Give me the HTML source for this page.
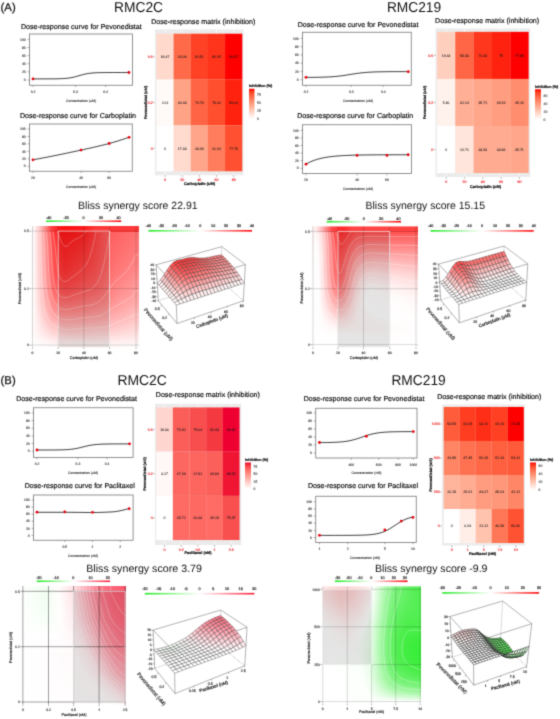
<!DOCTYPE html><html><head><meta charset="utf-8"><style>html,body{margin:0;padding:0;background:#fff;width:560px;height:719px;overflow:hidden}svg{display:block;font-family:"Liberation Sans",sans-serif;will-change:transform;text-rendering:geometricPrecision}</style></head><body><svg width="560" height="719" viewBox="0 0 560 719"><defs><linearGradient id="g0" x1="0" y1="0" x2="0" y2="1"><stop offset="0" stop-color="#ff0000"/><stop offset="0.1" stop-color="#ff3e22"/><stop offset="0.2" stop-color="#ff5b3a"/><stop offset="0.3" stop-color="#ff7352"/><stop offset="0.4" stop-color="#ff8969"/><stop offset="0.5" stop-color="#ff9e81"/><stop offset="0.6" stop-color="#ffb299"/><stop offset="0.7" stop-color="#ffc6b2"/><stop offset="0.8" stop-color="#ffd9cb"/><stop offset="0.9" stop-color="#ffece5"/><stop offset="1" stop-color="#ffffff"/></linearGradient><linearGradient id="g1" x1="0" y1="0" x2="0" y2="1"><stop offset="0" stop-color="#ff0000"/><stop offset="0.1" stop-color="#ff3e22"/><stop offset="0.2" stop-color="#ff5b3a"/><stop offset="0.3" stop-color="#ff7352"/><stop offset="0.4" stop-color="#ff8969"/><stop offset="0.5" stop-color="#ff9e81"/><stop offset="0.6" stop-color="#ffb299"/><stop offset="0.7" stop-color="#ffc6b2"/><stop offset="0.8" stop-color="#ffd9cb"/><stop offset="0.9" stop-color="#ffece5"/><stop offset="1" stop-color="#ffffff"/></linearGradient><linearGradient id="g2" x1="0" y1="0" x2="0" y2="1"><stop offset="0" stop-color="#ee0030"/><stop offset="0.1" stop-color="#f53b42"/><stop offset="0.2" stop-color="#fa5855"/><stop offset="0.3" stop-color="#ff7169"/><stop offset="0.4" stop-color="#ff877d"/><stop offset="0.5" stop-color="#ff9c91"/><stop offset="0.6" stop-color="#ffb0a7"/><stop offset="0.7" stop-color="#ffc4bc"/><stop offset="0.8" stop-color="#ffd8d2"/><stop offset="0.9" stop-color="#ffebe8"/><stop offset="1" stop-color="#ffffff"/></linearGradient><linearGradient id="g3" x1="0" y1="0" x2="0" y2="1"><stop offset="0" stop-color="#ff0000"/><stop offset="0.1" stop-color="#ff3e22"/><stop offset="0.2" stop-color="#ff5b3a"/><stop offset="0.3" stop-color="#ff7352"/><stop offset="0.4" stop-color="#ff8969"/><stop offset="0.5" stop-color="#ff9e81"/><stop offset="0.6" stop-color="#ffb299"/><stop offset="0.7" stop-color="#ffc6b2"/><stop offset="0.8" stop-color="#ffd9cb"/><stop offset="0.9" stop-color="#ffece5"/><stop offset="1" stop-color="#ffffff"/></linearGradient><linearGradient id="lb4" x1="0" x2="1" y1="0" y2="0"><stop offset="0%" stop-color="#1eea1e"/><stop offset="2.5%" stop-color="#29eb29"/><stop offset="5%" stop-color="#34ec34"/><stop offset="7.5%" stop-color="#40ed40"/><stop offset="10%" stop-color="#4bee4b"/><stop offset="12.5%" stop-color="#56ef56"/><stop offset="15%" stop-color="#62f062"/><stop offset="17.5%" stop-color="#6df16d"/><stop offset="20%" stop-color="#78f278"/><stop offset="22.5%" stop-color="#83f383"/><stop offset="25%" stop-color="#8ef48e"/><stop offset="27.5%" stop-color="#9af69a"/><stop offset="30%" stop-color="#a5f7a5"/><stop offset="32.5%" stop-color="#b0f8b0"/><stop offset="35%" stop-color="#bcf9bc"/><stop offset="37.5%" stop-color="#c7fac7"/><stop offset="40%" stop-color="#d2fbd2"/><stop offset="42.5%" stop-color="#ddfcdd"/><stop offset="45%" stop-color="#e8fde8"/><stop offset="47.5%" stop-color="#f4fef4"/><stop offset="50%" stop-color="#ffffff"/><stop offset="52.5%" stop-color="#fff2f2"/><stop offset="55%" stop-color="#ffe5e5"/><stop offset="57.5%" stop-color="#ffd9d9"/><stop offset="60%" stop-color="#ffcccc"/><stop offset="62.5%" stop-color="#ffbfbf"/><stop offset="65%" stop-color="#ffb2b2"/><stop offset="67.5%" stop-color="#ffa6a6"/><stop offset="70%" stop-color="#ff9999"/><stop offset="72.5%" stop-color="#ff8c8c"/><stop offset="75%" stop-color="#ff8080"/><stop offset="77.5%" stop-color="#ff7373"/><stop offset="80%" stop-color="#ff6666"/><stop offset="82.5%" stop-color="#ff5959"/><stop offset="85%" stop-color="#ff4c4c"/><stop offset="87.5%" stop-color="#ff4040"/><stop offset="90%" stop-color="#ff3333"/><stop offset="92.5%" stop-color="#ff2626"/><stop offset="95%" stop-color="#ff1a1a"/><stop offset="97.5%" stop-color="#ff0d0d"/><stop offset="100%" stop-color="#ff0000"/></linearGradient><clipPath id="c5"><rect x="31" y="226" width="108" height="121.5"/></clipPath><linearGradient id="r6" gradientUnits="userSpaceOnUse" x1="31" x2="139" y1="0" y2="0"><stop offset="0%" stop-color="#ffffff"/><stop offset="2.8%" stop-color="#fff7f7"/><stop offset="7.4%" stop-color="#ffcfcf"/><stop offset="14.8%" stop-color="#ff7878"/><stop offset="19.4%" stop-color="#ff3939"/><stop offset="21.3%" stop-color="#ff3737"/><stop offset="25.9%" stop-color="#ff1a1a"/><stop offset="31.5%" stop-color="#ff1212"/><stop offset="50%" stop-color="#ff1d1d"/><stop offset="59.3%" stop-color="#ff3939"/><stop offset="100%" stop-color="#ff3939"/></linearGradient><linearGradient id="r7" gradientUnits="userSpaceOnUse" x1="31" x2="139" y1="0" y2="0"><stop offset="0%" stop-color="#ffffff"/><stop offset="2.8%" stop-color="#fff7f7"/><stop offset="7.4%" stop-color="#ffcfcf"/><stop offset="14.8%" stop-color="#ff7878"/><stop offset="19.4%" stop-color="#ff3939"/><stop offset="21.3%" stop-color="#ff3737"/><stop offset="25.9%" stop-color="#ff1a1a"/><stop offset="31.5%" stop-color="#ff1212"/><stop offset="50%" stop-color="#ff1d1d"/><stop offset="59.3%" stop-color="#ff3939"/><stop offset="100%" stop-color="#ff3939"/></linearGradient><linearGradient id="r8" gradientUnits="userSpaceOnUse" x1="31" x2="139" y1="0" y2="0"><stop offset="0%" stop-color="#ffffff"/><stop offset="2.8%" stop-color="#fff7f7"/><stop offset="7.4%" stop-color="#ffcfcf"/><stop offset="14.8%" stop-color="#ff7878"/><stop offset="19.4%" stop-color="#ff3939"/><stop offset="21.3%" stop-color="#ff3737"/><stop offset="25.9%" stop-color="#ff1a1a"/><stop offset="31.5%" stop-color="#ff1212"/><stop offset="50%" stop-color="#ff1d1d"/><stop offset="59.3%" stop-color="#ff3939"/><stop offset="100%" stop-color="#ff3939"/></linearGradient><linearGradient id="r9" gradientUnits="userSpaceOnUse" x1="31" x2="139" y1="0" y2="0"><stop offset="0%" stop-color="#ffffff"/><stop offset="2.8%" stop-color="#fff7f7"/><stop offset="8.3%" stop-color="#ffc6c6"/><stop offset="20.4%" stop-color="#ff4242"/><stop offset="25%" stop-color="#ff2121"/><stop offset="29.6%" stop-color="#ff1414"/><stop offset="50%" stop-color="#ff2020"/><stop offset="68.5%" stop-color="#ff5858"/><stop offset="82.4%" stop-color="#ff6868"/><stop offset="100%" stop-color="#ff7474"/></linearGradient><linearGradient id="r10" gradientUnits="userSpaceOnUse" x1="31" x2="139" y1="0" y2="0"><stop offset="0%" stop-color="#ffffff"/><stop offset="2.8%" stop-color="#fff7f7"/><stop offset="8.3%" stop-color="#ffc7c7"/><stop offset="20.4%" stop-color="#ff4545"/><stop offset="25%" stop-color="#ff2323"/><stop offset="29.6%" stop-color="#ff1717"/><stop offset="50%" stop-color="#ff2323"/><stop offset="69.4%" stop-color="#ff5a5a"/><stop offset="85.2%" stop-color="#ff6b6b"/><stop offset="100%" stop-color="#ff7474"/></linearGradient><linearGradient id="r11" gradientUnits="userSpaceOnUse" x1="31" x2="139" y1="0" y2="0"><stop offset="0%" stop-color="#ffffff"/><stop offset="2.8%" stop-color="#fff7f7"/><stop offset="8.3%" stop-color="#ffc7c7"/><stop offset="20.4%" stop-color="#ff4747"/><stop offset="25%" stop-color="#ff2626"/><stop offset="29.6%" stop-color="#ff1919"/><stop offset="50%" stop-color="#ff2525"/><stop offset="69.4%" stop-color="#ff5b5b"/><stop offset="86.1%" stop-color="#ff6c6c"/><stop offset="100%" stop-color="#ff7575"/></linearGradient><linearGradient id="r12" gradientUnits="userSpaceOnUse" x1="31" x2="139" y1="0" y2="0"><stop offset="0%" stop-color="#ffffff"/><stop offset="2.8%" stop-color="#fff7f7"/><stop offset="8.3%" stop-color="#ffc8c8"/><stop offset="20.4%" stop-color="#ff4949"/><stop offset="25%" stop-color="#ff2828"/><stop offset="29.6%" stop-color="#ff1b1b"/><stop offset="49.1%" stop-color="#ff2626"/><stop offset="71.3%" stop-color="#ff5f5f"/><stop offset="98.1%" stop-color="#ff7676"/><stop offset="100%" stop-color="#ff7676"/></linearGradient><linearGradient id="r13" gradientUnits="userSpaceOnUse" x1="31" x2="139" y1="0" y2="0"><stop offset="0%" stop-color="#ffffff"/><stop offset="2.8%" stop-color="#fff7f7"/><stop offset="8.3%" stop-color="#ffc8c8"/><stop offset="20.4%" stop-color="#ff4b4b"/><stop offset="25%" stop-color="#ff2a2a"/><stop offset="29.6%" stop-color="#ff1d1d"/><stop offset="49.1%" stop-color="#ff2828"/><stop offset="71.3%" stop-color="#ff5f5f"/><stop offset="98.1%" stop-color="#ff7777"/><stop offset="100%" stop-color="#ff7777"/></linearGradient><linearGradient id="r14" gradientUnits="userSpaceOnUse" x1="31" x2="139" y1="0" y2="0"><stop offset="0%" stop-color="#ffffff"/><stop offset="2.8%" stop-color="#fff7f7"/><stop offset="8.3%" stop-color="#ffc8c8"/><stop offset="20.4%" stop-color="#ff4c4c"/><stop offset="25%" stop-color="#ff2c2c"/><stop offset="29.6%" stop-color="#ff1f1f"/><stop offset="47.2%" stop-color="#ff2828"/><stop offset="61.1%" stop-color="#ff4949"/><stop offset="75.9%" stop-color="#ff6666"/><stop offset="100%" stop-color="#ff7878"/></linearGradient><linearGradient id="r15" gradientUnits="userSpaceOnUse" x1="31" x2="139" y1="0" y2="0"><stop offset="0%" stop-color="#ffffff"/><stop offset="2.8%" stop-color="#fff7f7"/><stop offset="8.3%" stop-color="#ffc9c9"/><stop offset="20.4%" stop-color="#ff4e4e"/><stop offset="25%" stop-color="#ff2e2e"/><stop offset="30.6%" stop-color="#ff1f1f"/><stop offset="50%" stop-color="#ff2e2e"/><stop offset="73.1%" stop-color="#ff6363"/><stop offset="100%" stop-color="#ff7a7a"/></linearGradient><linearGradient id="r16" gradientUnits="userSpaceOnUse" x1="31" x2="139" y1="0" y2="0"><stop offset="0%" stop-color="#ffffff"/><stop offset="2.8%" stop-color="#fff7f7"/><stop offset="9.3%" stop-color="#ffc0c0"/><stop offset="20.4%" stop-color="#ff4f4f"/><stop offset="25%" stop-color="#ff3030"/><stop offset="30.6%" stop-color="#ff2121"/><stop offset="50%" stop-color="#ff3030"/><stop offset="74.1%" stop-color="#ff6565"/><stop offset="100%" stop-color="#ff7b7b"/></linearGradient><linearGradient id="r17" gradientUnits="userSpaceOnUse" x1="31" x2="139" y1="0" y2="0"><stop offset="0%" stop-color="#ffffff"/><stop offset="2.8%" stop-color="#fff7f7"/><stop offset="9.3%" stop-color="#ffc0c0"/><stop offset="20.4%" stop-color="#ff5151"/><stop offset="25%" stop-color="#ff3131"/><stop offset="30.6%" stop-color="#ff2222"/><stop offset="49.1%" stop-color="#ff3030"/><stop offset="75%" stop-color="#ff6767"/><stop offset="100%" stop-color="#ff7c7c"/></linearGradient><linearGradient id="r18" gradientUnits="userSpaceOnUse" x1="31" x2="139" y1="0" y2="0"><stop offset="0%" stop-color="#ffffff"/><stop offset="2.8%" stop-color="#fff7f7"/><stop offset="9.3%" stop-color="#ffc1c1"/><stop offset="20.4%" stop-color="#ff5252"/><stop offset="25%" stop-color="#ff3232"/><stop offset="30.6%" stop-color="#ff2424"/><stop offset="49.1%" stop-color="#ff3232"/><stop offset="75.9%" stop-color="#ff6969"/><stop offset="100%" stop-color="#ff7d7d"/></linearGradient><linearGradient id="r19" gradientUnits="userSpaceOnUse" x1="31" x2="139" y1="0" y2="0"><stop offset="0%" stop-color="#ffffff"/><stop offset="2.8%" stop-color="#fff7f7"/><stop offset="9.3%" stop-color="#ffc1c1"/><stop offset="20.4%" stop-color="#ff5353"/><stop offset="25.9%" stop-color="#ff3030"/><stop offset="31.5%" stop-color="#ff2525"/><stop offset="50.9%" stop-color="#ff3737"/><stop offset="75.9%" stop-color="#ff6a6a"/><stop offset="100%" stop-color="#ff7e7e"/></linearGradient><linearGradient id="r20" gradientUnits="userSpaceOnUse" x1="31" x2="139" y1="0" y2="0"><stop offset="0%" stop-color="#ffffff"/><stop offset="2.8%" stop-color="#fff7f7"/><stop offset="9.3%" stop-color="#ffc1c1"/><stop offset="20.4%" stop-color="#ff5454"/><stop offset="25.9%" stop-color="#ff3131"/><stop offset="31.5%" stop-color="#ff2626"/><stop offset="50.9%" stop-color="#ff3838"/><stop offset="76.9%" stop-color="#ff6c6c"/><stop offset="100%" stop-color="#ff8080"/></linearGradient><linearGradient id="r21" gradientUnits="userSpaceOnUse" x1="31" x2="139" y1="0" y2="0"><stop offset="0%" stop-color="#ffffff"/><stop offset="2.8%" stop-color="#fff7f7"/><stop offset="9.3%" stop-color="#ffc2c2"/><stop offset="20.4%" stop-color="#ff5555"/><stop offset="25.9%" stop-color="#ff3232"/><stop offset="31.5%" stop-color="#ff2727"/><stop offset="51.9%" stop-color="#ff3b3b"/><stop offset="76.9%" stop-color="#ff6d6d"/><stop offset="100%" stop-color="#ff8181"/></linearGradient><linearGradient id="r22" gradientUnits="userSpaceOnUse" x1="31" x2="139" y1="0" y2="0"><stop offset="0%" stop-color="#ffffff"/><stop offset="2.8%" stop-color="#fff7f7"/><stop offset="9.3%" stop-color="#ffc2c2"/><stop offset="20.4%" stop-color="#ff5656"/><stop offset="25.9%" stop-color="#ff3333"/><stop offset="31.5%" stop-color="#ff2929"/><stop offset="52.8%" stop-color="#ff3e3e"/><stop offset="76.9%" stop-color="#ff6e6e"/><stop offset="100%" stop-color="#ff8282"/></linearGradient><linearGradient id="r23" gradientUnits="userSpaceOnUse" x1="31" x2="139" y1="0" y2="0"><stop offset="0%" stop-color="#ffffff"/><stop offset="2.8%" stop-color="#fff7f7"/><stop offset="9.3%" stop-color="#ffc3c3"/><stop offset="20.4%" stop-color="#ff5757"/><stop offset="25.9%" stop-color="#ff3535"/><stop offset="31.5%" stop-color="#ff2a2a"/><stop offset="53.7%" stop-color="#ff4141"/><stop offset="77.8%" stop-color="#ff7070"/><stop offset="100%" stop-color="#ff8484"/></linearGradient><linearGradient id="r24" gradientUnits="userSpaceOnUse" x1="31" x2="139" y1="0" y2="0"><stop offset="0%" stop-color="#ffffff"/><stop offset="2.8%" stop-color="#fff7f7"/><stop offset="9.3%" stop-color="#ffc3c3"/><stop offset="20.4%" stop-color="#ff5858"/><stop offset="25.9%" stop-color="#ff3636"/><stop offset="31.5%" stop-color="#ff2c2c"/><stop offset="54.6%" stop-color="#ff4444"/><stop offset="77.8%" stop-color="#ff7171"/><stop offset="100%" stop-color="#ff8585"/></linearGradient><linearGradient id="r25" gradientUnits="userSpaceOnUse" x1="31" x2="139" y1="0" y2="0"><stop offset="0%" stop-color="#ffffff"/><stop offset="2.8%" stop-color="#fff7f7"/><stop offset="9.3%" stop-color="#ffc3c3"/><stop offset="20.4%" stop-color="#ff5959"/><stop offset="25.9%" stop-color="#ff3737"/><stop offset="31.5%" stop-color="#ff2d2d"/><stop offset="55.6%" stop-color="#ff4747"/><stop offset="77.8%" stop-color="#ff7272"/><stop offset="100%" stop-color="#ff8787"/></linearGradient><linearGradient id="r26" gradientUnits="userSpaceOnUse" x1="31" x2="139" y1="0" y2="0"><stop offset="0%" stop-color="#ffffff"/><stop offset="2.8%" stop-color="#fff7f7"/><stop offset="9.3%" stop-color="#ffc4c4"/><stop offset="20.4%" stop-color="#ff5a5a"/><stop offset="25.9%" stop-color="#ff3939"/><stop offset="31.5%" stop-color="#ff2f2f"/><stop offset="56.5%" stop-color="#ff4a4a"/><stop offset="77.8%" stop-color="#ff7474"/><stop offset="100%" stop-color="#ff8888"/></linearGradient><linearGradient id="r27" gradientUnits="userSpaceOnUse" x1="31" x2="139" y1="0" y2="0"><stop offset="0%" stop-color="#ffffff"/><stop offset="2.8%" stop-color="#fff8f8"/><stop offset="9.3%" stop-color="#ffc4c4"/><stop offset="20.4%" stop-color="#ff5b5b"/><stop offset="25.9%" stop-color="#ff3a3a"/><stop offset="31.5%" stop-color="#ff3131"/><stop offset="57.4%" stop-color="#ff4d4d"/><stop offset="77.8%" stop-color="#ff7575"/><stop offset="100%" stop-color="#ff8a8a"/></linearGradient><linearGradient id="r28" gradientUnits="userSpaceOnUse" x1="31" x2="139" y1="0" y2="0"><stop offset="0%" stop-color="#ffffff"/><stop offset="2.8%" stop-color="#fff8f8"/><stop offset="9.3%" stop-color="#ffc5c5"/><stop offset="20.4%" stop-color="#ff5d5d"/><stop offset="25.9%" stop-color="#ff3c3c"/><stop offset="31.5%" stop-color="#ff3333"/><stop offset="58.3%" stop-color="#ff5050"/><stop offset="77.8%" stop-color="#ff7676"/><stop offset="100%" stop-color="#ff8c8c"/></linearGradient><linearGradient id="r29" gradientUnits="userSpaceOnUse" x1="31" x2="139" y1="0" y2="0"><stop offset="0%" stop-color="#ffffff"/><stop offset="2.8%" stop-color="#fff8f8"/><stop offset="9.3%" stop-color="#ffc5c5"/><stop offset="20.4%" stop-color="#ff5e5e"/><stop offset="25.9%" stop-color="#ff3e3e"/><stop offset="31.5%" stop-color="#ff3535"/><stop offset="59.3%" stop-color="#ff5353"/><stop offset="77.8%" stop-color="#ff7878"/><stop offset="100%" stop-color="#ff8d8d"/></linearGradient><linearGradient id="r30" gradientUnits="userSpaceOnUse" x1="31" x2="139" y1="0" y2="0"><stop offset="0%" stop-color="#ffffff"/><stop offset="2.8%" stop-color="#fff8f8"/><stop offset="9.3%" stop-color="#ffc6c6"/><stop offset="20.4%" stop-color="#ff5f5f"/><stop offset="25.9%" stop-color="#ff3f3f"/><stop offset="31.5%" stop-color="#ff3737"/><stop offset="59.3%" stop-color="#ff5555"/><stop offset="77.8%" stop-color="#ff7979"/><stop offset="96.3%" stop-color="#ff8d8d"/><stop offset="100%" stop-color="#ff8f8f"/></linearGradient><linearGradient id="r31" gradientUnits="userSpaceOnUse" x1="31" x2="139" y1="0" y2="0"><stop offset="0%" stop-color="#ffffff"/><stop offset="2.8%" stop-color="#fff8f8"/><stop offset="9.3%" stop-color="#ffc6c6"/><stop offset="20.4%" stop-color="#ff6161"/><stop offset="25.9%" stop-color="#ff4141"/><stop offset="31.5%" stop-color="#ff3a3a"/><stop offset="60.2%" stop-color="#ff5858"/><stop offset="77.8%" stop-color="#ff7b7b"/><stop offset="96.3%" stop-color="#ff8f8f"/><stop offset="100%" stop-color="#ff9191"/></linearGradient><linearGradient id="r32" gradientUnits="userSpaceOnUse" x1="31" x2="139" y1="0" y2="0"><stop offset="0%" stop-color="#ffffff"/><stop offset="2.8%" stop-color="#fff8f8"/><stop offset="9.3%" stop-color="#ffc7c7"/><stop offset="20.4%" stop-color="#ff6363"/><stop offset="25.9%" stop-color="#ff4444"/><stop offset="31.5%" stop-color="#ff3c3c"/><stop offset="60.2%" stop-color="#ff5a5a"/><stop offset="77.8%" stop-color="#ff7d7d"/><stop offset="96.3%" stop-color="#ff9191"/><stop offset="100%" stop-color="#ff9393"/></linearGradient><linearGradient id="r33" gradientUnits="userSpaceOnUse" x1="31" x2="139" y1="0" y2="0"><stop offset="0%" stop-color="#ffffff"/><stop offset="2.8%" stop-color="#fff8f8"/><stop offset="9.3%" stop-color="#ffc7c7"/><stop offset="20.4%" stop-color="#ff6565"/><stop offset="25.9%" stop-color="#ff4646"/><stop offset="31.5%" stop-color="#ff3f3f"/><stop offset="61.1%" stop-color="#ff5d5d"/><stop offset="77.8%" stop-color="#ff7f7f"/><stop offset="96.3%" stop-color="#ff9393"/><stop offset="100%" stop-color="#ff9595"/></linearGradient><linearGradient id="r34" gradientUnits="userSpaceOnUse" x1="31" x2="139" y1="0" y2="0"><stop offset="0%" stop-color="#ffffff"/><stop offset="2.8%" stop-color="#fff8f8"/><stop offset="9.3%" stop-color="#ffc8c8"/><stop offset="20.4%" stop-color="#ff6767"/><stop offset="25.9%" stop-color="#ff4949"/><stop offset="31.5%" stop-color="#ff4242"/><stop offset="61.1%" stop-color="#ff6060"/><stop offset="77.8%" stop-color="#ff8080"/><stop offset="96.3%" stop-color="#ff9595"/><stop offset="100%" stop-color="#ff9797"/></linearGradient><linearGradient id="r35" gradientUnits="userSpaceOnUse" x1="31" x2="139" y1="0" y2="0"><stop offset="0%" stop-color="#ffffff"/><stop offset="2.8%" stop-color="#fff8f8"/><stop offset="9.3%" stop-color="#ffc8c8"/><stop offset="20.4%" stop-color="#ff6969"/><stop offset="25.9%" stop-color="#ff4c4c"/><stop offset="32.4%" stop-color="#ff4545"/><stop offset="61.1%" stop-color="#ff6262"/><stop offset="77.8%" stop-color="#ff8383"/><stop offset="96.3%" stop-color="#ff9797"/><stop offset="100%" stop-color="#ff9999"/></linearGradient><linearGradient id="r36" gradientUnits="userSpaceOnUse" x1="31" x2="139" y1="0" y2="0"><stop offset="0%" stop-color="#ffffff"/><stop offset="2.8%" stop-color="#fff8f8"/><stop offset="10.2%" stop-color="#ffc1c1"/><stop offset="20.4%" stop-color="#ff6c6c"/><stop offset="25.9%" stop-color="#ff4f4f"/><stop offset="32.4%" stop-color="#ff4949"/><stop offset="61.1%" stop-color="#ff6464"/><stop offset="77.8%" stop-color="#ff8585"/><stop offset="96.3%" stop-color="#ff9999"/><stop offset="100%" stop-color="#ff9b9b"/></linearGradient><linearGradient id="r37" gradientUnits="userSpaceOnUse" x1="31" x2="139" y1="0" y2="0"><stop offset="0%" stop-color="#ffffff"/><stop offset="2.8%" stop-color="#fff8f8"/><stop offset="10.2%" stop-color="#ffc2c2"/><stop offset="20.4%" stop-color="#ff6f6f"/><stop offset="25.9%" stop-color="#ff5353"/><stop offset="32.4%" stop-color="#ff4d4d"/><stop offset="62%" stop-color="#ff6969"/><stop offset="78.7%" stop-color="#ff8888"/><stop offset="96.3%" stop-color="#ff9b9b"/><stop offset="100%" stop-color="#ff9d9d"/></linearGradient><linearGradient id="r38" gradientUnits="userSpaceOnUse" x1="31" x2="139" y1="0" y2="0"><stop offset="0%" stop-color="#ffffff"/><stop offset="2.8%" stop-color="#fff8f8"/><stop offset="10.2%" stop-color="#ffc3c3"/><stop offset="20.4%" stop-color="#ff7272"/><stop offset="25.9%" stop-color="#ff5757"/><stop offset="32.4%" stop-color="#ff5151"/><stop offset="62%" stop-color="#ff6c6c"/><stop offset="78.7%" stop-color="#ff8a8a"/><stop offset="96.3%" stop-color="#ff9e9e"/><stop offset="100%" stop-color="#ffa0a0"/></linearGradient><linearGradient id="r39" gradientUnits="userSpaceOnUse" x1="31" x2="139" y1="0" y2="0"><stop offset="0%" stop-color="#ffffff"/><stop offset="2.8%" stop-color="#fff8f8"/><stop offset="11.1%" stop-color="#ffbcbc"/><stop offset="20.4%" stop-color="#ff7575"/><stop offset="25.9%" stop-color="#ff5b5b"/><stop offset="32.4%" stop-color="#ff5555"/><stop offset="62%" stop-color="#ff6f6f"/><stop offset="78.7%" stop-color="#ff8d8d"/><stop offset="100%" stop-color="#ffa2a2"/></linearGradient><linearGradient id="r40" gradientUnits="userSpaceOnUse" x1="31" x2="139" y1="0" y2="0"><stop offset="0%" stop-color="#ffffff"/><stop offset="2.8%" stop-color="#fff8f8"/><stop offset="11.1%" stop-color="#ffbebe"/><stop offset="21.3%" stop-color="#ff7373"/><stop offset="26.9%" stop-color="#ff5d5d"/><stop offset="34.3%" stop-color="#ff5b5b"/><stop offset="63%" stop-color="#ff7373"/><stop offset="79.6%" stop-color="#ff9090"/><stop offset="100%" stop-color="#ffa4a4"/></linearGradient><linearGradient id="r41" gradientUnits="userSpaceOnUse" x1="31" x2="139" y1="0" y2="0"><stop offset="0%" stop-color="#ffffff"/><stop offset="2.8%" stop-color="#fff8f8"/><stop offset="12%" stop-color="#ffb8b8"/><stop offset="21.3%" stop-color="#ff7777"/><stop offset="26.9%" stop-color="#ff6262"/><stop offset="34.3%" stop-color="#ff5f5f"/><stop offset="63%" stop-color="#ff7777"/><stop offset="79.6%" stop-color="#ff9393"/><stop offset="100%" stop-color="#ffa7a7"/></linearGradient><linearGradient id="r42" gradientUnits="userSpaceOnUse" x1="31" x2="139" y1="0" y2="0"><stop offset="0%" stop-color="#ffffff"/><stop offset="2.8%" stop-color="#fff8f8"/><stop offset="13.9%" stop-color="#ffacac"/><stop offset="22.2%" stop-color="#ff7676"/><stop offset="27.8%" stop-color="#ff6565"/><stop offset="37%" stop-color="#ff6666"/><stop offset="63%" stop-color="#ff7a7a"/><stop offset="80.6%" stop-color="#ff9797"/><stop offset="100%" stop-color="#ffa9a9"/></linearGradient><linearGradient id="r43" gradientUnits="userSpaceOnUse" x1="31" x2="139" y1="0" y2="0"><stop offset="0%" stop-color="#ffffff"/><stop offset="2.8%" stop-color="#fff8f8"/><stop offset="21.3%" stop-color="#ff7f7f"/><stop offset="27.8%" stop-color="#ff6a6a"/><stop offset="38%" stop-color="#ff6c6c"/><stop offset="63.9%" stop-color="#ff8080"/><stop offset="81.5%" stop-color="#ff9a9a"/><stop offset="100%" stop-color="#ffacac"/></linearGradient><linearGradient id="r44" gradientUnits="userSpaceOnUse" x1="31" x2="139" y1="0" y2="0"><stop offset="0%" stop-color="#ffffff"/><stop offset="2.8%" stop-color="#fff8f8"/><stop offset="21.3%" stop-color="#ff8484"/><stop offset="27.8%" stop-color="#ff7070"/><stop offset="38%" stop-color="#ff7171"/><stop offset="63.9%" stop-color="#ff8383"/><stop offset="83.3%" stop-color="#ff9f9f"/><stop offset="100%" stop-color="#ffaeae"/></linearGradient><linearGradient id="r45" gradientUnits="userSpaceOnUse" x1="31" x2="139" y1="0" y2="0"><stop offset="0%" stop-color="#ffffff"/><stop offset="2.8%" stop-color="#fff8f8"/><stop offset="20.4%" stop-color="#ff8d8d"/><stop offset="26.9%" stop-color="#ff7777"/><stop offset="36.1%" stop-color="#ff7575"/><stop offset="64.8%" stop-color="#ff8989"/><stop offset="85.2%" stop-color="#ffa4a4"/><stop offset="100%" stop-color="#ffb1b1"/></linearGradient><linearGradient id="r46" gradientUnits="userSpaceOnUse" x1="31" x2="139" y1="0" y2="0"><stop offset="0%" stop-color="#ffffff"/><stop offset="2.8%" stop-color="#fff8f8"/><stop offset="20.4%" stop-color="#ff9292"/><stop offset="26.9%" stop-color="#ff7c7c"/><stop offset="36.1%" stop-color="#ff7a7a"/><stop offset="64.8%" stop-color="#ff8d8d"/><stop offset="87%" stop-color="#ffa9a9"/><stop offset="100%" stop-color="#ffb4b4"/></linearGradient><linearGradient id="r47" gradientUnits="userSpaceOnUse" x1="31" x2="139" y1="0" y2="0"><stop offset="0%" stop-color="#ffffff"/><stop offset="2.8%" stop-color="#fff8f8"/><stop offset="20.4%" stop-color="#ff9797"/><stop offset="27.8%" stop-color="#ff8181"/><stop offset="38.9%" stop-color="#ff8181"/><stop offset="65.7%" stop-color="#ff9292"/><stop offset="90.7%" stop-color="#ffb0b0"/><stop offset="100%" stop-color="#ffb7b7"/></linearGradient><linearGradient id="r48" gradientUnits="userSpaceOnUse" x1="31" x2="139" y1="0" y2="0"><stop offset="0%" stop-color="#ffffff"/><stop offset="2.8%" stop-color="#fff8f8"/><stop offset="20.4%" stop-color="#ff9b9b"/><stop offset="27.8%" stop-color="#ff8787"/><stop offset="39.8%" stop-color="#ff8787"/><stop offset="65.7%" stop-color="#ff9797"/><stop offset="97.2%" stop-color="#ffbaba"/><stop offset="100%" stop-color="#ffbaba"/></linearGradient><linearGradient id="r49" gradientUnits="userSpaceOnUse" x1="31" x2="139" y1="0" y2="0"><stop offset="0%" stop-color="#ffffff"/><stop offset="2.8%" stop-color="#fff8f8"/><stop offset="20.4%" stop-color="#ffa0a0"/><stop offset="27.8%" stop-color="#ff8d8d"/><stop offset="39.8%" stop-color="#ff8d8d"/><stop offset="66.7%" stop-color="#ff9c9c"/><stop offset="97.2%" stop-color="#ffbdbd"/><stop offset="100%" stop-color="#ffbdbd"/></linearGradient><linearGradient id="r50" gradientUnits="userSpaceOnUse" x1="31" x2="139" y1="0" y2="0"><stop offset="0%" stop-color="#ffffff"/><stop offset="2.8%" stop-color="#fff8f8"/><stop offset="19.4%" stop-color="#ffa9a9"/><stop offset="27.8%" stop-color="#ff9393"/><stop offset="39.8%" stop-color="#ff9393"/><stop offset="67.6%" stop-color="#ffa2a2"/><stop offset="98.1%" stop-color="#ffc0c0"/><stop offset="100%" stop-color="#ffc0c0"/></linearGradient><linearGradient id="r51" gradientUnits="userSpaceOnUse" x1="31" x2="139" y1="0" y2="0"><stop offset="0%" stop-color="#ffffff"/><stop offset="2.8%" stop-color="#fff9f9"/><stop offset="19.4%" stop-color="#ffaeae"/><stop offset="28.7%" stop-color="#ff9999"/><stop offset="43.5%" stop-color="#ff9b9b"/><stop offset="67.6%" stop-color="#ffa6a6"/><stop offset="98.1%" stop-color="#ffc3c3"/><stop offset="100%" stop-color="#ffc3c3"/></linearGradient><linearGradient id="r52" gradientUnits="userSpaceOnUse" x1="31" x2="139" y1="0" y2="0"><stop offset="0%" stop-color="#ffffff"/><stop offset="2.8%" stop-color="#fff9f9"/><stop offset="18.5%" stop-color="#ffb6b6"/><stop offset="27.8%" stop-color="#ffa0a0"/><stop offset="40.7%" stop-color="#ff9f9f"/><stop offset="68.5%" stop-color="#ffacac"/><stop offset="98.1%" stop-color="#ffc6c6"/><stop offset="100%" stop-color="#ffc6c6"/></linearGradient><linearGradient id="r53" gradientUnits="userSpaceOnUse" x1="31" x2="139" y1="0" y2="0"><stop offset="0%" stop-color="#ffffff"/><stop offset="2.8%" stop-color="#fff9f9"/><stop offset="18.5%" stop-color="#ffbbbb"/><stop offset="28.7%" stop-color="#ffa6a6"/><stop offset="43.5%" stop-color="#ffa7a7"/><stop offset="69.4%" stop-color="#ffb2b2"/><stop offset="98.1%" stop-color="#ffcaca"/><stop offset="100%" stop-color="#ffcaca"/></linearGradient><linearGradient id="r54" gradientUnits="userSpaceOnUse" x1="31" x2="139" y1="0" y2="0"><stop offset="0%" stop-color="#ffffff"/><stop offset="3.7%" stop-color="#fff5f5"/><stop offset="18.5%" stop-color="#ffc0c0"/><stop offset="29.6%" stop-color="#ffacac"/><stop offset="46.3%" stop-color="#ffaeae"/><stop offset="70.4%" stop-color="#ffb7b7"/><stop offset="97.2%" stop-color="#ffcdcd"/><stop offset="100%" stop-color="#ffcdcd"/></linearGradient><linearGradient id="r55" gradientUnits="userSpaceOnUse" x1="31" x2="139" y1="0" y2="0"><stop offset="0%" stop-color="#ffffff"/><stop offset="3.7%" stop-color="#fff6f6"/><stop offset="18.5%" stop-color="#ffc5c5"/><stop offset="30.6%" stop-color="#ffb2b2"/><stop offset="67.6%" stop-color="#ffbaba"/><stop offset="97.2%" stop-color="#ffd1d1"/><stop offset="100%" stop-color="#ffd1d1"/></linearGradient><linearGradient id="r56" gradientUnits="userSpaceOnUse" x1="31" x2="139" y1="0" y2="0"><stop offset="0%" stop-color="#ffffff"/><stop offset="3.7%" stop-color="#fff6f6"/><stop offset="18.5%" stop-color="#ffcaca"/><stop offset="31.5%" stop-color="#ffb8b8"/><stop offset="71.3%" stop-color="#ffc2c2"/><stop offset="97.2%" stop-color="#ffd4d4"/><stop offset="100%" stop-color="#ffd4d4"/></linearGradient><linearGradient id="r57" gradientUnits="userSpaceOnUse" x1="31" x2="139" y1="0" y2="0"><stop offset="0%" stop-color="#ffffff"/><stop offset="4.6%" stop-color="#fff3f3"/><stop offset="19.4%" stop-color="#ffcdcd"/><stop offset="34.3%" stop-color="#ffbebe"/><stop offset="73.1%" stop-color="#ffc8c8"/><stop offset="97.2%" stop-color="#ffd8d8"/><stop offset="100%" stop-color="#ffd8d8"/></linearGradient><linearGradient id="r58" gradientUnits="userSpaceOnUse" x1="31" x2="139" y1="0" y2="0"><stop offset="0%" stop-color="#ffffff"/><stop offset="5.6%" stop-color="#fff2f2"/><stop offset="20.4%" stop-color="#ffd1d1"/><stop offset="36.1%" stop-color="#ffc4c4"/><stop offset="75%" stop-color="#ffcfcf"/><stop offset="97.2%" stop-color="#ffdcdc"/><stop offset="100%" stop-color="#ffdcdc"/></linearGradient><linearGradient id="r59" gradientUnits="userSpaceOnUse" x1="31" x2="139" y1="0" y2="0"><stop offset="0%" stop-color="#ffffff"/><stop offset="19.4%" stop-color="#ffd7d7"/><stop offset="37%" stop-color="#ffcbcb"/><stop offset="75.9%" stop-color="#ffd5d5"/><stop offset="97.2%" stop-color="#ffe0e0"/><stop offset="100%" stop-color="#ffe0e0"/></linearGradient><linearGradient id="r60" gradientUnits="userSpaceOnUse" x1="31" x2="139" y1="0" y2="0"><stop offset="0%" stop-color="#ffffff"/><stop offset="19.4%" stop-color="#ffdddd"/><stop offset="38.9%" stop-color="#ffd2d2"/><stop offset="76.9%" stop-color="#ffdada"/><stop offset="97.2%" stop-color="#ffe4e4"/><stop offset="100%" stop-color="#ffe4e4"/></linearGradient><linearGradient id="r61" gradientUnits="userSpaceOnUse" x1="31" x2="139" y1="0" y2="0"><stop offset="0%" stop-color="#ffffff"/><stop offset="20.4%" stop-color="#ffe1e1"/><stop offset="40.7%" stop-color="#ffd9d9"/><stop offset="78.7%" stop-color="#ffe1e1"/><stop offset="99.1%" stop-color="#ffe8e8"/><stop offset="100%" stop-color="#ffe8e8"/></linearGradient><linearGradient id="r62" gradientUnits="userSpaceOnUse" x1="31" x2="139" y1="0" y2="0"><stop offset="0%" stop-color="#ffffff"/><stop offset="21.3%" stop-color="#ffe6e6"/><stop offset="44.4%" stop-color="#ffe1e1"/><stop offset="79.6%" stop-color="#ffe7e7"/><stop offset="100%" stop-color="#ffecec"/></linearGradient><linearGradient id="r63" gradientUnits="userSpaceOnUse" x1="31" x2="139" y1="0" y2="0"><stop offset="0%" stop-color="#ffffff"/><stop offset="24.1%" stop-color="#ffeaea"/><stop offset="75%" stop-color="#ffeaea"/><stop offset="100%" stop-color="#fff0f0"/></linearGradient><linearGradient id="r64" gradientUnits="userSpaceOnUse" x1="31" x2="139" y1="0" y2="0"><stop offset="0%" stop-color="#ffffff"/><stop offset="27.8%" stop-color="#ffefef"/><stop offset="81.5%" stop-color="#fff2f2"/><stop offset="100%" stop-color="#fff4f4"/></linearGradient><linearGradient id="r65" gradientUnits="userSpaceOnUse" x1="31" x2="139" y1="0" y2="0"><stop offset="0%" stop-color="#ffffff"/><stop offset="34.3%" stop-color="#fff5f5"/><stop offset="100%" stop-color="#fff9f9"/></linearGradient><linearGradient id="r66" gradientUnits="userSpaceOnUse" x1="31" x2="139" y1="0" y2="0"><stop offset="0%" stop-color="#ffffff"/><stop offset="34.3%" stop-color="#fff5f5"/><stop offset="100%" stop-color="#fff9f9"/></linearGradient><clipPath id="c67"><rect x="31" y="231.1" width="108" height="116.4"/></clipPath><linearGradient id="lb68" x1="0" x2="1" y1="0" y2="0"><stop offset="0%" stop-color="#1eea1e"/><stop offset="2.5%" stop-color="#29eb29"/><stop offset="5%" stop-color="#34ec34"/><stop offset="7.5%" stop-color="#40ed40"/><stop offset="10%" stop-color="#4bee4b"/><stop offset="12.5%" stop-color="#56ef56"/><stop offset="15%" stop-color="#62f062"/><stop offset="17.5%" stop-color="#6df16d"/><stop offset="20%" stop-color="#78f278"/><stop offset="22.5%" stop-color="#83f383"/><stop offset="25%" stop-color="#8ef48e"/><stop offset="27.5%" stop-color="#9af69a"/><stop offset="30%" stop-color="#a5f7a5"/><stop offset="32.5%" stop-color="#b0f8b0"/><stop offset="35%" stop-color="#bcf9bc"/><stop offset="37.5%" stop-color="#c7fac7"/><stop offset="40%" stop-color="#d2fbd2"/><stop offset="42.5%" stop-color="#ddfcdd"/><stop offset="45%" stop-color="#e8fde8"/><stop offset="47.5%" stop-color="#f4fef4"/><stop offset="50%" stop-color="#ffffff"/><stop offset="52.5%" stop-color="#fff2f2"/><stop offset="55%" stop-color="#ffe5e5"/><stop offset="57.5%" stop-color="#ffd9d9"/><stop offset="60%" stop-color="#ffcccc"/><stop offset="62.5%" stop-color="#ffbfbf"/><stop offset="65%" stop-color="#ffb2b2"/><stop offset="67.5%" stop-color="#ffa6a6"/><stop offset="70%" stop-color="#ff9999"/><stop offset="72.5%" stop-color="#ff8c8c"/><stop offset="75%" stop-color="#ff8080"/><stop offset="77.5%" stop-color="#ff7373"/><stop offset="80%" stop-color="#ff6666"/><stop offset="82.5%" stop-color="#ff5959"/><stop offset="85%" stop-color="#ff4c4c"/><stop offset="87.5%" stop-color="#ff4040"/><stop offset="90%" stop-color="#ff3333"/><stop offset="92.5%" stop-color="#ff2626"/><stop offset="95%" stop-color="#ff1a1a"/><stop offset="97.5%" stop-color="#ff0d0d"/><stop offset="100%" stop-color="#ff0000"/></linearGradient><linearGradient id="lb69" x1="0" x2="1" y1="0" y2="0"><stop offset="0%" stop-color="#1eea1e"/><stop offset="2.5%" stop-color="#29eb29"/><stop offset="5%" stop-color="#34ec34"/><stop offset="7.5%" stop-color="#40ed40"/><stop offset="10%" stop-color="#4bee4b"/><stop offset="12.5%" stop-color="#56ef56"/><stop offset="15%" stop-color="#62f062"/><stop offset="17.5%" stop-color="#6df16d"/><stop offset="20%" stop-color="#78f278"/><stop offset="22.5%" stop-color="#83f383"/><stop offset="25%" stop-color="#8ef48e"/><stop offset="27.5%" stop-color="#9af69a"/><stop offset="30%" stop-color="#a5f7a5"/><stop offset="32.5%" stop-color="#b0f8b0"/><stop offset="35%" stop-color="#bcf9bc"/><stop offset="37.5%" stop-color="#c7fac7"/><stop offset="40%" stop-color="#d2fbd2"/><stop offset="42.5%" stop-color="#ddfcdd"/><stop offset="45%" stop-color="#e8fde8"/><stop offset="47.5%" stop-color="#f4fef4"/><stop offset="50%" stop-color="#ffffff"/><stop offset="52.5%" stop-color="#fff2f2"/><stop offset="55%" stop-color="#ffe5e5"/><stop offset="57.5%" stop-color="#ffd9d9"/><stop offset="60%" stop-color="#ffcccc"/><stop offset="62.5%" stop-color="#ffbfbf"/><stop offset="65%" stop-color="#ffb2b2"/><stop offset="67.5%" stop-color="#ffa6a6"/><stop offset="70%" stop-color="#ff9999"/><stop offset="72.5%" stop-color="#ff8c8c"/><stop offset="75%" stop-color="#ff8080"/><stop offset="77.5%" stop-color="#ff7373"/><stop offset="80%" stop-color="#ff6666"/><stop offset="82.5%" stop-color="#ff5959"/><stop offset="85%" stop-color="#ff4c4c"/><stop offset="87.5%" stop-color="#ff4040"/><stop offset="90%" stop-color="#ff3333"/><stop offset="92.5%" stop-color="#ff2626"/><stop offset="95%" stop-color="#ff1a1a"/><stop offset="97.5%" stop-color="#ff0d0d"/><stop offset="100%" stop-color="#ff0000"/></linearGradient><clipPath id="c70"><rect x="312" y="226.25" width="106" height="121.25"/></clipPath><linearGradient id="r71" gradientUnits="userSpaceOnUse" x1="312" x2="418" y1="0" y2="0"><stop offset="0%" stop-color="#fff2f2"/><stop offset="2.8%" stop-color="#fff5f5"/><stop offset="8.5%" stop-color="#ffc2c2"/><stop offset="17%" stop-color="#ff5d5d"/><stop offset="18.9%" stop-color="#ff4444"/><stop offset="22.6%" stop-color="#ff3d3d"/><stop offset="26.4%" stop-color="#ff2929"/><stop offset="31.1%" stop-color="#ff2a2a"/><stop offset="37.7%" stop-color="#ff4040"/><stop offset="100%" stop-color="#ff4040"/></linearGradient><linearGradient id="r72" gradientUnits="userSpaceOnUse" x1="312" x2="418" y1="0" y2="0"><stop offset="0%" stop-color="#fff2f2"/><stop offset="2.8%" stop-color="#fff5f5"/><stop offset="8.5%" stop-color="#ffc2c2"/><stop offset="17%" stop-color="#ff5d5d"/><stop offset="18.9%" stop-color="#ff4444"/><stop offset="22.6%" stop-color="#ff3d3d"/><stop offset="26.4%" stop-color="#ff2929"/><stop offset="31.1%" stop-color="#ff2a2a"/><stop offset="37.7%" stop-color="#ff4040"/><stop offset="100%" stop-color="#ff4040"/></linearGradient><linearGradient id="r73" gradientUnits="userSpaceOnUse" x1="312" x2="418" y1="0" y2="0"><stop offset="0%" stop-color="#fff2f2"/><stop offset="2.8%" stop-color="#fff5f5"/><stop offset="8.5%" stop-color="#ffc2c2"/><stop offset="17%" stop-color="#ff5d5d"/><stop offset="18.9%" stop-color="#ff4444"/><stop offset="22.6%" stop-color="#ff3d3d"/><stop offset="26.4%" stop-color="#ff2929"/><stop offset="31.1%" stop-color="#ff2a2a"/><stop offset="37.7%" stop-color="#ff4040"/><stop offset="100%" stop-color="#ff4040"/></linearGradient><linearGradient id="r74" gradientUnits="userSpaceOnUse" x1="312" x2="418" y1="0" y2="0"><stop offset="0%" stop-color="#fff3f3"/><stop offset="3.8%" stop-color="#fff8f8"/><stop offset="7.5%" stop-color="#ffe7e7"/><stop offset="12.3%" stop-color="#ffb8b8"/><stop offset="20.8%" stop-color="#ff5252"/><stop offset="24.5%" stop-color="#ff3434"/><stop offset="28.3%" stop-color="#ff2b2b"/><stop offset="34%" stop-color="#ff3838"/><stop offset="41.5%" stop-color="#ff4e4e"/><stop offset="60.4%" stop-color="#ff5454"/><stop offset="100%" stop-color="#ff5454"/></linearGradient><linearGradient id="r75" gradientUnits="userSpaceOnUse" x1="312" x2="418" y1="0" y2="0"><stop offset="0%" stop-color="#fff4f4"/><stop offset="3.8%" stop-color="#fff9f9"/><stop offset="7.5%" stop-color="#ffe9e9"/><stop offset="12.3%" stop-color="#ffbbbb"/><stop offset="20.8%" stop-color="#ff5656"/><stop offset="24.5%" stop-color="#ff3838"/><stop offset="28.3%" stop-color="#ff2f2f"/><stop offset="34%" stop-color="#ff3d3d"/><stop offset="41.5%" stop-color="#ff5454"/><stop offset="56.6%" stop-color="#ff5c5c"/><stop offset="100%" stop-color="#ff5b5b"/></linearGradient><linearGradient id="r76" gradientUnits="userSpaceOnUse" x1="312" x2="418" y1="0" y2="0"><stop offset="0%" stop-color="#fff5f5"/><stop offset="3.8%" stop-color="#fffafa"/><stop offset="7.5%" stop-color="#ffeaea"/><stop offset="12.3%" stop-color="#ffbdbd"/><stop offset="20.8%" stop-color="#ff5959"/><stop offset="24.5%" stop-color="#ff3c3c"/><stop offset="28.3%" stop-color="#ff3434"/><stop offset="34%" stop-color="#ff4242"/><stop offset="41.5%" stop-color="#ff5a5a"/><stop offset="54.7%" stop-color="#ff6363"/><stop offset="100%" stop-color="#ff6262"/></linearGradient><linearGradient id="r77" gradientUnits="userSpaceOnUse" x1="312" x2="418" y1="0" y2="0"><stop offset="0%" stop-color="#fff6f6"/><stop offset="3.8%" stop-color="#fffbfb"/><stop offset="7.5%" stop-color="#ffebeb"/><stop offset="12.3%" stop-color="#ffbebe"/><stop offset="20.8%" stop-color="#ff5c5c"/><stop offset="24.5%" stop-color="#ff3f3f"/><stop offset="28.3%" stop-color="#ff3737"/><stop offset="34%" stop-color="#ff4747"/><stop offset="42.5%" stop-color="#ff6262"/><stop offset="56.6%" stop-color="#ff6b6b"/><stop offset="100%" stop-color="#ff6a6a"/></linearGradient><linearGradient id="r78" gradientUnits="userSpaceOnUse" x1="312" x2="418" y1="0" y2="0"><stop offset="0%" stop-color="#fff7f7"/><stop offset="3.8%" stop-color="#fffcfc"/><stop offset="7.5%" stop-color="#ffeded"/><stop offset="12.3%" stop-color="#ffc0c0"/><stop offset="20.8%" stop-color="#ff5f5f"/><stop offset="24.5%" stop-color="#ff4242"/><stop offset="28.3%" stop-color="#ff3b3b"/><stop offset="34%" stop-color="#ff4b4b"/><stop offset="42.5%" stop-color="#ff6868"/><stop offset="54.7%" stop-color="#ff7373"/><stop offset="100%" stop-color="#ff7171"/></linearGradient><linearGradient id="r79" gradientUnits="userSpaceOnUse" x1="312" x2="418" y1="0" y2="0"><stop offset="0%" stop-color="#fff7f7"/><stop offset="3.8%" stop-color="#fffdfd"/><stop offset="7.5%" stop-color="#ffeeee"/><stop offset="12.3%" stop-color="#ffc1c1"/><stop offset="20.8%" stop-color="#ff6161"/><stop offset="24.5%" stop-color="#ff4545"/><stop offset="28.3%" stop-color="#ff3e3e"/><stop offset="34%" stop-color="#ff5050"/><stop offset="42.5%" stop-color="#ff6f6f"/><stop offset="53.8%" stop-color="#ff7b7b"/><stop offset="100%" stop-color="#ff7878"/></linearGradient><linearGradient id="r80" gradientUnits="userSpaceOnUse" x1="312" x2="418" y1="0" y2="0"><stop offset="0%" stop-color="#fff8f8"/><stop offset="3.8%" stop-color="#fffefe"/><stop offset="7.5%" stop-color="#ffefef"/><stop offset="12.3%" stop-color="#ffc3c3"/><stop offset="20.8%" stop-color="#ff6363"/><stop offset="24.5%" stop-color="#ff4848"/><stop offset="28.3%" stop-color="#ff4141"/><stop offset="34%" stop-color="#ff5454"/><stop offset="42.5%" stop-color="#ff7575"/><stop offset="52.8%" stop-color="#ff8282"/><stop offset="100%" stop-color="#ff7f7f"/></linearGradient><linearGradient id="r81" gradientUnits="userSpaceOnUse" x1="312" x2="418" y1="0" y2="0"><stop offset="0%" stop-color="#fff9f9"/><stop offset="3.8%" stop-color="#ffffff"/><stop offset="7.5%" stop-color="#fff0f0"/><stop offset="12.3%" stop-color="#ffc4c4"/><stop offset="20.8%" stop-color="#ff6565"/><stop offset="24.5%" stop-color="#ff4a4a"/><stop offset="28.3%" stop-color="#ff4444"/><stop offset="34%" stop-color="#ff5858"/><stop offset="42.5%" stop-color="#ff7b7b"/><stop offset="52.8%" stop-color="#ff8989"/><stop offset="100%" stop-color="#ff8686"/></linearGradient><linearGradient id="r82" gradientUnits="userSpaceOnUse" x1="312" x2="418" y1="0" y2="0"><stop offset="0%" stop-color="#fff9f9"/><stop offset="4.7%" stop-color="#fffefe"/><stop offset="8.5%" stop-color="#ffe9e9"/><stop offset="14.2%" stop-color="#ffafaf"/><stop offset="20.8%" stop-color="#ff6666"/><stop offset="24.5%" stop-color="#ff4c4c"/><stop offset="28.3%" stop-color="#ff4747"/><stop offset="34%" stop-color="#ff5c5c"/><stop offset="42.5%" stop-color="#ff8181"/><stop offset="51.9%" stop-color="#ff9090"/><stop offset="100%" stop-color="#ff8c8c"/></linearGradient><linearGradient id="r83" gradientUnits="userSpaceOnUse" x1="312" x2="418" y1="0" y2="0"><stop offset="0%" stop-color="#fffafa"/><stop offset="4.7%" stop-color="#ffffff"/><stop offset="8.5%" stop-color="#ffeaea"/><stop offset="14.2%" stop-color="#ffb0b0"/><stop offset="20.8%" stop-color="#ff6868"/><stop offset="24.5%" stop-color="#ff4e4e"/><stop offset="28.3%" stop-color="#ff4a4a"/><stop offset="34%" stop-color="#ff6060"/><stop offset="42.5%" stop-color="#ff8787"/><stop offset="51.9%" stop-color="#ff9898"/><stop offset="100%" stop-color="#ff9393"/></linearGradient><linearGradient id="r84" gradientUnits="userSpaceOnUse" x1="312" x2="418" y1="0" y2="0"><stop offset="0%" stop-color="#fffafa"/><stop offset="4.7%" stop-color="#ffffff"/><stop offset="8.5%" stop-color="#ffebeb"/><stop offset="14.2%" stop-color="#ffb1b1"/><stop offset="20.8%" stop-color="#ff6969"/><stop offset="24.5%" stop-color="#ff5050"/><stop offset="28.3%" stop-color="#ff4c4c"/><stop offset="34%" stop-color="#ff6464"/><stop offset="41.5%" stop-color="#ff8a8a"/><stop offset="50%" stop-color="#ff9d9d"/><stop offset="68.9%" stop-color="#ff9e9e"/><stop offset="100%" stop-color="#ff9999"/></linearGradient><linearGradient id="r85" gradientUnits="userSpaceOnUse" x1="312" x2="418" y1="0" y2="0"><stop offset="0%" stop-color="#fffbfb"/><stop offset="4.7%" stop-color="#ffffff"/><stop offset="7.5%" stop-color="#fff3f3"/><stop offset="12.3%" stop-color="#ffc7c7"/><stop offset="20.8%" stop-color="#ff6a6a"/><stop offset="24.5%" stop-color="#ff5151"/><stop offset="28.3%" stop-color="#ff4e4e"/><stop offset="34%" stop-color="#ff6868"/><stop offset="41.5%" stop-color="#ff8f8f"/><stop offset="50%" stop-color="#ffa4a4"/><stop offset="67%" stop-color="#ffa5a5"/><stop offset="100%" stop-color="#ff9f9f"/></linearGradient><linearGradient id="r86" gradientUnits="userSpaceOnUse" x1="312" x2="418" y1="0" y2="0"><stop offset="0%" stop-color="#fffbfb"/><stop offset="5.7%" stop-color="#fffdfd"/><stop offset="9.4%" stop-color="#ffe4e4"/><stop offset="20.8%" stop-color="#ff6b6b"/><stop offset="24.5%" stop-color="#ff5353"/><stop offset="28.3%" stop-color="#ff5151"/><stop offset="34%" stop-color="#ff6b6b"/><stop offset="41.5%" stop-color="#ff9595"/><stop offset="50%" stop-color="#ffabab"/><stop offset="65.1%" stop-color="#ffadad"/><stop offset="100%" stop-color="#ffa5a5"/></linearGradient><linearGradient id="r87" gradientUnits="userSpaceOnUse" x1="312" x2="418" y1="0" y2="0"><stop offset="0%" stop-color="#fffcfc"/><stop offset="5.7%" stop-color="#fffefe"/><stop offset="9.4%" stop-color="#ffe5e5"/><stop offset="20.8%" stop-color="#ff6c6c"/><stop offset="24.5%" stop-color="#ff5555"/><stop offset="28.3%" stop-color="#ff5353"/><stop offset="34%" stop-color="#ff6f6f"/><stop offset="41.5%" stop-color="#ff9a9a"/><stop offset="49.1%" stop-color="#ffb0b0"/><stop offset="60.4%" stop-color="#ffb5b5"/><stop offset="100%" stop-color="#ffabab"/></linearGradient><linearGradient id="r88" gradientUnits="userSpaceOnUse" x1="312" x2="418" y1="0" y2="0"><stop offset="0%" stop-color="#fffcfc"/><stop offset="5.7%" stop-color="#fffefe"/><stop offset="9.4%" stop-color="#ffe5e5"/><stop offset="20.8%" stop-color="#ff6d6d"/><stop offset="24.5%" stop-color="#ff5656"/><stop offset="28.3%" stop-color="#ff5555"/><stop offset="34%" stop-color="#ff7373"/><stop offset="41.5%" stop-color="#ffa0a0"/><stop offset="49.1%" stop-color="#ffb7b7"/><stop offset="60.4%" stop-color="#ffbbbb"/><stop offset="100%" stop-color="#ffb0b0"/></linearGradient><linearGradient id="r89" gradientUnits="userSpaceOnUse" x1="312" x2="418" y1="0" y2="0"><stop offset="0%" stop-color="#fffcfc"/><stop offset="5.7%" stop-color="#ffffff"/><stop offset="9.4%" stop-color="#ffe6e6"/><stop offset="20.8%" stop-color="#ff6e6e"/><stop offset="24.5%" stop-color="#ff5858"/><stop offset="28.3%" stop-color="#ff5858"/><stop offset="34%" stop-color="#ff7676"/><stop offset="41.5%" stop-color="#ffa5a5"/><stop offset="49.1%" stop-color="#ffbdbd"/><stop offset="59.4%" stop-color="#ffc2c2"/><stop offset="100%" stop-color="#ffb6b6"/></linearGradient><linearGradient id="r90" gradientUnits="userSpaceOnUse" x1="312" x2="418" y1="0" y2="0"><stop offset="0%" stop-color="#fffdfd"/><stop offset="5.7%" stop-color="#ffffff"/><stop offset="9.4%" stop-color="#ffe6e6"/><stop offset="20.8%" stop-color="#ff7070"/><stop offset="24.5%" stop-color="#ff5959"/><stop offset="28.3%" stop-color="#ff5a5a"/><stop offset="34%" stop-color="#ff7a7a"/><stop offset="41.5%" stop-color="#ffaaaa"/><stop offset="49.1%" stop-color="#ffc3c3"/><stop offset="59.4%" stop-color="#ffc8c8"/><stop offset="100%" stop-color="#ffbbbb"/></linearGradient><linearGradient id="r91" gradientUnits="userSpaceOnUse" x1="312" x2="418" y1="0" y2="0"><stop offset="0%" stop-color="#fffdfd"/><stop offset="5.7%" stop-color="#ffffff"/><stop offset="9.4%" stop-color="#ffe7e7"/><stop offset="20.8%" stop-color="#ff7171"/><stop offset="24.5%" stop-color="#ff5b5b"/><stop offset="28.3%" stop-color="#ff5c5c"/><stop offset="34%" stop-color="#ff7d7d"/><stop offset="41.5%" stop-color="#ffafaf"/><stop offset="49.1%" stop-color="#ffc9c9"/><stop offset="58.5%" stop-color="#ffcece"/><stop offset="100%" stop-color="#ffc0c0"/></linearGradient><linearGradient id="r92" gradientUnits="userSpaceOnUse" x1="312" x2="418" y1="0" y2="0"><stop offset="0%" stop-color="#fffdfd"/><stop offset="5.7%" stop-color="#ffffff"/><stop offset="9.4%" stop-color="#ffe7e7"/><stop offset="20.8%" stop-color="#ff7272"/><stop offset="24.5%" stop-color="#ff5d5d"/><stop offset="28.3%" stop-color="#ff5f5f"/><stop offset="34%" stop-color="#ff8181"/><stop offset="41.5%" stop-color="#ffb4b4"/><stop offset="48.1%" stop-color="#ffcccc"/><stop offset="56.6%" stop-color="#ffd4d4"/><stop offset="100%" stop-color="#ffc5c5"/></linearGradient><linearGradient id="r93" gradientUnits="userSpaceOnUse" x1="312" x2="418" y1="0" y2="0"><stop offset="0%" stop-color="#fffefe"/><stop offset="6.6%" stop-color="#fffcfc"/><stop offset="11.3%" stop-color="#ffd5d5"/><stop offset="19.8%" stop-color="#ff7b7b"/><stop offset="23.6%" stop-color="#ff6262"/><stop offset="26.4%" stop-color="#ff5d5d"/><stop offset="30.2%" stop-color="#ff6a6a"/><stop offset="41.5%" stop-color="#ffb8b8"/><stop offset="48.1%" stop-color="#ffd2d2"/><stop offset="56.6%" stop-color="#ffdada"/><stop offset="100%" stop-color="#ffcaca"/></linearGradient><linearGradient id="r94" gradientUnits="userSpaceOnUse" x1="312" x2="418" y1="0" y2="0"><stop offset="0%" stop-color="#fffefe"/><stop offset="6.6%" stop-color="#fffcfc"/><stop offset="11.3%" stop-color="#ffd6d6"/><stop offset="19.8%" stop-color="#ff7d7d"/><stop offset="23.6%" stop-color="#ff6464"/><stop offset="26.4%" stop-color="#ff6060"/><stop offset="30.2%" stop-color="#ff6d6d"/><stop offset="41.5%" stop-color="#ffbdbd"/><stop offset="48.1%" stop-color="#ffd7d7"/><stop offset="56.6%" stop-color="#ffdfdf"/><stop offset="100%" stop-color="#ffcece"/></linearGradient><linearGradient id="r95" gradientUnits="userSpaceOnUse" x1="312" x2="418" y1="0" y2="0"><stop offset="0%" stop-color="#fffefe"/><stop offset="6.6%" stop-color="#fffcfc"/><stop offset="11.3%" stop-color="#ffd7d7"/><stop offset="19.8%" stop-color="#ff7f7f"/><stop offset="23.6%" stop-color="#ff6666"/><stop offset="26.4%" stop-color="#ff6262"/><stop offset="30.2%" stop-color="#ff7171"/><stop offset="41.5%" stop-color="#ffc1c1"/><stop offset="48.1%" stop-color="#ffdbdb"/><stop offset="56.6%" stop-color="#ffe4e4"/><stop offset="100%" stop-color="#ffd3d3"/></linearGradient><linearGradient id="r96" gradientUnits="userSpaceOnUse" x1="312" x2="418" y1="0" y2="0"><stop offset="0%" stop-color="#fffefe"/><stop offset="6.6%" stop-color="#fffcfc"/><stop offset="11.3%" stop-color="#ffd7d7"/><stop offset="19.8%" stop-color="#ff8080"/><stop offset="23.6%" stop-color="#ff6969"/><stop offset="26.4%" stop-color="#ff6565"/><stop offset="30.2%" stop-color="#ff7474"/><stop offset="40.6%" stop-color="#ffc0c0"/><stop offset="47.2%" stop-color="#ffdddd"/><stop offset="54.7%" stop-color="#ffe8e8"/><stop offset="100%" stop-color="#ffd7d7"/></linearGradient><linearGradient id="r97" gradientUnits="userSpaceOnUse" x1="312" x2="418" y1="0" y2="0"><stop offset="0%" stop-color="#ffffff"/><stop offset="6.6%" stop-color="#fffdfd"/><stop offset="11.3%" stop-color="#ffd8d8"/><stop offset="19.8%" stop-color="#ff8383"/><stop offset="23.6%" stop-color="#ff6c6c"/><stop offset="26.4%" stop-color="#ff6868"/><stop offset="30.2%" stop-color="#ff7777"/><stop offset="40.6%" stop-color="#ffc4c4"/><stop offset="47.2%" stop-color="#ffe2e2"/><stop offset="54.7%" stop-color="#ffecec"/><stop offset="100%" stop-color="#ffdbdb"/></linearGradient><linearGradient id="r98" gradientUnits="userSpaceOnUse" x1="312" x2="418" y1="0" y2="0"><stop offset="0%" stop-color="#ffffff"/><stop offset="6.6%" stop-color="#fffdfd"/><stop offset="11.3%" stop-color="#ffd9d9"/><stop offset="19.8%" stop-color="#ff8585"/><stop offset="23.6%" stop-color="#ff6f6f"/><stop offset="26.4%" stop-color="#ff6c6c"/><stop offset="30.2%" stop-color="#ff7b7b"/><stop offset="40.6%" stop-color="#ffc8c8"/><stop offset="47.2%" stop-color="#ffe5e5"/><stop offset="54.7%" stop-color="#fff0f0"/><stop offset="100%" stop-color="#ffdede"/></linearGradient><linearGradient id="r99" gradientUnits="userSpaceOnUse" x1="312" x2="418" y1="0" y2="0"><stop offset="0%" stop-color="#ffffff"/><stop offset="6.6%" stop-color="#fffdfd"/><stop offset="11.3%" stop-color="#ffdada"/><stop offset="19.8%" stop-color="#ff8888"/><stop offset="23.6%" stop-color="#ff7272"/><stop offset="26.4%" stop-color="#ff7070"/><stop offset="30.2%" stop-color="#ff7f7f"/><stop offset="40.6%" stop-color="#ffcccc"/><stop offset="47.2%" stop-color="#ffe9e9"/><stop offset="54.7%" stop-color="#fff4f4"/><stop offset="100%" stop-color="#ffe2e2"/></linearGradient><linearGradient id="r100" gradientUnits="userSpaceOnUse" x1="312" x2="418" y1="0" y2="0"><stop offset="0%" stop-color="#ffffff"/><stop offset="6.6%" stop-color="#fffdfd"/><stop offset="11.3%" stop-color="#ffdbdb"/><stop offset="19.8%" stop-color="#ff8b8b"/><stop offset="23.6%" stop-color="#ff7676"/><stop offset="27.4%" stop-color="#ff7676"/><stop offset="32.1%" stop-color="#ff9090"/><stop offset="40.6%" stop-color="#ffcfcf"/><stop offset="47.2%" stop-color="#ffecec"/><stop offset="54.7%" stop-color="#fff7f7"/><stop offset="100%" stop-color="#ffe5e5"/></linearGradient><linearGradient id="r101" gradientUnits="userSpaceOnUse" x1="312" x2="418" y1="0" y2="0"><stop offset="0%" stop-color="#ffffff"/><stop offset="6.6%" stop-color="#fffdfd"/><stop offset="11.3%" stop-color="#ffdcdc"/><stop offset="19.8%" stop-color="#ff8e8e"/><stop offset="23.6%" stop-color="#ff7a7a"/><stop offset="27.4%" stop-color="#ff7a7a"/><stop offset="32.1%" stop-color="#ff9595"/><stop offset="40.6%" stop-color="#ffd3d3"/><stop offset="47.2%" stop-color="#ffefef"/><stop offset="54.7%" stop-color="#fff9f9"/><stop offset="100%" stop-color="#ffe8e8"/></linearGradient><linearGradient id="r102" gradientUnits="userSpaceOnUse" x1="312" x2="418" y1="0" y2="0"><stop offset="0%" stop-color="#ffffff"/><stop offset="6.6%" stop-color="#fffefe"/><stop offset="11.3%" stop-color="#ffdddd"/><stop offset="19.8%" stop-color="#ff9292"/><stop offset="23.6%" stop-color="#ff7f7f"/><stop offset="27.4%" stop-color="#ff7f7f"/><stop offset="32.1%" stop-color="#ff9999"/><stop offset="40.6%" stop-color="#ffd6d6"/><stop offset="47.2%" stop-color="#fff2f2"/><stop offset="55.7%" stop-color="#fffcfc"/><stop offset="100%" stop-color="#ffeaea"/></linearGradient><linearGradient id="r103" gradientUnits="userSpaceOnUse" x1="312" x2="418" y1="0" y2="0"><stop offset="0%" stop-color="#ffffff"/><stop offset="6.6%" stop-color="#fffefe"/><stop offset="11.3%" stop-color="#ffdede"/><stop offset="19.8%" stop-color="#ff9696"/><stop offset="23.6%" stop-color="#ff8484"/><stop offset="27.4%" stop-color="#ff8585"/><stop offset="32.1%" stop-color="#ff9e9e"/><stop offset="40.6%" stop-color="#ffd9d9"/><stop offset="47.2%" stop-color="#fff4f4"/><stop offset="55.7%" stop-color="#fffefe"/><stop offset="100%" stop-color="#ffeded"/></linearGradient><linearGradient id="r104" gradientUnits="userSpaceOnUse" x1="312" x2="418" y1="0" y2="0"><stop offset="0%" stop-color="#ffffff"/><stop offset="6.6%" stop-color="#fffefe"/><stop offset="12.3%" stop-color="#ffd8d8"/><stop offset="19.8%" stop-color="#ff9b9b"/><stop offset="23.6%" stop-color="#ff8989"/><stop offset="27.4%" stop-color="#ff8a8a"/><stop offset="32.1%" stop-color="#ffa3a3"/><stop offset="40.6%" stop-color="#ffdcdc"/><stop offset="48.1%" stop-color="#fff8f8"/><stop offset="57.5%" stop-color="#ffffff"/><stop offset="100%" stop-color="#ffefef"/></linearGradient><linearGradient id="r105" gradientUnits="userSpaceOnUse" x1="312" x2="418" y1="0" y2="0"><stop offset="0%" stop-color="#ffffff"/><stop offset="6.6%" stop-color="#fffefe"/><stop offset="12.3%" stop-color="#ffdada"/><stop offset="20.8%" stop-color="#ff9a9a"/><stop offset="24.5%" stop-color="#ff8d8d"/><stop offset="28.3%" stop-color="#ff9393"/><stop offset="34.9%" stop-color="#ffbbbb"/><stop offset="42.5%" stop-color="#ffe7e7"/><stop offset="50%" stop-color="#fffcfc"/><stop offset="76.4%" stop-color="#fffcfc"/><stop offset="100%" stop-color="#fff1f1"/></linearGradient><linearGradient id="r106" gradientUnits="userSpaceOnUse" x1="312" x2="418" y1="0" y2="0"><stop offset="0%" stop-color="#ffffff"/><stop offset="6.6%" stop-color="#fffefe"/><stop offset="12.3%" stop-color="#ffdcdc"/><stop offset="20.8%" stop-color="#ffa0a0"/><stop offset="24.5%" stop-color="#ff9393"/><stop offset="28.3%" stop-color="#ff9999"/><stop offset="35.8%" stop-color="#ffc6c6"/><stop offset="43.4%" stop-color="#ffeded"/><stop offset="50.9%" stop-color="#fffefe"/><stop offset="84.9%" stop-color="#fff9f9"/><stop offset="100%" stop-color="#fff3f3"/></linearGradient><linearGradient id="r107" gradientUnits="userSpaceOnUse" x1="312" x2="418" y1="0" y2="0"><stop offset="0%" stop-color="#ffffff"/><stop offset="6.6%" stop-color="#ffffff"/><stop offset="12.3%" stop-color="#ffdede"/><stop offset="20.8%" stop-color="#ffa5a5"/><stop offset="25.5%" stop-color="#ff9a9a"/><stop offset="30.2%" stop-color="#ffa8a8"/><stop offset="41.5%" stop-color="#ffe7e7"/><stop offset="49.1%" stop-color="#fffdfd"/><stop offset="82.1%" stop-color="#fffcfc"/><stop offset="100%" stop-color="#fff4f4"/></linearGradient><linearGradient id="r108" gradientUnits="userSpaceOnUse" x1="312" x2="418" y1="0" y2="0"><stop offset="0%" stop-color="#ffffff"/><stop offset="6.6%" stop-color="#ffffff"/><stop offset="13.2%" stop-color="#ffdada"/><stop offset="20.8%" stop-color="#ffabab"/><stop offset="25.5%" stop-color="#ffa0a0"/><stop offset="30.2%" stop-color="#ffadad"/><stop offset="41.5%" stop-color="#ffe9e9"/><stop offset="50%" stop-color="#fffefe"/><stop offset="86.8%" stop-color="#fffbfb"/><stop offset="100%" stop-color="#fff6f6"/></linearGradient><linearGradient id="r109" gradientUnits="userSpaceOnUse" x1="312" x2="418" y1="0" y2="0"><stop offset="0%" stop-color="#ffffff"/><stop offset="7.5%" stop-color="#fffcfc"/><stop offset="21.7%" stop-color="#ffadad"/><stop offset="26.4%" stop-color="#ffa8a8"/><stop offset="32.1%" stop-color="#ffbcbc"/><stop offset="41.5%" stop-color="#ffebeb"/><stop offset="50%" stop-color="#ffffff"/><stop offset="88.7%" stop-color="#fffbfb"/><stop offset="100%" stop-color="#fff7f7"/></linearGradient><linearGradient id="r110" gradientUnits="userSpaceOnUse" x1="312" x2="418" y1="0" y2="0"><stop offset="0%" stop-color="#ffffff"/><stop offset="7.5%" stop-color="#fffcfc"/><stop offset="21.7%" stop-color="#ffb4b4"/><stop offset="26.4%" stop-color="#ffaeae"/><stop offset="32.1%" stop-color="#ffc2c2"/><stop offset="41.5%" stop-color="#ffeded"/><stop offset="50%" stop-color="#ffffff"/><stop offset="91.5%" stop-color="#fffbfb"/><stop offset="100%" stop-color="#fff8f8"/></linearGradient><linearGradient id="r111" gradientUnits="userSpaceOnUse" x1="312" x2="418" y1="0" y2="0"><stop offset="0%" stop-color="#ffffff"/><stop offset="7.5%" stop-color="#fffdfd"/><stop offset="21.7%" stop-color="#ffbaba"/><stop offset="26.4%" stop-color="#ffb5b5"/><stop offset="33%" stop-color="#ffcbcb"/><stop offset="42.5%" stop-color="#fff1f1"/><stop offset="51.9%" stop-color="#ffffff"/><stop offset="94.3%" stop-color="#fffbfb"/><stop offset="100%" stop-color="#fff9f9"/></linearGradient><linearGradient id="r112" gradientUnits="userSpaceOnUse" x1="312" x2="418" y1="0" y2="0"><stop offset="0%" stop-color="#ffffff"/><stop offset="7.5%" stop-color="#fffdfd"/><stop offset="21.7%" stop-color="#ffc0c0"/><stop offset="26.4%" stop-color="#ffbcbc"/><stop offset="33%" stop-color="#ffd0d0"/><stop offset="42.5%" stop-color="#fff2f2"/><stop offset="52.8%" stop-color="#ffffff"/><stop offset="96.2%" stop-color="#fffbfb"/><stop offset="100%" stop-color="#fffafa"/></linearGradient><linearGradient id="r113" gradientUnits="userSpaceOnUse" x1="312" x2="418" y1="0" y2="0"><stop offset="0%" stop-color="#ffffff"/><stop offset="7.5%" stop-color="#fffdfd"/><stop offset="21.7%" stop-color="#ffc6c6"/><stop offset="26.4%" stop-color="#ffc3c3"/><stop offset="34%" stop-color="#ffd8d8"/><stop offset="43.4%" stop-color="#fff5f5"/><stop offset="54.7%" stop-color="#ffffff"/><stop offset="100%" stop-color="#fffbfb"/></linearGradient><linearGradient id="r114" gradientUnits="userSpaceOnUse" x1="312" x2="418" y1="0" y2="0"><stop offset="0%" stop-color="#ffffff"/><stop offset="8.5%" stop-color="#fffbfb"/><stop offset="21.7%" stop-color="#ffcdcd"/><stop offset="27.4%" stop-color="#ffcaca"/><stop offset="43.4%" stop-color="#fff6f6"/><stop offset="57.5%" stop-color="#ffffff"/><stop offset="100%" stop-color="#fffbfb"/></linearGradient><linearGradient id="r115" gradientUnits="userSpaceOnUse" x1="312" x2="418" y1="0" y2="0"><stop offset="0%" stop-color="#ffffff"/><stop offset="8.5%" stop-color="#fffcfc"/><stop offset="22.6%" stop-color="#ffd1d1"/><stop offset="28.3%" stop-color="#ffd2d2"/><stop offset="43.4%" stop-color="#fff6f6"/><stop offset="61.3%" stop-color="#ffffff"/><stop offset="100%" stop-color="#fffcfc"/></linearGradient><linearGradient id="r116" gradientUnits="userSpaceOnUse" x1="312" x2="418" y1="0" y2="0"><stop offset="0%" stop-color="#ffffff"/><stop offset="8.5%" stop-color="#fffdfd"/><stop offset="22.6%" stop-color="#ffd7d7"/><stop offset="29.2%" stop-color="#ffd9d9"/><stop offset="43.4%" stop-color="#fff7f7"/><stop offset="67%" stop-color="#ffffff"/><stop offset="100%" stop-color="#fffcfc"/></linearGradient><linearGradient id="r117" gradientUnits="userSpaceOnUse" x1="312" x2="418" y1="0" y2="0"><stop offset="0%" stop-color="#ffffff"/><stop offset="9.4%" stop-color="#fffbfb"/><stop offset="23.6%" stop-color="#ffdcdc"/><stop offset="31.1%" stop-color="#ffe2e2"/><stop offset="44.3%" stop-color="#fff8f8"/><stop offset="81.1%" stop-color="#ffffff"/><stop offset="100%" stop-color="#fffcfc"/></linearGradient><linearGradient id="r118" gradientUnits="userSpaceOnUse" x1="312" x2="418" y1="0" y2="0"><stop offset="0%" stop-color="#ffffff"/><stop offset="9.4%" stop-color="#fffcfc"/><stop offset="23.6%" stop-color="#ffe2e2"/><stop offset="32.1%" stop-color="#ffe8e8"/><stop offset="45.3%" stop-color="#fff9f9"/><stop offset="94.3%" stop-color="#fffefe"/><stop offset="100%" stop-color="#fffdfd"/></linearGradient><linearGradient id="r119" gradientUnits="userSpaceOnUse" x1="312" x2="418" y1="0" y2="0"><stop offset="0%" stop-color="#ffffff"/><stop offset="10.4%" stop-color="#fffcfc"/><stop offset="24.5%" stop-color="#ffe7e7"/><stop offset="48.1%" stop-color="#fffafa"/><stop offset="100%" stop-color="#fffdfd"/></linearGradient><linearGradient id="r120" gradientUnits="userSpaceOnUse" x1="312" x2="418" y1="0" y2="0"><stop offset="0%" stop-color="#ffffff"/><stop offset="11.3%" stop-color="#fffbfb"/><stop offset="25.5%" stop-color="#ffecec"/><stop offset="48.1%" stop-color="#fff9f9"/><stop offset="100%" stop-color="#fffdfd"/></linearGradient><linearGradient id="r121" gradientUnits="userSpaceOnUse" x1="312" x2="418" y1="0" y2="0"><stop offset="0%" stop-color="#ffffff"/><stop offset="13.2%" stop-color="#fffbfb"/><stop offset="27.4%" stop-color="#fff0f0"/><stop offset="50%" stop-color="#fff9f9"/><stop offset="100%" stop-color="#fffdfd"/></linearGradient><linearGradient id="r122" gradientUnits="userSpaceOnUse" x1="312" x2="418" y1="0" y2="0"><stop offset="0%" stop-color="#ffffff"/><stop offset="15.1%" stop-color="#fffbfb"/><stop offset="29.2%" stop-color="#fff5f5"/><stop offset="100%" stop-color="#fffdfd"/></linearGradient><linearGradient id="r123" gradientUnits="userSpaceOnUse" x1="312" x2="418" y1="0" y2="0"><stop offset="0%" stop-color="#ffffff"/><stop offset="20.8%" stop-color="#fff9f9"/><stop offset="100%" stop-color="#fffdfd"/></linearGradient><linearGradient id="r124" gradientUnits="userSpaceOnUse" x1="312" x2="418" y1="0" y2="0"><stop offset="0%" stop-color="#ffffff"/><stop offset="63.2%" stop-color="#fffbfb"/><stop offset="100%" stop-color="#fffdfd"/></linearGradient><linearGradient id="r125" gradientUnits="userSpaceOnUse" x1="312" x2="418" y1="0" y2="0"><stop offset="0%" stop-color="#ffffff"/><stop offset="67%" stop-color="#fffcfc"/><stop offset="100%" stop-color="#fffefe"/></linearGradient><linearGradient id="r126" gradientUnits="userSpaceOnUse" x1="312" x2="418" y1="0" y2="0"><stop offset="0%" stop-color="#ffffff"/><stop offset="73.6%" stop-color="#fffcfc"/><stop offset="100%" stop-color="#fffefe"/></linearGradient><linearGradient id="r127" gradientUnits="userSpaceOnUse" x1="312" x2="418" y1="0" y2="0"><stop offset="0%" stop-color="#ffffff"/><stop offset="80.2%" stop-color="#fffdfd"/><stop offset="100%" stop-color="#fffefe"/></linearGradient><linearGradient id="r128" gradientUnits="userSpaceOnUse" x1="312" x2="418" y1="0" y2="0"><stop offset="0%" stop-color="#ffffff"/><stop offset="100%" stop-color="#fffefe"/></linearGradient><linearGradient id="r129" gradientUnits="userSpaceOnUse" x1="312" x2="418" y1="0" y2="0"><stop offset="0%" stop-color="#ffffff"/><stop offset="100%" stop-color="#ffffff"/></linearGradient><linearGradient id="r130" gradientUnits="userSpaceOnUse" x1="312" x2="418" y1="0" y2="0"><stop offset="0%" stop-color="#ffffff"/><stop offset="100%" stop-color="#ffffff"/></linearGradient><linearGradient id="r131" gradientUnits="userSpaceOnUse" x1="312" x2="418" y1="0" y2="0"><stop offset="0%" stop-color="#ffffff"/><stop offset="100%" stop-color="#ffffff"/></linearGradient><clipPath id="c132"><rect x="312" y="231.4" width="106" height="116.1"/></clipPath><linearGradient id="lb133" x1="0" x2="1" y1="0" y2="0"><stop offset="0%" stop-color="#1eea1e"/><stop offset="2.5%" stop-color="#29eb29"/><stop offset="5%" stop-color="#34ec34"/><stop offset="7.5%" stop-color="#40ed40"/><stop offset="10%" stop-color="#4bee4b"/><stop offset="12.5%" stop-color="#56ef56"/><stop offset="15%" stop-color="#62f062"/><stop offset="17.5%" stop-color="#6df16d"/><stop offset="20%" stop-color="#78f278"/><stop offset="22.5%" stop-color="#83f383"/><stop offset="25%" stop-color="#8ef48e"/><stop offset="27.5%" stop-color="#9af69a"/><stop offset="30%" stop-color="#a5f7a5"/><stop offset="32.5%" stop-color="#b0f8b0"/><stop offset="35%" stop-color="#bcf9bc"/><stop offset="37.5%" stop-color="#c7fac7"/><stop offset="40%" stop-color="#d2fbd2"/><stop offset="42.5%" stop-color="#ddfcdd"/><stop offset="45%" stop-color="#e8fde8"/><stop offset="47.5%" stop-color="#f4fef4"/><stop offset="50%" stop-color="#ffffff"/><stop offset="52.5%" stop-color="#fff2f2"/><stop offset="55%" stop-color="#ffe5e5"/><stop offset="57.5%" stop-color="#ffd9d9"/><stop offset="60%" stop-color="#ffcccc"/><stop offset="62.5%" stop-color="#ffbfbf"/><stop offset="65%" stop-color="#ffb2b2"/><stop offset="67.5%" stop-color="#ffa6a6"/><stop offset="70%" stop-color="#ff9999"/><stop offset="72.5%" stop-color="#ff8c8c"/><stop offset="75%" stop-color="#ff8080"/><stop offset="77.5%" stop-color="#ff7373"/><stop offset="80%" stop-color="#ff6666"/><stop offset="82.5%" stop-color="#ff5959"/><stop offset="85%" stop-color="#ff4c4c"/><stop offset="87.5%" stop-color="#ff4040"/><stop offset="90%" stop-color="#ff3333"/><stop offset="92.5%" stop-color="#ff2626"/><stop offset="95%" stop-color="#ff1a1a"/><stop offset="97.5%" stop-color="#ff0d0d"/><stop offset="100%" stop-color="#ff0000"/></linearGradient><linearGradient id="lb134" x1="0" x2="1" y1="0" y2="0"><stop offset="0%" stop-color="#1eea1e"/><stop offset="2.5%" stop-color="#29eb29"/><stop offset="5%" stop-color="#34ec34"/><stop offset="7.5%" stop-color="#40ed40"/><stop offset="10%" stop-color="#4bee4b"/><stop offset="12.5%" stop-color="#56ef56"/><stop offset="15%" stop-color="#62f062"/><stop offset="17.5%" stop-color="#6df16d"/><stop offset="20%" stop-color="#78f278"/><stop offset="22.5%" stop-color="#83f383"/><stop offset="25%" stop-color="#8ef48e"/><stop offset="27.5%" stop-color="#9af69a"/><stop offset="30%" stop-color="#a5f7a5"/><stop offset="32.5%" stop-color="#b0f8b0"/><stop offset="35%" stop-color="#bcf9bc"/><stop offset="37.5%" stop-color="#c7fac7"/><stop offset="40%" stop-color="#d2fbd2"/><stop offset="42.5%" stop-color="#ddfcdd"/><stop offset="45%" stop-color="#e8fde8"/><stop offset="47.5%" stop-color="#f4fef4"/><stop offset="50%" stop-color="#ffffff"/><stop offset="52.5%" stop-color="#fff3f5"/><stop offset="55%" stop-color="#ffe8eb"/><stop offset="57.5%" stop-color="#ffdce1"/><stop offset="60%" stop-color="#fed0d6"/><stop offset="62.5%" stop-color="#fec5cc"/><stop offset="65%" stop-color="#feb9c2"/><stop offset="67.5%" stop-color="#feadb8"/><stop offset="70%" stop-color="#fea2ae"/><stop offset="72.5%" stop-color="#fe96a4"/><stop offset="75%" stop-color="#fe8a9a"/><stop offset="77.5%" stop-color="#fd7f8f"/><stop offset="80%" stop-color="#fd7385"/><stop offset="82.5%" stop-color="#fd687b"/><stop offset="85%" stop-color="#fd5c71"/><stop offset="87.5%" stop-color="#fd5067"/><stop offset="90%" stop-color="#fd455d"/><stop offset="92.5%" stop-color="#fc3952"/><stop offset="95%" stop-color="#fc2d48"/><stop offset="97.5%" stop-color="#fc223e"/><stop offset="100%" stop-color="#fc1634"/></linearGradient><clipPath id="c135"><rect x="22" y="586" width="104" height="118.5"/></clipPath><linearGradient id="r136" gradientUnits="userSpaceOnUse" x1="22" x2="126" y1="0" y2="0"><stop offset="0%" stop-color="#fefffe"/><stop offset="22.1%" stop-color="#f2fef2"/><stop offset="35.6%" stop-color="#fffdfd"/><stop offset="49%" stop-color="#ffe0e4"/><stop offset="72.1%" stop-color="#fd8192"/><stop offset="84.6%" stop-color="#fd667a"/><stop offset="100%" stop-color="#fd5a6f"/></linearGradient><linearGradient id="r137" gradientUnits="userSpaceOnUse" x1="22" x2="126" y1="0" y2="0"><stop offset="0%" stop-color="#fefffe"/><stop offset="22.1%" stop-color="#f2fef2"/><stop offset="35.6%" stop-color="#fffdfd"/><stop offset="49%" stop-color="#ffe0e4"/><stop offset="72.1%" stop-color="#fd8192"/><stop offset="84.6%" stop-color="#fd667a"/><stop offset="100%" stop-color="#fd5a6f"/></linearGradient><linearGradient id="r138" gradientUnits="userSpaceOnUse" x1="22" x2="126" y1="0" y2="0"><stop offset="0%" stop-color="#fefffe"/><stop offset="22.1%" stop-color="#f2fef2"/><stop offset="35.6%" stop-color="#fffdfd"/><stop offset="49%" stop-color="#ffe0e4"/><stop offset="72.1%" stop-color="#fd8192"/><stop offset="84.6%" stop-color="#fd667a"/><stop offset="100%" stop-color="#fd5a6f"/></linearGradient><linearGradient id="r139" gradientUnits="userSpaceOnUse" x1="22" x2="126" y1="0" y2="0"><stop offset="0%" stop-color="#fefffe"/><stop offset="22.1%" stop-color="#f2fef2"/><stop offset="35.6%" stop-color="#fffdfd"/><stop offset="49%" stop-color="#ffe1e5"/><stop offset="63.5%" stop-color="#fea5b0"/><stop offset="75%" stop-color="#fd7a8b"/><stop offset="88.5%" stop-color="#fd6277"/><stop offset="100%" stop-color="#fd5b70"/></linearGradient><linearGradient id="r140" gradientUnits="userSpaceOnUse" x1="22" x2="126" y1="0" y2="0"><stop offset="0%" stop-color="#fefffe"/><stop offset="22.1%" stop-color="#f2fef2"/><stop offset="35.6%" stop-color="#fffefe"/><stop offset="49%" stop-color="#ffe2e6"/><stop offset="62.5%" stop-color="#feabb6"/><stop offset="74%" stop-color="#fd7e8f"/><stop offset="86.5%" stop-color="#fd6579"/><stop offset="100%" stop-color="#fd5c71"/></linearGradient><linearGradient id="r141" gradientUnits="userSpaceOnUse" x1="22" x2="126" y1="0" y2="0"><stop offset="0%" stop-color="#fefffe"/><stop offset="22.1%" stop-color="#f1fef1"/><stop offset="35.6%" stop-color="#fffefe"/><stop offset="49%" stop-color="#ffe4e7"/><stop offset="61.5%" stop-color="#feb1bb"/><stop offset="74%" stop-color="#fd7f90"/><stop offset="86.5%" stop-color="#fd667a"/><stop offset="100%" stop-color="#fd5d72"/></linearGradient><linearGradient id="r142" gradientUnits="userSpaceOnUse" x1="22" x2="126" y1="0" y2="0"><stop offset="0%" stop-color="#fefffe"/><stop offset="22.1%" stop-color="#f1fef1"/><stop offset="35.6%" stop-color="#fffefe"/><stop offset="49%" stop-color="#ffe5e8"/><stop offset="61.5%" stop-color="#feb3bd"/><stop offset="74%" stop-color="#fd8191"/><stop offset="86.5%" stop-color="#fd677b"/><stop offset="100%" stop-color="#fd5e72"/></linearGradient><linearGradient id="r143" gradientUnits="userSpaceOnUse" x1="22" x2="126" y1="0" y2="0"><stop offset="0%" stop-color="#fefffe"/><stop offset="22.1%" stop-color="#f2fef2"/><stop offset="36.5%" stop-color="#fffdfd"/><stop offset="50%" stop-color="#ffe3e6"/><stop offset="63.5%" stop-color="#feacb6"/><stop offset="75%" stop-color="#fd7f90"/><stop offset="87.5%" stop-color="#fd677b"/><stop offset="100%" stop-color="#fd5e73"/></linearGradient><linearGradient id="r144" gradientUnits="userSpaceOnUse" x1="22" x2="126" y1="0" y2="0"><stop offset="0%" stop-color="#fefffe"/><stop offset="22.1%" stop-color="#f2fef2"/><stop offset="36.5%" stop-color="#fffdfd"/><stop offset="50%" stop-color="#ffe4e7"/><stop offset="62.5%" stop-color="#feb2bc"/><stop offset="75%" stop-color="#fd8191"/><stop offset="87.5%" stop-color="#fd687c"/><stop offset="100%" stop-color="#fd5f74"/></linearGradient><linearGradient id="r145" gradientUnits="userSpaceOnUse" x1="22" x2="126" y1="0" y2="0"><stop offset="0%" stop-color="#fefffe"/><stop offset="23.1%" stop-color="#f3fef3"/><stop offset="36.5%" stop-color="#fffdfd"/><stop offset="50%" stop-color="#ffe5e8"/><stop offset="62.5%" stop-color="#feb3bd"/><stop offset="75%" stop-color="#fd8292"/><stop offset="87.5%" stop-color="#fd697c"/><stop offset="100%" stop-color="#fd6075"/></linearGradient><linearGradient id="r146" gradientUnits="userSpaceOnUse" x1="22" x2="126" y1="0" y2="0"><stop offset="0%" stop-color="#fefffe"/><stop offset="23.1%" stop-color="#f3fef3"/><stop offset="36.5%" stop-color="#fffdfe"/><stop offset="50%" stop-color="#ffe6e9"/><stop offset="61.5%" stop-color="#febac2"/><stop offset="75%" stop-color="#fd8393"/><stop offset="87.5%" stop-color="#fd6a7d"/><stop offset="100%" stop-color="#fd6175"/></linearGradient><linearGradient id="r147" gradientUnits="userSpaceOnUse" x1="22" x2="126" y1="0" y2="0"><stop offset="0%" stop-color="#fefffe"/><stop offset="23.1%" stop-color="#f3fef3"/><stop offset="36.5%" stop-color="#fffdfe"/><stop offset="50%" stop-color="#ffe7ea"/><stop offset="61.5%" stop-color="#febbc4"/><stop offset="75%" stop-color="#fd8594"/><stop offset="87.5%" stop-color="#fd6b7e"/><stop offset="100%" stop-color="#fd6276"/></linearGradient><linearGradient id="r148" gradientUnits="userSpaceOnUse" x1="22" x2="126" y1="0" y2="0"><stop offset="0%" stop-color="#fefffe"/><stop offset="23.1%" stop-color="#f4fef4"/><stop offset="36.5%" stop-color="#fffefe"/><stop offset="50%" stop-color="#ffe8eb"/><stop offset="61.5%" stop-color="#febdc5"/><stop offset="75%" stop-color="#fd8696"/><stop offset="87.5%" stop-color="#fd6c7f"/><stop offset="100%" stop-color="#fd6377"/></linearGradient><linearGradient id="r149" gradientUnits="userSpaceOnUse" x1="22" x2="126" y1="0" y2="0"><stop offset="0%" stop-color="#fefffe"/><stop offset="23.1%" stop-color="#f5fef5"/><stop offset="36.5%" stop-color="#fffefe"/><stop offset="50%" stop-color="#ffe9eb"/><stop offset="60.6%" stop-color="#fec3ca"/><stop offset="75%" stop-color="#fd8797"/><stop offset="87.5%" stop-color="#fd6d80"/><stop offset="100%" stop-color="#fd6478"/></linearGradient><linearGradient id="r150" gradientUnits="userSpaceOnUse" x1="22" x2="126" y1="0" y2="0"><stop offset="0%" stop-color="#fefffe"/><stop offset="24%" stop-color="#f6fef6"/><stop offset="36.5%" stop-color="#fffefe"/><stop offset="51%" stop-color="#ffe7ea"/><stop offset="62.5%" stop-color="#febcc4"/><stop offset="76%" stop-color="#fd8695"/><stop offset="88.5%" stop-color="#fd6d80"/><stop offset="100%" stop-color="#fd6478"/></linearGradient><linearGradient id="r151" gradientUnits="userSpaceOnUse" x1="22" x2="126" y1="0" y2="0"><stop offset="0%" stop-color="#fefffe"/><stop offset="24%" stop-color="#f6fef6"/><stop offset="36.5%" stop-color="#fffefe"/><stop offset="51%" stop-color="#ffe8eb"/><stop offset="62.5%" stop-color="#febdc6"/><stop offset="76%" stop-color="#fd8797"/><stop offset="88.5%" stop-color="#fd6e81"/><stop offset="100%" stop-color="#fd6579"/></linearGradient><linearGradient id="r152" gradientUnits="userSpaceOnUse" x1="22" x2="126" y1="0" y2="0"><stop offset="0%" stop-color="#fefffe"/><stop offset="24%" stop-color="#f7fef7"/><stop offset="37.5%" stop-color="#fffdfd"/><stop offset="51%" stop-color="#ffe9ec"/><stop offset="61.5%" stop-color="#fec3cb"/><stop offset="76%" stop-color="#fd8998"/><stop offset="88.5%" stop-color="#fd6f82"/><stop offset="100%" stop-color="#fd667a"/></linearGradient><linearGradient id="r153" gradientUnits="userSpaceOnUse" x1="22" x2="126" y1="0" y2="0"><stop offset="0%" stop-color="#fefffe"/><stop offset="25%" stop-color="#f8fef8"/><stop offset="37.5%" stop-color="#fffdfd"/><stop offset="51%" stop-color="#ffeaed"/><stop offset="61.5%" stop-color="#fec6ce"/><stop offset="76%" stop-color="#fe8b9a"/><stop offset="87.5%" stop-color="#fd7284"/><stop offset="100%" stop-color="#fd687b"/></linearGradient><linearGradient id="r154" gradientUnits="userSpaceOnUse" x1="22" x2="126" y1="0" y2="0"><stop offset="0%" stop-color="#fefffe"/><stop offset="26%" stop-color="#f9fef9"/><stop offset="37.5%" stop-color="#fffdfd"/><stop offset="51.9%" stop-color="#ffeaed"/><stop offset="62.5%" stop-color="#fec5cd"/><stop offset="76.9%" stop-color="#fe8b9a"/><stop offset="89.4%" stop-color="#fd7284"/><stop offset="100%" stop-color="#fd6a7d"/></linearGradient><linearGradient id="r155" gradientUnits="userSpaceOnUse" x1="22" x2="126" y1="0" y2="0"><stop offset="0%" stop-color="#fefffe"/><stop offset="26%" stop-color="#fafefa"/><stop offset="38.5%" stop-color="#fffdfd"/><stop offset="51.9%" stop-color="#ffebee"/><stop offset="62.5%" stop-color="#fec9d0"/><stop offset="77.9%" stop-color="#fe8b9a"/><stop offset="90.4%" stop-color="#fd7385"/><stop offset="100%" stop-color="#fd6b7e"/></linearGradient><linearGradient id="r156" gradientUnits="userSpaceOnUse" x1="22" x2="126" y1="0" y2="0"><stop offset="0%" stop-color="#fefffe"/><stop offset="26.9%" stop-color="#fbfffb"/><stop offset="38.5%" stop-color="#fffdfd"/><stop offset="52.9%" stop-color="#ffebed"/><stop offset="63.5%" stop-color="#fec7cf"/><stop offset="77.9%" stop-color="#fe8e9c"/><stop offset="89.4%" stop-color="#fd7687"/><stop offset="100%" stop-color="#fd6d80"/></linearGradient><linearGradient id="r157" gradientUnits="userSpaceOnUse" x1="22" x2="126" y1="0" y2="0"><stop offset="0%" stop-color="#fefffe"/><stop offset="27.9%" stop-color="#fbfffb"/><stop offset="40.4%" stop-color="#fffcfc"/><stop offset="53.8%" stop-color="#ffeaed"/><stop offset="64.4%" stop-color="#fec6ce"/><stop offset="78.8%" stop-color="#fe8d9c"/><stop offset="91.3%" stop-color="#fd7587"/><stop offset="100%" stop-color="#fd6f82"/></linearGradient><linearGradient id="r158" gradientUnits="userSpaceOnUse" x1="22" x2="126" y1="0" y2="0"><stop offset="0%" stop-color="#ffffff"/><stop offset="28.8%" stop-color="#fcfffc"/><stop offset="41.3%" stop-color="#fffbfc"/><stop offset="54.8%" stop-color="#ffeaec"/><stop offset="66.3%" stop-color="#fec1c9"/><stop offset="79.8%" stop-color="#fe8d9c"/><stop offset="92.3%" stop-color="#fd7688"/><stop offset="100%" stop-color="#fd7183"/></linearGradient><linearGradient id="r159" gradientUnits="userSpaceOnUse" x1="22" x2="126" y1="0" y2="0"><stop offset="0%" stop-color="#ffffff"/><stop offset="29.8%" stop-color="#fdfffd"/><stop offset="45.2%" stop-color="#fff9fa"/><stop offset="56.7%" stop-color="#ffe7ea"/><stop offset="69.2%" stop-color="#feb8c1"/><stop offset="81.7%" stop-color="#fe8b9a"/><stop offset="95.2%" stop-color="#fd7687"/><stop offset="100%" stop-color="#fd7285"/></linearGradient><linearGradient id="r160" gradientUnits="userSpaceOnUse" x1="22" x2="126" y1="0" y2="0"><stop offset="0%" stop-color="#ffffff"/><stop offset="31.7%" stop-color="#fefffe"/><stop offset="51%" stop-color="#fff4f5"/><stop offset="61.5%" stop-color="#ffdadf"/><stop offset="80.8%" stop-color="#fe909e"/><stop offset="93.3%" stop-color="#fd798a"/><stop offset="100%" stop-color="#fd7486"/></linearGradient><linearGradient id="r161" gradientUnits="userSpaceOnUse" x1="22" x2="126" y1="0" y2="0"><stop offset="0%" stop-color="#ffffff"/><stop offset="33.7%" stop-color="#ffffff"/><stop offset="51.9%" stop-color="#fff3f5"/><stop offset="62.5%" stop-color="#ffd9de"/><stop offset="80.8%" stop-color="#fe92a0"/><stop offset="93.3%" stop-color="#fd7b8c"/><stop offset="100%" stop-color="#fd7688"/></linearGradient><linearGradient id="r162" gradientUnits="userSpaceOnUse" x1="22" x2="126" y1="0" y2="0"><stop offset="0%" stop-color="#ffffff"/><stop offset="44.2%" stop-color="#fffbfc"/><stop offset="56.7%" stop-color="#ffecee"/><stop offset="67.3%" stop-color="#fecad0"/><stop offset="81.7%" stop-color="#fe92a0"/><stop offset="94.2%" stop-color="#fd7c8d"/><stop offset="100%" stop-color="#fd7889"/></linearGradient><linearGradient id="r163" gradientUnits="userSpaceOnUse" x1="22" x2="126" y1="0" y2="0"><stop offset="0%" stop-color="#ffffff"/><stop offset="44.2%" stop-color="#fffbfc"/><stop offset="57.7%" stop-color="#ffebee"/><stop offset="68.3%" stop-color="#fec9d0"/><stop offset="82.7%" stop-color="#fe92a0"/><stop offset="95.2%" stop-color="#fd7d8e"/><stop offset="100%" stop-color="#fd7a8b"/></linearGradient><linearGradient id="r164" gradientUnits="userSpaceOnUse" x1="22" x2="126" y1="0" y2="0"><stop offset="0%" stop-color="#ffffff"/><stop offset="45.2%" stop-color="#fffbfc"/><stop offset="58.7%" stop-color="#ffebed"/><stop offset="70.2%" stop-color="#fec4cb"/><stop offset="83.7%" stop-color="#fe92a0"/><stop offset="96.2%" stop-color="#fd7e8f"/><stop offset="100%" stop-color="#fd7b8c"/></linearGradient><linearGradient id="r165" gradientUnits="userSpaceOnUse" x1="22" x2="126" y1="0" y2="0"><stop offset="0%" stop-color="#ffffff"/><stop offset="46.2%" stop-color="#fffbfc"/><stop offset="58.7%" stop-color="#ffecef"/><stop offset="69.2%" stop-color="#fecbd1"/><stop offset="83.7%" stop-color="#fe95a2"/><stop offset="96.2%" stop-color="#fd8090"/><stop offset="100%" stop-color="#fd7d8e"/></linearGradient><linearGradient id="r166" gradientUnits="userSpaceOnUse" x1="22" x2="126" y1="0" y2="0"><stop offset="0%" stop-color="#ffffff"/><stop offset="47.1%" stop-color="#fffbfb"/><stop offset="59.6%" stop-color="#ffecee"/><stop offset="71.2%" stop-color="#fec6cd"/><stop offset="84.6%" stop-color="#fe95a3"/><stop offset="97.1%" stop-color="#fd8191"/><stop offset="100%" stop-color="#fd7f90"/></linearGradient><linearGradient id="r167" gradientUnits="userSpaceOnUse" x1="22" x2="126" y1="0" y2="0"><stop offset="0%" stop-color="#ffffff"/><stop offset="48.1%" stop-color="#fffbfb"/><stop offset="60.6%" stop-color="#ffecee"/><stop offset="72.1%" stop-color="#fec6cd"/><stop offset="84.6%" stop-color="#fe99a6"/><stop offset="97.1%" stop-color="#fd8494"/><stop offset="100%" stop-color="#fd8292"/></linearGradient><linearGradient id="r168" gradientUnits="userSpaceOnUse" x1="22" x2="126" y1="0" y2="0"><stop offset="0%" stop-color="#ffffff"/><stop offset="49%" stop-color="#fffbfb"/><stop offset="61.5%" stop-color="#ffecee"/><stop offset="73.1%" stop-color="#fec6ce"/><stop offset="85.6%" stop-color="#fe9aa7"/><stop offset="98.1%" stop-color="#fd8696"/><stop offset="100%" stop-color="#fd8595"/></linearGradient><linearGradient id="r169" gradientUnits="userSpaceOnUse" x1="22" x2="126" y1="0" y2="0"><stop offset="0%" stop-color="#ffffff"/><stop offset="51%" stop-color="#fffafb"/><stop offset="63.5%" stop-color="#ffeaed"/><stop offset="76%" stop-color="#febfc7"/><stop offset="87.5%" stop-color="#fe99a6"/><stop offset="100%" stop-color="#fd8897"/></linearGradient><linearGradient id="r170" gradientUnits="userSpaceOnUse" x1="22" x2="126" y1="0" y2="0"><stop offset="0%" stop-color="#ffffff"/><stop offset="51.9%" stop-color="#fffafb"/><stop offset="64.4%" stop-color="#ffeaed"/><stop offset="76.9%" stop-color="#febfc7"/><stop offset="88.5%" stop-color="#fe9aa7"/><stop offset="100%" stop-color="#fe8b9a"/></linearGradient><linearGradient id="r171" gradientUnits="userSpaceOnUse" x1="22" x2="126" y1="0" y2="0"><stop offset="0%" stop-color="#ffffff"/><stop offset="52.9%" stop-color="#fffafb"/><stop offset="65.4%" stop-color="#ffeaed"/><stop offset="78.8%" stop-color="#febcc5"/><stop offset="90.4%" stop-color="#fe9aa7"/><stop offset="100%" stop-color="#fe8e9c"/></linearGradient><linearGradient id="r172" gradientUnits="userSpaceOnUse" x1="22" x2="126" y1="0" y2="0"><stop offset="0%" stop-color="#ffffff"/><stop offset="53.8%" stop-color="#fffafb"/><stop offset="66.3%" stop-color="#ffeaed"/><stop offset="80.8%" stop-color="#feb9c2"/><stop offset="91.3%" stop-color="#fe9ba8"/><stop offset="100%" stop-color="#fe919f"/></linearGradient><linearGradient id="r173" gradientUnits="userSpaceOnUse" x1="22" x2="126" y1="0" y2="0"><stop offset="0%" stop-color="#ffffff"/><stop offset="54.8%" stop-color="#fffafb"/><stop offset="67.3%" stop-color="#ffeaed"/><stop offset="89.4%" stop-color="#fea2ae"/><stop offset="100%" stop-color="#fe94a2"/></linearGradient><linearGradient id="r174" gradientUnits="userSpaceOnUse" x1="22" x2="126" y1="0" y2="0"><stop offset="0%" stop-color="#ffffff"/><stop offset="55.8%" stop-color="#fffafb"/><stop offset="68.3%" stop-color="#ffeaed"/><stop offset="90.4%" stop-color="#fea4b0"/><stop offset="100%" stop-color="#fe97a4"/></linearGradient><linearGradient id="r175" gradientUnits="userSpaceOnUse" x1="22" x2="126" y1="0" y2="0"><stop offset="0%" stop-color="#ffffff"/><stop offset="56.7%" stop-color="#fffafb"/><stop offset="69.2%" stop-color="#ffeaed"/><stop offset="90.4%" stop-color="#fea7b3"/><stop offset="100%" stop-color="#fe9aa7"/></linearGradient><linearGradient id="r176" gradientUnits="userSpaceOnUse" x1="22" x2="126" y1="0" y2="0"><stop offset="0%" stop-color="#ffffff"/><stop offset="57.7%" stop-color="#fffafb"/><stop offset="70.2%" stop-color="#ffeaed"/><stop offset="91.3%" stop-color="#fea9b4"/><stop offset="100%" stop-color="#fe9da9"/></linearGradient><linearGradient id="r177" gradientUnits="userSpaceOnUse" x1="22" x2="126" y1="0" y2="0"><stop offset="0%" stop-color="#ffffff"/><stop offset="58.7%" stop-color="#fffafb"/><stop offset="71.2%" stop-color="#ffeaed"/><stop offset="92.3%" stop-color="#feaab5"/><stop offset="100%" stop-color="#fea0ac"/></linearGradient><linearGradient id="r178" gradientUnits="userSpaceOnUse" x1="22" x2="126" y1="0" y2="0"><stop offset="0%" stop-color="#ffffff"/><stop offset="59.6%" stop-color="#fffafb"/><stop offset="72.1%" stop-color="#ffeaed"/><stop offset="92.3%" stop-color="#feadb8"/><stop offset="100%" stop-color="#fea3af"/></linearGradient><linearGradient id="r179" gradientUnits="userSpaceOnUse" x1="22" x2="126" y1="0" y2="0"><stop offset="0%" stop-color="#ffffff"/><stop offset="60.6%" stop-color="#fffafb"/><stop offset="73.1%" stop-color="#ffeaed"/><stop offset="93.3%" stop-color="#feafb9"/><stop offset="100%" stop-color="#fea6b1"/></linearGradient><linearGradient id="r180" gradientUnits="userSpaceOnUse" x1="22" x2="126" y1="0" y2="0"><stop offset="0%" stop-color="#ffffff"/><stop offset="61.5%" stop-color="#fffbfb"/><stop offset="74%" stop-color="#ffebee"/><stop offset="94.2%" stop-color="#feb1bb"/><stop offset="100%" stop-color="#fea9b4"/></linearGradient><linearGradient id="r181" gradientUnits="userSpaceOnUse" x1="22" x2="126" y1="0" y2="0"><stop offset="0%" stop-color="#ffffff"/><stop offset="63.5%" stop-color="#fffbfb"/><stop offset="76%" stop-color="#ffebed"/><stop offset="95.2%" stop-color="#feb4be"/><stop offset="100%" stop-color="#feadb8"/></linearGradient><linearGradient id="r182" gradientUnits="userSpaceOnUse" x1="22" x2="126" y1="0" y2="0"><stop offset="0%" stop-color="#ffffff"/><stop offset="65.4%" stop-color="#fffafb"/><stop offset="77.9%" stop-color="#ffeaed"/><stop offset="97.1%" stop-color="#feb6bf"/><stop offset="100%" stop-color="#feb1bb"/></linearGradient><linearGradient id="r183" gradientUnits="userSpaceOnUse" x1="22" x2="126" y1="0" y2="0"><stop offset="0%" stop-color="#ffffff"/><stop offset="67.3%" stop-color="#fffafb"/><stop offset="79.8%" stop-color="#ffeaed"/><stop offset="98.1%" stop-color="#feb9c2"/><stop offset="100%" stop-color="#feb6bf"/></linearGradient><linearGradient id="r184" gradientUnits="userSpaceOnUse" x1="22" x2="126" y1="0" y2="0"><stop offset="0%" stop-color="#ffffff"/><stop offset="68.3%" stop-color="#fffbfb"/><stop offset="81.7%" stop-color="#ffeaec"/><stop offset="100%" stop-color="#febac3"/></linearGradient><linearGradient id="r185" gradientUnits="userSpaceOnUse" x1="22" x2="126" y1="0" y2="0"><stop offset="0%" stop-color="#ffffff"/><stop offset="70.2%" stop-color="#fffbfb"/><stop offset="83.7%" stop-color="#ffe9ec"/><stop offset="100%" stop-color="#febfc7"/></linearGradient><linearGradient id="r186" gradientUnits="userSpaceOnUse" x1="22" x2="126" y1="0" y2="0"><stop offset="0%" stop-color="#ffffff"/><stop offset="72.1%" stop-color="#fffbfb"/><stop offset="85.6%" stop-color="#ffe9ec"/><stop offset="100%" stop-color="#fec4cb"/></linearGradient><linearGradient id="r187" gradientUnits="userSpaceOnUse" x1="22" x2="126" y1="0" y2="0"><stop offset="0%" stop-color="#ffffff"/><stop offset="74%" stop-color="#fffbfb"/><stop offset="87.5%" stop-color="#ffe9ec"/><stop offset="100%" stop-color="#fec9d0"/></linearGradient><linearGradient id="r188" gradientUnits="userSpaceOnUse" x1="22" x2="126" y1="0" y2="0"><stop offset="0%" stop-color="#ffffff"/><stop offset="76%" stop-color="#fffbfb"/><stop offset="89.4%" stop-color="#ffeaed"/><stop offset="100%" stop-color="#fecfd5"/></linearGradient><linearGradient id="r189" gradientUnits="userSpaceOnUse" x1="22" x2="126" y1="0" y2="0"><stop offset="0%" stop-color="#ffffff"/><stop offset="77.9%" stop-color="#fffbfb"/><stop offset="91.3%" stop-color="#ffeaed"/><stop offset="100%" stop-color="#fed5da"/></linearGradient><linearGradient id="r190" gradientUnits="userSpaceOnUse" x1="22" x2="126" y1="0" y2="0"><stop offset="0%" stop-color="#ffffff"/><stop offset="79.8%" stop-color="#fffbfc"/><stop offset="93.3%" stop-color="#ffebed"/><stop offset="100%" stop-color="#ffdbdf"/></linearGradient><linearGradient id="r191" gradientUnits="userSpaceOnUse" x1="22" x2="126" y1="0" y2="0"><stop offset="0%" stop-color="#ffffff"/><stop offset="81.7%" stop-color="#fffbfc"/><stop offset="95.2%" stop-color="#ffebee"/><stop offset="100%" stop-color="#ffe0e4"/></linearGradient><linearGradient id="r192" gradientUnits="userSpaceOnUse" x1="22" x2="126" y1="0" y2="0"><stop offset="0%" stop-color="#ffffff"/><stop offset="84.6%" stop-color="#fffbfb"/><stop offset="98.1%" stop-color="#ffeaed"/><stop offset="100%" stop-color="#ffe6e9"/></linearGradient><linearGradient id="r193" gradientUnits="userSpaceOnUse" x1="22" x2="126" y1="0" y2="0"><stop offset="0%" stop-color="#ffffff"/><stop offset="86.5%" stop-color="#fffbfb"/><stop offset="100%" stop-color="#ffebed"/></linearGradient><linearGradient id="r194" gradientUnits="userSpaceOnUse" x1="22" x2="126" y1="0" y2="0"><stop offset="0%" stop-color="#ffffff"/><stop offset="87.5%" stop-color="#fffbfb"/><stop offset="100%" stop-color="#ffedef"/></linearGradient><linearGradient id="r195" gradientUnits="userSpaceOnUse" x1="22" x2="126" y1="0" y2="0"><stop offset="0%" stop-color="#ffffff"/><stop offset="87.5%" stop-color="#fffbfb"/><stop offset="100%" stop-color="#ffedef"/></linearGradient><linearGradient id="lb196" x1="0" x2="1" y1="0" y2="0"><stop offset="0%" stop-color="#1eea1e"/><stop offset="2.5%" stop-color="#29eb29"/><stop offset="5%" stop-color="#34ec34"/><stop offset="7.5%" stop-color="#40ed40"/><stop offset="10%" stop-color="#4bee4b"/><stop offset="12.5%" stop-color="#56ef56"/><stop offset="15%" stop-color="#62f062"/><stop offset="17.5%" stop-color="#6df16d"/><stop offset="20%" stop-color="#78f278"/><stop offset="22.5%" stop-color="#83f383"/><stop offset="25%" stop-color="#8ef48e"/><stop offset="27.5%" stop-color="#9af69a"/><stop offset="30%" stop-color="#a5f7a5"/><stop offset="32.5%" stop-color="#b0f8b0"/><stop offset="35%" stop-color="#bcf9bc"/><stop offset="37.5%" stop-color="#c7fac7"/><stop offset="40%" stop-color="#d2fbd2"/><stop offset="42.5%" stop-color="#ddfcdd"/><stop offset="45%" stop-color="#e8fde8"/><stop offset="47.5%" stop-color="#f4fef4"/><stop offset="50%" stop-color="#ffffff"/><stop offset="52.5%" stop-color="#fff3f5"/><stop offset="55%" stop-color="#ffe8eb"/><stop offset="57.5%" stop-color="#ffdce1"/><stop offset="60%" stop-color="#fed0d6"/><stop offset="62.5%" stop-color="#fec5cc"/><stop offset="65%" stop-color="#feb9c2"/><stop offset="67.5%" stop-color="#feadb8"/><stop offset="70%" stop-color="#fea2ae"/><stop offset="72.5%" stop-color="#fe96a4"/><stop offset="75%" stop-color="#fe8a9a"/><stop offset="77.5%" stop-color="#fd7f8f"/><stop offset="80%" stop-color="#fd7385"/><stop offset="82.5%" stop-color="#fd687b"/><stop offset="85%" stop-color="#fd5c71"/><stop offset="87.5%" stop-color="#fd5067"/><stop offset="90%" stop-color="#fd455d"/><stop offset="92.5%" stop-color="#fc3952"/><stop offset="95%" stop-color="#fc2d48"/><stop offset="97.5%" stop-color="#fc223e"/><stop offset="100%" stop-color="#fc1634"/></linearGradient><linearGradient id="lb197" x1="0" x2="1" y1="0" y2="0"><stop offset="0%" stop-color="#1eea1e"/><stop offset="2.5%" stop-color="#29eb29"/><stop offset="5%" stop-color="#34ec34"/><stop offset="7.5%" stop-color="#40ed40"/><stop offset="10%" stop-color="#4bee4b"/><stop offset="12.5%" stop-color="#56ef56"/><stop offset="15%" stop-color="#62f062"/><stop offset="17.5%" stop-color="#6df16d"/><stop offset="20%" stop-color="#78f278"/><stop offset="22.5%" stop-color="#83f383"/><stop offset="25%" stop-color="#8ef48e"/><stop offset="27.5%" stop-color="#9af69a"/><stop offset="30%" stop-color="#a5f7a5"/><stop offset="32.5%" stop-color="#b0f8b0"/><stop offset="35%" stop-color="#bcf9bc"/><stop offset="37.5%" stop-color="#c7fac7"/><stop offset="40%" stop-color="#d2fbd2"/><stop offset="42.5%" stop-color="#ddfcdd"/><stop offset="45%" stop-color="#e8fde8"/><stop offset="47.5%" stop-color="#f4fef4"/><stop offset="50%" stop-color="#ffffff"/><stop offset="52.5%" stop-color="#fff2f2"/><stop offset="55%" stop-color="#ffe5e5"/><stop offset="57.5%" stop-color="#ffd9d9"/><stop offset="60%" stop-color="#ffcccc"/><stop offset="62.5%" stop-color="#ffbfbf"/><stop offset="65%" stop-color="#ffb2b2"/><stop offset="67.5%" stop-color="#ffa6a6"/><stop offset="70%" stop-color="#ff9999"/><stop offset="72.5%" stop-color="#ff8c8c"/><stop offset="75%" stop-color="#ff8080"/><stop offset="77.5%" stop-color="#ff7373"/><stop offset="80%" stop-color="#ff6666"/><stop offset="82.5%" stop-color="#ff5959"/><stop offset="85%" stop-color="#ff4c4c"/><stop offset="87.5%" stop-color="#ff4040"/><stop offset="90%" stop-color="#ff3333"/><stop offset="92.5%" stop-color="#ff2626"/><stop offset="95%" stop-color="#ff1a1a"/><stop offset="97.5%" stop-color="#ff0d0d"/><stop offset="100%" stop-color="#ff0000"/></linearGradient><clipPath id="c198"><rect x="322" y="586.25" width="99" height="117.25"/></clipPath><linearGradient id="r199" gradientUnits="userSpaceOnUse" x1="322" x2="421" y1="0" y2="0"><stop offset="0%" stop-color="#ffe6e6"/><stop offset="20.2%" stop-color="#ffd0d0"/><stop offset="34.3%" stop-color="#ffd9d9"/><stop offset="46.5%" stop-color="#ffecec"/><stop offset="50.5%" stop-color="#fffdfd"/><stop offset="54.5%" stop-color="#e9fde9"/><stop offset="66.7%" stop-color="#9af69a"/><stop offset="76.8%" stop-color="#71f271"/><stop offset="89.9%" stop-color="#56ef56"/><stop offset="100%" stop-color="#4bee4b"/></linearGradient><linearGradient id="r200" gradientUnits="userSpaceOnUse" x1="322" x2="421" y1="0" y2="0"><stop offset="0%" stop-color="#ffe6e6"/><stop offset="20.2%" stop-color="#ffd0d0"/><stop offset="34.3%" stop-color="#ffd9d9"/><stop offset="46.5%" stop-color="#ffecec"/><stop offset="50.5%" stop-color="#fffdfd"/><stop offset="54.5%" stop-color="#e9fde9"/><stop offset="66.7%" stop-color="#9af69a"/><stop offset="76.8%" stop-color="#71f271"/><stop offset="89.9%" stop-color="#56ef56"/><stop offset="100%" stop-color="#4bee4b"/></linearGradient><linearGradient id="r201" gradientUnits="userSpaceOnUse" x1="322" x2="421" y1="0" y2="0"><stop offset="0%" stop-color="#ffe6e6"/><stop offset="19.2%" stop-color="#ffd0d0"/><stop offset="32.3%" stop-color="#ffd7d7"/><stop offset="46.5%" stop-color="#ffeded"/><stop offset="50.5%" stop-color="#fffefe"/><stop offset="56.6%" stop-color="#dbfcdb"/><stop offset="66.7%" stop-color="#99f599"/><stop offset="75.8%" stop-color="#73f273"/><stop offset="88.9%" stop-color="#58ef58"/><stop offset="100%" stop-color="#4cee4c"/></linearGradient><linearGradient id="r202" gradientUnits="userSpaceOnUse" x1="322" x2="421" y1="0" y2="0"><stop offset="0%" stop-color="#ffe7e7"/><stop offset="18.2%" stop-color="#ffd1d1"/><stop offset="30.3%" stop-color="#ffd5d5"/><stop offset="46.5%" stop-color="#ffeeee"/><stop offset="50.5%" stop-color="#ffffff"/><stop offset="60.6%" stop-color="#bdf9bd"/><stop offset="69.7%" stop-color="#88f488"/><stop offset="79.8%" stop-color="#67f167"/><stop offset="100%" stop-color="#4cee4c"/></linearGradient><linearGradient id="r203" gradientUnits="userSpaceOnUse" x1="322" x2="421" y1="0" y2="0"><stop offset="0%" stop-color="#ffe8e8"/><stop offset="18.2%" stop-color="#ffd1d1"/><stop offset="30.3%" stop-color="#ffd6d6"/><stop offset="46.5%" stop-color="#ffefef"/><stop offset="50.5%" stop-color="#fefffe"/><stop offset="61.6%" stop-color="#b4f8b4"/><stop offset="70.7%" stop-color="#82f382"/><stop offset="80.8%" stop-color="#64f164"/><stop offset="100%" stop-color="#4dee4d"/></linearGradient><linearGradient id="r204" gradientUnits="userSpaceOnUse" x1="322" x2="421" y1="0" y2="0"><stop offset="0%" stop-color="#ffeaea"/><stop offset="18.2%" stop-color="#ffd2d2"/><stop offset="30.3%" stop-color="#ffd7d7"/><stop offset="46.5%" stop-color="#fff0f0"/><stop offset="50.5%" stop-color="#fdfffd"/><stop offset="60.6%" stop-color="#baf9ba"/><stop offset="69.7%" stop-color="#85f485"/><stop offset="78.8%" stop-color="#67f167"/><stop offset="100%" stop-color="#4dee4d"/></linearGradient><linearGradient id="r205" gradientUnits="userSpaceOnUse" x1="322" x2="421" y1="0" y2="0"><stop offset="0%" stop-color="#ffebeb"/><stop offset="18.2%" stop-color="#ffd4d4"/><stop offset="30.3%" stop-color="#ffd9d9"/><stop offset="46.5%" stop-color="#fff1f1"/><stop offset="49.5%" stop-color="#fffdfd"/><stop offset="52.5%" stop-color="#f1fef1"/><stop offset="66.7%" stop-color="#92f592"/><stop offset="75.8%" stop-color="#6df16d"/><stop offset="87.9%" stop-color="#59f059"/><stop offset="100%" stop-color="#4eee4e"/></linearGradient><linearGradient id="r206" gradientUnits="userSpaceOnUse" x1="322" x2="421" y1="0" y2="0"><stop offset="0%" stop-color="#ffecec"/><stop offset="18.2%" stop-color="#ffd6d6"/><stop offset="30.3%" stop-color="#ffdada"/><stop offset="46.5%" stop-color="#fff3f3"/><stop offset="49.5%" stop-color="#ffffff"/><stop offset="56.6%" stop-color="#d4fbd4"/><stop offset="66.7%" stop-color="#90f590"/><stop offset="74.7%" stop-color="#6ef26e"/><stop offset="85.9%" stop-color="#5bf05b"/><stop offset="100%" stop-color="#4eee4e"/></linearGradient><linearGradient id="r207" gradientUnits="userSpaceOnUse" x1="322" x2="421" y1="0" y2="0"><stop offset="0%" stop-color="#ffeeee"/><stop offset="19.2%" stop-color="#ffd7d7"/><stop offset="32.3%" stop-color="#ffdfdf"/><stop offset="46.5%" stop-color="#fff5f5"/><stop offset="49.5%" stop-color="#fefffe"/><stop offset="56.6%" stop-color="#d2fbd2"/><stop offset="66.7%" stop-color="#8ff58f"/><stop offset="74.7%" stop-color="#6df16d"/><stop offset="85.9%" stop-color="#5af05a"/><stop offset="100%" stop-color="#4eef4e"/></linearGradient><linearGradient id="r208" gradientUnits="userSpaceOnUse" x1="322" x2="421" y1="0" y2="0"><stop offset="0%" stop-color="#fff0f0"/><stop offset="19.2%" stop-color="#ffd9d9"/><stop offset="32.3%" stop-color="#ffe0e0"/><stop offset="46.5%" stop-color="#fff6f6"/><stop offset="48.5%" stop-color="#fffefe"/><stop offset="52.5%" stop-color="#ecfdec"/><stop offset="66.7%" stop-color="#8df48d"/><stop offset="74.7%" stop-color="#6bf16b"/><stop offset="84.8%" stop-color="#59f059"/><stop offset="100%" stop-color="#4fef4f"/></linearGradient><linearGradient id="r209" gradientUnits="userSpaceOnUse" x1="322" x2="421" y1="0" y2="0"><stop offset="0%" stop-color="#fff2f2"/><stop offset="19.2%" stop-color="#ffdcdc"/><stop offset="32.3%" stop-color="#ffe2e2"/><stop offset="46.5%" stop-color="#fff8f8"/><stop offset="48.5%" stop-color="#ffffff"/><stop offset="54.5%" stop-color="#ddfcdd"/><stop offset="65.7%" stop-color="#91f591"/><stop offset="73.7%" stop-color="#6cf16c"/><stop offset="83.8%" stop-color="#59f059"/><stop offset="100%" stop-color="#4fef4f"/></linearGradient><linearGradient id="r210" gradientUnits="userSpaceOnUse" x1="322" x2="421" y1="0" y2="0"><stop offset="0%" stop-color="#fff3f3"/><stop offset="20.2%" stop-color="#ffdede"/><stop offset="34.3%" stop-color="#ffe7e7"/><stop offset="46.5%" stop-color="#fffafa"/><stop offset="48.5%" stop-color="#fdfffd"/><stop offset="54.5%" stop-color="#dcfcdc"/><stop offset="66.7%" stop-color="#89f489"/><stop offset="74.7%" stop-color="#68f168"/><stop offset="84.8%" stop-color="#57ef57"/><stop offset="100%" stop-color="#4fef4f"/></linearGradient><linearGradient id="r211" gradientUnits="userSpaceOnUse" x1="322" x2="421" y1="0" y2="0"><stop offset="0%" stop-color="#fff5f5"/><stop offset="21.2%" stop-color="#ffe0e0"/><stop offset="37.4%" stop-color="#ffecec"/><stop offset="46.5%" stop-color="#fffcfc"/><stop offset="47.5%" stop-color="#ffffff"/><stop offset="53.5%" stop-color="#e1fce1"/><stop offset="66.7%" stop-color="#88f488"/><stop offset="74.7%" stop-color="#66f166"/><stop offset="84.8%" stop-color="#55ef55"/><stop offset="100%" stop-color="#4fef4f"/></linearGradient><linearGradient id="r212" gradientUnits="userSpaceOnUse" x1="322" x2="421" y1="0" y2="0"><stop offset="0%" stop-color="#fff7f7"/><stop offset="21.2%" stop-color="#ffe3e3"/><stop offset="37.4%" stop-color="#ffeeee"/><stop offset="47.5%" stop-color="#fdfffd"/><stop offset="53.5%" stop-color="#dffcdf"/><stop offset="66.7%" stop-color="#86f486"/><stop offset="74.7%" stop-color="#64f164"/><stop offset="84.8%" stop-color="#54ef54"/><stop offset="100%" stop-color="#4eef4e"/></linearGradient><linearGradient id="r213" gradientUnits="userSpaceOnUse" x1="322" x2="421" y1="0" y2="0"><stop offset="0%" stop-color="#fff8f8"/><stop offset="22.2%" stop-color="#ffe5e5"/><stop offset="40.4%" stop-color="#fff4f4"/><stop offset="46.5%" stop-color="#fefffe"/><stop offset="52.5%" stop-color="#e4fce4"/><stop offset="66.7%" stop-color="#84f484"/><stop offset="74.7%" stop-color="#62f062"/><stop offset="84.8%" stop-color="#52ef52"/><stop offset="100%" stop-color="#4eee4e"/></linearGradient><linearGradient id="r214" gradientUnits="userSpaceOnUse" x1="322" x2="421" y1="0" y2="0"><stop offset="0%" stop-color="#fffafa"/><stop offset="23.2%" stop-color="#ffe8e8"/><stop offset="42.4%" stop-color="#fff8f8"/><stop offset="46.5%" stop-color="#fdfffd"/><stop offset="52.5%" stop-color="#e2fce2"/><stop offset="66.7%" stop-color="#83f383"/><stop offset="74.7%" stop-color="#61f061"/><stop offset="84.8%" stop-color="#50ef50"/><stop offset="100%" stop-color="#4dee4d"/></linearGradient><linearGradient id="r215" gradientUnits="userSpaceOnUse" x1="322" x2="421" y1="0" y2="0"><stop offset="0%" stop-color="#fffbfb"/><stop offset="24.2%" stop-color="#ffeaea"/><stop offset="43.4%" stop-color="#fffcfc"/><stop offset="46.5%" stop-color="#fbfffb"/><stop offset="52.5%" stop-color="#e0fce0"/><stop offset="66.7%" stop-color="#81f381"/><stop offset="74.7%" stop-color="#5ff05f"/><stop offset="84.8%" stop-color="#4fef4f"/><stop offset="100%" stop-color="#4cee4c"/></linearGradient><linearGradient id="r216" gradientUnits="userSpaceOnUse" x1="322" x2="421" y1="0" y2="0"><stop offset="0%" stop-color="#fffcfc"/><stop offset="24.2%" stop-color="#ffeded"/><stop offset="45.5%" stop-color="#fcfffc"/><stop offset="51.5%" stop-color="#e5fde5"/><stop offset="66.7%" stop-color="#7ff37f"/><stop offset="74.7%" stop-color="#5ef05e"/><stop offset="84.8%" stop-color="#4dee4d"/><stop offset="100%" stop-color="#4bee4b"/></linearGradient><linearGradient id="r217" gradientUnits="userSpaceOnUse" x1="322" x2="421" y1="0" y2="0"><stop offset="0%" stop-color="#fffefe"/><stop offset="25.3%" stop-color="#ffefef"/><stop offset="44.4%" stop-color="#fdfffd"/><stop offset="50.5%" stop-color="#e8fde8"/><stop offset="60.6%" stop-color="#a4f7a4"/><stop offset="68.7%" stop-color="#74f274"/><stop offset="76.8%" stop-color="#57ef57"/><stop offset="87.9%" stop-color="#4aee4a"/><stop offset="100%" stop-color="#4aee4a"/></linearGradient><linearGradient id="r218" gradientUnits="userSpaceOnUse" x1="322" x2="421" y1="0" y2="0"><stop offset="0%" stop-color="#fffefe"/><stop offset="25.3%" stop-color="#fff1f1"/><stop offset="43.4%" stop-color="#fdfffd"/><stop offset="50.5%" stop-color="#e7fde7"/><stop offset="61.6%" stop-color="#9cf69c"/><stop offset="69.7%" stop-color="#6df16d"/><stop offset="77.8%" stop-color="#53ef53"/><stop offset="88.9%" stop-color="#48ee48"/><stop offset="100%" stop-color="#49ee49"/></linearGradient><linearGradient id="r219" gradientUnits="userSpaceOnUse" x1="322" x2="421" y1="0" y2="0"><stop offset="0%" stop-color="#ffffff"/><stop offset="26.3%" stop-color="#fff3f3"/><stop offset="42.4%" stop-color="#fefffe"/><stop offset="49.5%" stop-color="#ebfdeb"/><stop offset="57.6%" stop-color="#b8f8b8"/><stop offset="66.7%" stop-color="#7bf37b"/><stop offset="74.7%" stop-color="#59f059"/><stop offset="84.8%" stop-color="#48ee48"/><stop offset="100%" stop-color="#47ee47"/></linearGradient><linearGradient id="r220" gradientUnits="userSpaceOnUse" x1="322" x2="421" y1="0" y2="0"><stop offset="0%" stop-color="#fefffe"/><stop offset="26.3%" stop-color="#fff4f4"/><stop offset="41.4%" stop-color="#fefffe"/><stop offset="48.5%" stop-color="#eefdee"/><stop offset="55.6%" stop-color="#c5fac5"/><stop offset="66.7%" stop-color="#7af37a"/><stop offset="74.7%" stop-color="#58ef58"/><stop offset="84.8%" stop-color="#46ee46"/><stop offset="100%" stop-color="#45ee45"/></linearGradient><linearGradient id="r221" gradientUnits="userSpaceOnUse" x1="322" x2="421" y1="0" y2="0"><stop offset="0%" stop-color="#fefffe"/><stop offset="27.3%" stop-color="#fff6f6"/><stop offset="40.4%" stop-color="#fefffe"/><stop offset="48.5%" stop-color="#ecfdec"/><stop offset="55.6%" stop-color="#c4f9c4"/><stop offset="65.7%" stop-color="#7ef37e"/><stop offset="73.7%" stop-color="#5af05a"/><stop offset="83.8%" stop-color="#46ee46"/><stop offset="100%" stop-color="#43ed43"/></linearGradient><linearGradient id="r222" gradientUnits="userSpaceOnUse" x1="322" x2="421" y1="0" y2="0"><stop offset="0%" stop-color="#fefffe"/><stop offset="27.3%" stop-color="#fff7f7"/><stop offset="39.4%" stop-color="#fefffe"/><stop offset="47.5%" stop-color="#effeef"/><stop offset="53.5%" stop-color="#d1fbd1"/><stop offset="65.7%" stop-color="#7df37d"/><stop offset="73.7%" stop-color="#59f059"/><stop offset="83.8%" stop-color="#44ee44"/><stop offset="100%" stop-color="#40ed40"/></linearGradient><linearGradient id="r223" gradientUnits="userSpaceOnUse" x1="322" x2="421" y1="0" y2="0"><stop offset="0%" stop-color="#fefffe"/><stop offset="27.3%" stop-color="#fff8f8"/><stop offset="39.4%" stop-color="#fdfffd"/><stop offset="47.5%" stop-color="#eefdee"/><stop offset="53.5%" stop-color="#d0fbd0"/><stop offset="65.7%" stop-color="#7cf37c"/><stop offset="73.7%" stop-color="#58ef58"/><stop offset="83.8%" stop-color="#43ed43"/><stop offset="100%" stop-color="#3eed3e"/></linearGradient><linearGradient id="r224" gradientUnits="userSpaceOnUse" x1="322" x2="421" y1="0" y2="0"><stop offset="0%" stop-color="#fefffe"/><stop offset="27.3%" stop-color="#fff9f9"/><stop offset="38.4%" stop-color="#fdfffd"/><stop offset="47.5%" stop-color="#edfded"/><stop offset="53.5%" stop-color="#cffbcf"/><stop offset="65.7%" stop-color="#7bf37b"/><stop offset="74.7%" stop-color="#54ef54"/><stop offset="84.8%" stop-color="#41ed41"/><stop offset="100%" stop-color="#3ced3c"/></linearGradient><linearGradient id="r225" gradientUnits="userSpaceOnUse" x1="322" x2="421" y1="0" y2="0"><stop offset="0%" stop-color="#fefffe"/><stop offset="27.3%" stop-color="#fffafa"/><stop offset="37.4%" stop-color="#fdfffd"/><stop offset="46.5%" stop-color="#f0fef0"/><stop offset="52.5%" stop-color="#d5fbd5"/><stop offset="65.7%" stop-color="#7bf37b"/><stop offset="74.7%" stop-color="#53ef53"/><stop offset="84.8%" stop-color="#40ed40"/><stop offset="100%" stop-color="#39ed39"/></linearGradient><linearGradient id="r226" gradientUnits="userSpaceOnUse" x1="322" x2="421" y1="0" y2="0"><stop offset="0%" stop-color="#ffffff"/><stop offset="27.3%" stop-color="#fffafa"/><stop offset="37.4%" stop-color="#fcfffc"/><stop offset="46.5%" stop-color="#effeef"/><stop offset="52.5%" stop-color="#d4fbd4"/><stop offset="65.7%" stop-color="#7af37a"/><stop offset="74.7%" stop-color="#53ef53"/><stop offset="85.9%" stop-color="#3eed3e"/><stop offset="100%" stop-color="#38ec38"/></linearGradient><linearGradient id="r227" gradientUnits="userSpaceOnUse" x1="322" x2="421" y1="0" y2="0"><stop offset="0%" stop-color="#ffffff"/><stop offset="27.3%" stop-color="#fffbfb"/><stop offset="36.4%" stop-color="#fdfffd"/><stop offset="46.5%" stop-color="#effdef"/><stop offset="52.5%" stop-color="#d4fbd4"/><stop offset="65.7%" stop-color="#7af37a"/><stop offset="74.7%" stop-color="#52ef52"/><stop offset="85.9%" stop-color="#3eed3e"/><stop offset="100%" stop-color="#36ec36"/></linearGradient><linearGradient id="r228" gradientUnits="userSpaceOnUse" x1="322" x2="421" y1="0" y2="0"><stop offset="0%" stop-color="#ffffff"/><stop offset="27.3%" stop-color="#fffbfb"/><stop offset="36.4%" stop-color="#fcfffc"/><stop offset="46.5%" stop-color="#eefdee"/><stop offset="52.5%" stop-color="#d3fbd3"/><stop offset="66.7%" stop-color="#74f274"/><stop offset="75.8%" stop-color="#4fef4f"/><stop offset="86.9%" stop-color="#3ced3c"/><stop offset="100%" stop-color="#35ec35"/></linearGradient><linearGradient id="r229" gradientUnits="userSpaceOnUse" x1="322" x2="421" y1="0" y2="0"><stop offset="0%" stop-color="#ffffff"/><stop offset="27.3%" stop-color="#fffcfc"/><stop offset="36.4%" stop-color="#fcfffc"/><stop offset="46.5%" stop-color="#eefdee"/><stop offset="52.5%" stop-color="#d3fbd3"/><stop offset="66.7%" stop-color="#74f274"/><stop offset="75.8%" stop-color="#4fef4f"/><stop offset="86.9%" stop-color="#3ced3c"/><stop offset="100%" stop-color="#34ec34"/></linearGradient><linearGradient id="r230" gradientUnits="userSpaceOnUse" x1="322" x2="421" y1="0" y2="0"><stop offset="0%" stop-color="#ffffff"/><stop offset="28.3%" stop-color="#fffdfd"/><stop offset="39.4%" stop-color="#f9fef9"/><stop offset="47.5%" stop-color="#eafdea"/><stop offset="53.5%" stop-color="#ccfacc"/><stop offset="66.7%" stop-color="#74f274"/><stop offset="75.8%" stop-color="#4fef4f"/><stop offset="86.9%" stop-color="#3ced3c"/><stop offset="100%" stop-color="#33ec33"/></linearGradient><linearGradient id="r231" gradientUnits="userSpaceOnUse" x1="322" x2="421" y1="0" y2="0"><stop offset="0%" stop-color="#ffffff"/><stop offset="29.3%" stop-color="#fffefe"/><stop offset="43.4%" stop-color="#f4fef4"/><stop offset="50.5%" stop-color="#defcde"/><stop offset="67.7%" stop-color="#6ff26f"/><stop offset="76.8%" stop-color="#4cee4c"/><stop offset="88.9%" stop-color="#3aed3a"/><stop offset="100%" stop-color="#33ec33"/></linearGradient><linearGradient id="r232" gradientUnits="userSpaceOnUse" x1="322" x2="421" y1="0" y2="0"><stop offset="0%" stop-color="#ffffff"/><stop offset="36.4%" stop-color="#fcfffc"/><stop offset="46.5%" stop-color="#edfded"/><stop offset="52.5%" stop-color="#d2fbd2"/><stop offset="66.7%" stop-color="#75f275"/><stop offset="75.8%" stop-color="#4fef4f"/><stop offset="86.9%" stop-color="#3ced3c"/><stop offset="100%" stop-color="#34ec34"/></linearGradient><linearGradient id="r233" gradientUnits="userSpaceOnUse" x1="322" x2="421" y1="0" y2="0"><stop offset="0%" stop-color="#ffffff"/><stop offset="36.4%" stop-color="#fbfffb"/><stop offset="46.5%" stop-color="#edfded"/><stop offset="52.5%" stop-color="#d2fbd2"/><stop offset="66.7%" stop-color="#76f276"/><stop offset="75.8%" stop-color="#50ef50"/><stop offset="86.9%" stop-color="#3ded3d"/><stop offset="100%" stop-color="#35ec35"/></linearGradient><linearGradient id="r234" gradientUnits="userSpaceOnUse" x1="322" x2="421" y1="0" y2="0"><stop offset="0%" stop-color="#ffffff"/><stop offset="36.4%" stop-color="#fcfffc"/><stop offset="46.5%" stop-color="#edfded"/><stop offset="52.5%" stop-color="#d3fbd3"/><stop offset="67.7%" stop-color="#72f272"/><stop offset="76.8%" stop-color="#4eee4e"/><stop offset="88.9%" stop-color="#3ced3c"/><stop offset="100%" stop-color="#36ec36"/></linearGradient><linearGradient id="r235" gradientUnits="userSpaceOnUse" x1="322" x2="421" y1="0" y2="0"><stop offset="0%" stop-color="#ffffff"/><stop offset="36.4%" stop-color="#fcfffc"/><stop offset="46.5%" stop-color="#edfded"/><stop offset="53.5%" stop-color="#cdfacd"/><stop offset="67.7%" stop-color="#73f273"/><stop offset="76.8%" stop-color="#4fef4f"/><stop offset="87.9%" stop-color="#3eed3e"/><stop offset="100%" stop-color="#37ec37"/></linearGradient><linearGradient id="r236" gradientUnits="userSpaceOnUse" x1="322" x2="421" y1="0" y2="0"><stop offset="0%" stop-color="#ffffff"/><stop offset="37.4%" stop-color="#fbfffb"/><stop offset="46.5%" stop-color="#edfded"/><stop offset="53.5%" stop-color="#ceface"/><stop offset="67.7%" stop-color="#74f274"/><stop offset="76.8%" stop-color="#51ef51"/><stop offset="87.9%" stop-color="#40ed40"/><stop offset="100%" stop-color="#39ed39"/></linearGradient><linearGradient id="r237" gradientUnits="userSpaceOnUse" x1="322" x2="421" y1="0" y2="0"><stop offset="0%" stop-color="#ffffff"/><stop offset="37.4%" stop-color="#fbfffb"/><stop offset="46.5%" stop-color="#edfded"/><stop offset="53.5%" stop-color="#ceface"/><stop offset="67.7%" stop-color="#76f276"/><stop offset="76.8%" stop-color="#53ef53"/><stop offset="87.9%" stop-color="#42ed42"/><stop offset="100%" stop-color="#3bed3b"/></linearGradient><linearGradient id="r238" gradientUnits="userSpaceOnUse" x1="322" x2="421" y1="0" y2="0"><stop offset="0%" stop-color="#ffffff"/><stop offset="38.4%" stop-color="#fbfffb"/><stop offset="47.5%" stop-color="#ebfdeb"/><stop offset="54.5%" stop-color="#c9fac9"/><stop offset="67.7%" stop-color="#78f278"/><stop offset="76.8%" stop-color="#55ef55"/><stop offset="87.9%" stop-color="#44ee44"/><stop offset="100%" stop-color="#3ded3d"/></linearGradient><linearGradient id="r239" gradientUnits="userSpaceOnUse" x1="322" x2="421" y1="0" y2="0"><stop offset="0%" stop-color="#ffffff"/><stop offset="39.4%" stop-color="#fafffa"/><stop offset="47.5%" stop-color="#ebfdeb"/><stop offset="54.5%" stop-color="#cafaca"/><stop offset="67.7%" stop-color="#7bf37b"/><stop offset="76.8%" stop-color="#58ef58"/><stop offset="88.9%" stop-color="#46ee46"/><stop offset="100%" stop-color="#40ed40"/></linearGradient><linearGradient id="r240" gradientUnits="userSpaceOnUse" x1="322" x2="421" y1="0" y2="0"><stop offset="0%" stop-color="#ffffff"/><stop offset="39.4%" stop-color="#fbfffb"/><stop offset="47.5%" stop-color="#ecfdec"/><stop offset="54.5%" stop-color="#ccfacc"/><stop offset="68.7%" stop-color="#79f279"/><stop offset="77.8%" stop-color="#58ef58"/><stop offset="89.9%" stop-color="#48ee48"/><stop offset="100%" stop-color="#43ed43"/></linearGradient><linearGradient id="r241" gradientUnits="userSpaceOnUse" x1="322" x2="421" y1="0" y2="0"><stop offset="0%" stop-color="#ffffff"/><stop offset="39.4%" stop-color="#fbfffb"/><stop offset="47.5%" stop-color="#edfded"/><stop offset="54.5%" stop-color="#cdfacd"/><stop offset="68.7%" stop-color="#7cf37c"/><stop offset="77.8%" stop-color="#5cf05c"/><stop offset="90.9%" stop-color="#4bee4b"/><stop offset="100%" stop-color="#46ee46"/></linearGradient><linearGradient id="r242" gradientUnits="userSpaceOnUse" x1="322" x2="421" y1="0" y2="0"><stop offset="0%" stop-color="#ffffff"/><stop offset="40.4%" stop-color="#fbfffb"/><stop offset="48.5%" stop-color="#ebfdeb"/><stop offset="56.6%" stop-color="#c3f9c3"/><stop offset="68.7%" stop-color="#80f380"/><stop offset="78.8%" stop-color="#5ef05e"/><stop offset="92.9%" stop-color="#4dee4d"/><stop offset="100%" stop-color="#4aee4a"/></linearGradient><linearGradient id="r243" gradientUnits="userSpaceOnUse" x1="322" x2="421" y1="0" y2="0"><stop offset="0%" stop-color="#ffffff"/><stop offset="40.4%" stop-color="#fcfffc"/><stop offset="48.5%" stop-color="#ecfdec"/><stop offset="56.6%" stop-color="#c5fac5"/><stop offset="68.7%" stop-color="#84f484"/><stop offset="78.8%" stop-color="#63f063"/><stop offset="92.9%" stop-color="#52ef52"/><stop offset="100%" stop-color="#4fef4f"/></linearGradient><linearGradient id="r244" gradientUnits="userSpaceOnUse" x1="322" x2="421" y1="0" y2="0"><stop offset="0%" stop-color="#ffffff"/><stop offset="40.4%" stop-color="#fcfffc"/><stop offset="48.5%" stop-color="#edfded"/><stop offset="57.6%" stop-color="#c2f9c2"/><stop offset="69.7%" stop-color="#85f485"/><stop offset="79.8%" stop-color="#66f166"/><stop offset="94.9%" stop-color="#56ef56"/><stop offset="100%" stop-color="#54ef54"/></linearGradient><linearGradient id="r245" gradientUnits="userSpaceOnUse" x1="322" x2="421" y1="0" y2="0"><stop offset="0%" stop-color="#ffffff"/><stop offset="41.4%" stop-color="#fcfffc"/><stop offset="49.5%" stop-color="#ebfdeb"/><stop offset="60.6%" stop-color="#b4f8b4"/><stop offset="71.7%" stop-color="#83f383"/><stop offset="82.8%" stop-color="#68f168"/><stop offset="100%" stop-color="#5bf05b"/></linearGradient><linearGradient id="r246" gradientUnits="userSpaceOnUse" x1="322" x2="421" y1="0" y2="0"><stop offset="0%" stop-color="#ffffff"/><stop offset="41.4%" stop-color="#fcfffc"/><stop offset="49.5%" stop-color="#edfded"/><stop offset="69.7%" stop-color="#90f590"/><stop offset="81.8%" stop-color="#71f271"/><stop offset="98%" stop-color="#62f062"/><stop offset="100%" stop-color="#62f062"/></linearGradient><linearGradient id="r247" gradientUnits="userSpaceOnUse" x1="322" x2="421" y1="0" y2="0"><stop offset="0%" stop-color="#ffffff"/><stop offset="42.4%" stop-color="#fcfffc"/><stop offset="50.5%" stop-color="#ebfdeb"/><stop offset="69.7%" stop-color="#97f597"/><stop offset="81.8%" stop-color="#79f279"/><stop offset="98%" stop-color="#6bf16b"/><stop offset="100%" stop-color="#6bf16b"/></linearGradient><linearGradient id="r248" gradientUnits="userSpaceOnUse" x1="322" x2="421" y1="0" y2="0"><stop offset="0%" stop-color="#ffffff"/><stop offset="43.4%" stop-color="#fcfffc"/><stop offset="51.5%" stop-color="#e9fde9"/><stop offset="69.7%" stop-color="#9ff69f"/><stop offset="82.8%" stop-color="#81f381"/><stop offset="99%" stop-color="#74f274"/><stop offset="100%" stop-color="#74f274"/></linearGradient><linearGradient id="r249" gradientUnits="userSpaceOnUse" x1="322" x2="421" y1="0" y2="0"><stop offset="0%" stop-color="#ffffff"/><stop offset="43.4%" stop-color="#fcfffc"/><stop offset="52.5%" stop-color="#e8fde8"/><stop offset="69.7%" stop-color="#a7f7a7"/><stop offset="83.8%" stop-color="#8af48a"/><stop offset="100%" stop-color="#7ff37f"/></linearGradient><linearGradient id="r250" gradientUnits="userSpaceOnUse" x1="322" x2="421" y1="0" y2="0"><stop offset="0%" stop-color="#ffffff"/><stop offset="44.4%" stop-color="#fcfffc"/><stop offset="53.5%" stop-color="#e7fde7"/><stop offset="69.7%" stop-color="#b1f8b1"/><stop offset="85.9%" stop-color="#94f594"/><stop offset="100%" stop-color="#8cf48c"/></linearGradient><linearGradient id="r251" gradientUnits="userSpaceOnUse" x1="322" x2="421" y1="0" y2="0"><stop offset="0%" stop-color="#ffffff"/><stop offset="44.4%" stop-color="#fdfffd"/><stop offset="54.5%" stop-color="#e8fde8"/><stop offset="70.7%" stop-color="#b9f8b9"/><stop offset="87.9%" stop-color="#9ff69f"/><stop offset="100%" stop-color="#9af69a"/></linearGradient><linearGradient id="r252" gradientUnits="userSpaceOnUse" x1="322" x2="421" y1="0" y2="0"><stop offset="0%" stop-color="#ffffff"/><stop offset="45.5%" stop-color="#fcfffc"/><stop offset="56.6%" stop-color="#e6fde6"/><stop offset="72.7%" stop-color="#c1f9c1"/><stop offset="91.9%" stop-color="#abf7ab"/><stop offset="100%" stop-color="#aaf7aa"/></linearGradient><linearGradient id="r253" gradientUnits="userSpaceOnUse" x1="322" x2="421" y1="0" y2="0"><stop offset="0%" stop-color="#ffffff"/><stop offset="46.5%" stop-color="#fcfffc"/><stop offset="75.8%" stop-color="#cafaca"/><stop offset="97%" stop-color="#bbf9bb"/><stop offset="100%" stop-color="#bbf9bb"/></linearGradient><linearGradient id="r254" gradientUnits="userSpaceOnUse" x1="322" x2="421" y1="0" y2="0"><stop offset="0%" stop-color="#ffffff"/><stop offset="48.5%" stop-color="#fcfffc"/><stop offset="77.8%" stop-color="#d8fbd8"/><stop offset="100%" stop-color="#ceface"/></linearGradient><linearGradient id="r255" gradientUnits="userSpaceOnUse" x1="322" x2="421" y1="0" y2="0"><stop offset="0%" stop-color="#ffffff"/><stop offset="51.5%" stop-color="#fbfffb"/><stop offset="85.9%" stop-color="#e6fde6"/><stop offset="100%" stop-color="#e3fce3"/></linearGradient><linearGradient id="r256" gradientUnits="userSpaceOnUse" x1="322" x2="421" y1="0" y2="0"><stop offset="0%" stop-color="#ffffff"/><stop offset="100%" stop-color="#fbfffb"/></linearGradient><linearGradient id="r257" gradientUnits="userSpaceOnUse" x1="322" x2="421" y1="0" y2="0"><stop offset="0%" stop-color="#ffffff"/><stop offset="100%" stop-color="#ffffff"/></linearGradient><linearGradient id="lb258" x1="0" x2="1" y1="0" y2="0"><stop offset="0%" stop-color="#1eea1e"/><stop offset="2.5%" stop-color="#29eb29"/><stop offset="5%" stop-color="#34ec34"/><stop offset="7.5%" stop-color="#40ed40"/><stop offset="10%" stop-color="#4bee4b"/><stop offset="12.5%" stop-color="#56ef56"/><stop offset="15%" stop-color="#62f062"/><stop offset="17.5%" stop-color="#6df16d"/><stop offset="20%" stop-color="#78f278"/><stop offset="22.5%" stop-color="#83f383"/><stop offset="25%" stop-color="#8ef48e"/><stop offset="27.5%" stop-color="#9af69a"/><stop offset="30%" stop-color="#a5f7a5"/><stop offset="32.5%" stop-color="#b0f8b0"/><stop offset="35%" stop-color="#bcf9bc"/><stop offset="37.5%" stop-color="#c7fac7"/><stop offset="40%" stop-color="#d2fbd2"/><stop offset="42.5%" stop-color="#ddfcdd"/><stop offset="45%" stop-color="#e8fde8"/><stop offset="47.5%" stop-color="#f4fef4"/><stop offset="50%" stop-color="#ffffff"/><stop offset="52.5%" stop-color="#fff2f2"/><stop offset="55%" stop-color="#ffe5e5"/><stop offset="57.5%" stop-color="#ffd9d9"/><stop offset="60%" stop-color="#ffcccc"/><stop offset="62.5%" stop-color="#ffbfbf"/><stop offset="65%" stop-color="#ffb2b2"/><stop offset="67.5%" stop-color="#ffa6a6"/><stop offset="70%" stop-color="#ff9999"/><stop offset="72.5%" stop-color="#ff8c8c"/><stop offset="75%" stop-color="#ff8080"/><stop offset="77.5%" stop-color="#ff7373"/><stop offset="80%" stop-color="#ff6666"/><stop offset="82.5%" stop-color="#ff5959"/><stop offset="85%" stop-color="#ff4c4c"/><stop offset="87.5%" stop-color="#ff4040"/><stop offset="90%" stop-color="#ff3333"/><stop offset="92.5%" stop-color="#ff2626"/><stop offset="95%" stop-color="#ff1a1a"/><stop offset="97.5%" stop-color="#ff0d0d"/><stop offset="100%" stop-color="#ff0000"/></linearGradient><filter id="blr" filterUnits="userSpaceOnUse" x="0" y="0" width="560" height="719" color-interpolation-filters="sRGB"><feConvolveMatrix order="3" kernelMatrix="0.0225 0.1050 0.0225 0.1050 0.4900 0.1050 0.0225 0.1050 0.0225" edgeMode="duplicate"/></filter></defs><g filter="url(#blr)"><rect width="560" height="719" fill="#fff"/><text x="0.6" y="11.4" font-size="11.3" fill="#111" stroke="#111" stroke-width="0.25">(A)</text>
<text x="114" y="11.7" font-size="14.3" fill="#111" textLength="49.1" lengthAdjust="spacingAndGlyphs">RMC2C</text>
<text x="386.9" y="11.7" font-size="14.3" fill="#111" textLength="54.2" lengthAdjust="spacingAndGlyphs">RMC219</text>
<text x="0.6" y="384" font-size="11.3" fill="#111" stroke="#111" stroke-width="0.25">(B)</text>
<text x="117.4" y="385.4" font-size="14.3" fill="#111" textLength="49.5" lengthAdjust="spacingAndGlyphs">RMC2C</text>
<text x="391.4" y="385.4" font-size="14.3" fill="#111" textLength="54.3" lengthAdjust="spacingAndGlyphs">RMC219</text>
<text x="21" y="28.5" font-size="7.1" stroke="#000" stroke-width="0.15">Dose-response curve for Pevonedistat</text>
<rect x="29.5" y="34" width="103" height="51.25" fill="none" stroke="#777" stroke-width="0.8"/>
<line x1="27.5" y1="80" x2="29.5" y2="80" stroke="#777" stroke-width="0.6"/>
<text x="25.7" y="81.2" font-size="3.4" text-anchor="end" fill="#333" stroke="#333" stroke-width="0.12">0</text>
<line x1="27.5" y1="71.88" x2="29.5" y2="71.88" stroke="#777" stroke-width="0.6"/>
<text x="25.7" y="73.08" font-size="3.4" text-anchor="end" fill="#333" stroke="#333" stroke-width="0.12">20</text>
<line x1="27.5" y1="63.76" x2="29.5" y2="63.76" stroke="#777" stroke-width="0.6"/>
<text x="25.7" y="64.96" font-size="3.4" text-anchor="end" fill="#333" stroke="#333" stroke-width="0.12">40</text>
<line x1="27.5" y1="55.64" x2="29.5" y2="55.64" stroke="#777" stroke-width="0.6"/>
<text x="25.7" y="56.84" font-size="3.4" text-anchor="end" fill="#333" stroke="#333" stroke-width="0.12">60</text>
<line x1="27.5" y1="47.52" x2="29.5" y2="47.52" stroke="#777" stroke-width="0.6"/>
<text x="25.7" y="48.72" font-size="3.4" text-anchor="end" fill="#333" stroke="#333" stroke-width="0.12">80</text>
<line x1="27.5" y1="39.4" x2="29.5" y2="39.4" stroke="#777" stroke-width="0.6"/>
<text x="25.7" y="40.6" font-size="3.4" text-anchor="end" fill="#333" stroke="#333" stroke-width="0.12">100</text>
<line x1="33" y1="85.25" x2="33" y2="87.05" stroke="#777" stroke-width="0.6"/>
<text x="33" y="93.15" font-size="3.4" text-anchor="middle" fill="#333" stroke="#333" stroke-width="0.12">0.2</text>
<line x1="75.45" y1="85.25" x2="75.45" y2="87.05" stroke="#777" stroke-width="0.6"/>
<text x="75.45" y="93.15" font-size="3.4" text-anchor="middle" fill="#333" stroke="#333" stroke-width="0.12">0.3</text>
<line x1="105.57" y1="85.25" x2="105.57" y2="87.05" stroke="#777" stroke-width="0.6"/>
<text x="105.57" y="93.15" font-size="3.4" text-anchor="middle" fill="#333" stroke="#333" stroke-width="0.12">0.4</text>
<text x="81" y="101.8" font-size="3.5" text-anchor="middle" stroke="#222" stroke-width="0.06">Concentration (uM)</text>
<polyline points="33,78.9 34.62,78.9 36.25,78.9 37.87,78.9 39.49,78.9 41.12,78.89 42.74,78.89 44.37,78.89 45.99,78.89 47.61,78.88 49.24,78.87 50.86,78.86 52.48,78.85 54.11,78.83 55.73,78.81 57.36,78.78 58.98,78.74 60.6,78.68 62.23,78.61 63.85,78.52 65.47,78.4 67.1,78.24 68.72,78.05 70.35,77.8 71.97,77.51 73.59,77.16 75.22,76.76 76.84,76.32 78.46,75.86 80.09,75.38 81.71,74.93 83.34,74.5 84.96,74.12 86.58,73.79 88.21,73.51 89.83,73.28 91.45,73.1 93.08,72.96 94.7,72.85 96.33,72.76 97.95,72.7 99.57,72.65 101.2,72.61 102.82,72.58 104.44,72.56 106.07,72.55 107.69,72.53 109.32,72.53 110.94,72.52 112.56,72.51 114.19,72.51 115.81,72.51 117.43,72.51 119.06,72.5 120.68,72.5 122.31,72.5 123.93,72.5 125.55,72.5 127.18,72.5 128.8,72.5" fill="none" stroke="#111" stroke-width="0.85"/>
<circle cx="33" cy="78.94" r="1.4" fill="#e8000b"/>
<circle cx="128.94" cy="72.5" r="1.4" fill="#e8000b"/>
<text x="20" y="117.5" font-size="7.1" stroke="#000" stroke-width="0.15">Dose-response curve for Carboplatin</text>
<rect x="29.5" y="124" width="102.75" height="47.25" fill="none" stroke="#777" stroke-width="0.8"/>
<line x1="27.5" y1="166.25" x2="29.5" y2="166.25" stroke="#777" stroke-width="0.6"/>
<text x="25.7" y="167.45" font-size="3.4" text-anchor="end" fill="#333" stroke="#333" stroke-width="0.12">0</text>
<line x1="27.5" y1="158.8" x2="29.5" y2="158.8" stroke="#777" stroke-width="0.6"/>
<text x="25.7" y="160" font-size="3.4" text-anchor="end" fill="#333" stroke="#333" stroke-width="0.12">20</text>
<line x1="27.5" y1="151.35" x2="29.5" y2="151.35" stroke="#777" stroke-width="0.6"/>
<text x="25.7" y="152.55" font-size="3.4" text-anchor="end" fill="#333" stroke="#333" stroke-width="0.12">40</text>
<line x1="27.5" y1="143.9" x2="29.5" y2="143.9" stroke="#777" stroke-width="0.6"/>
<text x="25.7" y="145.1" font-size="3.4" text-anchor="end" fill="#333" stroke="#333" stroke-width="0.12">60</text>
<line x1="27.5" y1="136.45" x2="29.5" y2="136.45" stroke="#777" stroke-width="0.6"/>
<text x="25.7" y="137.65" font-size="3.4" text-anchor="end" fill="#333" stroke="#333" stroke-width="0.12">80</text>
<line x1="27.5" y1="129" x2="29.5" y2="129" stroke="#777" stroke-width="0.6"/>
<text x="25.7" y="130.2" font-size="3.4" text-anchor="end" fill="#333" stroke="#333" stroke-width="0.12">100</text>
<line x1="33" y1="171.25" x2="33" y2="173.05" stroke="#777" stroke-width="0.6"/>
<text x="33" y="179.15" font-size="3.4" text-anchor="middle" fill="#333" stroke="#333" stroke-width="0.12">20</text>
<line x1="81.04" y1="171.25" x2="81.04" y2="173.05" stroke="#777" stroke-width="0.6"/>
<text x="81.04" y="179.15" font-size="3.4" text-anchor="middle" fill="#333" stroke="#333" stroke-width="0.12">40</text>
<line x1="109.13" y1="171.25" x2="109.13" y2="173.05" stroke="#777" stroke-width="0.6"/>
<text x="109.13" y="179.15" font-size="3.4" text-anchor="middle" fill="#333" stroke="#333" stroke-width="0.12">60</text>
<text x="81" y="187.7" font-size="3.5" text-anchor="middle" stroke="#222" stroke-width="0.06">Concentration (uM)</text>
<polyline points="33,159.8 34.63,159.5 36.25,159.2 37.88,158.9 39.51,158.6 41.14,158.29 42.76,157.98 44.39,157.67 46.02,157.36 47.64,157.04 49.27,156.72 50.9,156.4 52.53,156.07 54.15,155.75 55.78,155.42 57.41,155.09 59.03,154.76 60.66,154.42 62.29,154.09 63.92,153.75 65.54,153.41 67.17,153.07 68.8,152.73 70.42,152.38 72.05,152.03 73.68,151.69 75.31,151.34 76.93,150.99 78.56,150.63 80.19,150.28 81.81,149.92 83.44,149.57 85.07,149.21 86.69,148.85 88.32,148.49 89.95,148.13 91.58,147.77 93.2,147.4 94.83,147.03 96.46,146.65 98.08,146.27 99.71,145.89 101.34,145.49 102.97,145.09 104.59,144.68 106.22,144.26 107.85,143.84 109.47,143.4 111.1,142.95 112.73,142.49 114.36,142.01 115.98,141.53 117.61,141.03 119.24,140.52 120.86,140.01 122.49,139.48 124.12,138.95 125.75,138.4 127.37,137.86 129,137.3" fill="none" stroke="#111" stroke-width="0.85"/>
<circle cx="33" cy="159.79" r="1.4" fill="#e8000b"/>
<circle cx="81.04" cy="150.09" r="1.4" fill="#e8000b"/>
<circle cx="109.13" cy="143.51" r="1.4" fill="#e8000b"/>
<circle cx="129.07" cy="137.28" r="1.4" fill="#e8000b"/>
<text x="151.25" y="23.6" font-size="7.1" stroke="#000" stroke-width="0.15">Dose-response matrix (inhibition)</text>
<rect x="155" y="29.4" width="88.5" height="145.85" fill="#ebebeb"/>
<line x1="165.07" y1="29.4" x2="165.07" y2="175.25" stroke="#fafafa" stroke-width="0.7"/>
<line x1="182.22" y1="29.4" x2="182.22" y2="175.25" stroke="#fafafa" stroke-width="0.7"/>
<line x1="199.38" y1="29.4" x2="199.38" y2="175.25" stroke="#fafafa" stroke-width="0.7"/>
<line x1="216.52" y1="29.4" x2="216.52" y2="175.25" stroke="#fafafa" stroke-width="0.7"/>
<line x1="233.68" y1="29.4" x2="233.68" y2="175.25" stroke="#fafafa" stroke-width="0.7"/>
<line x1="155" y1="56.67" x2="243.5" y2="56.67" stroke="#fafafa" stroke-width="0.7"/>
<line x1="155" y1="102.5" x2="243.5" y2="102.5" stroke="#fafafa" stroke-width="0.7"/>
<line x1="155" y1="148.33" x2="243.5" y2="148.33" stroke="#fafafa" stroke-width="0.7"/>
<rect x="156.45" y="33.7" width="17.25" height="45.93" fill="#ffd9cc"/>
<rect x="173.6" y="33.7" width="17.25" height="45.93" fill="#ff6a48"/>
<rect x="190.75" y="33.7" width="17.25" height="45.93" fill="#ff4225"/>
<rect x="207.9" y="33.7" width="17.25" height="45.93" fill="#ff341a"/>
<rect x="225.05" y="33.7" width="17.25" height="45.93" fill="#ff0000"/>
<rect x="156.45" y="79.53" width="17.25" height="45.93" fill="#fffaf8"/>
<rect x="173.6" y="79.53" width="17.25" height="45.93" fill="#ffa387"/>
<rect x="190.75" y="79.53" width="17.25" height="45.93" fill="#ff6544"/>
<rect x="207.9" y="79.53" width="17.25" height="45.93" fill="#ff4f2f"/>
<rect x="225.05" y="79.53" width="17.25" height="45.93" fill="#ff230f"/>
<rect x="156.45" y="125.37" width="17.25" height="45.93" fill="#ffffff"/>
<rect x="173.6" y="125.37" width="17.25" height="45.93" fill="#ffdbcf"/>
<rect x="190.75" y="125.37" width="17.25" height="45.93" fill="#ffa589"/>
<rect x="207.9" y="125.37" width="17.25" height="45.93" fill="#ff7d5c"/>
<rect x="225.05" y="125.37" width="17.25" height="45.93" fill="#ff5132"/>
<text x="165.07" y="57.92" font-size="3.5" text-anchor="middle" fill="#1a1a1a" stroke="#1a1a1a" stroke-width="0.05">18.47</text>
<text x="182.22" y="57.92" font-size="3.5" text-anchor="middle" fill="#1a1a1a" stroke="#1a1a1a" stroke-width="0.05">69.04</text>
<text x="199.38" y="57.92" font-size="3.5" text-anchor="middle" fill="#1a1a1a" stroke="#1a1a1a" stroke-width="0.05">82.51</text>
<text x="216.52" y="57.92" font-size="3.5" text-anchor="middle" fill="#1a1a1a" stroke="#1a1a1a" stroke-width="0.05">86.15</text>
<text x="233.68" y="57.92" font-size="3.5" text-anchor="middle" fill="#1a1a1a" stroke="#1a1a1a" stroke-width="0.05">93.07</text>
<text x="165.07" y="103.75" font-size="3.5" text-anchor="middle" fill="#1a1a1a" stroke="#1a1a1a" stroke-width="0.05">2.61</text>
<text x="182.22" y="103.75" font-size="3.5" text-anchor="middle" fill="#1a1a1a" stroke="#1a1a1a" stroke-width="0.05">44.43</text>
<text x="199.38" y="103.75" font-size="3.5" text-anchor="middle" fill="#1a1a1a" stroke="#1a1a1a" stroke-width="0.05">70.78</text>
<text x="216.52" y="103.75" font-size="3.5" text-anchor="middle" fill="#1a1a1a" stroke="#1a1a1a" stroke-width="0.05">78.66</text>
<text x="233.68" y="103.75" font-size="3.5" text-anchor="middle" fill="#1a1a1a" stroke="#1a1a1a" stroke-width="0.05">89.64</text>
<text x="165.07" y="149.58" font-size="3.5" text-anchor="middle" fill="#1a1a1a" stroke="#1a1a1a" stroke-width="0.05">0</text>
<text x="182.22" y="149.58" font-size="3.5" text-anchor="middle" fill="#1a1a1a" stroke="#1a1a1a" stroke-width="0.05">17.33</text>
<text x="199.38" y="149.58" font-size="3.5" text-anchor="middle" fill="#1a1a1a" stroke="#1a1a1a" stroke-width="0.05">43.39</text>
<text x="216.52" y="149.58" font-size="3.5" text-anchor="middle" fill="#1a1a1a" stroke="#1a1a1a" stroke-width="0.05">61.04</text>
<text x="233.68" y="149.58" font-size="3.5" text-anchor="middle" fill="#1a1a1a" stroke="#1a1a1a" stroke-width="0.05">77.78</text>
<line x1="153.5" y1="56.67" x2="155" y2="56.67" stroke="#555" stroke-width="0.5"/>
<text x="152.7" y="57.92" font-size="3.6" text-anchor="end" fill="#ee1c24" stroke="#ee1c24" stroke-width="0.15">0.5</text>
<line x1="153.5" y1="102.5" x2="155" y2="102.5" stroke="#555" stroke-width="0.5"/>
<text x="152.7" y="103.75" font-size="3.6" text-anchor="end" fill="#ee1c24" stroke="#ee1c24" stroke-width="0.15">0.2</text>
<line x1="153.5" y1="148.33" x2="155" y2="148.33" stroke="#555" stroke-width="0.5"/>
<text x="152.7" y="149.58" font-size="3.6" text-anchor="end" fill="#ee1c24" stroke="#ee1c24" stroke-width="0.15">0</text>
<line x1="165.07" y1="175.25" x2="165.07" y2="176.75" stroke="#555" stroke-width="0.5"/>
<text x="165.07" y="180.75" font-size="3.6" text-anchor="middle" fill="#ee1c24" stroke="#ee1c24" stroke-width="0.15">0</text>
<line x1="182.22" y1="175.25" x2="182.22" y2="176.75" stroke="#555" stroke-width="0.5"/>
<text x="182.22" y="180.75" font-size="3.6" text-anchor="middle" fill="#ee1c24" stroke="#ee1c24" stroke-width="0.15">20</text>
<line x1="199.38" y1="175.25" x2="199.38" y2="176.75" stroke="#555" stroke-width="0.5"/>
<text x="199.38" y="180.75" font-size="3.6" text-anchor="middle" fill="#ee1c24" stroke="#ee1c24" stroke-width="0.15">40</text>
<line x1="216.52" y1="175.25" x2="216.52" y2="176.75" stroke="#555" stroke-width="0.5"/>
<text x="216.52" y="180.75" font-size="3.6" text-anchor="middle" fill="#ee1c24" stroke="#ee1c24" stroke-width="0.15">60</text>
<line x1="233.68" y1="175.25" x2="233.68" y2="176.75" stroke="#555" stroke-width="0.5"/>
<text x="233.68" y="180.75" font-size="3.6" text-anchor="middle" fill="#ee1c24" stroke="#ee1c24" stroke-width="0.15">80</text>
<text x="199.5" y="185" font-size="3.9" text-anchor="middle" fill="#111" font-weight="bold" stroke="#111" stroke-width="0.2">Carboplatin (uM)</text>
<text x="146.5" y="102.5" font-size="3.9" text-anchor="middle" fill="#111" font-weight="bold" transform="rotate(-90 146.5 102.5)" stroke="#111" stroke-width="0.2">Pevonedistat (uM)</text>
<text x="249" y="87.15" font-size="3.7" fill="#111" font-weight="bold" stroke="#111" stroke-width="0.2">inhibition (%)</text>
<rect x="249" y="88.75" width="5.5" height="30" fill="url(#g0)"/>
<line x1="254.5" y1="118.75" x2="255.3" y2="118.75" stroke="#fff" stroke-width="0.4"/>
<text x="257" y="119.95" font-size="3.4" fill="#333" stroke="#333" stroke-width="0.1">0</text>
<line x1="254.5" y1="110.69" x2="255.3" y2="110.69" stroke="#fff" stroke-width="0.4"/>
<text x="257" y="111.89" font-size="3.4" fill="#333" stroke="#333" stroke-width="0.1">25</text>
<line x1="254.5" y1="102.63" x2="255.3" y2="102.63" stroke="#fff" stroke-width="0.4"/>
<text x="257" y="103.83" font-size="3.4" fill="#333" stroke="#333" stroke-width="0.1">50</text>
<line x1="254.5" y1="94.57" x2="255.3" y2="94.57" stroke="#fff" stroke-width="0.4"/>
<text x="257" y="95.77" font-size="3.4" fill="#333" stroke="#333" stroke-width="0.1">75</text>
<text x="297.75" y="26.5" font-size="7.1" stroke="#000" stroke-width="0.15">Dose-response curve for Pevonedistat</text>
<rect x="302.5" y="32.25" width="108.75" height="53" fill="none" stroke="#777" stroke-width="0.8"/>
<line x1="300.5" y1="79.75" x2="302.5" y2="79.75" stroke="#777" stroke-width="0.6"/>
<text x="298.7" y="80.95" font-size="3.4" text-anchor="end" fill="#333" stroke="#333" stroke-width="0.12">0</text>
<line x1="300.5" y1="71.48" x2="302.5" y2="71.48" stroke="#777" stroke-width="0.6"/>
<text x="298.7" y="72.68" font-size="3.4" text-anchor="end" fill="#333" stroke="#333" stroke-width="0.12">20</text>
<line x1="300.5" y1="63.21" x2="302.5" y2="63.21" stroke="#777" stroke-width="0.6"/>
<text x="298.7" y="64.41" font-size="3.4" text-anchor="end" fill="#333" stroke="#333" stroke-width="0.12">40</text>
<line x1="300.5" y1="54.94" x2="302.5" y2="54.94" stroke="#777" stroke-width="0.6"/>
<text x="298.7" y="56.14" font-size="3.4" text-anchor="end" fill="#333" stroke="#333" stroke-width="0.12">60</text>
<line x1="300.5" y1="46.67" x2="302.5" y2="46.67" stroke="#777" stroke-width="0.6"/>
<text x="298.7" y="47.87" font-size="3.4" text-anchor="end" fill="#333" stroke="#333" stroke-width="0.12">80</text>
<line x1="300.5" y1="38.4" x2="302.5" y2="38.4" stroke="#777" stroke-width="0.6"/>
<text x="298.7" y="39.6" font-size="3.4" text-anchor="end" fill="#333" stroke="#333" stroke-width="0.12">100</text>
<line x1="306" y1="85.25" x2="306" y2="87.05" stroke="#777" stroke-width="0.6"/>
<text x="306" y="93.15" font-size="3.4" text-anchor="middle" fill="#333" stroke="#333" stroke-width="0.12">0.2</text>
<line x1="351.25" y1="85.25" x2="351.25" y2="87.05" stroke="#777" stroke-width="0.6"/>
<text x="351.25" y="93.15" font-size="3.4" text-anchor="middle" fill="#333" stroke="#333" stroke-width="0.12">0.3</text>
<line x1="383.36" y1="85.25" x2="383.36" y2="87.05" stroke="#777" stroke-width="0.6"/>
<text x="383.36" y="93.15" font-size="3.4" text-anchor="middle" fill="#333" stroke="#333" stroke-width="0.12">0.4</text>
<text x="358" y="102" font-size="3.5" text-anchor="middle" stroke="#222" stroke-width="0.06">Concentration (uM)</text>
<polyline points="306,77.4 307.73,77.39 309.46,77.38 311.19,77.37 312.92,77.35 314.64,77.33 316.37,77.31 318.1,77.28 319.83,77.25 321.56,77.21 323.29,77.16 325.02,77.1 326.75,77.03 328.47,76.95 330.2,76.86 331.93,76.75 333.66,76.62 335.39,76.48 337.12,76.31 338.85,76.13 340.58,75.92 342.31,75.7 344.03,75.45 345.76,75.19 347.49,74.92 349.22,74.64 350.95,74.36 352.68,74.09 354.41,73.81 356.14,73.56 357.86,73.31 359.59,73.09 361.32,72.89 363.05,72.7 364.78,72.54 366.51,72.4 368.24,72.27 369.97,72.16 371.69,72.07 373.42,71.99 375.15,71.93 376.88,71.87 378.61,71.82 380.34,71.79 382.07,71.75 383.8,71.72 385.53,71.7 387.25,71.68 388.98,71.67 390.71,71.65 392.44,71.64 394.17,71.63 395.9,71.63 397.63,71.62 399.36,71.61 401.08,71.61 402.81,71.61 404.54,71.6 406.27,71.6 408,71.6" fill="none" stroke="#111" stroke-width="0.85"/>
<circle cx="306" cy="77.33" r="1.4" fill="#e8000b"/>
<circle cx="408.26" cy="71.63" r="1.4" fill="#e8000b"/>
<text x="297.25" y="117.5" font-size="7.1" stroke="#000" stroke-width="0.15">Dose-response curve for Carboplatin</text>
<rect x="302.5" y="124.75" width="109" height="48.75" fill="none" stroke="#777" stroke-width="0.8"/>
<line x1="300.5" y1="168.25" x2="302.5" y2="168.25" stroke="#777" stroke-width="0.6"/>
<text x="298.7" y="169.45" font-size="3.4" text-anchor="end" fill="#333" stroke="#333" stroke-width="0.12">0</text>
<line x1="300.5" y1="160.68" x2="302.5" y2="160.68" stroke="#777" stroke-width="0.6"/>
<text x="298.7" y="161.88" font-size="3.4" text-anchor="end" fill="#333" stroke="#333" stroke-width="0.12">20</text>
<line x1="300.5" y1="153.11" x2="302.5" y2="153.11" stroke="#777" stroke-width="0.6"/>
<text x="298.7" y="154.31" font-size="3.4" text-anchor="end" fill="#333" stroke="#333" stroke-width="0.12">40</text>
<line x1="300.5" y1="145.54" x2="302.5" y2="145.54" stroke="#777" stroke-width="0.6"/>
<text x="298.7" y="146.74" font-size="3.4" text-anchor="end" fill="#333" stroke="#333" stroke-width="0.12">60</text>
<line x1="300.5" y1="137.97" x2="302.5" y2="137.97" stroke="#777" stroke-width="0.6"/>
<text x="298.7" y="139.17" font-size="3.4" text-anchor="end" fill="#333" stroke="#333" stroke-width="0.12">80</text>
<line x1="300.5" y1="130.4" x2="302.5" y2="130.4" stroke="#777" stroke-width="0.6"/>
<text x="298.7" y="131.6" font-size="3.4" text-anchor="end" fill="#333" stroke="#333" stroke-width="0.12">100</text>
<line x1="306" y1="173.5" x2="306" y2="175.3" stroke="#777" stroke-width="0.6"/>
<text x="306" y="181.4" font-size="3.4" text-anchor="middle" fill="#333" stroke="#333" stroke-width="0.12">20</text>
<line x1="357.08" y1="173.5" x2="357.08" y2="175.3" stroke="#777" stroke-width="0.6"/>
<text x="357.08" y="181.4" font-size="3.4" text-anchor="middle" fill="#333" stroke="#333" stroke-width="0.12">40</text>
<line x1="386.97" y1="173.5" x2="386.97" y2="175.3" stroke="#777" stroke-width="0.6"/>
<text x="386.97" y="181.4" font-size="3.4" text-anchor="middle" fill="#333" stroke="#333" stroke-width="0.12">60</text>
<text x="358" y="190" font-size="3.5" text-anchor="middle" stroke="#222" stroke-width="0.06">Concentration (uM)</text>
<polyline points="306,164.2 307.72,163.21 309.44,162.32 311.16,161.52 312.88,160.81 314.6,160.18 316.32,159.61 318.04,159.1 319.76,158.64 321.48,158.23 323.2,157.86 324.92,157.54 326.64,157.24 328.36,156.98 330.08,156.75 331.81,156.54 333.53,156.35 335.25,156.18 336.97,156.03 338.69,155.9 340.41,155.78 342.13,155.67 343.85,155.57 345.57,155.49 347.29,155.41 349.01,155.34 350.73,155.28 352.45,155.22 354.17,155.17 355.89,155.13 357.61,155.09 359.33,155.05 361.05,155.02 362.77,154.99 364.49,154.97 366.21,154.94 367.93,154.92 369.65,154.91 371.37,154.89 373.09,154.87 374.81,154.86 376.53,154.85 378.25,154.84 379.97,154.83 381.69,154.82 383.42,154.81 385.14,154.81 386.86,154.8 388.58,154.8 390.3,154.79 392.02,154.79 393.74,154.78 395.46,154.78 397.18,154.78 398.9,154.77 400.62,154.77 402.34,154.77 404.06,154.77 405.78,154.77 407.5,154.76" fill="none" stroke="#111" stroke-width="0.85"/>
<circle cx="306" cy="164.2" r="1.4" fill="#e8000b"/>
<circle cx="357.08" cy="155.41" r="1.4" fill="#e8000b"/>
<circle cx="386.97" cy="155.41" r="1.4" fill="#e8000b"/>
<circle cx="408.17" cy="154.73" r="1.4" fill="#e8000b"/>
<text x="435.1" y="22.6" font-size="7.1" stroke="#000" stroke-width="0.15">Dose-response matrix (inhibition)</text>
<rect x="435.5" y="28.4" width="94.8" height="148.6" fill="#ebebeb"/>
<line x1="446.16" y1="28.4" x2="446.16" y2="177" stroke="#fafafa" stroke-width="0.7"/>
<line x1="464.48" y1="28.4" x2="464.48" y2="177" stroke="#fafafa" stroke-width="0.7"/>
<line x1="482.8" y1="28.4" x2="482.8" y2="177" stroke="#fafafa" stroke-width="0.7"/>
<line x1="501.12" y1="28.4" x2="501.12" y2="177" stroke="#fafafa" stroke-width="0.7"/>
<line x1="519.44" y1="28.4" x2="519.44" y2="177" stroke="#fafafa" stroke-width="0.7"/>
<line x1="435.5" y1="55.42" x2="530.3" y2="55.42" stroke="#fafafa" stroke-width="0.7"/>
<line x1="435.5" y1="102.45" x2="530.3" y2="102.45" stroke="#fafafa" stroke-width="0.7"/>
<line x1="435.5" y1="149.48" x2="530.3" y2="149.48" stroke="#fafafa" stroke-width="0.7"/>
<rect x="436.95" y="31.85" width="18.42" height="47.13" fill="#ffcfbe"/>
<rect x="455.27" y="31.85" width="18.42" height="47.13" fill="#ff6645"/>
<rect x="473.59" y="31.85" width="18.42" height="47.13" fill="#ff371d"/>
<rect x="491.91" y="31.85" width="18.42" height="47.13" fill="#ff230f"/>
<rect x="510.23" y="31.85" width="18.42" height="47.13" fill="#ff0000"/>
<rect x="436.95" y="78.88" width="18.42" height="47.13" fill="#fff1eb"/>
<rect x="455.27" y="78.88" width="18.42" height="47.13" fill="#ffaf96"/>
<rect x="473.59" y="78.88" width="18.42" height="47.13" fill="#ffa68b"/>
<rect x="491.91" y="78.88" width="18.42" height="47.13" fill="#ff9d80"/>
<rect x="510.23" y="78.88" width="18.42" height="47.13" fill="#ff8d6e"/>
<rect x="436.95" y="125.92" width="18.42" height="47.13" fill="#ffffff"/>
<rect x="455.27" y="125.92" width="18.42" height="47.13" fill="#ffe5db"/>
<rect x="473.59" y="125.92" width="18.42" height="47.13" fill="#ffab91"/>
<rect x="491.91" y="125.92" width="18.42" height="47.13" fill="#ffab91"/>
<rect x="510.23" y="125.92" width="18.42" height="47.13" fill="#ffa68b"/>
<text x="446.16" y="56.67" font-size="3.5" text-anchor="middle" fill="#1a1a1a" stroke="#1a1a1a" stroke-width="0.05">19.64</text>
<text x="464.48" y="56.67" font-size="3.5" text-anchor="middle" fill="#1a1a1a" stroke="#1a1a1a" stroke-width="0.05">58.93</text>
<text x="482.8" y="56.67" font-size="3.5" text-anchor="middle" fill="#1a1a1a" stroke="#1a1a1a" stroke-width="0.05">71.43</text>
<text x="501.12" y="56.67" font-size="3.5" text-anchor="middle" fill="#1a1a1a" stroke="#1a1a1a" stroke-width="0.05">75</text>
<text x="519.44" y="56.67" font-size="3.5" text-anchor="middle" fill="#1a1a1a" stroke="#1a1a1a" stroke-width="0.05">77.88</text>
<text x="446.16" y="103.7" font-size="3.5" text-anchor="middle" fill="#1a1a1a" stroke="#1a1a1a" stroke-width="0.05">5.86</text>
<text x="464.48" y="103.7" font-size="3.5" text-anchor="middle" fill="#1a1a1a" stroke="#1a1a1a" stroke-width="0.05">32.14</text>
<text x="482.8" y="103.7" font-size="3.5" text-anchor="middle" fill="#1a1a1a" stroke="#1a1a1a" stroke-width="0.05">35.71</text>
<text x="501.12" y="103.7" font-size="3.5" text-anchor="middle" fill="#1a1a1a" stroke="#1a1a1a" stroke-width="0.05">39.29</text>
<text x="519.44" y="103.7" font-size="3.5" text-anchor="middle" fill="#1a1a1a" stroke="#1a1a1a" stroke-width="0.05">45.24</text>
<text x="446.16" y="150.73" font-size="3.5" text-anchor="middle" fill="#1a1a1a" stroke="#1a1a1a" stroke-width="0.05">0</text>
<text x="464.48" y="150.73" font-size="3.5" text-anchor="middle" fill="#1a1a1a" stroke="#1a1a1a" stroke-width="0.05">10.71</text>
<text x="482.8" y="150.73" font-size="3.5" text-anchor="middle" fill="#1a1a1a" stroke="#1a1a1a" stroke-width="0.05">33.93</text>
<text x="501.12" y="150.73" font-size="3.5" text-anchor="middle" fill="#1a1a1a" stroke="#1a1a1a" stroke-width="0.05">33.93</text>
<text x="519.44" y="150.73" font-size="3.5" text-anchor="middle" fill="#1a1a1a" stroke="#1a1a1a" stroke-width="0.05">35.71</text>
<line x1="434" y1="55.42" x2="435.5" y2="55.42" stroke="#555" stroke-width="0.5"/>
<text x="433.2" y="56.67" font-size="3.6" text-anchor="end" fill="#ee1c24" stroke="#ee1c24" stroke-width="0.15">0.5</text>
<line x1="434" y1="102.45" x2="435.5" y2="102.45" stroke="#555" stroke-width="0.5"/>
<text x="433.2" y="103.7" font-size="3.6" text-anchor="end" fill="#ee1c24" stroke="#ee1c24" stroke-width="0.15">0.2</text>
<line x1="434" y1="149.48" x2="435.5" y2="149.48" stroke="#555" stroke-width="0.5"/>
<text x="433.2" y="150.73" font-size="3.6" text-anchor="end" fill="#ee1c24" stroke="#ee1c24" stroke-width="0.15">0</text>
<line x1="446.16" y1="177" x2="446.16" y2="178.5" stroke="#555" stroke-width="0.5"/>
<text x="446.16" y="182.5" font-size="3.6" text-anchor="middle" fill="#ee1c24" stroke="#ee1c24" stroke-width="0.15">0</text>
<line x1="464.48" y1="177" x2="464.48" y2="178.5" stroke="#555" stroke-width="0.5"/>
<text x="464.48" y="182.5" font-size="3.6" text-anchor="middle" fill="#ee1c24" stroke="#ee1c24" stroke-width="0.15">20</text>
<line x1="482.8" y1="177" x2="482.8" y2="178.5" stroke="#555" stroke-width="0.5"/>
<text x="482.8" y="182.5" font-size="3.6" text-anchor="middle" fill="#ee1c24" stroke="#ee1c24" stroke-width="0.15">40</text>
<line x1="501.12" y1="177" x2="501.12" y2="178.5" stroke="#555" stroke-width="0.5"/>
<text x="501.12" y="182.5" font-size="3.6" text-anchor="middle" fill="#ee1c24" stroke="#ee1c24" stroke-width="0.15">60</text>
<line x1="519.44" y1="177" x2="519.44" y2="178.5" stroke="#555" stroke-width="0.5"/>
<text x="519.44" y="182.5" font-size="3.6" text-anchor="middle" fill="#ee1c24" stroke="#ee1c24" stroke-width="0.15">80</text>
<text x="485.5" y="188" font-size="3.9" text-anchor="middle" fill="#111" font-weight="bold" stroke="#111" stroke-width="0.2">Carboplatin (uM)</text>
<text x="425.5" y="102.5" font-size="3.9" text-anchor="middle" fill="#111" font-weight="bold" transform="rotate(-90 425.5 102.5)" stroke="#111" stroke-width="0.2">Pevonedistat (uM)</text>
<text x="535" y="87.65" font-size="3.7" fill="#111" font-weight="bold" stroke="#111" stroke-width="0.2">inhibition (%)</text>
<rect x="535" y="89.25" width="6" height="30.25" fill="url(#g1)"/>
<line x1="541" y1="119.5" x2="541.8" y2="119.5" stroke="#fff" stroke-width="0.4"/>
<text x="543.5" y="120.7" font-size="3.4" fill="#333" stroke="#333" stroke-width="0.1">0</text>
<line x1="541" y1="111.73" x2="541.8" y2="111.73" stroke="#fff" stroke-width="0.4"/>
<text x="543.5" y="112.93" font-size="3.4" fill="#333" stroke="#333" stroke-width="0.1">20</text>
<line x1="541" y1="103.96" x2="541.8" y2="103.96" stroke="#fff" stroke-width="0.4"/>
<text x="543.5" y="105.16" font-size="3.4" fill="#333" stroke="#333" stroke-width="0.1">40</text>
<line x1="541" y1="96.19" x2="541.8" y2="96.19" stroke="#fff" stroke-width="0.4"/>
<text x="543.5" y="97.39" font-size="3.4" fill="#333" stroke="#333" stroke-width="0.1">60</text>
<text x="16.25" y="401.25" font-size="7.1" stroke="#000" stroke-width="0.15">Dose-response curve for Pevonedistat</text>
<rect x="33.5" y="407.75" width="99.6" height="49.75" fill="none" stroke="#777" stroke-width="0.8"/>
<line x1="31.5" y1="451.25" x2="33.5" y2="451.25" stroke="#777" stroke-width="0.6"/>
<text x="29.7" y="452.45" font-size="3.4" text-anchor="end" fill="#333" stroke="#333" stroke-width="0.12">0</text>
<line x1="31.5" y1="443.58" x2="33.5" y2="443.58" stroke="#777" stroke-width="0.6"/>
<text x="29.7" y="444.78" font-size="3.4" text-anchor="end" fill="#333" stroke="#333" stroke-width="0.12">20</text>
<line x1="31.5" y1="435.91" x2="33.5" y2="435.91" stroke="#777" stroke-width="0.6"/>
<text x="29.7" y="437.11" font-size="3.4" text-anchor="end" fill="#333" stroke="#333" stroke-width="0.12">40</text>
<line x1="31.5" y1="428.24" x2="33.5" y2="428.24" stroke="#777" stroke-width="0.6"/>
<text x="29.7" y="429.44" font-size="3.4" text-anchor="end" fill="#333" stroke="#333" stroke-width="0.12">60</text>
<line x1="31.5" y1="420.57" x2="33.5" y2="420.57" stroke="#777" stroke-width="0.6"/>
<text x="29.7" y="421.77" font-size="3.4" text-anchor="end" fill="#333" stroke="#333" stroke-width="0.12">80</text>
<line x1="31.5" y1="412.9" x2="33.5" y2="412.9" stroke="#777" stroke-width="0.6"/>
<text x="29.7" y="414.1" font-size="3.4" text-anchor="end" fill="#333" stroke="#333" stroke-width="0.12">100</text>
<line x1="37" y1="457.5" x2="37" y2="459.3" stroke="#777" stroke-width="0.6"/>
<text x="37" y="465.4" font-size="3.4" text-anchor="middle" fill="#333" stroke="#333" stroke-width="0.12">0.2</text>
<line x1="77.95" y1="457.5" x2="77.95" y2="459.3" stroke="#777" stroke-width="0.6"/>
<text x="77.95" y="465.4" font-size="3.4" text-anchor="middle" fill="#333" stroke="#333" stroke-width="0.12">0.3</text>
<line x1="107.01" y1="457.5" x2="107.01" y2="459.3" stroke="#777" stroke-width="0.6"/>
<text x="107.01" y="465.4" font-size="3.4" text-anchor="middle" fill="#333" stroke="#333" stroke-width="0.12">0.4</text>
<text x="83" y="473.5" font-size="3.5" text-anchor="middle" stroke="#222" stroke-width="0.06">Concentration (uM)</text>
<polyline points="37,450 38.57,450 40.13,450 41.7,450 43.26,449.99 44.83,449.99 46.4,449.99 47.96,449.99 49.53,449.98 51.09,449.97 52.66,449.96 54.23,449.95 55.79,449.94 57.36,449.92 58.93,449.89 60.49,449.86 62.06,449.82 63.62,449.77 65.19,449.7 66.76,449.62 68.32,449.52 69.89,449.39 71.45,449.23 73.02,449.03 74.59,448.8 76.15,448.52 77.72,448.21 79.28,447.87 80.85,447.49 82.42,447.1 83.98,446.7 85.55,446.31 87.12,445.94 88.68,445.6 90.25,445.3 91.81,445.04 93.38,444.82 94.95,444.63 96.51,444.48 98.08,444.35 99.64,444.26 101.21,444.18 102.78,444.12 104.34,444.07 105.91,444.03 107.47,444 109.04,443.98 110.61,443.96 112.17,443.94 113.74,443.93 115.31,443.93 116.87,443.92 118.44,443.91 120,443.91 121.57,443.91 123.14,443.9 124.7,443.9 126.27,443.9 127.83,443.9 129.4,443.9" fill="none" stroke="#111" stroke-width="0.85"/>
<circle cx="37" cy="450" r="1.4" fill="#e8000b"/>
<circle cx="129.55" cy="443.83" r="1.4" fill="#e8000b"/>
<text x="24.75" y="488" font-size="7.1" stroke="#000" stroke-width="0.15">Dose-response curve for Paclitaxel</text>
<rect x="33.5" y="495" width="99.6" height="45.25" fill="none" stroke="#777" stroke-width="0.8"/>
<line x1="31.5" y1="535.4" x2="33.5" y2="535.4" stroke="#777" stroke-width="0.6"/>
<text x="29.7" y="536.6" font-size="3.4" text-anchor="end" fill="#333" stroke="#333" stroke-width="0.12">0</text>
<line x1="31.5" y1="528.32" x2="33.5" y2="528.32" stroke="#777" stroke-width="0.6"/>
<text x="29.7" y="529.52" font-size="3.4" text-anchor="end" fill="#333" stroke="#333" stroke-width="0.12">20</text>
<line x1="31.5" y1="521.24" x2="33.5" y2="521.24" stroke="#777" stroke-width="0.6"/>
<text x="29.7" y="522.44" font-size="3.4" text-anchor="end" fill="#333" stroke="#333" stroke-width="0.12">40</text>
<line x1="31.5" y1="514.16" x2="33.5" y2="514.16" stroke="#777" stroke-width="0.6"/>
<text x="29.7" y="515.36" font-size="3.4" text-anchor="end" fill="#333" stroke="#333" stroke-width="0.12">60</text>
<line x1="31.5" y1="507.08" x2="33.5" y2="507.08" stroke="#777" stroke-width="0.6"/>
<text x="29.7" y="508.28" font-size="3.4" text-anchor="end" fill="#333" stroke="#333" stroke-width="0.12">80</text>
<line x1="31.5" y1="500" x2="33.5" y2="500" stroke="#777" stroke-width="0.6"/>
<text x="29.7" y="501.2" font-size="3.4" text-anchor="end" fill="#333" stroke="#333" stroke-width="0.12">100</text>
<line x1="64.75" y1="540.25" x2="64.75" y2="542.05" stroke="#777" stroke-width="0.6"/>
<text x="64.75" y="548.15" font-size="3.4" text-anchor="middle" fill="#333" stroke="#333" stroke-width="0.12">0.5</text>
<line x1="92.5" y1="540.25" x2="92.5" y2="542.05" stroke="#777" stroke-width="0.6"/>
<text x="92.5" y="548.15" font-size="3.4" text-anchor="middle" fill="#333" stroke="#333" stroke-width="0.12">1</text>
<line x1="120.25" y1="540.25" x2="120.25" y2="542.05" stroke="#777" stroke-width="0.6"/>
<text x="120.25" y="548.15" font-size="3.4" text-anchor="middle" fill="#333" stroke="#333" stroke-width="0.12">2</text>
<text x="83" y="556.5" font-size="3.5" text-anchor="middle" stroke="#222" stroke-width="0.06">Concentration (nM)</text>
<polyline points="37,512.3 38.57,512.3 40.13,512.3 41.7,512.3 43.26,512.3 44.83,512.3 46.4,512.3 47.96,512.3 49.53,512.3 51.09,512.3 52.66,512.3 54.23,512.3 55.79,512.3 57.36,512.3 58.93,512.3 60.49,512.3 62.06,512.3 63.62,512.3 65.19,512.3 66.76,512.3 68.32,512.31 69.89,512.32 71.45,512.33 73.02,512.34 74.59,512.36 76.15,512.37 77.72,512.39 79.28,512.41 80.85,512.42 82.42,512.44 83.98,512.46 85.55,512.47 87.12,512.48 88.68,512.49 90.25,512.5 91.81,512.5 93.38,512.5 94.95,512.49 96.51,512.47 98.08,512.44 99.64,512.41 101.21,512.36 102.78,512.31 104.34,512.26 105.91,512.19 107.47,512.13 109.04,512.05 110.61,511.97 112.17,511.89 113.74,511.77 115.31,511.59 116.87,511.37 118.44,511.1 120,510.79 121.57,510.45 123.14,510.08 124.7,509.68 126.27,509.27 127.83,508.84 129.4,508.4" fill="none" stroke="#111" stroke-width="0.85"/>
<circle cx="37" cy="512.14" r="1.4" fill="#e8000b"/>
<circle cx="64.75" cy="511.88" r="1.4" fill="#e8000b"/>
<circle cx="92.5" cy="512.33" r="1.4" fill="#e8000b"/>
<circle cx="129.18" cy="508.68" r="1.4" fill="#e8000b"/>
<text x="155.8" y="397.3" font-size="7.1" stroke="#000" stroke-width="0.15">Dose-response matrix (inhibition)</text>
<rect x="155" y="403.75" width="86.25" height="141.25" fill="#ebebeb"/>
<line x1="164.57" y1="403.75" x2="164.57" y2="545" stroke="#fafafa" stroke-width="0.7"/>
<line x1="181.22" y1="403.75" x2="181.22" y2="545" stroke="#fafafa" stroke-width="0.7"/>
<line x1="197.88" y1="403.75" x2="197.88" y2="545" stroke="#fafafa" stroke-width="0.7"/>
<line x1="214.52" y1="403.75" x2="214.52" y2="545" stroke="#fafafa" stroke-width="0.7"/>
<line x1="231.18" y1="403.75" x2="231.18" y2="545" stroke="#fafafa" stroke-width="0.7"/>
<line x1="155" y1="429.58" x2="241.25" y2="429.58" stroke="#fafafa" stroke-width="0.7"/>
<line x1="155" y1="473.75" x2="241.25" y2="473.75" stroke="#fafafa" stroke-width="0.7"/>
<line x1="155" y1="517.92" x2="241.25" y2="517.92" stroke="#fafafa" stroke-width="0.7"/>
<rect x="156.2" y="407.45" width="16.75" height="44.27" fill="#ffd5cf"/>
<rect x="172.85" y="407.45" width="16.75" height="44.27" fill="#fb5d58"/>
<rect x="189.5" y="407.45" width="16.75" height="44.27" fill="#f84f4e"/>
<rect x="206.15" y="407.45" width="16.75" height="44.27" fill="#f43941"/>
<rect x="222.8" y="407.45" width="16.75" height="44.27" fill="#ee0030"/>
<rect x="156.2" y="451.62" width="16.75" height="44.27" fill="#fff8f7"/>
<rect x="172.85" y="451.62" width="16.75" height="44.27" fill="#fd6761"/>
<rect x="189.5" y="451.62" width="16.75" height="44.27" fill="#fd655f"/>
<rect x="206.15" y="451.62" width="16.75" height="44.27" fill="#fc605b"/>
<rect x="222.8" y="451.62" width="16.75" height="44.27" fill="#ef1533"/>
<rect x="156.2" y="495.78" width="16.75" height="44.27" fill="#ffffff"/>
<rect x="172.85" y="495.78" width="16.75" height="44.27" fill="#fe6a64"/>
<rect x="189.5" y="495.78" width="16.75" height="44.27" fill="#fe6962"/>
<rect x="206.15" y="495.78" width="16.75" height="44.27" fill="#fe6c65"/>
<rect x="222.8" y="495.78" width="16.75" height="44.27" fill="#f84f4f"/>
<text x="164.57" y="430.83" font-size="3.5" text-anchor="middle" fill="#1a1a1a" stroke="#1a1a1a" stroke-width="0.05">19.36</text>
<text x="181.22" y="430.83" font-size="3.5" text-anchor="middle" fill="#1a1a1a" stroke="#1a1a1a" stroke-width="0.05">70.92</text>
<text x="197.88" y="430.83" font-size="3.5" text-anchor="middle" fill="#1a1a1a" stroke="#1a1a1a" stroke-width="0.05">75.64</text>
<text x="214.52" y="430.83" font-size="3.5" text-anchor="middle" fill="#1a1a1a" stroke="#1a1a1a" stroke-width="0.05">82.03</text>
<text x="231.18" y="430.83" font-size="3.5" text-anchor="middle" fill="#1a1a1a" stroke="#1a1a1a" stroke-width="0.05">90.46</text>
<text x="164.57" y="475" font-size="3.5" text-anchor="middle" fill="#1a1a1a" stroke="#1a1a1a" stroke-width="0.05">3.27</text>
<text x="181.22" y="475" font-size="3.5" text-anchor="middle" fill="#1a1a1a" stroke="#1a1a1a" stroke-width="0.05">67.09</text>
<text x="197.88" y="475" font-size="3.5" text-anchor="middle" fill="#1a1a1a" stroke="#1a1a1a" stroke-width="0.05">67.81</text>
<text x="214.52" y="475" font-size="3.5" text-anchor="middle" fill="#1a1a1a" stroke="#1a1a1a" stroke-width="0.05">69.84</text>
<text x="231.18" y="475" font-size="3.5" text-anchor="middle" fill="#1a1a1a" stroke="#1a1a1a" stroke-width="0.05">88.73</text>
<text x="164.57" y="519.17" font-size="3.5" text-anchor="middle" fill="#1a1a1a" stroke="#1a1a1a" stroke-width="0.05">0</text>
<text x="181.22" y="519.17" font-size="3.5" text-anchor="middle" fill="#1a1a1a" stroke="#1a1a1a" stroke-width="0.05">65.72</text>
<text x="197.88" y="519.17" font-size="3.5" text-anchor="middle" fill="#1a1a1a" stroke="#1a1a1a" stroke-width="0.05">66.43</text>
<text x="214.52" y="519.17" font-size="3.5" text-anchor="middle" fill="#1a1a1a" stroke="#1a1a1a" stroke-width="0.05">65.18</text>
<text x="231.18" y="519.17" font-size="3.5" text-anchor="middle" fill="#1a1a1a" stroke="#1a1a1a" stroke-width="0.05">75.47</text>
<line x1="153.5" y1="429.58" x2="155" y2="429.58" stroke="#555" stroke-width="0.5"/>
<text x="152.7" y="430.83" font-size="3.6" text-anchor="end" fill="#ee1c24" stroke="#ee1c24" stroke-width="0.15">0.5</text>
<line x1="153.5" y1="473.75" x2="155" y2="473.75" stroke="#555" stroke-width="0.5"/>
<text x="152.7" y="475" font-size="3.6" text-anchor="end" fill="#ee1c24" stroke="#ee1c24" stroke-width="0.15">0.2</text>
<line x1="153.5" y1="517.92" x2="155" y2="517.92" stroke="#555" stroke-width="0.5"/>
<text x="152.7" y="519.17" font-size="3.6" text-anchor="end" fill="#ee1c24" stroke="#ee1c24" stroke-width="0.15">0</text>
<line x1="164.57" y1="545" x2="164.57" y2="546.5" stroke="#555" stroke-width="0.5"/>
<text x="164.57" y="550.5" font-size="3.6" text-anchor="middle" fill="#ee1c24" stroke="#ee1c24" stroke-width="0.15">0</text>
<line x1="181.22" y1="545" x2="181.22" y2="546.5" stroke="#555" stroke-width="0.5"/>
<text x="181.22" y="550.5" font-size="3.6" text-anchor="middle" fill="#ee1c24" stroke="#ee1c24" stroke-width="0.15">0.2</text>
<line x1="197.88" y1="545" x2="197.88" y2="546.5" stroke="#555" stroke-width="0.5"/>
<text x="197.88" y="550.5" font-size="3.6" text-anchor="middle" fill="#ee1c24" stroke="#ee1c24" stroke-width="0.15">0.5</text>
<line x1="214.52" y1="545" x2="214.52" y2="546.5" stroke="#555" stroke-width="0.5"/>
<text x="214.52" y="550.5" font-size="3.6" text-anchor="middle" fill="#ee1c24" stroke="#ee1c24" stroke-width="0.15">1</text>
<line x1="231.18" y1="545" x2="231.18" y2="546.5" stroke="#555" stroke-width="0.5"/>
<text x="231.18" y="550.5" font-size="3.6" text-anchor="middle" fill="#ee1c24" stroke="#ee1c24" stroke-width="0.15">2.5</text>
<text x="198" y="553.5" font-size="3.9" text-anchor="middle" fill="#111" font-weight="bold" stroke="#111" stroke-width="0.2">Paclitaxel (nM)</text>
<text x="145.5" y="474" font-size="3.9" text-anchor="middle" fill="#111" font-weight="bold" transform="rotate(-90 145.5 474)" stroke="#111" stroke-width="0.2">Pevonedistat (uM)</text>
<text x="245" y="460.9" font-size="3.7" fill="#111" font-weight="bold" stroke="#111" stroke-width="0.2">inhibition (%)</text>
<rect x="245" y="462.5" width="6" height="26.25" fill="url(#g2)"/>
<line x1="251" y1="488.75" x2="251.8" y2="488.75" stroke="#fff" stroke-width="0.4"/>
<text x="253.5" y="489.95" font-size="3.4" fill="#333" stroke="#333" stroke-width="0.1">0</text>
<line x1="251" y1="481.5" x2="251.8" y2="481.5" stroke="#fff" stroke-width="0.4"/>
<text x="253.5" y="482.7" font-size="3.4" fill="#333" stroke="#333" stroke-width="0.1">25</text>
<line x1="251" y1="474.24" x2="251.8" y2="474.24" stroke="#fff" stroke-width="0.4"/>
<text x="253.5" y="475.44" font-size="3.4" fill="#333" stroke="#333" stroke-width="0.1">50</text>
<line x1="251" y1="466.99" x2="251.8" y2="466.99" stroke="#fff" stroke-width="0.4"/>
<text x="253.5" y="468.19" font-size="3.4" fill="#333" stroke="#333" stroke-width="0.1">75</text>
<text x="303.75" y="400.75" font-size="7.1" stroke="#000" stroke-width="0.15">Dose-response curve for Pevonedistat</text>
<rect x="315.75" y="408.25" width="101.25" height="49.75" fill="none" stroke="#777" stroke-width="0.8"/>
<line x1="313.75" y1="453" x2="315.75" y2="453" stroke="#777" stroke-width="0.6"/>
<text x="311.95" y="454.2" font-size="3.4" text-anchor="end" fill="#333" stroke="#333" stroke-width="0.12">0</text>
<line x1="313.75" y1="445" x2="315.75" y2="445" stroke="#777" stroke-width="0.6"/>
<text x="311.95" y="446.2" font-size="3.4" text-anchor="end" fill="#333" stroke="#333" stroke-width="0.12">20</text>
<line x1="313.75" y1="437" x2="315.75" y2="437" stroke="#777" stroke-width="0.6"/>
<text x="311.95" y="438.2" font-size="3.4" text-anchor="end" fill="#333" stroke="#333" stroke-width="0.12">40</text>
<line x1="313.75" y1="429" x2="315.75" y2="429" stroke="#777" stroke-width="0.6"/>
<text x="311.95" y="430.2" font-size="3.4" text-anchor="end" fill="#333" stroke="#333" stroke-width="0.12">60</text>
<line x1="313.75" y1="421" x2="315.75" y2="421" stroke="#777" stroke-width="0.6"/>
<text x="311.95" y="422.2" font-size="3.4" text-anchor="end" fill="#333" stroke="#333" stroke-width="0.12">80</text>
<line x1="313.75" y1="413" x2="315.75" y2="413" stroke="#777" stroke-width="0.6"/>
<text x="311.95" y="414.2" font-size="3.4" text-anchor="end" fill="#333" stroke="#333" stroke-width="0.12">100</text>
<line x1="351.25" y1="458" x2="351.25" y2="459.8" stroke="#777" stroke-width="0.6"/>
<text x="351.25" y="465.9" font-size="3.4" text-anchor="middle" fill="#333" stroke="#333" stroke-width="0.12">400</text>
<line x1="378.7" y1="458" x2="378.7" y2="459.8" stroke="#777" stroke-width="0.6"/>
<text x="378.7" y="465.9" font-size="3.4" text-anchor="middle" fill="#333" stroke="#333" stroke-width="0.12">600</text>
<line x1="398.18" y1="458" x2="398.18" y2="459.8" stroke="#777" stroke-width="0.6"/>
<text x="398.18" y="465.9" font-size="3.4" text-anchor="middle" fill="#333" stroke="#333" stroke-width="0.12">800</text>
<line x1="413.28" y1="458" x2="413.28" y2="459.8" stroke="#777" stroke-width="0.6"/>
<text x="413.28" y="465.9" font-size="3.4" text-anchor="middle" fill="#333" stroke="#333" stroke-width="0.12">1000</text>
<text x="366.5" y="474.3" font-size="3.5" text-anchor="middle" stroke="#222" stroke-width="0.06">Concentration (nM)</text>
<polyline points="319.4,442.6 320.99,442.59 322.58,442.57 324.17,442.56 325.76,442.54 327.35,442.51 328.94,442.48 330.53,442.44 332.12,442.4 333.71,442.34 335.3,442.27 336.89,442.19 338.48,442.1 340.07,441.98 341.66,441.85 343.25,441.68 344.84,441.49 346.43,441.27 348.02,441.01 349.61,440.71 351.2,440.38 352.79,439.99 354.38,439.57 355.97,439.11 357.56,438.62 359.15,438.09 360.74,437.55 362.33,437.01 363.92,436.46 365.51,435.92 367.09,435.41 368.68,434.93 370.27,434.49 371.86,434.08 373.45,433.72 375.04,433.39 376.63,433.11 378.22,432.87 379.81,432.66 381.4,432.48 382.99,432.33 384.58,432.2 386.17,432.1 387.76,432.01 389.35,431.93 390.94,431.87 392.53,431.82 394.12,431.78 395.71,431.74 397.3,431.71 398.89,431.69 400.48,431.67 402.07,431.66 403.66,431.64 405.25,431.63 406.84,431.62 408.43,431.61 410.02,431.61 411.61,431.6 413.2,431.6" fill="none" stroke="#111" stroke-width="0.85"/>
<circle cx="319.43" cy="442.49" r="1.4" fill="#e8000b"/>
<circle cx="366.36" cy="436.26" r="1.4" fill="#e8000b"/>
<circle cx="413.28" cy="431.56" r="1.4" fill="#e8000b"/>
<text x="308" y="487.5" font-size="7.1" stroke="#000" stroke-width="0.15">Dose-response curve for Paclitaxel</text>
<rect x="315.75" y="496.25" width="100.5" height="46.25" fill="none" stroke="#777" stroke-width="0.8"/>
<line x1="313.75" y1="537.5" x2="315.75" y2="537.5" stroke="#777" stroke-width="0.6"/>
<text x="311.95" y="538.7" font-size="3.4" text-anchor="end" fill="#333" stroke="#333" stroke-width="0.12">0</text>
<line x1="313.75" y1="530.35" x2="315.75" y2="530.35" stroke="#777" stroke-width="0.6"/>
<text x="311.95" y="531.55" font-size="3.4" text-anchor="end" fill="#333" stroke="#333" stroke-width="0.12">20</text>
<line x1="313.75" y1="523.2" x2="315.75" y2="523.2" stroke="#777" stroke-width="0.6"/>
<text x="311.95" y="524.4" font-size="3.4" text-anchor="end" fill="#333" stroke="#333" stroke-width="0.12">40</text>
<line x1="313.75" y1="516.05" x2="315.75" y2="516.05" stroke="#777" stroke-width="0.6"/>
<text x="311.95" y="517.25" font-size="3.4" text-anchor="end" fill="#333" stroke="#333" stroke-width="0.12">60</text>
<line x1="313.75" y1="508.9" x2="315.75" y2="508.9" stroke="#777" stroke-width="0.6"/>
<text x="311.95" y="510.1" font-size="3.4" text-anchor="end" fill="#333" stroke="#333" stroke-width="0.12">80</text>
<line x1="313.75" y1="501.75" x2="315.75" y2="501.75" stroke="#777" stroke-width="0.6"/>
<text x="311.95" y="502.95" font-size="3.4" text-anchor="end" fill="#333" stroke="#333" stroke-width="0.12">100</text>
<line x1="319.5" y1="542.5" x2="319.5" y2="544.3" stroke="#777" stroke-width="0.6"/>
<text x="319.5" y="550.4" font-size="3.4" text-anchor="middle" fill="#333" stroke="#333" stroke-width="0.12">1</text>
<line x1="347.64" y1="542.5" x2="347.64" y2="544.3" stroke="#777" stroke-width="0.6"/>
<text x="347.64" y="550.4" font-size="3.4" text-anchor="middle" fill="#333" stroke="#333" stroke-width="0.12">2</text>
<line x1="384.84" y1="542.5" x2="384.84" y2="544.3" stroke="#777" stroke-width="0.6"/>
<text x="384.84" y="550.4" font-size="3.4" text-anchor="middle" fill="#333" stroke="#333" stroke-width="0.12">5</text>
<line x1="412.98" y1="542.5" x2="412.98" y2="544.3" stroke="#777" stroke-width="0.6"/>
<text x="412.98" y="550.4" font-size="3.4" text-anchor="middle" fill="#333" stroke="#333" stroke-width="0.12">10</text>
<text x="365" y="559" font-size="3.5" text-anchor="middle" stroke="#222" stroke-width="0.06">Concentration (nM)</text>
<polyline points="319.5,535.4 321.08,535.4 322.67,535.4 324.25,535.4 325.84,535.4 327.42,535.4 329.01,535.4 330.59,535.4 332.18,535.4 333.76,535.4 335.35,535.39 336.93,535.39 338.52,535.39 340.1,535.39 341.69,535.38 343.27,535.38 344.86,535.38 346.44,535.37 348.03,535.36 349.61,535.35 351.19,535.34 352.78,535.33 354.36,535.31 355.95,535.29 357.53,535.27 359.12,535.23 360.7,535.2 362.29,535.15 363.87,535.09 365.46,535.02 367.04,534.93 368.63,534.82 370.21,534.69 371.8,534.53 373.38,534.34 374.97,534.1 376.55,533.82 378.14,533.48 379.72,533.09 381.31,532.62 382.89,532.07 384.47,531.44 386.06,530.73 387.64,529.93 389.23,529.05 390.81,528.1 392.4,527.09 393.98,526.05 395.57,524.99 397.15,523.94 398.74,522.92 400.32,521.95 401.91,521.05 403.49,520.22 405.08,519.48 406.66,518.83 408.25,518.26 409.83,517.77 411.42,517.35 413,517" fill="none" stroke="#111" stroke-width="0.85"/>
<circle cx="319.5" cy="535.34" r="1.4" fill="#e8000b"/>
<circle cx="384.84" cy="529.91" r="1.4" fill="#e8000b"/>
<circle cx="401.31" cy="521.03" r="1.4" fill="#e8000b"/>
<circle cx="412.98" cy="517.46" r="1.4" fill="#e8000b"/>
<text x="437.2" y="399.3" font-size="7.1" stroke="#000" stroke-width="0.15">Dose-response matrix (inhibition)</text>
<rect x="442" y="404.5" width="83" height="141" fill="#ebebeb"/>
<line x1="451.75" y1="404.5" x2="451.75" y2="545.5" stroke="#fafafa" stroke-width="0.7"/>
<line x1="467.75" y1="404.5" x2="467.75" y2="545.5" stroke="#fafafa" stroke-width="0.7"/>
<line x1="483.75" y1="404.5" x2="483.75" y2="545.5" stroke="#fafafa" stroke-width="0.7"/>
<line x1="499.75" y1="404.5" x2="499.75" y2="545.5" stroke="#fafafa" stroke-width="0.7"/>
<line x1="515.75" y1="404.5" x2="515.75" y2="545.5" stroke="#fafafa" stroke-width="0.7"/>
<line x1="442" y1="424" x2="525" y2="424" stroke="#fafafa" stroke-width="0.7"/>
<line x1="442" y1="458" x2="525" y2="458" stroke="#fafafa" stroke-width="0.7"/>
<line x1="442" y1="492" x2="525" y2="492" stroke="#fafafa" stroke-width="0.7"/>
<line x1="442" y1="526" x2="525" y2="526" stroke="#fafafa" stroke-width="0.7"/>
<rect x="443.7" y="406.95" width="16.1" height="34.1" fill="#ff5c3b"/>
<rect x="459.7" y="406.95" width="16.1" height="34.1" fill="#ff3d21"/>
<rect x="475.7" y="406.95" width="16.1" height="34.1" fill="#ff2f17"/>
<rect x="491.7" y="406.95" width="16.1" height="34.1" fill="#ff4023"/>
<rect x="507.7" y="406.95" width="16.1" height="34.1" fill="#ff0000"/>
<rect x="443.7" y="440.95" width="16.1" height="34.1" fill="#ff8564"/>
<rect x="459.7" y="440.95" width="16.1" height="34.1" fill="#ff7251"/>
<rect x="475.7" y="440.95" width="16.1" height="34.1" fill="#ff6847"/>
<rect x="491.7" y="440.95" width="16.1" height="34.1" fill="#ff6140"/>
<rect x="507.7" y="440.95" width="16.1" height="34.1" fill="#ff5a39"/>
<rect x="443.7" y="474.95" width="16.1" height="34.1" fill="#ffb49c"/>
<rect x="459.7" y="474.95" width="16.1" height="34.1" fill="#ffac92"/>
<rect x="475.7" y="474.95" width="16.1" height="34.1" fill="#ff9b7e"/>
<rect x="491.7" y="474.95" width="16.1" height="34.1" fill="#ff987a"/>
<rect x="507.7" y="474.95" width="16.1" height="34.1" fill="#ff8767"/>
<rect x="443.7" y="508.95" width="16.1" height="34.1" fill="#ffffff"/>
<rect x="459.7" y="508.95" width="16.1" height="34.1" fill="#ffeee8"/>
<rect x="475.7" y="508.95" width="16.1" height="34.1" fill="#ffc3ae"/>
<rect x="491.7" y="508.95" width="16.1" height="34.1" fill="#ff7756"/>
<rect x="507.7" y="508.95" width="16.1" height="34.1" fill="#ff5233"/>
<text x="451.75" y="425.25" font-size="3.5" text-anchor="middle" fill="#1a1a1a" stroke="#1a1a1a" stroke-width="0.05">53.59</text>
<text x="467.75" y="425.25" font-size="3.5" text-anchor="middle" fill="#1a1a1a" stroke="#1a1a1a" stroke-width="0.05">60.69</text>
<text x="483.75" y="425.25" font-size="3.5" text-anchor="middle" fill="#1a1a1a" stroke="#1a1a1a" stroke-width="0.05">63.12</text>
<text x="499.75" y="425.25" font-size="3.5" text-anchor="middle" fill="#1a1a1a" stroke="#1a1a1a" stroke-width="0.05">60.13</text>
<text x="515.75" y="425.25" font-size="3.5" text-anchor="middle" fill="#1a1a1a" stroke="#1a1a1a" stroke-width="0.05">67.35</text>
<text x="451.75" y="459.25" font-size="3.5" text-anchor="middle" fill="#1a1a1a" stroke="#1a1a1a" stroke-width="0.05">41.85</text>
<text x="467.75" y="459.25" font-size="3.5" text-anchor="middle" fill="#1a1a1a" stroke="#1a1a1a" stroke-width="0.05">47.45</text>
<text x="483.75" y="459.25" font-size="3.5" text-anchor="middle" fill="#1a1a1a" stroke="#1a1a1a" stroke-width="0.05">50.28</text>
<text x="499.75" y="459.25" font-size="3.5" text-anchor="middle" fill="#1a1a1a" stroke="#1a1a1a" stroke-width="0.05">52.23</text>
<text x="515.75" y="459.25" font-size="3.5" text-anchor="middle" fill="#1a1a1a" stroke="#1a1a1a" stroke-width="0.05">54.22</text>
<text x="451.75" y="493.25" font-size="3.5" text-anchor="middle" fill="#1a1a1a" stroke="#1a1a1a" stroke-width="0.05">26.28</text>
<text x="467.75" y="493.25" font-size="3.5" text-anchor="middle" fill="#1a1a1a" stroke="#1a1a1a" stroke-width="0.05">29.01</text>
<text x="483.75" y="493.25" font-size="3.5" text-anchor="middle" fill="#1a1a1a" stroke="#1a1a1a" stroke-width="0.05">34.67</text>
<text x="499.75" y="493.25" font-size="3.5" text-anchor="middle" fill="#1a1a1a" stroke="#1a1a1a" stroke-width="0.05">35.64</text>
<text x="515.75" y="493.25" font-size="3.5" text-anchor="middle" fill="#1a1a1a" stroke="#1a1a1a" stroke-width="0.05">41.12</text>
<text x="451.75" y="527.25" font-size="3.5" text-anchor="middle" fill="#1a1a1a" stroke="#1a1a1a" stroke-width="0.05">0</text>
<text x="467.75" y="527.25" font-size="3.5" text-anchor="middle" fill="#1a1a1a" stroke="#1a1a1a" stroke-width="0.05">6.04</text>
<text x="483.75" y="527.25" font-size="3.5" text-anchor="middle" fill="#1a1a1a" stroke="#1a1a1a" stroke-width="0.05">21.22</text>
<text x="499.75" y="527.25" font-size="3.5" text-anchor="middle" fill="#1a1a1a" stroke="#1a1a1a" stroke-width="0.05">46.08</text>
<text x="515.75" y="527.25" font-size="3.5" text-anchor="middle" fill="#1a1a1a" stroke="#1a1a1a" stroke-width="0.05">56.06</text>
<line x1="440.5" y1="424" x2="442" y2="424" stroke="#555" stroke-width="0.5"/>
<text x="439.7" y="425.25" font-size="3.6" text-anchor="end" fill="#ee1c24" stroke="#ee1c24" stroke-width="0.15">1000</text>
<line x1="440.5" y1="458" x2="442" y2="458" stroke="#555" stroke-width="0.5"/>
<text x="439.7" y="459.25" font-size="3.6" text-anchor="end" fill="#ee1c24" stroke="#ee1c24" stroke-width="0.15">500</text>
<line x1="440.5" y1="492" x2="442" y2="492" stroke="#555" stroke-width="0.5"/>
<text x="439.7" y="493.25" font-size="3.6" text-anchor="end" fill="#ee1c24" stroke="#ee1c24" stroke-width="0.15">250</text>
<line x1="440.5" y1="526" x2="442" y2="526" stroke="#555" stroke-width="0.5"/>
<text x="439.7" y="527.25" font-size="3.6" text-anchor="end" fill="#ee1c24" stroke="#ee1c24" stroke-width="0.15">0</text>
<line x1="451.75" y1="545.5" x2="451.75" y2="547" stroke="#555" stroke-width="0.5"/>
<text x="451.75" y="551" font-size="3.6" text-anchor="middle" fill="#ee1c24" stroke="#ee1c24" stroke-width="0.15">0</text>
<line x1="467.75" y1="545.5" x2="467.75" y2="547" stroke="#555" stroke-width="0.5"/>
<text x="467.75" y="551" font-size="3.6" text-anchor="middle" fill="#ee1c24" stroke="#ee1c24" stroke-width="0.15">1</text>
<line x1="483.75" y1="545.5" x2="483.75" y2="547" stroke="#555" stroke-width="0.5"/>
<text x="483.75" y="551" font-size="3.6" text-anchor="middle" fill="#ee1c24" stroke="#ee1c24" stroke-width="0.15">5</text>
<line x1="499.75" y1="545.5" x2="499.75" y2="547" stroke="#555" stroke-width="0.5"/>
<text x="499.75" y="551" font-size="3.6" text-anchor="middle" fill="#ee1c24" stroke="#ee1c24" stroke-width="0.15">7.5</text>
<line x1="515.75" y1="545.5" x2="515.75" y2="547" stroke="#555" stroke-width="0.5"/>
<text x="515.75" y="551" font-size="3.6" text-anchor="middle" fill="#ee1c24" stroke="#ee1c24" stroke-width="0.15">10</text>
<text x="482.5" y="555" font-size="3.9" text-anchor="middle" fill="#111" font-weight="bold" stroke="#111" stroke-width="0.2">Paclitaxel (nM)</text>
<text x="431.5" y="475" font-size="3.9" text-anchor="middle" fill="#111" font-weight="bold" transform="rotate(-90 431.5 475)" stroke="#111" stroke-width="0.2">Pevonedistat (nM)</text>
<text x="530" y="460.9" font-size="3.7" fill="#111" font-weight="bold" stroke="#111" stroke-width="0.2">inhibition (%)</text>
<rect x="530" y="462.5" width="6" height="27.5" fill="url(#g3)"/>
<line x1="536" y1="490" x2="536.8" y2="490" stroke="#fff" stroke-width="0.4"/>
<text x="538.5" y="491.2" font-size="3.4" fill="#333" stroke="#333" stroke-width="0.1">0</text>
<line x1="536" y1="481.83" x2="536.8" y2="481.83" stroke="#fff" stroke-width="0.4"/>
<text x="538.5" y="483.03" font-size="3.4" fill="#333" stroke="#333" stroke-width="0.1">20</text>
<line x1="536" y1="473.67" x2="536.8" y2="473.67" stroke="#fff" stroke-width="0.4"/>
<text x="538.5" y="474.87" font-size="3.4" fill="#333" stroke="#333" stroke-width="0.1">40</text>
<line x1="536" y1="465.5" x2="536.8" y2="465.5" stroke="#fff" stroke-width="0.4"/>
<text x="538.5" y="466.7" font-size="3.4" fill="#333" stroke="#333" stroke-width="0.1">60</text>
<text x="78.1" y="208.5" font-size="10.6" fill="#111" textLength="119.5" lengthAdjust="spacingAndGlyphs">Bliss synergy score 22.91</text>
<rect x="46.1" y="220.4" width="75.1" height="1.6" fill="url(#lb4)"/>
<text x="48.7" y="219" font-size="3.7" text-anchor="middle" fill="#222" stroke="#222" stroke-width="0.2">-40</text>
<text x="66.17" y="219" font-size="3.7" text-anchor="middle" fill="#222" stroke="#222" stroke-width="0.2">-20</text>
<text x="83.65" y="219" font-size="3.7" text-anchor="middle" fill="#222" stroke="#222" stroke-width="0.2">0</text>
<text x="101.12" y="219" font-size="3.7" text-anchor="middle" fill="#222" stroke="#222" stroke-width="0.2">20</text>
<text x="118.6" y="219" font-size="3.7" text-anchor="middle" fill="#222" stroke="#222" stroke-width="0.2">40</text>
<g clip-path="url(#c5)"><rect x="31" y="226" width="108" height="2.6" fill="url(#r6)"/><rect x="31" y="228" width="108" height="2.6" fill="url(#r7)"/><rect x="31" y="230" width="108" height="2.6" fill="url(#r8)"/><rect x="31" y="232" width="108" height="2.6" fill="url(#r9)"/><rect x="31" y="234" width="108" height="2.6" fill="url(#r10)"/><rect x="31" y="236" width="108" height="2.6" fill="url(#r11)"/><rect x="31" y="238" width="108" height="2.6" fill="url(#r12)"/><rect x="31" y="240" width="108" height="2.6" fill="url(#r13)"/><rect x="31" y="242" width="108" height="2.6" fill="url(#r14)"/><rect x="31" y="244" width="108" height="2.6" fill="url(#r15)"/><rect x="31" y="246" width="108" height="2.6" fill="url(#r16)"/><rect x="31" y="248" width="108" height="2.6" fill="url(#r17)"/><rect x="31" y="250" width="108" height="2.6" fill="url(#r18)"/><rect x="31" y="252" width="108" height="2.6" fill="url(#r19)"/><rect x="31" y="254" width="108" height="2.6" fill="url(#r20)"/><rect x="31" y="256" width="108" height="2.6" fill="url(#r21)"/><rect x="31" y="258" width="108" height="2.6" fill="url(#r22)"/><rect x="31" y="260" width="108" height="2.6" fill="url(#r23)"/><rect x="31" y="262" width="108" height="2.6" fill="url(#r24)"/><rect x="31" y="264" width="108" height="2.6" fill="url(#r25)"/><rect x="31" y="266" width="108" height="2.6" fill="url(#r26)"/><rect x="31" y="268" width="108" height="2.6" fill="url(#r27)"/><rect x="31" y="270" width="108" height="2.6" fill="url(#r28)"/><rect x="31" y="272" width="108" height="2.6" fill="url(#r29)"/><rect x="31" y="274" width="108" height="2.6" fill="url(#r30)"/><rect x="31" y="276" width="108" height="2.6" fill="url(#r31)"/><rect x="31" y="278" width="108" height="2.6" fill="url(#r32)"/><rect x="31" y="280" width="108" height="2.6" fill="url(#r33)"/><rect x="31" y="282" width="108" height="2.6" fill="url(#r34)"/><rect x="31" y="284" width="108" height="2.6" fill="url(#r35)"/><rect x="31" y="286" width="108" height="2.6" fill="url(#r36)"/><rect x="31" y="288" width="108" height="2.6" fill="url(#r37)"/><rect x="31" y="290" width="108" height="2.6" fill="url(#r38)"/><rect x="31" y="292" width="108" height="2.6" fill="url(#r39)"/><rect x="31" y="294" width="108" height="2.6" fill="url(#r40)"/><rect x="31" y="296" width="108" height="2.6" fill="url(#r41)"/><rect x="31" y="298" width="108" height="2.6" fill="url(#r42)"/><rect x="31" y="300" width="108" height="2.6" fill="url(#r43)"/><rect x="31" y="302" width="108" height="2.6" fill="url(#r44)"/><rect x="31" y="304" width="108" height="2.6" fill="url(#r45)"/><rect x="31" y="306" width="108" height="2.6" fill="url(#r46)"/><rect x="31" y="308" width="108" height="2.6" fill="url(#r47)"/><rect x="31" y="310" width="108" height="2.6" fill="url(#r48)"/><rect x="31" y="312" width="108" height="2.6" fill="url(#r49)"/><rect x="31" y="314" width="108" height="2.6" fill="url(#r50)"/><rect x="31" y="316" width="108" height="2.6" fill="url(#r51)"/><rect x="31" y="318" width="108" height="2.6" fill="url(#r52)"/><rect x="31" y="320" width="108" height="2.6" fill="url(#r53)"/><rect x="31" y="322" width="108" height="2.6" fill="url(#r54)"/><rect x="31" y="324" width="108" height="2.6" fill="url(#r55)"/><rect x="31" y="326" width="108" height="2.6" fill="url(#r56)"/><rect x="31" y="328" width="108" height="2.6" fill="url(#r57)"/><rect x="31" y="330" width="108" height="2.6" fill="url(#r58)"/><rect x="31" y="332" width="108" height="2.6" fill="url(#r59)"/><rect x="31" y="334" width="108" height="2.6" fill="url(#r60)"/><rect x="31" y="336" width="108" height="2.6" fill="url(#r61)"/><rect x="31" y="338" width="108" height="2.6" fill="url(#r62)"/><rect x="31" y="340" width="108" height="2.6" fill="url(#r63)"/><rect x="31" y="342" width="108" height="2.6" fill="url(#r64)"/><rect x="31" y="344" width="108" height="2.6" fill="url(#r65)"/><rect x="31" y="346" width="108" height="2.6" fill="url(#r66)"/>
<g clip-path="url(#c67)">
<polyline points="139,314.5 137,314.5 135,315 134,315.4 132.6,316 131,316.6 130,317 128,317.8 127,318.2 125,318.9 124,319.4 122.4,320 121,320.6 120,321.1 118,321.9 117,322.4 115.6,323 114,323.7 113,324.1 111,324.9 110,325.3 108,326 107,326.3 105,326.8 104,327 102,327.4 100,327.7 98,327.9 96,328 95,328 93,328 91,328 90,328 88,328 87,328 85,328.1 83,328.2 81,328.5 79,328.7 77,329 76,329.1 74,329.3 72,329.5 70,329.5 68,329.4 66,329.3 64.2,329 63,328.8 61,328.3 59.9,328 58,327.4 57,327 55.1,326 54,325.3 53,324.6 52,323.8 51,322.8 50,321.7 49,320.3 48.2,319 47.7,318 47,316.6 46.4,315 46,313.9 45.4,312 45,310.4 44.7,309 44.3,307 44,305.4 43.8,304 43.5,302 43.3,300 43,298 42.9,297 42.8,295 42.6,293 42.5,291 42.3,289 42.2,287 42.1,285 42,283 42,282 41.9,280 41.8,278 41.8,276 41.7,274 41.6,272 41.6,270 41.5,268 41.5,266 41.4,264 41.4,262 41.3,260 41.3,258 41.2,256 41.2,254 41.2,252 41.1,250 41.1,248 41,246 41,244.7 41,243 40.9,241 40.9,239 40.8,237 40.8,235 40.7,233 40.7,231 40.7,229 40.7,227" fill="none" stroke="#fff" stroke-opacity="0.5" stroke-width="0.6"/>
<polyline points="139,290.9 137,290.9 135.9,291 135,292.5 134,293.9 133.1,295 132.2,296 131.1,297 130,297.9 129,298.7 128,299.3 126.9,300 125.1,301 124,301.6 123,302.1 121.3,303 120,303.7 119,304.2 117.6,305 116,305.9 115,306.6 114,307.2 112.8,308 111.4,309 110,310 109,310.7 108,311.4 107,312.1 105.6,313 104,313.9 103,314.4 101.8,315 100,315.7 99,316.1 97,316.6 95,316.9 94,317 92,317.2 90,317.3 88,317.4 86,317.5 84,317.7 82,317.9 81,318.1 79,318.4 77,318.8 75.9,319 74,319.3 72,319.6 70,319.8 68,319.8 66,319.7 64,319.5 62,319 61,318.7 59.3,318 58,317.3 57,316.7 56,315.9 55,315 54,313.9 53,312.6 52,311 51.4,310 50.9,309 50.1,307 49.7,306 49.1,304 48.8,303 48.3,301 48,299.9 47.6,298 47.3,296 47,294.4 46.8,293 46.5,291 46.3,289 46.1,287 46,285.6 45.9,284 45.7,282 45.6,280 45.5,278 45.4,276 45.3,274 45.2,272 45.1,270 45,268 45,266.9 44.9,265 44.9,263 44.8,261 44.7,259 44.7,257 44.6,255 44.6,253 44.5,251 44.4,249 44.4,247 44.3,245 44.2,243 44.1,241 44.1,239 44,237.7 43.9,236 43.8,234 43.7,232 43.7,230 43.7,228 43.7,226" fill="none" stroke="#fff" stroke-opacity="0.5" stroke-width="0.6"/>
<polyline points="139,254.9 137,254.9 136,255 135,257 134.5,258 134,259 133,260.9 132.4,262 131.9,263 131,264.6 130.2,266 129.5,267 128.9,268 128,269.2 127,270.5 126,271.7 125,272.8 124,273.8 123,274.7 122,275.6 121,276.5 120,277.3 119,278.2 118,279.1 117,280 116,281 115,282 114,283.1 113,284.2 112,285.5 111,286.8 110.2,288 109.5,289 108.8,290 108,291.2 107,292.7 106.1,294 105.4,295 104.6,296 103.8,297 103,298 102,299.1 101,300.1 100,301 98.7,302 97,303 96,303.5 94.7,304 93,304.5 91,305 90,305.1 88,305.4 86,305.7 84.1,306 83,306.2 81,306.6 79,307 78,307.2 76,307.7 74.7,308 73,308.4 71,308.8 70,309 68,309.3 66,309.5 64,309.3 62.3,309 61,308.5 59.9,308 58.4,307 57.3,306 56.5,305 55.7,304 55,302.9 54,301 53.5,300 53,298.7 52.4,297 52,295.7 51.6,294 51.1,292 50.9,291 50.5,289 50.2,287 50,285.8 49.8,284 49.5,282 49.3,280 49.2,278 49,276 48.9,275 48.8,273 48.7,271 48.6,269 48.5,267 48.4,265 48.3,263 48.2,261 48.1,259 48.1,257 48,255.5 47.9,254 47.9,252 47.8,250 47.7,248 47.6,246 47.5,244 47.3,242 47.2,240 47.1,238 47,236.5 46.9,235 46.7,233 46.6,231 46.6,229 46.6,227" fill="none" stroke="#fff" stroke-opacity="0.5" stroke-width="0.6"/>
<polyline points="110.1,226 110.1,228 110.1,230 110,231.8 109.8,233 109.4,235 109.1,237 108.9,238 108.6,240 108.2,242 108,243.1 107.7,245 107.3,247 107,248.5 106.7,250 106.3,252 106,253.7 105.7,255 105.3,257 105,258.6 104.7,260 104.3,262 104,263.1 103.6,265 103.1,267 102.8,268 102.2,270 102,271 101.4,273 101,274.1 100.3,276 100,277 99.1,279 98.7,280 98,281.3 97.1,283 96.4,284 95.6,285 94.7,286 93.7,287 92.5,288 91,289 90,289.5 88.9,290 87,290.7 86,291.1 84,291.7 83,292 81,292.6 79.7,293 78,293.5 76.6,294 75,294.5 73.8,295 72,295.7 71,296.1 69,296.9 68,297.2 66,297.7 64,297.8 62,297.3 61,296.9 59.8,296 58.8,295 58,293.9 57,292.2 56.4,291 56,289.9 55.4,288 55,286.8 54.6,285 54.1,283 53.9,282 53.6,280 53.3,278 53.1,276 53,275 52.8,273 52.6,271 52.4,269 52.3,267 52.2,265 52,263 52,262 51.9,260 51.7,258 51.6,256 51.5,254 51.4,252 51.3,250 51.1,248 51,246.2 50.9,245 50.8,243 50.6,241 50.4,239 50.2,237 50,235 49.9,234 49.7,232 49.6,230 49.6,228 49.6,226" fill="none" stroke="#fff" stroke-opacity="0.5" stroke-width="0.6"/>
<polyline points="96.2,226 96.2,228 96.2,230 96,232 95.8,233 95.3,235 95,236.5 94.7,238 94.2,240 94,241 93.5,243 93.1,245 92.8,246 92.3,248 92,249.2 91.5,251 91,252.8 90.6,254 90,256 89.6,257 89,258.7 88.4,260 88,261 87,263 86.4,264 85.8,265 85,266.1 84,267.4 83,268.5 82,269.6 81,270.5 80,271.3 79,272.2 77.9,273 76.6,274 75.2,275 74,275.8 73,276.6 72,277.3 71,278.1 69.9,279 68.5,280 67,280.9 66,281.4 64,281.6 62.5,281 61.3,280 60.6,279 60,277.9 59.2,276 58.9,275 58.4,273 58,271.3 57.8,270 57.5,268 57.2,266 57,264.8 56.8,263 56.6,261 56.4,259 56.2,257 56,255.3 55.9,254 55.7,252 55.5,250 55.3,248 55,246 54.9,245 54.7,243 54.4,241 54.2,239 54,237.8 53.7,236 53.4,234 53.1,232 53,231 53,229 53,227" fill="none" stroke="#fff" stroke-opacity="0.5" stroke-width="0.6"/>
<polyline points="86.2,226 86.2,228 86.2,230 86,231.4 85,232.9 84,234 83,235 82,235.9 81,236.6 80,237.2 78.3,238 77,238.6 76,239 74,240 73,240.7 72,241.5 71,242.4 70,243.5 69,244.5 68,245.5 67,246.1 65,246.3 64,245.7 63,244.6 62.1,243 61.6,242 61,240.8 60.3,239 59.9,238 59.2,236 58.8,235 58.2,233 57.8,232 57.6,230 57.6,228 57.6,226" fill="none" stroke="#fff" stroke-opacity="0.5" stroke-width="0.6"/>
</g>
<line x1="32.5" y1="226" x2="32.5" y2="347.5" stroke="rgba(0,0,0,0.3)" stroke-width="0.5"/>
<line x1="58.2" y1="226" x2="58.2" y2="347.5" stroke="rgba(0,0,0,0.3)" stroke-width="0.5"/>
<line x1="83.9" y1="226" x2="83.9" y2="347.5" stroke="rgba(0,0,0,0.3)" stroke-width="0.5"/>
<line x1="109.6" y1="226" x2="109.6" y2="347.5" stroke="rgba(0,0,0,0.3)" stroke-width="0.5"/>
<line x1="136" y1="226" x2="136" y2="347.5" stroke="rgba(0,0,0,0.3)" stroke-width="0.5"/>
<line x1="31" y1="345" x2="139" y2="345" stroke="rgba(0,0,0,0.3)" stroke-width="0.5"/>
<line x1="31" y1="288.6" x2="139" y2="288.6" stroke="rgba(0,0,0,0.3)" stroke-width="0.5"/>
<line x1="31" y1="231.1" x2="139" y2="231.1" stroke="rgba(0,0,0,0.3)" stroke-width="0.5"/>
<rect x="58.2" y="231.1" width="51.4" height="116.4" fill="rgba(0,0,0,0.1)" stroke="rgba(255,255,255,0.75)" stroke-width="0.9"/>
</g>
<line x1="32.5" y1="347.5" x2="32.5" y2="349.1" stroke="#666" stroke-width="0.5"/>
<text x="32.5" y="354.4" font-size="3.4" text-anchor="middle" fill="#444" stroke="#444" stroke-width="0.2">0</text>
<line x1="58.2" y1="347.5" x2="58.2" y2="349.1" stroke="#666" stroke-width="0.5"/>
<text x="58.2" y="354.4" font-size="3.4" text-anchor="middle" fill="#444" stroke="#444" stroke-width="0.2">20</text>
<line x1="83.9" y1="347.5" x2="83.9" y2="349.1" stroke="#666" stroke-width="0.5"/>
<text x="83.9" y="354.4" font-size="3.4" text-anchor="middle" fill="#444" stroke="#444" stroke-width="0.2">40</text>
<line x1="109.6" y1="347.5" x2="109.6" y2="349.1" stroke="#666" stroke-width="0.5"/>
<text x="109.6" y="354.4" font-size="3.4" text-anchor="middle" fill="#444" stroke="#444" stroke-width="0.2">60</text>
<line x1="136" y1="347.5" x2="136" y2="349.1" stroke="#666" stroke-width="0.5"/>
<text x="136" y="354.4" font-size="3.4" text-anchor="middle" fill="#444" stroke="#444" stroke-width="0.2">80</text>
<line x1="29.4" y1="345" x2="31" y2="345" stroke="#666" stroke-width="0.5"/>
<text x="28.8" y="346.2" font-size="3.4" text-anchor="end" fill="#555" stroke="#555" stroke-width="0.2">0</text>
<line x1="29.4" y1="288.6" x2="31" y2="288.6" stroke="#666" stroke-width="0.5"/>
<text x="28.8" y="289.8" font-size="3.4" text-anchor="end" fill="#555" stroke="#555" stroke-width="0.2">0.2</text>
<line x1="29.4" y1="231.1" x2="31" y2="231.1" stroke="#666" stroke-width="0.5"/>
<text x="28.8" y="232.3" font-size="3.4" text-anchor="end" fill="#555" stroke="#555" stroke-width="0.2">0.5</text>
<text x="84" y="359" font-size="3.8" text-anchor="middle" fill="#333" stroke="#333" stroke-width="0.2">Carboplatin (uM)</text>
<text x="21.3" y="288.5" font-size="3.8" text-anchor="middle" fill="#333" transform="rotate(-90 21.3 288.5)" stroke="#333" stroke-width="0.2">Pevonedistat (uM)</text>
<rect x="148.4" y="230" width="103.6" height="1.6" fill="url(#lb68)"/>
<text x="148.4" y="227.1" font-size="3.7" text-anchor="middle" fill="#222" stroke="#222" stroke-width="0.2">-40</text>
<text x="161.35" y="227.1" font-size="3.7" text-anchor="middle" fill="#222" stroke="#222" stroke-width="0.2">-30</text>
<text x="174.3" y="227.1" font-size="3.7" text-anchor="middle" fill="#222" stroke="#222" stroke-width="0.2">-20</text>
<text x="187.25" y="227.1" font-size="3.7" text-anchor="middle" fill="#222" stroke="#222" stroke-width="0.2">-10</text>
<text x="200.2" y="227.1" font-size="3.7" text-anchor="middle" fill="#222" stroke="#222" stroke-width="0.2">0</text>
<text x="213.15" y="227.1" font-size="3.7" text-anchor="middle" fill="#222" stroke="#222" stroke-width="0.2">10</text>
<text x="226.1" y="227.1" font-size="3.7" text-anchor="middle" fill="#222" stroke="#222" stroke-width="0.2">20</text>
<text x="239.05" y="227.1" font-size="3.7" text-anchor="middle" fill="#222" stroke="#222" stroke-width="0.2">30</text>
<text x="252" y="227.1" font-size="3.7" text-anchor="middle" fill="#222" stroke="#222" stroke-width="0.2">40</text>
<line x1="158.3" y1="300.65" x2="220.95" y2="281.04" stroke="#555" stroke-width="0.45" stroke-dasharray="0.8,0.9"/>
<line x1="220.95" y1="281.04" x2="243.34" y2="300.82" stroke="#555" stroke-width="0.45" stroke-dasharray="0.8,0.9"/>
<line x1="220.95" y1="281.04" x2="221.78" y2="246.67" stroke="#555" stroke-width="0.45" stroke-dasharray="0.8,0.9"/>
<line x1="156.17" y1="264.8" x2="221.78" y2="246.67" stroke="#555" stroke-width="0.45"/>
<line x1="221.78" y1="246.67" x2="245.34" y2="264.55" stroke="#555" stroke-width="0.45"/>
<line x1="156.17" y1="264.8" x2="175.64" y2="285.69" stroke="#555" stroke-width="0.45"/>
<line x1="175.64" y1="285.69" x2="245.34" y2="264.55" stroke="#555" stroke-width="0.45"/>
<line x1="156.17" y1="264.8" x2="158.3" y2="300.65" stroke="#555" stroke-width="0.45"/>
<line x1="245.34" y1="264.55" x2="243.34" y2="300.82" stroke="#555" stroke-width="0.45"/>
<line x1="175.64" y1="285.69" x2="176.98" y2="323.55" stroke="#555" stroke-width="0.45"/>
<line x1="176.98" y1="323.55" x2="243.34" y2="300.82" stroke="#555" stroke-width="0.45"/>
<line x1="176.98" y1="323.55" x2="158.3" y2="300.65" stroke="#555" stroke-width="0.45"/>
<g stroke="#333" stroke-width="0.36" stroke-linejoin="round"><polygon points="220.7,257.3 223.7,256.8 221.6,254.7 218.6,255.2" fill="#ff8484"/><polygon points="217.6,257.9 220.7,257.3 218.6,255.2 215.5,255.8" fill="#ff8080"/><polygon points="222.9,259.5 225.9,259 223.7,256.8 220.7,257.3" fill="#ff8989"/><polygon points="214.5,258.6 217.6,257.9 215.5,255.8 212.4,256.5" fill="#ff7d7d"/><polygon points="211.4,259.2 214.5,258.6 212.4,256.5 209.3,257.2" fill="#ff7b7b"/><polygon points="219.8,260.1 222.9,259.5 220.7,257.3 217.6,257.9" fill="#ff8585"/><polygon points="225.1,261.7 228.1,261.3 225.9,259 222.9,259.5" fill="#ff8f8f"/><polygon points="216.7,260.7 219.8,260.1 217.6,257.9 214.5,258.6" fill="#ff8282"/><polygon points="208.3,259.7 211.4,259.2 209.3,257.2 206.2,257.7" fill="#ff7676"/><polygon points="222,262.3 225.1,261.7 222.9,259.5 219.8,260.1" fill="#ff8a8a"/><polygon points="213.5,261.3 216.7,260.7 214.5,258.6 211.4,259.2" fill="#ff7e7e"/><polygon points="205.1,260 208.3,259.7 206.2,257.7 203,258" fill="#ff7070"/><polygon points="227.3,264.1 230.4,263.8 228.1,261.3 225.1,261.7" fill="#ff9696"/><polygon points="218.8,262.9 222,262.3 219.8,260.1 216.7,260.7" fill="#ff8787"/><polygon points="210.4,261.8 213.5,261.3 211.4,259.2 208.3,259.7" fill="#ff7a7a"/><polygon points="201.9,260.2 205.1,260 203,258 199.8,258" fill="#ff6767"/><polygon points="224.2,264.7 227.3,264.1 225.1,261.7 222,262.3" fill="#ff9191"/><polygon points="215.7,263.5 218.8,262.9 216.7,260.7 213.5,261.3" fill="#ff8383"/><polygon points="207.2,262.1 210.4,261.8 208.3,259.7 205.1,260" fill="#ff7373"/><polygon points="198.7,260.1 201.9,260.2 199.8,258 196.6,257.8" fill="#ff5c5c"/><polygon points="229.6,266.7 232.7,266.4 230.4,263.8 227.3,264.1" fill="#ff9f9f"/><polygon points="221,265.3 224.2,264.7 222,262.3 218.8,262.9" fill="#ff8d8d"/><polygon points="212.5,264 215.7,263.5 213.5,261.3 210.4,261.8" fill="#ff7e7e"/><polygon points="204,262.2 207.2,262.1 205.1,260 201.9,260.2" fill="#ff6b6b"/><polygon points="195.4,260.1 198.7,260.1 196.6,257.8 193.4,257.4" fill="#ff4f4f"/><polygon points="226.4,267.3 229.6,266.7 227.3,264.1 224.2,264.7" fill="#ff9999"/><polygon points="217.9,266 221,265.3 218.8,262.9 215.7,263.5" fill="#ff8989"/><polygon points="209.3,264.3 212.5,264 210.4,261.8 207.2,262.1" fill="#ff7777"/><polygon points="200.7,262.4 204,262.2 201.9,260.2 198.7,260.1" fill="#ff6161"/><polygon points="231.8,269.7 234.9,269.2 232.7,266.4 229.6,266.7" fill="#ffabab"/><polygon points="223.3,268 226.4,267.3 224.2,264.7 221,265.3" fill="#ff9595"/><polygon points="192.1,260.3 195.4,260.1 193.4,257.4 190.1,257.4" fill="#ff4343"/><polygon points="214.7,266.4 217.9,266 215.7,263.5 212.5,264" fill="#ff8484"/><polygon points="206.1,264.4 209.3,264.3 207.2,262.1 204,262.2" fill="#ff6e6e"/><polygon points="228.7,270.3 231.8,269.7 229.6,266.7 226.4,267.3" fill="#ffa5a5"/><polygon points="197.5,262.5 200.7,262.4 198.7,260.1 195.4,260.1" fill="#ff5656"/><polygon points="220.1,268.6 223.3,268 221,265.3 217.9,266" fill="#ff9292"/><polygon points="188.8,260.8 192.1,260.3 190.1,257.4 186.8,258.1" fill="#ff3c3c"/><polygon points="211.5,266.7 214.7,266.4 212.5,264 209.3,264.3" fill="#ff7d7d"/><polygon points="234.1,272.9 237.3,272.3 234.9,269.2 231.8,269.7" fill="#ffb8b8"/><polygon points="202.8,264.6 206.1,264.4 204,262.2 200.7,262.4" fill="#ff6565"/><polygon points="225.5,270.9 228.7,270.3 226.4,267.3 223.3,268" fill="#ffa1a1"/><polygon points="194.2,262.9 197.5,262.5 195.4,260.1 192.1,260.3" fill="#ff4d4d"/><polygon points="216.9,269.1 220.1,268.6 217.9,266 214.7,266.4" fill="#ff8d8d"/><polygon points="185.5,261.5 188.8,260.8 186.8,258.1 183.5,259" fill="#ff3939"/><polygon points="208.2,266.8 211.5,266.7 209.3,264.3 206.1,264.4" fill="#ff7474"/><polygon points="231,273.5 234.1,272.9 231.8,269.7 228.7,270.3" fill="#ffb4b4"/><polygon points="199.6,265 202.8,264.6 200.7,262.4 197.5,262.5" fill="#ff5c5c"/><polygon points="222.3,271.6 225.5,270.9 223.3,268 220.1,268.6" fill="#ff9d9d"/><polygon points="190.9,263.4 194.2,262.9 192.1,260.3 188.8,260.8" fill="#ff4646"/><polygon points="236.5,276.3 239.6,275.5 237.3,272.3 234.1,272.9" fill="#ffc8c8"/><polygon points="213.7,269.4 216.9,269.1 214.7,266.4 211.5,266.7" fill="#ff8686"/><polygon points="182.2,262.2 185.5,261.5 183.5,259 180.2,259.7" fill="#ff3737"/><polygon points="227.8,274.2 231,273.5 228.7,270.3 225.5,270.9" fill="#ffb0b0"/><polygon points="205,267.1 208.2,266.8 206.1,264.4 202.8,264.6" fill="#ff6b6b"/><polygon points="219.1,272.1 222.3,271.6 220.1,268.6 216.9,269.1" fill="#ff9898"/><polygon points="196.3,265.4 199.6,265 197.5,262.5 194.2,262.9" fill="#ff5555"/><polygon points="187.5,264 190.9,263.4 188.8,260.8 185.5,261.5" fill="#ff4242"/><polygon points="233.3,277.1 236.5,276.3 234.1,272.9 231,273.5" fill="#ffc5c5"/><polygon points="178.8,263.1 182.2,262.2 180.2,259.7 176.8,260.4" fill="#ff3434"/><polygon points="210.4,269.6 213.7,269.4 211.5,266.7 208.2,266.8" fill="#ff7c7c"/><polygon points="159,285.2 162.3,281.7 160.5,279.7 157.3,283.2" fill="#fff0f0"/><polygon points="224.6,274.8 227.8,274.2 225.5,270.9 222.3,271.6" fill="#ffacac"/><polygon points="162.3,281.7 165.6,277.3 163.8,275 160.5,279.7" fill="#ffcbcb"/><polygon points="238.8,280.4 241.9,279.4 239.6,275.5 236.5,276.3" fill="#ffdddd"/><polygon points="201.7,267.5 205,267.1 202.8,264.6 199.6,265" fill="#ff6363"/><polygon points="165.6,277.3 168.8,272.6 167,270 163.8,275" fill="#ff9d9d"/><polygon points="215.9,272.4 219.1,272.1 216.9,269.1 213.7,269.4" fill="#ff9191"/><polygon points="192.9,266 196.3,265.4 194.2,262.9 190.9,263.4" fill="#ff4f4f"/><polygon points="175.4,265 178.8,263.1 176.8,260.4 173.5,262.1" fill="#ff3838"/><polygon points="184.2,264.7 187.5,264 185.5,261.5 182.2,262.2" fill="#ff3e3e"/><polygon points="230.1,277.8 233.3,277.1 231,273.5 227.8,274.2" fill="#ffc2c2"/><polygon points="168.8,272.6 172.1,268.3 170.2,265.5 167,270" fill="#ff7070"/><polygon points="172.1,268.3 175.4,265 173.5,262.1 170.2,265.5" fill="#ff4c4c"/><polygon points="207.1,269.9 210.4,269.6 208.2,266.8 205,267.1" fill="#ff7373"/><polygon points="221.4,275.4 224.6,274.8 222.3,271.6 219.1,272.1" fill="#ffa7a7"/><polygon points="235.6,281.3 238.8,280.4 236.5,276.3 233.3,277.1" fill="#ffdcdc"/><polygon points="198.4,268.1 201.7,267.5 199.6,265 196.3,265.4" fill="#ff5d5d"/><polygon points="189.6,266.6 192.9,266 190.9,263.4 187.5,264" fill="#ff4a4a"/><polygon points="180.8,265.6 184.2,264.7 182.2,262.2 178.8,263.1" fill="#ff3d3d"/><polygon points="212.6,272.8 215.9,272.4 213.7,269.4 210.4,269.6" fill="#ff8989"/><polygon points="241.1,284.1 244.3,283.1 241.9,279.4 238.8,280.4" fill="#fff4f4"/><polygon points="226.9,278.4 230.1,277.8 227.8,274.2 224.6,274.8" fill="#ffbebe"/><polygon points="160.8,287.3 164.2,283.8 162.3,281.7 159,285.2" fill="#fff0f0"/><polygon points="203.8,270.5 207.1,269.9 205,267.1 201.7,267.5" fill="#ff6d6d"/><polygon points="232.4,282.1 235.6,281.3 233.3,277.1 230.1,277.8" fill="#ffd9d9"/><polygon points="164.2,283.8 167.5,279.6 165.6,277.3 162.3,281.7" fill="#ffcdcd"/><polygon points="218.1,275.9 221.4,275.4 219.1,272.1 215.9,272.4" fill="#ffa1a1"/><polygon points="195,268.8 198.4,268.1 196.3,265.4 192.9,266" fill="#ff5858"/><polygon points="177.4,267.5 180.8,265.6 178.8,263.1 175.4,265" fill="#ff4242"/><polygon points="167.5,279.6 170.7,275 168.8,272.6 165.6,277.3" fill="#ffa2a2"/><polygon points="186.2,267.2 189.6,266.6 187.5,264 184.2,264.7" fill="#ff4646"/><polygon points="237.9,285.2 241.1,284.1 238.8,280.4 235.6,281.3" fill="#fff4f4"/><polygon points="170.7,275 174.1,270.8 172.1,268.3 168.8,272.6" fill="#ff7878"/><polygon points="223.7,279.1 226.9,278.4 224.6,274.8 221.4,275.4" fill="#ffb9b9"/><polygon points="174.1,270.8 177.4,267.5 175.4,265 172.1,268.3" fill="#ff5555"/><polygon points="209.3,273.3 212.6,272.8 210.4,269.6 207.1,269.9" fill="#ff8181"/><polygon points="229.2,282.9 232.4,282.1 230.1,277.8 226.9,278.4" fill="#ffd6d6"/><polygon points="200.5,271.2 203.8,270.5 201.7,267.5 198.4,268.1" fill="#ff6868"/><polygon points="214.9,276.4 218.1,275.9 215.9,272.4 212.6,272.8" fill="#ff9a9a"/><polygon points="191.6,269.5 195,268.8 192.9,266 189.6,266.6" fill="#ff5454"/><polygon points="182.8,268.1 186.2,267.2 184.2,264.7 180.8,265.6" fill="#ff4444"/><polygon points="234.7,286.2 237.9,285.2 235.6,281.3 232.4,282.1" fill="#fff3f3"/><polygon points="220.4,279.8 223.7,279.1 221.4,275.4 218.1,275.9" fill="#ffb4b4"/><polygon points="206,274 209.3,273.3 207.1,269.9 203.8,270.5" fill="#ff7c7c"/><polygon points="225.9,283.8 229.2,282.9 226.9,278.4 223.7,279.1" fill="#ffd3d3"/><polygon points="197.1,272 200.5,271.2 198.4,268.1 195,268.8" fill="#ff6565"/><polygon points="162.6,289.4 166,286 164.2,283.8 160.8,287.3" fill="#fff1f1"/><polygon points="166,286 169.3,281.8 167.5,279.6 164.2,283.8" fill="#ffcece"/><polygon points="179.4,270 182.8,268.1 180.8,265.6 177.4,267.5" fill="#ff4949"/><polygon points="211.5,277.2 214.9,276.4 212.6,272.8 209.3,273.3" fill="#ff9494"/><polygon points="188.2,270.1 191.6,269.5 189.6,266.6 186.2,267.2" fill="#ff5050"/><polygon points="169.3,281.8 172.7,277.3 170.7,275 167.5,279.6" fill="#ffa5a5"/><polygon points="231.5,287.3 234.7,286.2 232.4,282.1 229.2,282.9" fill="#fff2f2"/><polygon points="172.7,277.3 176,273.2 174.1,270.8 170.7,275" fill="#ff7d7d"/><polygon points="176,273.2 179.4,270 177.4,267.5 174.1,270.8" fill="#ff5c5c"/><polygon points="202.7,274.9 206,274 203.8,270.5 200.5,271.2" fill="#ff7878"/><polygon points="217.1,280.5 220.4,279.8 218.1,275.9 214.9,276.4" fill="#ffafaf"/><polygon points="222.6,284.7 225.9,283.8 223.7,279.1 220.4,279.8" fill="#ffcfcf"/><polygon points="193.8,272.7 197.1,272 195,268.8 191.6,269.5" fill="#ff6161"/><polygon points="208.2,278 211.5,277.2 209.3,273.3 206,274" fill="#ff9090"/><polygon points="184.8,270.9 188.2,270.1 186.2,267.2 182.8,268.1" fill="#ff4d4d"/><polygon points="228.2,288.3 231.5,287.3 229.2,282.9 225.9,283.8" fill="#fff1f1"/><polygon points="199.3,275.7 202.7,274.9 200.5,271.2 197.1,272" fill="#ff7676"/><polygon points="213.8,281.4 217.1,280.5 214.9,276.4 211.5,277.2" fill="#ffacac"/><polygon points="219.3,285.7 222.6,284.7 220.4,279.8 217.1,280.5" fill="#ffcdcd"/><polygon points="190.3,273.3 193.8,272.7 191.6,269.5 188.2,270.1" fill="#ff5d5d"/><polygon points="181.4,272.6 184.8,270.9 182.8,268.1 179.4,270" fill="#ff5151"/><polygon points="164.5,291.5 167.9,288.2 166,286 162.6,289.4" fill="#fff1f1"/><polygon points="167.9,288.2 171.3,284.1 169.3,281.8 166,286" fill="#ffd0d0"/><polygon points="204.9,279 208.2,278 206,274 202.7,274.9" fill="#ff8e8e"/><polygon points="224.9,289.4 228.2,288.3 225.9,283.8 222.6,284.7" fill="#fff0f0"/><polygon points="171.3,284.1 174.6,279.7 172.7,277.3 169.3,281.8" fill="#ffa9a9"/><polygon points="178,275.7 181.4,272.6 179.4,270 176,273.2" fill="#ff6262"/><polygon points="174.6,279.7 178,275.7 176,273.2 172.7,277.3" fill="#ff8282"/><polygon points="210.4,282.4 213.8,281.4 211.5,277.2 208.2,278" fill="#ffaaaa"/><polygon points="195.9,276.4 199.3,275.7 197.1,272 193.8,272.7" fill="#ff7373"/><polygon points="216,286.7 219.3,285.7 217.1,280.5 213.8,281.4" fill="#ffcbcb"/><polygon points="186.9,274.2 190.3,273.3 188.2,270.1 184.8,270.9" fill="#ff5a5a"/><polygon points="201.5,279.8 204.9,279 202.7,274.9 199.3,275.7" fill="#ff8c8c"/><polygon points="221.6,290.5 224.9,289.4 222.6,284.7 219.3,285.7" fill="#ffefef"/><polygon points="207.1,283.4 210.4,282.4 208.2,278 204.9,279" fill="#ffa9a9"/><polygon points="192.5,277.2 195.9,276.4 193.8,272.7 190.3,273.3" fill="#ff6f6f"/><polygon points="212.7,287.8 216,286.7 213.8,281.4 210.4,282.4" fill="#ffcbcb"/><polygon points="183.5,275.8 186.9,274.2 184.8,270.9 181.4,272.6" fill="#ff5d5d"/><polygon points="218.3,291.5 221.6,290.5 219.3,285.7 216,286.7" fill="#ffefef"/><polygon points="198.1,280.6 201.5,279.8 199.3,275.7 195.9,276.4" fill="#ff8a8a"/><polygon points="169.8,290.5 173.2,286.6 171.3,284.1 167.9,288.2" fill="#ffd3d3"/><polygon points="166.4,293.7 169.8,290.5 167.9,288.2 164.5,291.5" fill="#fff2f2"/><polygon points="180,278.7 183.5,275.8 181.4,272.6 178,275.7" fill="#ff6c6c"/><polygon points="173.2,286.6 176.6,282.5 174.6,279.7 171.3,284.1" fill="#ffaeae"/><polygon points="176.6,282.5 180,278.7 178,275.7 174.6,279.7" fill="#ff8989"/><polygon points="203.7,284.3 207.1,283.4 204.9,279 201.5,279.8" fill="#ffa7a7"/><polygon points="189,278.1 192.5,277.2 190.3,273.3 186.9,274.2" fill="#ff6c6c"/><polygon points="209.3,288.8 212.7,287.8 210.4,282.4 207.1,283.4" fill="#ffcbcb"/><polygon points="214.9,292.6 218.3,291.5 216,286.7 212.7,287.8" fill="#ffefef"/><polygon points="194.6,281.5 198.1,280.6 195.9,276.4 192.5,277.2" fill="#ff8787"/><polygon points="185.6,279.7 189,278.1 186.9,274.2 183.5,275.8" fill="#ff6f6f"/><polygon points="200.3,285.2 203.7,284.3 201.5,279.8 198.1,280.6" fill="#ffa5a5"/><polygon points="205.9,289.8 209.3,288.8 207.1,283.4 203.7,284.3" fill="#ffcaca"/><polygon points="211.5,293.7 214.9,292.6 212.7,287.8 209.3,288.8" fill="#ffefef"/><polygon points="182.1,282.3 185.6,279.7 183.5,275.8 180,278.7" fill="#ff7c7c"/><polygon points="191.2,282.6 194.6,281.5 192.5,277.2 189,278.1" fill="#ff8585"/><polygon points="178.7,285.6 182.1,282.3 180,278.7 176.6,282.5" fill="#ff9595"/><polygon points="171.8,292.8 175.2,289.2 173.2,286.6 169.8,290.5" fill="#ffd6d6"/><polygon points="175.2,289.2 178.7,285.6 176.6,282.5 173.2,286.6" fill="#ffb5b5"/><polygon points="168.3,295.9 171.8,292.8 169.8,290.5 166.4,293.7" fill="#fff3f3"/><polygon points="196.8,286.2 200.3,285.2 198.1,280.6 194.6,281.5" fill="#ffa3a3"/><polygon points="202.5,290.8 205.9,289.8 203.7,284.3 200.3,285.2" fill="#ffc8c8"/><polygon points="208.1,294.8 211.5,293.7 209.3,288.8 205.9,289.8" fill="#ffeeee"/><polygon points="187.7,284.1 191.2,282.6 189,278.1 185.6,279.7" fill="#ff8888"/><polygon points="193.3,287.4 196.8,286.2 194.6,281.5 191.2,282.6" fill="#ffa3a3"/><polygon points="184.2,286.3 187.7,284.1 185.6,279.7 182.1,282.3" fill="#ff9393"/><polygon points="199,291.9 202.5,290.8 200.3,285.2 196.8,286.2" fill="#ffc7c7"/><polygon points="204.7,295.9 208.1,294.8 205.9,289.8 202.5,290.8" fill="#ffeeee"/><polygon points="180.7,289.1 184.2,286.3 182.1,282.3 178.7,285.6" fill="#ffa6a6"/><polygon points="177.3,292.1 180.7,289.1 178.7,285.6 175.2,289.2" fill="#ffc0c0"/><polygon points="189.9,288.9 193.3,287.4 191.2,282.6 187.7,284.1" fill="#ffa6a6"/><polygon points="173.8,295.2 177.3,292.1 175.2,289.2 171.8,292.8" fill="#ffdbdb"/><polygon points="170.3,298.1 173.8,295.2 171.8,292.8 168.3,295.9" fill="#fff3f3"/><polygon points="195.6,293.1 199,291.9 196.8,286.2 193.3,287.4" fill="#ffc8c8"/><polygon points="201.3,297 204.7,295.9 202.5,290.8 199,291.9" fill="#ffeeee"/><polygon points="186.4,290.7 189.9,288.9 187.7,284.1 184.2,286.3" fill="#ffaeae"/><polygon points="192.1,294.4 195.6,293.1 193.3,287.4 189.9,288.9" fill="#ffcaca"/><polygon points="182.8,292.9 186.4,290.7 184.2,286.3 180.7,289.1" fill="#ffbcbc"/><polygon points="197.8,298.2 201.3,297 199,291.9 195.6,293.1" fill="#ffeeee"/><polygon points="179.3,295.2 182.8,292.9 180.7,289.1 177.3,292.1" fill="#ffcdcd"/><polygon points="188.5,295.8 192.1,294.4 189.9,288.9 186.4,290.7" fill="#ffcfcf"/><polygon points="175.8,297.8 179.3,295.2 177.3,292.1 173.8,295.2" fill="#ffe1e1"/><polygon points="194.3,299.3 197.8,298.2 195.6,293.1 192.1,294.4" fill="#ffefef"/><polygon points="172.3,300.4 175.8,297.8 173.8,295.2 170.3,298.1" fill="#fff5f5"/><polygon points="185,297.4 188.5,295.8 186.4,290.7 182.8,292.9" fill="#ffd6d6"/><polygon points="190.7,300.4 194.3,299.3 192.1,294.4 188.5,295.8" fill="#fff0f0"/><polygon points="181.4,299 185,297.4 182.8,292.9 179.3,295.2" fill="#ffe0e0"/><polygon points="177.9,300.8 181.4,299 179.3,295.2 175.8,297.8" fill="#ffebeb"/><polygon points="187.2,301.6 190.7,300.4 188.5,295.8 185,297.4" fill="#fff2f2"/><polygon points="174.3,302.7 177.9,300.8 175.8,297.8 172.3,300.4" fill="#fff8f8"/><polygon points="183.6,302.8 187.2,301.6 185,297.4 181.4,299" fill="#fff5f5"/><polygon points="180,303.9 183.6,302.8 181.4,299 177.9,300.8" fill="#fff8f8"/><polygon points="176.3,305.1 180,303.9 177.9,300.8 174.3,302.7" fill="#fffdfd"/></g>
<line x1="156.7" y1="300.65" x2="158.3" y2="300.65" stroke="#555" stroke-width="0.4"/>
<text x="156.1" y="301.8" font-size="3.3" text-anchor="end" fill="#444" stroke="#444" stroke-width="0.2">-40</text>
<line x1="156.44" y1="296.36" x2="158.04" y2="296.36" stroke="#555" stroke-width="0.4"/>
<text x="155.84" y="297.51" font-size="3.3" text-anchor="end" fill="#444" stroke="#444" stroke-width="0.2">-30</text>
<line x1="156.18" y1="292.01" x2="157.78" y2="292.01" stroke="#555" stroke-width="0.4"/>
<text x="155.58" y="293.16" font-size="3.3" text-anchor="end" fill="#444" stroke="#444" stroke-width="0.2">-20</text>
<line x1="155.92" y1="287.6" x2="157.52" y2="287.6" stroke="#555" stroke-width="0.4"/>
<text x="155.32" y="288.75" font-size="3.3" text-anchor="end" fill="#444" stroke="#444" stroke-width="0.2">-10</text>
<line x1="155.66" y1="283.15" x2="157.26" y2="283.15" stroke="#555" stroke-width="0.4"/>
<text x="155.06" y="284.3" font-size="3.3" text-anchor="end" fill="#444" stroke="#444" stroke-width="0.2">0</text>
<line x1="155.39" y1="278.65" x2="156.99" y2="278.65" stroke="#555" stroke-width="0.4"/>
<text x="154.79" y="279.8" font-size="3.3" text-anchor="end" fill="#444" stroke="#444" stroke-width="0.2">10</text>
<line x1="155.12" y1="274.09" x2="156.72" y2="274.09" stroke="#555" stroke-width="0.4"/>
<text x="154.52" y="275.24" font-size="3.3" text-anchor="end" fill="#444" stroke="#444" stroke-width="0.2">20</text>
<line x1="154.84" y1="269.47" x2="156.44" y2="269.47" stroke="#555" stroke-width="0.4"/>
<text x="154.24" y="270.62" font-size="3.3" text-anchor="end" fill="#444" stroke="#444" stroke-width="0.2">30</text>
<line x1="154.57" y1="264.8" x2="156.17" y2="264.8" stroke="#555" stroke-width="0.4"/>
<text x="153.97" y="265.95" font-size="3.3" text-anchor="end" fill="#444" stroke="#444" stroke-width="0.2">40</text>
<line x1="169.14" y1="313.94" x2="167.64" y2="315.24" stroke="#555" stroke-width="0.4"/>
<text x="164.64" y="319.24" font-size="3.5" text-anchor="middle" fill="#333" stroke="#333" stroke-width="0.2">0.2</text>
<line x1="161.79" y1="304.94" x2="160.29" y2="306.24" stroke="#555" stroke-width="0.4"/>
<text x="157.29" y="310.24" font-size="3.5" text-anchor="middle" fill="#333" stroke="#333" stroke-width="0.2">0.5</text>
<line x1="194.46" y1="317.56" x2="194.16" y2="319.16" stroke="#555" stroke-width="0.4"/>
<text x="192.86" y="323.96" font-size="3.5" text-anchor="middle" fill="#333" stroke="#333" stroke-width="0.2">20</text>
<line x1="211.33" y1="311.78" x2="211.03" y2="313.38" stroke="#555" stroke-width="0.4"/>
<text x="209.73" y="318.18" font-size="3.5" text-anchor="middle" fill="#333" stroke="#333" stroke-width="0.2">40</text>
<line x1="227.61" y1="306.21" x2="227.31" y2="307.81" stroke="#555" stroke-width="0.4"/>
<text x="226.01" y="312.61" font-size="3.5" text-anchor="middle" fill="#333" stroke="#333" stroke-width="0.2">60</text>
<line x1="243.34" y1="300.82" x2="243.04" y2="302.42" stroke="#555" stroke-width="0.4"/>
<text x="241.74" y="307.22" font-size="3.5" text-anchor="middle" fill="#333" stroke="#333" stroke-width="0.2">80</text>
<text x="212.5" y="322.5" font-size="4.5" text-anchor="middle" fill="#222" transform="rotate(-20 212.5 322.5)" stroke="#222" stroke-width="0.2">Carboplatin (uM)</text>
<text x="157" y="325.5" font-size="5.1" text-anchor="middle" fill="#222" transform="rotate(49 157 325.5)" stroke="#222" stroke-width="0.15">Pevonedistat (uM)</text>
<text x="365.5" y="208.75" font-size="10.6" fill="#111" textLength="119.5" lengthAdjust="spacingAndGlyphs">Bliss synergy score 15.15</text>
<rect x="326.75" y="220.95" width="74.25" height="1.6" fill="url(#lb69)"/>
<text x="329.35" y="219.55" font-size="3.7" text-anchor="middle" fill="#222" stroke="#222" stroke-width="0.2">-40</text>
<text x="346.61" y="219.55" font-size="3.7" text-anchor="middle" fill="#222" stroke="#222" stroke-width="0.2">-20</text>
<text x="363.88" y="219.55" font-size="3.7" text-anchor="middle" fill="#222" stroke="#222" stroke-width="0.2">0</text>
<text x="381.14" y="219.55" font-size="3.7" text-anchor="middle" fill="#222" stroke="#222" stroke-width="0.2">20</text>
<text x="398.4" y="219.55" font-size="3.7" text-anchor="middle" fill="#222" stroke="#222" stroke-width="0.2">40</text>
<g clip-path="url(#c70)"><rect x="312" y="226.25" width="106" height="2.6" fill="url(#r71)"/><rect x="312" y="228.25" width="106" height="2.6" fill="url(#r72)"/><rect x="312" y="230.25" width="106" height="2.6" fill="url(#r73)"/><rect x="312" y="232.25" width="106" height="2.6" fill="url(#r74)"/><rect x="312" y="234.25" width="106" height="2.6" fill="url(#r75)"/><rect x="312" y="236.25" width="106" height="2.6" fill="url(#r76)"/><rect x="312" y="238.25" width="106" height="2.6" fill="url(#r77)"/><rect x="312" y="240.25" width="106" height="2.6" fill="url(#r78)"/><rect x="312" y="242.25" width="106" height="2.6" fill="url(#r79)"/><rect x="312" y="244.25" width="106" height="2.6" fill="url(#r80)"/><rect x="312" y="246.25" width="106" height="2.6" fill="url(#r81)"/><rect x="312" y="248.25" width="106" height="2.6" fill="url(#r82)"/><rect x="312" y="250.25" width="106" height="2.6" fill="url(#r83)"/><rect x="312" y="252.25" width="106" height="2.6" fill="url(#r84)"/><rect x="312" y="254.25" width="106" height="2.6" fill="url(#r85)"/><rect x="312" y="256.25" width="106" height="2.6" fill="url(#r86)"/><rect x="312" y="258.25" width="106" height="2.6" fill="url(#r87)"/><rect x="312" y="260.25" width="106" height="2.6" fill="url(#r88)"/><rect x="312" y="262.25" width="106" height="2.6" fill="url(#r89)"/><rect x="312" y="264.25" width="106" height="2.6" fill="url(#r90)"/><rect x="312" y="266.25" width="106" height="2.6" fill="url(#r91)"/><rect x="312" y="268.25" width="106" height="2.6" fill="url(#r92)"/><rect x="312" y="270.25" width="106" height="2.6" fill="url(#r93)"/><rect x="312" y="272.25" width="106" height="2.6" fill="url(#r94)"/><rect x="312" y="274.25" width="106" height="2.6" fill="url(#r95)"/><rect x="312" y="276.25" width="106" height="2.6" fill="url(#r96)"/><rect x="312" y="278.25" width="106" height="2.6" fill="url(#r97)"/><rect x="312" y="280.25" width="106" height="2.6" fill="url(#r98)"/><rect x="312" y="282.25" width="106" height="2.6" fill="url(#r99)"/><rect x="312" y="284.25" width="106" height="2.6" fill="url(#r100)"/><rect x="312" y="286.25" width="106" height="2.6" fill="url(#r101)"/><rect x="312" y="288.25" width="106" height="2.6" fill="url(#r102)"/><rect x="312" y="290.25" width="106" height="2.6" fill="url(#r103)"/><rect x="312" y="292.25" width="106" height="2.6" fill="url(#r104)"/><rect x="312" y="294.25" width="106" height="2.6" fill="url(#r105)"/><rect x="312" y="296.25" width="106" height="2.6" fill="url(#r106)"/><rect x="312" y="298.25" width="106" height="2.6" fill="url(#r107)"/><rect x="312" y="300.25" width="106" height="2.6" fill="url(#r108)"/><rect x="312" y="302.25" width="106" height="2.6" fill="url(#r109)"/><rect x="312" y="304.25" width="106" height="2.6" fill="url(#r110)"/><rect x="312" y="306.25" width="106" height="2.6" fill="url(#r111)"/><rect x="312" y="308.25" width="106" height="2.6" fill="url(#r112)"/><rect x="312" y="310.25" width="106" height="2.6" fill="url(#r113)"/><rect x="312" y="312.25" width="106" height="2.6" fill="url(#r114)"/><rect x="312" y="314.25" width="106" height="2.6" fill="url(#r115)"/><rect x="312" y="316.25" width="106" height="2.6" fill="url(#r116)"/><rect x="312" y="318.25" width="106" height="2.6" fill="url(#r117)"/><rect x="312" y="320.25" width="106" height="2.6" fill="url(#r118)"/><rect x="312" y="322.25" width="106" height="2.6" fill="url(#r119)"/><rect x="312" y="324.25" width="106" height="2.6" fill="url(#r120)"/><rect x="312" y="326.25" width="106" height="2.6" fill="url(#r121)"/><rect x="312" y="328.25" width="106" height="2.6" fill="url(#r122)"/><rect x="312" y="330.25" width="106" height="2.6" fill="url(#r123)"/><rect x="312" y="332.25" width="106" height="2.6" fill="url(#r124)"/><rect x="312" y="334.25" width="106" height="2.6" fill="url(#r125)"/><rect x="312" y="336.25" width="106" height="2.6" fill="url(#r126)"/><rect x="312" y="338.25" width="106" height="2.6" fill="url(#r127)"/><rect x="312" y="340.25" width="106" height="2.6" fill="url(#r128)"/><rect x="312" y="342.25" width="106" height="2.6" fill="url(#r129)"/><rect x="312" y="344.25" width="106" height="2.6" fill="url(#r130)"/><rect x="312" y="346.25" width="106" height="2.6" fill="url(#r131)"/>
<g clip-path="url(#c132)">
<polyline points="418,281.8 416,281.8 414,281.4 413,281.2 411,280.7 409.3,280.2 408,279.9 406,279.3 405,279.1 403,278.5 402,278.2 400,277.7 398.2,277.2 397,277 395,276.5 393.7,276.2 392,275.9 390,275.6 388,275.4 387,275.2 385,275 383,274.8 381,274.6 379,274.3 378,274.2 376,273.9 374,273.6 372,273.4 370,273.4 368,273.7 366.6,274.2 365,275.1 364,275.9 363,276.9 362,278.1 361.2,279.2 360.6,280.2 360,281.3 359,283.2 358.6,284.2 358,285.8 357.5,287.2 357,288.8 356.6,290.2 356,292.1 355.7,293.2 355.1,295.2 354.9,296.2 354.3,298.2 354,299.4 353.5,301.2 353,302.8 352.5,304.2 352,305.9 351.5,307.2 351,308.6 350.3,310.2 349.8,311.2 349,312.8 348.2,314.2 347.5,315.2 346.7,316.2 345.8,317.2 344.6,318.2 343.2,319.2 342,319.9 340.8,320.2 339,320.5 337,320.3 336,320 334.4,319.2 333,318.3 332,317.4 331,316.2 330.3,315.2 329.6,314.2 329,313.2 328.1,311.2 327.7,310.2 327,308.4 326.6,307.2 326.1,305.2 325.9,304.2 325.4,302.2 325.1,300.2 324.9,299.2 324.6,297.2 324.3,295.2 324.1,293.2 324,292.2 323.8,290.2 323.7,288.2 323.5,286.2 323.4,284.2 323.3,282.2 323.2,280.2 323.2,278.2 323.1,276.2 323,274.2 323,272.9 323,271.2 322.9,269.2 322.9,267.2 322.8,265.2 322.8,263.2 322.7,261.2 322.6,259.2 322.6,257.2 322.5,255.2 322.4,253.2 322.4,251.2 322.3,249.2 322.2,247.2 322,245.2 322,244.2 321.8,242.2 321.7,240.2 321.5,238.2 321.4,236.2 321.2,234.2 321,232.5 320.9,231.2 320.9,229.2 320.9,227.2" fill="none" stroke="#fff" stroke-opacity="0.5" stroke-width="0.6"/>
<polyline points="418,266.8 416,266.8 414,266.6 412,266.4 411,266.2 409,266 407,265.7 405,265.5 403.3,265.2 402,265.1 400,264.8 398,264.6 396,264.4 395,264.2 393,264 391,263.8 389,263.7 387,263.5 385,263.4 383.8,263.2 382,263.1 380,262.9 378,262.7 376,262.5 374,262.4 372,262.3 370,262.3 368,262.6 366,263.1 365,263.5 363.6,264.2 362.2,265.2 361.1,266.2 360.2,267.2 359.4,268.2 358.7,269.2 358,270.3 357,272.1 356.5,273.2 356,274.3 355.2,276.2 354.8,277.2 354.2,279.2 353.8,280.2 353.2,282.2 352.9,283.2 352.4,285.2 352,286.6 351.6,288.2 351,290.2 350.8,291.2 350.2,293.2 349.9,294.2 349.3,296.2 349,297.2 348.3,299.2 347.9,300.2 347,302.2 346.5,303.2 346,304.3 345,306 344,307.2 343.1,308.2 342,309.2 341,309.9 340,310.3 338,310.4 337,310.1 335.4,309.2 334.2,308.2 333.4,307.2 332.6,306.2 332,305.2 331,303.2 330.6,302.2 330,300.7 329.5,299.2 329,297.4 328.7,296.2 328.3,294.2 328,292.8 327.7,291.2 327.4,289.2 327.2,287.2 327,285.3 326.9,284.2 326.7,282.2 326.6,280.2 326.5,278.2 326.4,276.2 326.3,274.2 326.2,272.2 326.2,270.2 326.1,268.2 326,266.2 326,264.4 326,263.2 325.9,261.2 325.9,259.2 325.8,257.2 325.7,255.2 325.7,253.2 325.6,251.2 325.5,249.2 325.4,247.2 325.3,245.2 325.2,243.2 325.1,241.2 325,240.2 324.8,238.2 324.7,236.2 324.5,234.2 324.3,232.2 324.2,230.2 324.2,228.2 324.2,226.2" fill="none" stroke="#fff" stroke-opacity="0.5" stroke-width="0.6"/>
<polyline points="418,255.4 416,255.4 414.4,255.2 413,255.2 411,255 409,254.9 407,254.8 405,254.7 403,254.6 401,254.5 399,254.4 397,254.3 396,254.2 394,254.2 392,254.1 390,254 388,253.8 386,253.7 384,253.6 382,253.5 380,253.4 378.3,253.2 377,253.2 375,253 373,253 371,253 369,253.1 367.7,253.2 366,253.6 364,254.2 363,254.6 361.8,255.2 360.4,256.2 359.2,257.2 358.2,258.2 357.4,259.2 356.6,260.2 356,261.2 355,262.9 354.4,264.2 353.9,265.2 353.1,267.2 352.7,268.2 352,270.2 351.7,271.2 351.1,273.2 350.9,274.2 350.3,276.2 350,277.6 349.6,279.2 349.1,281.2 348.8,282.2 348.3,284.2 348,285.4 347.5,287.2 347,288.9 346.6,290.2 346,291.9 345.5,293.2 345,294.4 344.1,296.2 343.5,297.2 342.8,298.2 342,299.3 340.9,300.2 339,301 337,300.6 336,299.8 335,298.7 334,297.2 333.5,296.2 333,295.1 332.3,293.2 332,292.2 331.4,290.2 331,288.4 330.8,287.2 330.5,285.2 330.2,283.2 330,281.8 329.8,280.2 329.7,278.2 329.5,276.2 329.4,274.2 329.3,272.2 329.2,270.2 329.1,268.2 329,266.2 329,265.2 328.9,263.2 328.9,261.2 328.8,259.2 328.7,257.2 328.7,255.2 328.6,253.2 328.5,251.2 328.4,249.2 328.3,247.2 328.2,245.2 328.1,243.2 328,242.2 327.8,240.2 327.7,238.2 327.5,236.2 327.3,234.2 327.1,232.2 327,231.2 327,229.2 327,227.2" fill="none" stroke="#fff" stroke-opacity="0.5" stroke-width="0.6"/>
<polyline points="418,245.5 416,245.5 414,245.4 412,245.3 410,245.3 409,245.2 407,245.2 405,245.2 403,245.2 401,245.2 399,245.2 397,245.1 395,245.1 393,245.1 391,245.1 389,245 387,244.9 385,244.9 383,244.8 381,244.7 379,244.6 377,244.5 375,244.5 373,244.4 371,244.5 369,244.5 367,244.7 365,245 364,245.3 362,245.8 360.9,246.2 359,247.2 358,247.9 357,248.8 356,249.7 355,250.9 354,252.2 353.4,253.2 352.9,254.2 352,256 351.5,257.2 351,258.5 350.4,260.2 350,261.4 349.4,263.2 349,264.7 348.6,266.2 348.1,268.2 347.8,269.2 347.3,271.2 347,272.5 346.6,274.2 346.1,276.2 345.8,277.2 345.3,279.2 345,280.3 344.4,282.2 344,283.5 343.3,285.2 342.9,286.2 342,287.9 341.1,289.2 340,290.2 339,290.5 337.9,290.2 336.8,289.2 336,288.2 335.1,286.2 334.8,285.2 334.2,283.2 334,282.2 333.6,280.2 333.3,278.2 333,276.3 332.9,275.2 332.7,273.2 332.5,271.2 332.4,269.2 332.3,267.2 332.1,265.2 332,263.2 332,262.2 331.9,260.2 331.8,258.2 331.7,256.2 331.6,254.2 331.5,252.2 331.4,250.2 331.3,248.2 331.2,246.2 331,244.2 330.9,243.2 330.7,241.2 330.6,239.2 330.3,237.2 330.1,235.2 330,234.2 329.7,232.2 329.6,230.2 329.6,228.2 329.6,226.2" fill="none" stroke="#fff" stroke-opacity="0.5" stroke-width="0.6"/>
<polyline points="418,236.5 416,236.5 414,236.5 412,236.4 410,236.4 408,236.4 406,236.4 404,236.4 402,236.5 400,236.5 398,236.5 396,236.5 394,236.5 392,236.5 390,236.5 388,236.5 386,236.4 384,236.4 382,236.4 380,236.3 378,236.3 376,236.3 374,236.3 372,236.3 370,236.3 368,236.3 366,236.4 364,236.6 362,236.9 360,237.2 359,237.6 357.3,238.2 356,239 355,239.7 354,240.6 353,241.7 352,243 351.2,244.2 350.6,245.2 350,246.4 349.2,248.2 348.7,249.2 348,251.1 347.6,252.2 347,253.9 346.5,255.2 346,257 345.6,258.2 345,260.2 344.7,261.2 344.1,263.2 343.8,264.2 343.2,266.2 342.9,267.2 342.2,269.2 341.8,270.2 341,271.9 340,273.2 339,273.3 338.2,272.2 337.8,271.2 337.2,269.2 336.9,268.2 336.6,266.2 336.3,264.2 336.1,262.2 335.9,261.2 335.8,259.2 335.6,257.2 335.4,255.2 335.2,253.2 335,251.4 334.9,250.2 334.7,248.2 334.5,246.2 334.3,244.2 334,242.2 333.9,241.2 333.6,239.2 333.3,237.2 333,235.2 332.9,234.2 332.5,232.2 332.4,230.2 332.4,228.2 332.4,226.2" fill="none" stroke="#fff" stroke-opacity="0.5" stroke-width="0.6"/>
<polyline points="351.6,226.2 351.6,228.2 351.6,230.2 351,232.1 350.1,233.2 349.3,234.2 348.7,235.2 348,236.2 347,237.8 346.1,239.2 345.4,240.2 344.7,241.2 344,242.3 343,243.4 341.6,244.2 340.8,244.2 339.7,243.2 339,242 338.3,240.2 337.9,239.2 337.3,237.2 337,236.2 336.5,234.2 336,232.6 335.7,231.2 335.7,229.2 335.7,227.2" fill="none" stroke="#fff" stroke-opacity="0.5" stroke-width="0.6"/>
</g>
<line x1="313" y1="226.25" x2="313" y2="347.5" stroke="rgba(0,0,0,0.3)" stroke-width="0.5"/>
<line x1="338" y1="226.25" x2="338" y2="347.5" stroke="rgba(0,0,0,0.3)" stroke-width="0.5"/>
<line x1="363.5" y1="226.25" x2="363.5" y2="347.5" stroke="rgba(0,0,0,0.3)" stroke-width="0.5"/>
<line x1="389.7" y1="226.25" x2="389.7" y2="347.5" stroke="rgba(0,0,0,0.3)" stroke-width="0.5"/>
<line x1="416" y1="226.25" x2="416" y2="347.5" stroke="rgba(0,0,0,0.3)" stroke-width="0.5"/>
<line x1="312" y1="344.6" x2="418" y2="344.6" stroke="rgba(0,0,0,0.3)" stroke-width="0.5"/>
<line x1="312" y1="288.7" x2="418" y2="288.7" stroke="rgba(0,0,0,0.3)" stroke-width="0.5"/>
<line x1="312" y1="231.4" x2="418" y2="231.4" stroke="rgba(0,0,0,0.3)" stroke-width="0.5"/>
<rect x="338" y="231.4" width="51.7" height="116.1" fill="rgba(0,0,0,0.1)" stroke="rgba(255,255,255,0.75)" stroke-width="0.9"/>
</g>
<line x1="313" y1="347.5" x2="313" y2="349.1" stroke="#666" stroke-width="0.5"/>
<text x="313" y="354.4" font-size="3.4" text-anchor="middle" fill="#444" stroke="#444" stroke-width="0.2">0</text>
<line x1="338" y1="347.5" x2="338" y2="349.1" stroke="#666" stroke-width="0.5"/>
<text x="338" y="354.4" font-size="3.4" text-anchor="middle" fill="#444" stroke="#444" stroke-width="0.2">20</text>
<line x1="363.5" y1="347.5" x2="363.5" y2="349.1" stroke="#666" stroke-width="0.5"/>
<text x="363.5" y="354.4" font-size="3.4" text-anchor="middle" fill="#444" stroke="#444" stroke-width="0.2">40</text>
<line x1="389.7" y1="347.5" x2="389.7" y2="349.1" stroke="#666" stroke-width="0.5"/>
<text x="389.7" y="354.4" font-size="3.4" text-anchor="middle" fill="#444" stroke="#444" stroke-width="0.2">60</text>
<line x1="416" y1="347.5" x2="416" y2="349.1" stroke="#666" stroke-width="0.5"/>
<text x="416" y="354.4" font-size="3.4" text-anchor="middle" fill="#444" stroke="#444" stroke-width="0.2">80</text>
<line x1="310.4" y1="344.6" x2="312" y2="344.6" stroke="#666" stroke-width="0.5"/>
<text x="309.8" y="345.8" font-size="3.4" text-anchor="end" fill="#555" stroke="#555" stroke-width="0.2">0</text>
<line x1="310.4" y1="288.7" x2="312" y2="288.7" stroke="#666" stroke-width="0.5"/>
<text x="309.8" y="289.9" font-size="3.4" text-anchor="end" fill="#555" stroke="#555" stroke-width="0.2">0.2</text>
<line x1="310.4" y1="231.4" x2="312" y2="231.4" stroke="#666" stroke-width="0.5"/>
<text x="309.8" y="232.6" font-size="3.4" text-anchor="end" fill="#555" stroke="#555" stroke-width="0.2">0.5</text>
<text x="364" y="359" font-size="3.8" text-anchor="middle" fill="#333" stroke="#333" stroke-width="0.2">Carboplatin (uM)</text>
<text x="302.5" y="288" font-size="3.8" text-anchor="middle" fill="#333" transform="rotate(-90 302.5 288)" stroke="#333" stroke-width="0.2">Pevonedistat (uM)</text>
<rect x="430.6" y="230.1" width="103.1" height="1.6" fill="url(#lb133)"/>
<text x="430.6" y="227.2" font-size="3.7" text-anchor="middle" fill="#222" stroke="#222" stroke-width="0.2">-40</text>
<text x="443.49" y="227.2" font-size="3.7" text-anchor="middle" fill="#222" stroke="#222" stroke-width="0.2">-30</text>
<text x="456.38" y="227.2" font-size="3.7" text-anchor="middle" fill="#222" stroke="#222" stroke-width="0.2">-20</text>
<text x="469.26" y="227.2" font-size="3.7" text-anchor="middle" fill="#222" stroke="#222" stroke-width="0.2">-10</text>
<text x="482.15" y="227.2" font-size="3.7" text-anchor="middle" fill="#222" stroke="#222" stroke-width="0.2">0</text>
<text x="495.04" y="227.2" font-size="3.7" text-anchor="middle" fill="#222" stroke="#222" stroke-width="0.2">10</text>
<text x="507.93" y="227.2" font-size="3.7" text-anchor="middle" fill="#222" stroke="#222" stroke-width="0.2">20</text>
<text x="520.81" y="227.2" font-size="3.7" text-anchor="middle" fill="#222" stroke="#222" stroke-width="0.2">30</text>
<text x="533.7" y="227.2" font-size="3.7" text-anchor="middle" fill="#222" stroke="#222" stroke-width="0.2">40</text>
<line x1="440.7" y1="299.96" x2="503.35" y2="280.34" stroke="#555" stroke-width="0.45" stroke-dasharray="0.8,0.9"/>
<line x1="503.35" y1="280.34" x2="525.74" y2="300.12" stroke="#555" stroke-width="0.45" stroke-dasharray="0.8,0.9"/>
<line x1="503.35" y1="280.34" x2="504.18" y2="245.97" stroke="#555" stroke-width="0.45" stroke-dasharray="0.8,0.9"/>
<line x1="438.57" y1="264.1" x2="504.18" y2="245.97" stroke="#555" stroke-width="0.45"/>
<line x1="504.18" y1="245.97" x2="527.74" y2="263.85" stroke="#555" stroke-width="0.45"/>
<line x1="438.57" y1="264.1" x2="458.04" y2="284.98" stroke="#555" stroke-width="0.45"/>
<line x1="458.04" y1="284.98" x2="527.74" y2="263.85" stroke="#555" stroke-width="0.45"/>
<line x1="438.57" y1="264.1" x2="440.7" y2="299.96" stroke="#555" stroke-width="0.45"/>
<line x1="527.74" y1="263.85" x2="525.74" y2="300.12" stroke="#555" stroke-width="0.45"/>
<line x1="458.04" y1="284.98" x2="459.38" y2="322.85" stroke="#555" stroke-width="0.45"/>
<line x1="459.38" y1="322.85" x2="525.74" y2="300.12" stroke="#555" stroke-width="0.45"/>
<line x1="459.38" y1="322.85" x2="440.7" y2="299.96" stroke="#555" stroke-width="0.45"/>
<g stroke="#333" stroke-width="0.36" stroke-linejoin="round"><polygon points="503.1,256.8 506.2,255.9 504.1,251.3 501,252.2" fill="#ff7474"/><polygon points="500,257.7 503.1,256.8 501,252.2 497.9,253.1" fill="#ff7474"/><polygon points="505.2,261.2 508.3,260.2 506.2,255.9 503.1,256.8" fill="#ff9797"/><polygon points="496.9,258.6 500,257.7 497.9,253.1 494.8,253.9" fill="#ff7474"/><polygon points="502.1,262.2 505.2,261.2 503.1,256.8 500,257.7" fill="#ff9898"/><polygon points="507.3,265.3 510.4,264.2 508.3,260.2 505.2,261.2" fill="#ffb6b6"/><polygon points="493.8,259.5 496.9,258.6 494.8,253.9 491.7,254.8" fill="#ff7474"/><polygon points="499,263.1 502.1,262.2 500,257.7 496.9,258.6" fill="#ff9898"/><polygon points="504.3,266.3 507.3,265.3 505.2,261.2 502.1,262.2" fill="#ffb7b7"/><polygon points="490.6,260.4 493.8,259.5 491.7,254.8 488.6,255.7" fill="#ff7575"/><polygon points="509.5,268.9 512.6,267.9 510.4,264.2 507.3,265.3" fill="#ffd0d0"/><polygon points="495.9,264.1 499,263.1 496.9,258.6 493.8,259.5" fill="#ff9999"/><polygon points="501.1,267.4 504.3,266.3 502.1,262.2 499,263.1" fill="#ffb8b8"/><polygon points="487.5,261.4 490.6,260.4 488.6,255.7 485.4,256.6" fill="#ff7575"/><polygon points="506.4,270.1 509.5,268.9 507.3,265.3 504.3,266.3" fill="#ffd1d1"/><polygon points="492.7,265.1 495.9,264.1 493.8,259.5 490.6,260.4" fill="#ff9999"/><polygon points="498,268.4 501.1,267.4 499,263.1 495.9,264.1" fill="#ffb9b9"/><polygon points="511.7,272.2 514.8,271.1 512.6,267.9 509.5,268.9" fill="#ffe4e4"/><polygon points="484.3,262.3 487.5,261.4 485.4,256.6 482.2,257.5" fill="#ff7575"/><polygon points="503.3,271.2 506.4,270.1 504.3,266.3 501.1,267.4" fill="#ffd3d3"/><polygon points="489.6,266.1 492.7,265.1 490.6,260.4 487.5,261.4" fill="#ff9a9a"/><polygon points="494.8,269.5 498,268.4 495.9,264.1 492.7,265.1" fill="#ffbbbb"/><polygon points="508.6,273.3 511.7,272.2 509.5,268.9 506.4,270.1" fill="#ffe6e6"/><polygon points="481.1,263.3 484.3,262.3 482.2,257.5 479,258.4" fill="#ff7575"/><polygon points="500.1,272.3 503.3,271.2 501.1,267.4 498,268.4" fill="#ffd5d5"/><polygon points="486.4,267.1 489.6,266.1 487.5,261.4 484.3,262.3" fill="#ff9a9a"/><polygon points="491.7,270.5 494.8,269.5 492.7,265.1 489.6,266.1" fill="#ffbcbc"/><polygon points="505.5,274.5 508.6,273.3 506.4,270.1 503.3,271.2" fill="#ffe8e8"/><polygon points="514,274.9 517.1,273.8 514.8,271.1 511.7,272.2" fill="#fff1f1"/><polygon points="477.9,264.2 481.1,263.3 479,258.4 475.8,259.3" fill="#ff7575"/><polygon points="497,273.4 500.1,272.3 498,268.4 494.8,269.5" fill="#ffd7d7"/><polygon points="483.2,268.1 486.4,267.1 484.3,262.3 481.1,263.3" fill="#ff9b9b"/><polygon points="488.5,271.6 491.7,270.5 489.6,266.1 486.4,267.1" fill="#ffbdbd"/><polygon points="502.3,275.6 505.5,274.5 503.3,271.2 500.1,272.3" fill="#ffebeb"/><polygon points="510.9,276 514,274.9 511.7,272.2 508.6,273.3" fill="#fff4f4"/><polygon points="493.8,274.5 497,273.4 494.8,269.5 491.7,270.5" fill="#ffd9d9"/><polygon points="474.6,265 477.9,264.2 475.8,259.3 472.6,260.2" fill="#ff7575"/><polygon points="479.9,269.1 483.2,268.1 481.1,263.3 477.9,264.2" fill="#ff9b9b"/><polygon points="485.2,272.7 488.5,271.6 486.4,267.1 483.2,268.1" fill="#ffbebe"/><polygon points="499.1,276.8 502.3,275.6 500.1,272.3 497,273.4" fill="#ffeded"/><polygon points="507.7,277.2 510.9,276 508.6,273.3 505.5,274.5" fill="#fff6f6"/><polygon points="490.6,275.6 493.8,274.5 491.7,270.5 488.5,271.6" fill="#ffdada"/><polygon points="516.3,277.2 519.5,276.1 517.1,273.8 514,274.9" fill="#fff9f9"/><polygon points="471.3,265.6 474.6,265 472.6,260.2 469.3,261.1" fill="#ff7373"/><polygon points="476.7,269.8 479.9,269.1 477.9,264.2 474.6,265" fill="#ff9a9a"/><polygon points="482,273.6 485.2,272.7 483.2,268.1 479.9,269.1" fill="#ffbfbf"/><polygon points="495.9,277.8 499.1,276.8 497,273.4 493.8,274.5" fill="#ffeeee"/><polygon points="504.6,278.3 507.7,277.2 505.5,274.5 502.3,275.6" fill="#fff8f8"/><polygon points="487.4,276.7 490.6,275.6 488.5,271.6 485.2,272.7" fill="#ffdbdb"/><polygon points="513.2,278.3 516.3,277.2 514,274.9 510.9,276" fill="#fffbfb"/><polygon points="468,265.7 471.3,265.6 469.3,261.1 466,261.6" fill="#ff6e6e"/><polygon points="473.4,270.1 476.7,269.8 474.6,265 471.3,265.6" fill="#ff9696"/><polygon points="478.7,274.3 482,273.6 479.9,269.1 476.7,269.8" fill="#ffbdbd"/><polygon points="492.7,278.9 495.9,277.8 493.8,274.5 490.6,275.6" fill="#fff0f0"/><polygon points="501.4,279.4 504.6,278.3 502.3,275.6 499.1,276.8" fill="#fffafa"/><polygon points="484.1,277.7 487.4,276.7 485.2,272.7 482,273.6" fill="#ffdcdc"/><polygon points="510,279.4 513.2,278.3 510.9,276 507.7,277.2" fill="#fffdfd"/><polygon points="518.7,279.4 521.8,278.2 519.5,276.1 516.3,277.2" fill="#fffdfd"/><polygon points="464.7,265.3 468,265.7 466,261.6 462.7,261.5" fill="#ff6363"/><polygon points="489.5,280 492.7,278.9 490.6,275.6 487.4,276.7" fill="#fff1f1"/><polygon points="498.1,280.4 501.4,279.4 499.1,276.8 495.9,277.8" fill="#fffbfb"/><polygon points="470.1,269.8 473.4,270.1 471.3,265.6 468,265.7" fill="#ff8c8c"/><polygon points="475.4,274.4 478.7,274.3 476.7,269.8 473.4,270.1" fill="#ffb6b6"/><polygon points="506.8,280.4 510,279.4 507.7,277.2 504.6,278.3" fill="#fffefe"/><polygon points="480.8,278.4 484.1,277.7 482,273.6 478.7,274.3" fill="#ffdada"/><polygon points="515.5,280.4 518.7,279.4 516.3,277.2 513.2,278.3" fill="#fffefe"/><polygon points="486.2,281.1 489.5,280 487.4,276.7 484.1,277.7" fill="#fff2f2"/><polygon points="494.9,281.4 498.1,280.4 495.9,277.8 492.7,278.9" fill="#fffcfc"/><polygon points="503.6,281.4 506.8,280.4 504.6,278.3 501.4,279.4" fill="#ffffff"/><polygon points="461.3,264.9 464.7,265.3 462.7,261.5 459.3,261.3" fill="#ff5454"/><polygon points="472.1,273.8 475.4,274.4 473.4,270.1 470.1,269.8" fill="#ffa9a9"/><polygon points="466.7,268.9 470.1,269.8 468,265.7 464.7,265.3" fill="#ff7c7c"/><polygon points="512.3,281.4 515.5,280.4 513.2,278.3 510,279.4" fill="#ffffff"/><polygon points="477.5,278.3 480.8,278.4 478.7,274.3 475.4,274.4" fill="#ffd2d2"/><polygon points="521.1,281.4 524.3,280.3 521.8,278.2 518.7,279.4" fill="#fffefe"/><polygon points="491.6,282.4 494.9,281.4 492.7,278.9 489.5,280" fill="#fffcfc"/><polygon points="482.9,281.8 486.2,281.1 484.1,277.7 480.8,278.4" fill="#fff0f0"/><polygon points="444.8,282.9 448.1,279.3 446.3,276.6 443,280.5" fill="#ffe4e4"/><polygon points="500.4,282.4 503.6,281.4 501.4,279.4 498.1,280.4" fill="#ffffff"/><polygon points="448.1,279.3 451.4,274.3 449.5,271.4 446.3,276.6" fill="#ffbaba"/><polygon points="441.4,283.9 444.8,282.9 443,280.5 439.6,281.6" fill="#fff6f6"/><polygon points="509.1,282.4 512.3,281.4 510,279.4 506.8,280.4" fill="#ffffff"/><polygon points="457.9,266 461.3,264.9 459.3,261.3 455.9,262.6" fill="#ff4e4e"/><polygon points="451.4,274.3 454.6,269.4 452.7,266.3 449.5,271.4" fill="#ff8888"/><polygon points="517.9,282.4 521.1,281.4 518.7,279.4 515.5,280.4" fill="#ffffff"/><polygon points="488.4,283.5 491.6,282.4 489.5,280 486.2,281.1" fill="#fffdfd"/><polygon points="474.2,277.6 477.5,278.3 475.4,274.4 472.1,273.8" fill="#ffc2c2"/><polygon points="454.6,269.4 457.9,266 455.9,262.6 452.7,266.3" fill="#ff5f5f"/><polygon points="463.3,268.1 466.7,268.9 464.7,265.3 461.3,264.9" fill="#ff6969"/><polygon points="468.7,272.5 472.1,273.8 470.1,269.8 466.7,268.9" fill="#ff9393"/><polygon points="497.1,283.4 500.4,282.4 498.1,280.4 494.9,281.4" fill="#ffffff"/><polygon points="479.6,281.8 482.9,281.8 480.8,278.4 477.5,278.3" fill="#ffe8e8"/><polygon points="505.9,283.4 509.1,282.4 506.8,280.4 503.6,281.4" fill="#ffffff"/><polygon points="514.7,283.4 517.9,282.4 515.5,280.4 512.3,281.4" fill="#ffffff"/><polygon points="485.1,284.4 488.4,283.5 486.2,281.1 482.9,281.8" fill="#fffbfb"/><polygon points="446.7,285.3 450,281.7 448.1,279.3 444.8,282.9" fill="#ffeaea"/><polygon points="493.9,284.5 497.1,283.4 494.9,281.4 491.6,282.4" fill="#ffffff"/><polygon points="523.5,283.4 526.7,282.4 524.3,280.3 521.1,281.4" fill="#ffffff"/><polygon points="450,281.7 453.2,276.8 451.4,274.3 448.1,279.3" fill="#ffc2c2"/><polygon points="459.9,268.8 463.3,268.1 461.3,264.9 457.9,266" fill="#ff5e5e"/><polygon points="502.7,284.4 505.9,283.4 503.6,281.4 500.4,282.4" fill="#fffefe"/><polygon points="443.2,286.2 446.7,285.3 444.8,282.9 441.4,283.9" fill="#fffafa"/><polygon points="476.3,281.1 479.6,281.8 477.5,278.3 474.2,277.6" fill="#ffd7d7"/><polygon points="470.8,276 474.2,277.6 472.1,273.8 468.7,272.5" fill="#ffa9a9"/><polygon points="453.2,276.8 456.5,272 454.6,269.4 451.4,274.3" fill="#ff9292"/><polygon points="511.5,284.3 514.7,283.4 512.3,281.4 509.1,282.4" fill="#fffefe"/><polygon points="465.3,271.2 468.7,272.5 466.7,268.9 463.3,268.1" fill="#ff7a7a"/><polygon points="456.5,272 459.9,268.8 457.9,266 454.6,269.4" fill="#ff6c6c"/><polygon points="481.7,284.6 485.1,284.4 482.9,281.8 479.6,281.8" fill="#fff5f5"/><polygon points="490.6,285.5 493.9,284.5 491.6,282.4 488.4,283.5" fill="#ffffff"/><polygon points="520.3,284.5 523.5,283.4 521.1,281.4 517.9,282.4" fill="#ffffff"/><polygon points="499.4,285.4 502.7,284.4 500.4,282.4 497.1,283.4" fill="#fffefe"/><polygon points="508.3,285.3 511.5,284.3 509.1,282.4 505.9,283.4" fill="#fffefe"/><polygon points="517.1,285.5 520.3,284.5 517.9,282.4 514.7,283.4" fill="#ffffff"/><polygon points="487.2,286.4 490.6,285.5 488.4,283.5 485.1,284.4" fill="#fffefe"/><polygon points="461.8,271.5 465.3,271.2 463.3,268.1 459.9,268.8" fill="#ff6b6b"/><polygon points="448.5,287.6 451.9,284 450,281.7 446.7,285.3" fill="#ffeeee"/><polygon points="496.1,286.4 499.4,285.4 497.1,283.4 493.9,284.5" fill="#fffefe"/><polygon points="472.8,279.6 476.3,281.1 474.2,277.6 470.8,276" fill="#ffbcbc"/><polygon points="451.9,284 455.2,279.1 453.2,276.8 450,281.7" fill="#ffc6c6"/><polygon points="478.4,284.3 481.7,284.6 479.6,281.8 476.3,281.1" fill="#ffe6e6"/><polygon points="467.3,274.4 470.8,276 468.7,272.5 465.3,271.2" fill="#ff8b8b"/><polygon points="505,286.4 508.3,285.3 505.9,283.4 502.7,284.4" fill="#fffdfd"/><polygon points="445,288.5 448.5,287.6 446.7,285.3 443.2,286.2" fill="#fffdfd"/><polygon points="455.2,279.1 458.5,274.4 456.5,272 453.2,276.8" fill="#ff9898"/><polygon points="458.5,274.4 461.8,271.5 459.9,268.8 456.5,272" fill="#ff7474"/><polygon points="513.9,286.6 517.1,285.5 514.7,283.4 511.5,284.3" fill="#fffefe"/><polygon points="483.9,287.1 487.2,286.4 485.1,284.4 481.7,284.6" fill="#fffafa"/><polygon points="492.8,287.4 496.1,286.4 493.9,284.5 490.6,285.5" fill="#fffefe"/><polygon points="501.7,287.4 505,286.4 502.7,284.4 499.4,285.4" fill="#fffdfd"/><polygon points="510.6,287.6 513.9,286.6 511.5,284.3 508.3,285.3" fill="#fffefe"/><polygon points="475,283.4 478.4,284.3 476.3,281.1 472.8,279.6" fill="#ffcfcf"/><polygon points="463.9,274.4 467.3,274.4 465.3,271.2 461.8,271.5" fill="#ff7777"/><polygon points="469.4,278 472.8,279.6 470.8,276 467.3,274.4" fill="#ff9d9d"/><polygon points="489.4,288.3 492.8,287.4 490.6,285.5 487.2,286.4" fill="#fffdfd"/><polygon points="450.4,289.7 453.8,286.3 451.9,284 448.5,287.6" fill="#fff0f0"/><polygon points="480.5,287.3 483.9,287.1 481.7,284.6 478.4,284.3" fill="#fff0f0"/><polygon points="453.8,286.3 457.1,281.5 455.2,279.1 451.9,284" fill="#ffc9c9"/><polygon points="498.4,288.4 501.7,287.4 499.4,285.4 496.1,286.4" fill="#fffdfd"/><polygon points="460.5,277.1 463.9,274.4 461.8,271.5 458.5,274.4" fill="#ff7c7c"/><polygon points="457.1,281.5 460.5,277.1 458.5,274.4 455.2,279.1" fill="#ff9d9d"/><polygon points="446.9,290.7 450.4,289.7 448.5,287.6 445,288.5" fill="#fffefe"/><polygon points="507.3,288.7 510.6,287.6 508.3,285.3 505,286.4" fill="#fffefe"/><polygon points="486.1,289.3 489.4,288.3 487.2,286.4 483.9,287.1" fill="#fffafa"/><polygon points="495,289.4 498.4,288.4 496.1,286.4 492.8,287.4" fill="#fffcfc"/><polygon points="477.1,287.2 480.5,287.3 478.4,284.3 475,283.4" fill="#ffdfdf"/><polygon points="471.5,282.3 475,283.4 472.8,279.6 469.4,278" fill="#ffb3b3"/><polygon points="465.9,277.9 469.4,278 467.3,274.4 463.9,274.4" fill="#ff8787"/><polygon points="504,289.8 507.3,288.7 505,286.4 501.7,287.4" fill="#fffefe"/><polygon points="482.7,290.1 486.1,289.3 483.9,287.1 480.5,287.3" fill="#fff6f6"/><polygon points="452.3,291.9 455.7,288.7 453.8,286.3 450.4,289.7" fill="#fff1f1"/><polygon points="491.7,290.5 495,289.4 492.8,287.4 489.4,288.3" fill="#fffbfb"/><polygon points="455.7,288.7 459.1,284.4 457.1,281.5 453.8,286.3" fill="#ffcece"/><polygon points="462.5,280.3 465.9,277.9 463.9,274.4 460.5,277.1" fill="#ff8989"/><polygon points="500.7,290.8 504,289.8 501.7,287.4 498.4,288.4" fill="#fffefe"/><polygon points="459.1,284.4 462.5,280.3 460.5,277.1 457.1,281.5" fill="#ffa6a6"/><polygon points="448.8,293 452.3,291.9 450.4,289.7 446.9,290.7" fill="#ffffff"/><polygon points="473.6,286.9 477.1,287.2 475,283.4 471.5,282.3" fill="#ffcbcb"/><polygon points="468,282.4 471.5,282.3 469.4,278 465.9,277.9" fill="#ff9e9e"/><polygon points="488.3,291.6 491.7,290.5 489.4,288.3 486.1,289.3" fill="#fffbfb"/><polygon points="479.3,290.7 482.7,290.1 480.5,287.3 477.1,287.2" fill="#ffeded"/><polygon points="497.3,291.9 500.7,290.8 498.4,288.4 495,289.4" fill="#fffdfd"/><polygon points="464.6,284.4 468,282.4 465.9,277.9 462.5,280.3" fill="#ff9f9f"/><polygon points="484.9,292.8 488.3,291.6 486.1,289.3 482.7,290.1" fill="#fffafa"/><polygon points="457.7,291.4 461.1,287.8 459.1,284.4 455.7,288.7" fill="#ffd7d7"/><polygon points="461.1,287.8 464.6,284.4 462.5,280.3 459.1,284.4" fill="#ffb6b6"/><polygon points="454.3,294.1 457.7,291.4 455.7,288.7 452.3,291.9" fill="#fff4f4"/><polygon points="470.2,287.3 473.6,286.9 471.5,282.3 468,282.4" fill="#ffbcbc"/><polygon points="493.9,293 497.3,291.9 495,289.4 491.7,290.5" fill="#fffdfd"/><polygon points="475.8,291.2 479.3,290.7 477.1,287.2 473.6,286.9" fill="#ffe2e2"/><polygon points="450.7,295.2 454.3,294.1 452.3,291.9 448.8,293" fill="#ffffff"/><polygon points="481.4,293.9 484.9,292.8 482.7,290.1 479.3,290.7" fill="#fff8f8"/><polygon points="466.7,289 470.2,287.3 468,282.4 464.6,284.4" fill="#ffbcbc"/><polygon points="490.5,294.1 493.9,293 491.7,290.5 488.3,291.6" fill="#fffdfd"/><polygon points="472.3,292.1 475.8,291.2 473.6,286.9 470.2,287.3" fill="#ffdada"/><polygon points="463.2,291.6 466.7,289 464.6,284.4 461.1,287.8" fill="#ffcccc"/><polygon points="459.7,294.3 463.2,291.6 461.1,287.8 457.7,291.4" fill="#ffe3e3"/><polygon points="478,295 481.4,293.9 479.3,290.7 475.8,291.2" fill="#fff5f5"/><polygon points="487.1,295.2 490.5,294.1 488.3,291.6 484.9,292.8" fill="#fffdfd"/><polygon points="456.2,296.3 459.7,294.3 457.7,291.4 454.3,294.1" fill="#fff7f7"/><polygon points="468.8,293.5 472.3,292.1 470.2,287.3 466.7,289" fill="#ffdada"/><polygon points="452.7,297.4 456.2,296.3 454.3,294.1 450.7,295.2" fill="#ffffff"/><polygon points="483.7,296.3 487.1,295.2 484.9,292.8 481.4,293.9" fill="#fffefe"/><polygon points="474.5,296.1 478,295 475.8,291.2 472.3,292.1" fill="#fff2f2"/><polygon points="465.3,295.3 468.8,293.5 466.7,289 463.2,291.6" fill="#ffe3e3"/><polygon points="461.8,297.1 465.3,295.3 463.2,291.6 459.7,294.3" fill="#fff0f0"/><polygon points="480.2,297.5 483.7,296.3 481.4,293.9 478,295" fill="#fffefe"/><polygon points="471,297.3 474.5,296.1 472.3,292.1 468.8,293.5" fill="#fff2f2"/><polygon points="458.2,298.6 461.8,297.1 459.7,294.3 456.2,296.3" fill="#fffbfb"/><polygon points="467.4,298.5 471,297.3 468.8,293.5 465.3,295.3" fill="#fff6f6"/><polygon points="476.7,298.6 480.2,297.5 478,295 474.5,296.1" fill="#fffefe"/><polygon points="454.7,299.7 458.2,298.6 456.2,296.3 452.7,297.4" fill="#ffffff"/><polygon points="463.9,299.7 467.4,298.5 465.3,295.3 461.8,297.1" fill="#fffbfb"/><polygon points="473.1,299.7 476.7,298.6 474.5,296.1 471,297.3" fill="#fffefe"/><polygon points="460.3,300.9 463.9,299.7 461.8,297.1 458.2,298.6" fill="#fffefe"/><polygon points="469.6,300.9 473.1,299.7 471,297.3 467.4,298.5" fill="#fffefe"/><polygon points="456.7,302 460.3,300.9 458.2,298.6 454.7,299.7" fill="#ffffff"/><polygon points="466,302.1 469.6,300.9 467.4,298.5 463.9,299.7" fill="#ffffff"/><polygon points="462.4,303.2 466,302.1 463.9,299.7 460.3,300.9" fill="#ffffff"/><polygon points="458.7,304.4 462.4,303.2 460.3,300.9 456.7,302" fill="#ffffff"/></g>
<line x1="439.1" y1="299.96" x2="440.7" y2="299.96" stroke="#555" stroke-width="0.4"/>
<text x="438.5" y="301.11" font-size="3.3" text-anchor="end" fill="#444" stroke="#444" stroke-width="0.2">-40</text>
<line x1="438.84" y1="295.66" x2="440.44" y2="295.66" stroke="#555" stroke-width="0.4"/>
<text x="438.24" y="296.81" font-size="3.3" text-anchor="end" fill="#444" stroke="#444" stroke-width="0.2">-30</text>
<line x1="438.58" y1="291.31" x2="440.18" y2="291.31" stroke="#555" stroke-width="0.4"/>
<text x="437.98" y="292.46" font-size="3.3" text-anchor="end" fill="#444" stroke="#444" stroke-width="0.2">-20</text>
<line x1="438.32" y1="286.9" x2="439.92" y2="286.9" stroke="#555" stroke-width="0.4"/>
<text x="437.72" y="288.05" font-size="3.3" text-anchor="end" fill="#444" stroke="#444" stroke-width="0.2">-10</text>
<line x1="438.06" y1="282.45" x2="439.66" y2="282.45" stroke="#555" stroke-width="0.4"/>
<text x="437.46" y="283.6" font-size="3.3" text-anchor="end" fill="#444" stroke="#444" stroke-width="0.2">0</text>
<line x1="437.79" y1="277.95" x2="439.39" y2="277.95" stroke="#555" stroke-width="0.4"/>
<text x="437.19" y="279.1" font-size="3.3" text-anchor="end" fill="#444" stroke="#444" stroke-width="0.2">10</text>
<line x1="437.52" y1="273.39" x2="439.12" y2="273.39" stroke="#555" stroke-width="0.4"/>
<text x="436.92" y="274.54" font-size="3.3" text-anchor="end" fill="#444" stroke="#444" stroke-width="0.2">20</text>
<line x1="437.24" y1="268.77" x2="438.84" y2="268.77" stroke="#555" stroke-width="0.4"/>
<text x="436.64" y="269.92" font-size="3.3" text-anchor="end" fill="#444" stroke="#444" stroke-width="0.2">30</text>
<line x1="436.97" y1="264.1" x2="438.57" y2="264.1" stroke="#555" stroke-width="0.4"/>
<text x="436.37" y="265.25" font-size="3.3" text-anchor="end" fill="#444" stroke="#444" stroke-width="0.2">40</text>
<line x1="451.54" y1="313.24" x2="450.04" y2="314.54" stroke="#555" stroke-width="0.4"/>
<text x="447.04" y="318.54" font-size="3.5" text-anchor="middle" fill="#333" stroke="#333" stroke-width="0.2">0.2</text>
<line x1="444.19" y1="304.24" x2="442.69" y2="305.54" stroke="#555" stroke-width="0.4"/>
<text x="439.69" y="309.54" font-size="3.5" text-anchor="middle" fill="#333" stroke="#333" stroke-width="0.2">0.5</text>
<line x1="476.86" y1="316.86" x2="476.56" y2="318.46" stroke="#555" stroke-width="0.4"/>
<text x="475.26" y="323.26" font-size="3.5" text-anchor="middle" fill="#333" stroke="#333" stroke-width="0.2">20</text>
<line x1="493.73" y1="311.08" x2="493.43" y2="312.68" stroke="#555" stroke-width="0.4"/>
<text x="492.13" y="317.48" font-size="3.5" text-anchor="middle" fill="#333" stroke="#333" stroke-width="0.2">40</text>
<line x1="510.01" y1="305.51" x2="509.71" y2="307.11" stroke="#555" stroke-width="0.4"/>
<text x="508.41" y="311.91" font-size="3.5" text-anchor="middle" fill="#333" stroke="#333" stroke-width="0.2">60</text>
<line x1="525.74" y1="300.12" x2="525.44" y2="301.72" stroke="#555" stroke-width="0.4"/>
<text x="524.14" y="306.52" font-size="3.5" text-anchor="middle" fill="#333" stroke="#333" stroke-width="0.2">80</text>
<text x="494.9" y="321.8" font-size="4.5" text-anchor="middle" fill="#222" transform="rotate(-20 494.9 321.8)" stroke="#222" stroke-width="0.2">Carboplatin (uM)</text>
<text x="439.4" y="324.8" font-size="5.1" text-anchor="middle" fill="#222" transform="rotate(49 439.4 324.8)" stroke="#222" stroke-width="0.15">Pevonedistat (uM)</text>
<text x="86.25" y="571.8" font-size="10.6" fill="#111" textLength="115.75" lengthAdjust="spacingAndGlyphs">Bliss synergy score 3.79</text>
<rect x="36.75" y="580.45" width="73.25" height="1.6" fill="url(#lb134)"/>
<text x="38.95" y="579.05" font-size="3.7" text-anchor="middle" fill="#222" stroke="#222" stroke-width="0.2">-20</text>
<text x="56.16" y="579.05" font-size="3.7" text-anchor="middle" fill="#222" stroke="#222" stroke-width="0.2">-10</text>
<text x="73.38" y="579.05" font-size="3.7" text-anchor="middle" fill="#222" stroke="#222" stroke-width="0.2">0</text>
<text x="90.59" y="579.05" font-size="3.7" text-anchor="middle" fill="#222" stroke="#222" stroke-width="0.2">10</text>
<text x="107.8" y="579.05" font-size="3.7" text-anchor="middle" fill="#222" stroke="#222" stroke-width="0.2">20</text>
<g clip-path="url(#c135)"><rect x="22" y="586" width="104" height="2.6" fill="url(#r136)"/><rect x="22" y="588" width="104" height="2.6" fill="url(#r137)"/><rect x="22" y="590" width="104" height="2.6" fill="url(#r138)"/><rect x="22" y="592" width="104" height="2.6" fill="url(#r139)"/><rect x="22" y="594" width="104" height="2.6" fill="url(#r140)"/><rect x="22" y="596" width="104" height="2.6" fill="url(#r141)"/><rect x="22" y="598" width="104" height="2.6" fill="url(#r142)"/><rect x="22" y="600" width="104" height="2.6" fill="url(#r143)"/><rect x="22" y="602" width="104" height="2.6" fill="url(#r144)"/><rect x="22" y="604" width="104" height="2.6" fill="url(#r145)"/><rect x="22" y="606" width="104" height="2.6" fill="url(#r146)"/><rect x="22" y="608" width="104" height="2.6" fill="url(#r147)"/><rect x="22" y="610" width="104" height="2.6" fill="url(#r148)"/><rect x="22" y="612" width="104" height="2.6" fill="url(#r149)"/><rect x="22" y="614" width="104" height="2.6" fill="url(#r150)"/><rect x="22" y="616" width="104" height="2.6" fill="url(#r151)"/><rect x="22" y="618" width="104" height="2.6" fill="url(#r152)"/><rect x="22" y="620" width="104" height="2.6" fill="url(#r153)"/><rect x="22" y="622" width="104" height="2.6" fill="url(#r154)"/><rect x="22" y="624" width="104" height="2.6" fill="url(#r155)"/><rect x="22" y="626" width="104" height="2.6" fill="url(#r156)"/><rect x="22" y="628" width="104" height="2.6" fill="url(#r157)"/><rect x="22" y="630" width="104" height="2.6" fill="url(#r158)"/><rect x="22" y="632" width="104" height="2.6" fill="url(#r159)"/><rect x="22" y="634" width="104" height="2.6" fill="url(#r160)"/><rect x="22" y="636" width="104" height="2.6" fill="url(#r161)"/><rect x="22" y="638" width="104" height="2.6" fill="url(#r162)"/><rect x="22" y="640" width="104" height="2.6" fill="url(#r163)"/><rect x="22" y="642" width="104" height="2.6" fill="url(#r164)"/><rect x="22" y="644" width="104" height="2.6" fill="url(#r165)"/><rect x="22" y="646" width="104" height="2.6" fill="url(#r166)"/><rect x="22" y="648" width="104" height="2.6" fill="url(#r167)"/><rect x="22" y="650" width="104" height="2.6" fill="url(#r168)"/><rect x="22" y="652" width="104" height="2.6" fill="url(#r169)"/><rect x="22" y="654" width="104" height="2.6" fill="url(#r170)"/><rect x="22" y="656" width="104" height="2.6" fill="url(#r171)"/><rect x="22" y="658" width="104" height="2.6" fill="url(#r172)"/><rect x="22" y="660" width="104" height="2.6" fill="url(#r173)"/><rect x="22" y="662" width="104" height="2.6" fill="url(#r174)"/><rect x="22" y="664" width="104" height="2.6" fill="url(#r175)"/><rect x="22" y="666" width="104" height="2.6" fill="url(#r176)"/><rect x="22" y="668" width="104" height="2.6" fill="url(#r177)"/><rect x="22" y="670" width="104" height="2.6" fill="url(#r178)"/><rect x="22" y="672" width="104" height="2.6" fill="url(#r179)"/><rect x="22" y="674" width="104" height="2.6" fill="url(#r180)"/><rect x="22" y="676" width="104" height="2.6" fill="url(#r181)"/><rect x="22" y="678" width="104" height="2.6" fill="url(#r182)"/><rect x="22" y="680" width="104" height="2.6" fill="url(#r183)"/><rect x="22" y="682" width="104" height="2.6" fill="url(#r184)"/><rect x="22" y="684" width="104" height="2.6" fill="url(#r185)"/><rect x="22" y="686" width="104" height="2.6" fill="url(#r186)"/><rect x="22" y="688" width="104" height="2.6" fill="url(#r187)"/><rect x="22" y="690" width="104" height="2.6" fill="url(#r188)"/><rect x="22" y="692" width="104" height="2.6" fill="url(#r189)"/><rect x="22" y="694" width="104" height="2.6" fill="url(#r190)"/><rect x="22" y="696" width="104" height="2.6" fill="url(#r191)"/><rect x="22" y="698" width="104" height="2.6" fill="url(#r192)"/><rect x="22" y="700" width="104" height="2.6" fill="url(#r193)"/><rect x="22" y="702" width="104" height="2.6" fill="url(#r194)"/><rect x="22" y="704" width="104" height="2.6" fill="url(#r195)"/>
<polyline points="123.4,705 123.4,703 123,701.7 122,700.8 121,699.9 120,699 118.9,698 117.8,697 116.6,696 115.5,695 114.4,694 113.3,693 112.2,692 111.1,691 110,690 109,689.2 108,688.2 107,687.2 106,686.1 105,685 104,684 103.1,683 102.2,682 101.3,681 100.3,680 99.4,679 98.5,678 97.5,677 96.6,676 95.7,675 94.9,674 94,672.2 93.4,671 92.9,670 92,668.3 91.3,667 90.8,666 90,664.4 89.3,663 88.8,662 88,660.4 87.3,659 86.8,658 86,656.5 85.2,655 84.7,654 84,652.6 83.2,651 82.7,650 82,648.6 81.2,647 80.7,646 80,644 79.6,643 79,641.3 78.5,640 78,638.6 77.4,637 77,635.8 76.3,634 76,633 75.2,631 74.9,630 74.1,628 73.8,627 73,625 72.7,624 72,622.1 71.6,621 71,619.3 70.7,618 70.4,616 70,614 69.9,613 69.5,611 69.2,609 69,607.8 68.7,606 68.4,604 68,602 67.9,601 67.5,599 67.2,597 67,595.7 66.7,594 66.4,592 66.3,590 66.3,588 66.3,586" fill="none" stroke="#fff" stroke-opacity="0.5" stroke-width="0.6"/>
<polyline points="126,698 124.9,697 123.7,696 122.5,695 121.4,694 120.2,693 119.1,692 118,691.1 117,690.2 116,689.3 115,688.4 114,687.5 113,686.4 112,685.3 111,684.3 110,683.2 109,682.2 108,681.1 107,680 106,679 105.1,678 104.1,677 103.2,676 102.3,675 101.5,674 101,673 100,671.1 99.4,670 98.9,669 98,667.3 97.3,666 96.8,665 96,663.4 95.3,662 94.8,661 94,659.5 93.2,658 92.7,657 92,655.6 91.2,654 90.7,653 90,651.7 89.1,650 88.6,649 88,647.8 87.2,646 86.8,645 86.1,643 85.7,642 85,640.1 84.6,639 84,637.4 83.5,636 83,634.7 82.4,633 82,632 81.3,630 80.9,629 80.1,627 79.8,626 79,624 78.7,623 78,621.2 77.6,620 77,618 76.8,617 76.4,615 76.1,613 75.9,612 75.5,610 75.2,608 75,607 74.6,605 74.3,603 74,601.6 73.7,600 73.3,598 73,596.1 72.8,595 72.4,593 72.1,591 72.1,589 72.1,587" fill="none" stroke="#fff" stroke-opacity="0.5" stroke-width="0.6"/>
<polyline points="126,693.1 125,692.3 124,691.5 123,690.7 122,689.9 120.9,689 119.7,688 118.7,687 117.7,686 116.7,685 115.7,684 114.7,683 113.7,682 112.8,681 111.8,680 110.8,679 109.9,678 108.9,677 107.9,676 107,675 106,673.7 105.1,672 104.5,671 104,670 103,668.1 102.4,667 101.9,666 101,664.3 100.3,663 99.8,662 99,660.5 98.2,659 97.7,658 97,656.6 96.2,655 95.6,654 95,652.8 94.1,651 93.6,650 93,648.9 92,647 91.6,646 91,644.4 90.5,643 90,641.8 89.3,640 89,639 88.2,637 87.8,636 87.1,634 86.7,633 86,631 85.6,630 85,628.4 84.5,627 84,625.7 83.4,624 83,623 82.3,621 81.9,620 81.3,618 81,616.3 80.8,615 80.4,613 80,611 79.8,610 79.5,608 79.1,606 78.9,605 78.5,603 78.2,601 78,600 77.6,598 77.2,596 77,594.7 76.7,593 76.4,591 76.4,589 76.4,587" fill="none" stroke="#fff" stroke-opacity="0.5" stroke-width="0.6"/>
<polyline points="126,688.3 125,687.6 124,686.8 123,685.9 121.9,685 120.8,684 119.7,683 118.6,682 117.5,681 116.5,680 115.4,679 114.4,678 113.3,677 112.3,676 111.3,675 110.4,674 109.9,673 109,671.5 108.1,670 107.6,669 107,668 106,666.2 105.4,665 104.8,664 104,662.5 103.2,661 102.6,660 102,658.8 101,657 100.5,656 100,655 99,653.2 98.4,652 97.8,651 97,649.4 96.2,648 95.7,647 95,645.3 94.5,644 94,642.6 93.4,641 93,640 92.3,638 91.9,637 91.1,635 90.7,634 90,632 89.6,631 89,629.4 88.5,628 88,626.7 87.3,625 87,624 86.2,622 85.8,621 85.1,619 84.9,618 84.5,616 84.1,614 84,613 83.6,611 83.2,609 83,607.9 82.6,606 82.3,604 82,602.5 81.7,601 81.3,599 81,597.2 80.8,596 80.4,594 80,592 79.9,591 79.9,589 79.9,587" fill="none" stroke="#fff" stroke-opacity="0.5" stroke-width="0.6"/>
<polyline points="126,682.5 125,681.8 123.8,681 122.4,680 121,679 120,678.2 119,677.4 118,676.6 117,675.7 116,674.8 115,673.7 114,672.3 113.2,671 112.5,670 111.9,669 111,667.6 110,666 109.4,665 108.8,664 108,662.6 107.1,661 106.5,660 105.9,659 105,657.4 104.2,656 103.6,655 103,653.8 102,652.1 101.4,651 100.9,650 100,648.4 99.2,647 98.8,646 98,644 97.6,643 97,641.4 96.4,640 96,638.9 95.3,637 94.9,636 94.1,634 93.7,633 93,631.1 92.6,630 92,628.5 91.4,627 91,625.9 90.3,624 89.9,623 89.1,621 88.8,620 88.2,618 88,617 87.6,615 87.2,613 87,611.8 86.7,610 86.3,608 86,606.5 85.7,605 85.3,603 85,601.2 84.8,600 84.4,598 84,596 83.8,595 83.4,593 83.1,591 83.1,589 83.1,587" fill="none" stroke="#fff" stroke-opacity="0.5" stroke-width="0.6"/>
<polyline points="126,676 124,675 123,674.4 122,673.7 121,672.8 120,671.8 119,670.7 118,669.6 117,668.4 116,667.2 115.1,666 114.3,665 113.6,664 112.9,663 112,661.7 111,660.2 110.2,659 109.5,658 108.9,657 108,655.6 107,654 106.4,653 105.8,652 105,650.6 104,649 103.4,648 102.9,647 102,645 101.6,644 101,642.6 100.4,641 100,640 99.1,638 98.7,637 98,635.1 97.5,634 97,632.6 96.4,631 96,630 95.2,628 94.8,627 94,625.1 93.6,624 93,622.5 92.4,621 92,620 91.4,618 91,616 90.8,615 90.5,613 90.1,611 89.9,610 89.5,608 89.1,606 88.9,605 88.5,603 88.1,601 87.9,600 87.5,598 87.2,596 87,595 86.6,593 86.2,591 86.2,589 86.2,587" fill="none" stroke="#fff" stroke-opacity="0.5" stroke-width="0.6"/>
<polyline points="126,667.2 125,666.7 123.8,666 122.4,665 121.1,664 120,663.1 119,662.2 118,661.2 117,660.2 116,659.1 115.1,658 114.2,657 113.4,656 112.7,655 111.9,654 111,652.8 110,651.4 109,650 108.4,649 107.7,648 107,646.9 106.1,645 105.6,644 105,642.6 104.3,641 103.9,640 103,638 102.6,637 102,635.7 101.3,634 100.9,633 100,631 99.6,630 99,628.6 98.3,627 97.9,626 97.1,624 96.7,623 96,621.3 95.5,620 95,618.8 94.6,617 94.2,615 94,613.9 93.6,612 93.2,610 93,608.9 92.6,607 92.2,605 92,603.9 91.6,602 91.2,600 91,598.9 90.6,597 90.2,595 90,593.9 89.6,592 89.5,590 89.5,588 89.5,586" fill="none" stroke="#fff" stroke-opacity="0.5" stroke-width="0.6"/>
<polyline points="126,657.9 124.3,657 123,656.3 122,655.7 121,655 119.7,654 118.5,653 117.3,652 116.3,651 115.3,650 114.3,649 113.4,648 112.6,647 111.9,646 111,644.3 110.3,643 109.8,642 109,640.5 108.2,639 107.7,638 107,636.5 106.3,635 105.8,634 105,632.4 104.4,631 103.9,630 103,628.1 102.5,627 102,625.9 101.1,624 100.7,623 100,621.5 99.4,620 98.9,619 98.5,617 98,615 97.8,614 97.4,612 97,610.2 96.7,609 96.3,607 96,605.5 95.7,604 95.3,602 95,600.8 94.6,599 94.2,597 94,596 93.6,594 93.1,592 93,591 93,589 93,587" fill="none" stroke="#fff" stroke-opacity="0.5" stroke-width="0.6"/>
<polyline points="126,648.4 125,648 123,647 122,646.3 121,645.4 120,644.4 119,643.3 118,642.2 117.1,641 116.3,640 115.5,639 114.8,638 114,636.9 113,635.4 112.1,634 111.5,633 110.9,632 110,630.6 109.1,629 108.5,628 108,627 107,625.3 106.3,624 105.8,623 105,621.5 104.2,620 103.7,619 103.2,617 103,616 102.5,614 102,612.1 101.7,611 101.3,609 101,608 100.5,606 100.1,604 99.8,603 99.4,601 99,599.5 98.7,598 98.2,596 98,595 97.5,593 97.1,591 97.1,589 97.1,587" fill="none" stroke="#fff" stroke-opacity="0.5" stroke-width="0.6"/>
<polyline points="126,633.8 124.6,633 123.1,632 122,631.2 121,630.4 120,629.6 119,628.7 118,627.7 117,626.7 116,625.6 115,624.5 114,623.3 113,622 112.3,621 111.5,620 110.8,619 110.1,617 109.8,616 109.1,614 108.8,613 108.1,611 107.8,610 107.2,608 106.9,607 106.3,605 106,604 105.4,602 105,600.6 104.5,599 104,597.1 103.7,596 103.1,594 102.9,593 102.4,591 102.4,589 102.4,587" fill="none" stroke="#fff" stroke-opacity="0.5" stroke-width="0.6"/>
<polyline points="126,616.7 125,615.7 124,614.7 123,613.5 122,612.3 121,611 120.3,610 119.6,609 118.9,608 118,606.5 117.1,605 116.6,604 116,603 115,601 114.5,600 114,599 113.1,597 112.6,596 112,594.6 111.3,593 110.9,592 110.6,590 110.6,588 110.6,586" fill="none" stroke="#fff" stroke-opacity="0.5" stroke-width="0.6"/>
<line x1="22.9" y1="586" x2="22.9" y2="704.5" stroke="rgba(0,0,0,0.75)" stroke-width="0.5"/>
<line x1="48.5" y1="586" x2="48.5" y2="704.5" stroke="rgba(0,0,0,0.75)" stroke-width="0.5"/>
<line x1="73.6" y1="586" x2="73.6" y2="704.5" stroke="rgba(0,0,0,0.75)" stroke-width="0.5"/>
<line x1="99.1" y1="586" x2="99.1" y2="704.5" stroke="rgba(0,0,0,0.75)" stroke-width="0.5"/>
<line x1="125.1" y1="586" x2="125.1" y2="704.5" stroke="rgba(0,0,0,0.75)" stroke-width="0.5"/>
<line x1="22" y1="702" x2="126" y2="702" stroke="rgba(0,0,0,0.75)" stroke-width="0.5"/>
<line x1="22" y1="646.7" x2="126" y2="646.7" stroke="rgba(0,0,0,0.75)" stroke-width="0.5"/>
<line x1="22" y1="591.3" x2="126" y2="591.3" stroke="rgba(0,0,0,0.75)" stroke-width="0.5"/>
<rect x="73.6" y="591.3" width="51.5" height="110.7" fill="rgba(0,0,0,0.1)" stroke="rgba(255,255,255,0.75)" stroke-width="0.9"/>
</g>
<line x1="22.9" y1="704.5" x2="22.9" y2="706.1" stroke="#666" stroke-width="0.5"/>
<text x="22.9" y="711.4" font-size="3.4" text-anchor="middle" fill="#444" stroke="#444" stroke-width="0.2">0</text>
<line x1="48.5" y1="704.5" x2="48.5" y2="706.1" stroke="#666" stroke-width="0.5"/>
<text x="48.5" y="711.4" font-size="3.4" text-anchor="middle" fill="#444" stroke="#444" stroke-width="0.2">0.2</text>
<line x1="73.6" y1="704.5" x2="73.6" y2="706.1" stroke="#666" stroke-width="0.5"/>
<text x="73.6" y="711.4" font-size="3.4" text-anchor="middle" fill="#444" stroke="#444" stroke-width="0.2">0.5</text>
<line x1="99.1" y1="704.5" x2="99.1" y2="706.1" stroke="#666" stroke-width="0.5"/>
<text x="99.1" y="711.4" font-size="3.4" text-anchor="middle" fill="#444" stroke="#444" stroke-width="0.2">1</text>
<line x1="125.1" y1="704.5" x2="125.1" y2="706.1" stroke="#666" stroke-width="0.5"/>
<text x="125.1" y="711.4" font-size="3.4" text-anchor="middle" fill="#444" stroke="#444" stroke-width="0.2">2.5</text>
<line x1="20.4" y1="702" x2="22" y2="702" stroke="#666" stroke-width="0.5"/>
<text x="19.8" y="703.2" font-size="3.4" text-anchor="end" fill="#555" stroke="#555" stroke-width="0.2">0</text>
<line x1="20.4" y1="646.7" x2="22" y2="646.7" stroke="#666" stroke-width="0.5"/>
<text x="19.8" y="647.9" font-size="3.4" text-anchor="end" fill="#555" stroke="#555" stroke-width="0.2">0.2</text>
<line x1="20.4" y1="591.3" x2="22" y2="591.3" stroke="#666" stroke-width="0.5"/>
<text x="19.8" y="592.5" font-size="3.4" text-anchor="end" fill="#555" stroke="#555" stroke-width="0.2">0.5</text>
<text x="74" y="716" font-size="3.8" text-anchor="middle" fill="#333" stroke="#333" stroke-width="0.2">Paclitaxel (nM)</text>
<text x="12" y="647.5" font-size="3.8" text-anchor="middle" fill="#333" transform="rotate(-90 12 647.5)" stroke="#333" stroke-width="0.2">Pevonedistat (uM)</text>
<rect x="145" y="592.9" width="109.3" height="1.6" fill="url(#lb196)"/>
<text x="145" y="590" font-size="3.7" text-anchor="middle" fill="#222" stroke="#222" stroke-width="0.2">-20</text>
<text x="158.66" y="590" font-size="3.7" text-anchor="middle" fill="#222" stroke="#222" stroke-width="0.2">-15</text>
<text x="172.32" y="590" font-size="3.7" text-anchor="middle" fill="#222" stroke="#222" stroke-width="0.2">-10</text>
<text x="185.99" y="590" font-size="3.7" text-anchor="middle" fill="#222" stroke="#222" stroke-width="0.2">-5</text>
<text x="199.65" y="590" font-size="3.7" text-anchor="middle" fill="#222" stroke="#222" stroke-width="0.2">0</text>
<text x="213.31" y="590" font-size="3.7" text-anchor="middle" fill="#222" stroke="#222" stroke-width="0.2">5</text>
<text x="226.98" y="590" font-size="3.7" text-anchor="middle" fill="#222" stroke="#222" stroke-width="0.2">10</text>
<text x="240.64" y="590" font-size="3.7" text-anchor="middle" fill="#222" stroke="#222" stroke-width="0.2">15</text>
<text x="254.3" y="590" font-size="3.7" text-anchor="middle" fill="#222" stroke="#222" stroke-width="0.2">20</text>
<line x1="154.72" y1="668.35" x2="219.74" y2="645.52" stroke="#555" stroke-width="0.45" stroke-dasharray="0.8,0.9"/>
<line x1="219.74" y1="645.52" x2="244.79" y2="665.78" stroke="#555" stroke-width="0.45" stroke-dasharray="0.8,0.9"/>
<line x1="219.74" y1="645.52" x2="220.79" y2="610.06" stroke="#555" stroke-width="0.45" stroke-dasharray="0.8,0.9"/>
<line x1="153.09" y1="630.08" x2="220.79" y2="610.06" stroke="#555" stroke-width="0.45"/>
<line x1="220.79" y1="610.06" x2="247.04" y2="627.31" stroke="#555" stroke-width="0.45"/>
<line x1="153.09" y1="630.08" x2="174.17" y2="651.86" stroke="#555" stroke-width="0.45"/>
<line x1="174.17" y1="651.86" x2="247.04" y2="627.31" stroke="#555" stroke-width="0.45"/>
<line x1="153.09" y1="630.08" x2="154.72" y2="668.35" stroke="#555" stroke-width="0.45"/>
<line x1="247.04" y1="627.31" x2="244.79" y2="665.78" stroke="#555" stroke-width="0.45"/>
<line x1="174.17" y1="651.86" x2="175.03" y2="693.59" stroke="#555" stroke-width="0.45"/>
<line x1="175.03" y1="693.59" x2="244.79" y2="665.78" stroke="#555" stroke-width="0.45"/>
<line x1="175.03" y1="693.59" x2="154.72" y2="668.35" stroke="#555" stroke-width="0.45"/>
<g stroke="#333" stroke-width="0.36" stroke-linejoin="round"><polygon points="219.9,618.6 223,617.4 220.6,615.4 217.6,616.6" fill="#fd7284"/><polygon points="216.8,619.9 219.9,618.6 217.6,616.6 214.5,617.8" fill="#fd7486"/><polygon points="213.7,621.3 216.8,619.9 214.5,617.8 211.4,619.2" fill="#fd798a"/><polygon points="222.3,620.7 225.4,619.5 223,617.4 219.9,618.6" fill="#fd7687"/><polygon points="210.5,623 213.7,621.3 211.4,619.2 208.2,620.8" fill="#fd7f8f"/><polygon points="219.2,622 222.3,620.7 219.9,618.6 216.8,619.9" fill="#fd798a"/><polygon points="207.3,625 210.5,623 208.2,620.8 205,622.7" fill="#fd8897"/><polygon points="216,623.5 219.2,622 216.8,619.9 213.7,621.3" fill="#fd7d8e"/><polygon points="224.7,623 227.8,621.7 225.4,619.5 222.3,620.7" fill="#fd7b8c"/><polygon points="204,627.4 207.3,625 205,622.7 201.8,624.9" fill="#fe95a2"/><polygon points="212.8,625.3 216,623.5 213.7,621.3 210.5,623" fill="#fd8494"/><polygon points="221.6,624.4 224.7,623 222.3,620.7 219.2,622" fill="#fd7f8f"/><polygon points="200.8,630 204,627.4 201.8,624.9 198.6,627.5" fill="#fea5b0"/><polygon points="209.6,627.4 212.8,625.3 210.5,623 207.3,625" fill="#fe8e9d"/><polygon points="197.5,632.9 200.8,630 198.6,627.5 195.3,630.3" fill="#feb7c1"/><polygon points="218.4,626 221.6,624.4 219.2,622 216,623.5" fill="#fd8494"/><polygon points="227.2,625.6 230.3,624.3 227.8,621.7 224.7,623" fill="#fd8393"/><polygon points="206.3,629.9 209.6,627.4 207.3,625 204,627.4" fill="#fe9ca8"/><polygon points="194.2,635.6 197.5,632.9 195.3,630.3 192,633.1" fill="#fecbd1"/><polygon points="215.2,627.9 218.4,626 216,623.5 212.8,625.3" fill="#fe8b9a"/><polygon points="224,627 227.2,625.6 224.7,623 221.6,624.4" fill="#fd8796"/><polygon points="203,632.6 206.3,629.9 204,627.4 200.8,630" fill="#feacb7"/><polygon points="190.9,638 194.2,635.6 192,633.1 188.7,635.7" fill="#ffdce1"/><polygon points="211.9,630.2 215.2,627.9 212.8,625.3 209.6,627.4" fill="#fe96a4"/><polygon points="199.7,635.5 203,632.6 200.8,630 197.5,632.9" fill="#febfc8"/><polygon points="220.8,628.8 224,627 221.6,624.4 218.4,626" fill="#fe8d9b"/><polygon points="187.5,640.1 190.9,638 188.7,635.7 185.4,637.9" fill="#ffeaed"/><polygon points="229.7,628.2 232.9,626.8 230.3,624.3 227.2,625.6" fill="#fe8c9b"/><polygon points="208.6,632.8 211.9,630.2 209.6,627.4 206.3,629.9" fill="#fea5b0"/><polygon points="196.4,638.1 199.7,635.5 197.5,632.9 194.2,635.6" fill="#fed2d8"/><polygon points="184.1,641.9 187.5,640.1 185.4,637.9 182,639.8" fill="#fff4f5"/><polygon points="217.6,630.9 220.8,628.8 218.4,626 215.2,627.9" fill="#fe96a3"/><polygon points="226.5,629.8 229.7,628.2 227.2,625.6 224,627" fill="#fe909f"/><polygon points="205.3,635.6 208.6,632.8 206.3,629.9 203,632.6" fill="#feb6c0"/><polygon points="193,640.4 196.4,638.1 194.2,635.6 190.9,638" fill="#ffe2e6"/><polygon points="214.3,633.4 217.6,630.9 215.2,627.9 211.9,630.2" fill="#fea2ae"/><polygon points="180.7,643.6 184.1,641.9 182,639.8 178.7,641.5" fill="#fffbfb"/><polygon points="202,638.4 205.3,635.6 203,632.6 199.7,635.5" fill="#fec9d0"/><polygon points="223.3,631.7 226.5,629.8 224,627 220.8,628.8" fill="#fe97a5"/><polygon points="232.2,631.4 235.4,630 232.9,626.8 229.7,628.2" fill="#fe98a5"/><polygon points="189.7,642.3 193,640.4 190.9,638 187.5,640.1" fill="#ffeef0"/><polygon points="211,636.1 214.3,633.4 211.9,630.2 208.6,632.8" fill="#feb2bc"/><polygon points="198.6,640.8 202,638.4 199.7,635.5 196.4,638.1" fill="#ffdbdf"/><polygon points="177.3,645.2 180.7,643.6 178.7,641.5 175.2,643.2" fill="#fdfffd"/><polygon points="220,634 223.3,631.7 220.8,628.8 217.6,630.9" fill="#fea2ae"/><polygon points="229,633.2 232.2,631.4 229.7,628.2 226.5,629.8" fill="#fe9daa"/><polygon points="186.3,644 189.7,642.3 187.5,640.1 184.1,641.9" fill="#fff6f7"/><polygon points="207.6,638.9 211,636.1 208.6,632.8 205.3,635.6" fill="#fec4cc"/><polygon points="195.3,642.9 198.6,640.8 196.4,638.1 193,640.4" fill="#ffe8eb"/><polygon points="216.7,636.7 220,634 217.6,630.9 214.3,633.4" fill="#feb0ba"/><polygon points="173.8,646.8 177.3,645.2 175.2,643.2 171.8,644.7" fill="#f8fef8"/><polygon points="204.3,641.4 207.6,638.9 205.3,635.6 202,638.4" fill="#fed6db"/><polygon points="225.8,635.3 229,633.2 226.5,629.8 223.3,631.7" fill="#fea6b1"/><polygon points="234.8,634.8 238,633.2 235.4,630 232.2,631.4" fill="#fea7b2"/><polygon points="182.8,645.6 186.3,644 184.1,641.9 180.7,643.6" fill="#fffcfd"/><polygon points="191.9,644.6 195.3,642.9 193,640.4 189.7,642.3" fill="#fff2f4"/><polygon points="213.4,639.5 216.7,636.7 214.3,633.4 211,636.1" fill="#fec1c9"/><polygon points="200.9,643.6 204.3,641.4 202,638.4 198.6,640.8" fill="#ffe5e8"/><polygon points="222.5,637.8 225.8,635.3 223.3,631.7 220,634" fill="#feb2bc"/><polygon points="170.3,648.2 173.8,646.8 171.8,644.7 168.3,646.1" fill="#f4fef4"/><polygon points="231.6,636.7 234.8,634.8 232.2,631.4 229,633.2" fill="#feadb8"/><polygon points="179.3,647.2 182.8,645.6 180.7,643.6 177.3,645.2" fill="#fdfffd"/><polygon points="210,642.1 213.4,639.5 211,636.1 207.6,638.9" fill="#fed3d8"/><polygon points="188.4,646.2 191.9,644.6 189.7,642.3 186.3,644" fill="#fff8f9"/><polygon points="197.5,645.4 200.9,643.6 198.6,640.8 195.3,642.9" fill="#ffeff1"/><polygon points="219.1,640.5 222.5,637.8 220,634 216.7,636.7" fill="#fec1c9"/><polygon points="228.3,639.1 231.6,636.7 229,633.2 225.8,635.3" fill="#feb7c1"/><polygon points="237.4,638.6 240.7,636.8 238,633.2 234.8,634.8" fill="#feb8c1"/><polygon points="206.7,644.3 210,642.1 207.6,638.9 204.3,641.4" fill="#ffe2e6"/><polygon points="166.7,649.2 170.3,648.2 168.3,646.1 164.8,647.1" fill="#f4fef4"/><polygon points="175.8,648.7 179.3,647.2 177.3,645.2 173.8,646.8" fill="#f8fef8"/><polygon points="215.8,643.1 219.1,640.5 216.7,636.7 213.4,639.5" fill="#fed2d8"/><polygon points="185,647.6 188.4,646.2 186.3,644 182.8,645.6" fill="#fffdfd"/><polygon points="194.1,647 197.5,645.4 195.3,642.9 191.9,644.6" fill="#fff6f7"/><polygon points="225,641.6 228.3,639.1 225.8,635.3 222.5,637.8" fill="#fec5cd"/><polygon points="203.3,646.2 206.7,644.3 204.3,641.4 200.9,643.6" fill="#ffedf0"/><polygon points="234.2,640.9 237.4,638.6 234.8,634.8 231.6,636.7" fill="#fec0c8"/><polygon points="163.1,650.1 166.7,649.2 164.8,647.1 161.2,648" fill="#f6fef6"/><polygon points="212.4,645.3 215.8,643.1 213.4,639.5 210,642.1" fill="#ffe1e5"/><polygon points="172.3,650 175.8,648.7 173.8,646.8 170.3,648.2" fill="#f5fef5"/><polygon points="181.5,649.1 185,647.6 182.8,645.6 179.3,647.2" fill="#fdfffd"/><polygon points="221.6,644.1 225,641.6 222.5,637.8 219.1,640.5" fill="#fed4da"/><polygon points="190.7,648.4 194.1,647 191.9,644.6 188.4,646.2" fill="#fffbfb"/><polygon points="230.9,643.3 234.2,640.9 231.6,636.7 228.3,639.1" fill="#feccd3"/><polygon points="240,643.3 243.3,641.1 240.7,636.8 237.4,638.6" fill="#fecfd5"/><polygon points="199.9,647.8 203.3,646.2 200.9,643.6 197.5,645.4" fill="#fff5f6"/><polygon points="209.1,647.1 212.4,645.3 210,642.1 206.7,644.3" fill="#ffedef"/><polygon points="168.7,651.1 172.3,650 170.3,648.2 166.7,649.2" fill="#f5fef5"/><polygon points="218.3,646.3 221.6,644.1 219.1,640.5 215.8,643.1" fill="#ffe3e6"/><polygon points="159.5,650.9 163.1,650.1 161.2,648 157.6,648.8" fill="#fafefa"/><polygon points="177.9,650.5 181.5,649.1 179.3,647.2 175.8,648.7" fill="#fafffa"/><polygon points="227.5,645.6 230.9,643.3 228.3,639.1 225,641.6" fill="#ffdadf"/><polygon points="236.8,645.5 240,643.3 237.4,638.6 234.2,640.9" fill="#ffd9de"/><polygon points="187.2,649.7 190.7,648.4 188.4,646.2 185,647.6" fill="#fffefe"/><polygon points="196.4,649.2 199.9,647.8 197.5,645.4 194.1,647" fill="#fffafa"/><polygon points="205.7,648.7 209.1,647.1 206.7,644.3 203.3,646.2" fill="#fff5f6"/><polygon points="214.9,648.1 218.3,646.3 215.8,643.1 212.4,645.3" fill="#ffeef0"/><polygon points="224.2,647.6 227.5,645.6 225,641.6 221.6,644.1" fill="#ffe6ea"/><polygon points="165.1,652 168.7,651.1 166.7,649.2 163.1,650.1" fill="#f7fef7"/><polygon points="242.7,647.3 246,645.6 243.3,641.1 240,643.3" fill="#ffe8eb"/><polygon points="233.5,647.4 236.8,645.5 234.2,640.9 230.9,643.3" fill="#ffe4e8"/><polygon points="155.8,651.9 159.5,650.9 157.6,648.8 153.9,649.8" fill="#fcfffc"/><polygon points="174.4,651.8 177.9,650.5 175.8,648.7 172.3,650" fill="#f8fef8"/><polygon points="183.6,651.1 187.2,649.7 185,647.6 181.5,649.1" fill="#fefffe"/><polygon points="192.9,650.6 196.4,649.2 194.1,647 190.7,648.4" fill="#fffcfd"/><polygon points="202.2,650.2 205.7,648.7 203.3,646.2 199.9,647.8" fill="#fff9fa"/><polygon points="211.5,649.7 214.9,648.1 212.4,645.3 209.1,647.1" fill="#fff5f6"/><polygon points="220.8,649.3 224.2,647.6 221.6,644.1 218.3,646.3" fill="#fff0f2"/><polygon points="230.2,649 233.5,647.4 230.9,643.3 227.5,645.6" fill="#ffeef0"/><polygon points="239.5,648.9 242.7,647.3 240,643.3 236.8,645.5" fill="#fff0f2"/><polygon points="170.7,653 174.4,651.8 172.3,650 168.7,651.1" fill="#f8fef8"/><polygon points="161.4,653 165.1,652 163.1,650.1 159.5,650.9" fill="#fafffa"/><polygon points="180.1,652.4 183.6,651.1 181.5,649.1 177.9,650.5" fill="#fcfffc"/><polygon points="189.4,651.9 192.9,650.6 190.7,648.4 187.2,649.7" fill="#fffefe"/><polygon points="198.7,651.5 202.2,650.2 199.9,647.8 196.4,649.2" fill="#fffcfc"/><polygon points="208.1,651.1 211.5,649.7 209.1,647.1 205.7,648.7" fill="#fffafa"/><polygon points="217.5,650.8 220.8,649.3 218.3,646.3 214.9,648.1" fill="#fff7f8"/><polygon points="226.8,650.5 230.2,649 227.5,645.6 224.2,647.6" fill="#fff5f6"/><polygon points="236.2,650.3 239.5,648.9 236.8,645.5 233.5,647.4" fill="#fff6f7"/><polygon points="167.1,654 170.7,653 168.7,651.1 165.1,652" fill="#f9fef9"/><polygon points="157.7,654 161.4,653 159.5,650.9 155.8,651.9" fill="#fdfffd"/><polygon points="176.5,653.7 180.1,652.4 177.9,650.5 174.4,651.8" fill="#fbfffb"/><polygon points="185.8,653.2 189.4,651.9 187.2,649.7 183.6,651.1" fill="#ffffff"/><polygon points="195.2,652.8 198.7,651.5 196.4,649.2 192.9,650.6" fill="#fffdfe"/><polygon points="204.6,652.4 208.1,651.1 205.7,648.7 202.2,650.2" fill="#fffcfd"/><polygon points="214,652.1 217.5,650.8 214.9,648.1 211.5,649.7" fill="#fffafb"/><polygon points="223.5,651.9 226.8,650.5 224.2,647.6 220.8,649.3" fill="#fff9fa"/><polygon points="232.9,651.6 236.2,650.3 233.5,647.4 230.2,649" fill="#fffafb"/><polygon points="163.4,655.1 167.1,654 165.1,652 161.4,653" fill="#fbfffb"/><polygon points="172.8,654.9 176.5,653.7 174.4,651.8 170.7,653" fill="#fbfffb"/><polygon points="182.3,654.4 185.8,653.2 183.6,651.1 180.1,652.4" fill="#fefffe"/><polygon points="191.7,654.1 195.2,652.8 192.9,650.6 189.4,651.9" fill="#fffefe"/><polygon points="201.1,653.7 204.6,652.4 202.2,650.2 198.7,651.5" fill="#fffefe"/><polygon points="210.6,653.4 214,652.1 211.5,649.7 208.1,651.1" fill="#fffdfd"/><polygon points="220.1,653.2 223.5,651.9 220.8,649.3 217.5,650.8" fill="#fffcfc"/><polygon points="229.5,652.9 232.9,651.6 230.2,649 226.8,650.5" fill="#fffcfd"/><polygon points="159.7,656.2 163.4,655.1 161.4,653 157.7,654" fill="#fdfffd"/><polygon points="169.1,656.1 172.8,654.9 170.7,653 167.1,654" fill="#fcfffc"/><polygon points="178.6,655.7 182.3,654.4 180.1,652.4 176.5,653.7" fill="#fdfffd"/><polygon points="188.1,655.3 191.7,654.1 189.4,651.9 185.8,653.2" fill="#ffffff"/><polygon points="197.6,655 201.1,653.7 198.7,651.5 195.2,652.8" fill="#fffefe"/><polygon points="207.1,654.7 210.6,653.4 208.1,651.1 204.6,652.4" fill="#fffefe"/><polygon points="216.6,654.5 220.1,653.2 217.5,650.8 214,652.1" fill="#fffdfe"/><polygon points="226.1,654.2 229.5,652.9 226.8,650.5 223.5,651.9" fill="#fffefe"/><polygon points="165.4,657.2 169.1,656.1 167.1,654 163.4,655.1" fill="#fdfffd"/><polygon points="174.9,657 178.6,655.7 176.5,653.7 172.8,654.9" fill="#fdfffd"/><polygon points="184.5,656.6 188.1,655.3 185.8,653.2 182.3,654.4" fill="#ffffff"/><polygon points="194,656.3 197.6,655 195.2,652.8 191.7,654.1" fill="#ffffff"/><polygon points="203.6,656 207.1,654.7 204.6,652.4 201.1,653.7" fill="#fffefe"/><polygon points="213.1,655.7 216.6,654.5 214,652.1 210.6,653.4" fill="#fffefe"/><polygon points="222.7,655.5 226.1,654.2 223.5,651.9 220.1,653.2" fill="#fffefe"/><polygon points="161.6,658.5 165.4,657.2 163.4,655.1 159.7,656.2" fill="#fefffe"/><polygon points="171.2,658.2 174.9,657 172.8,654.9 169.1,656.1" fill="#fdfffd"/><polygon points="180.8,657.9 184.5,656.6 182.3,654.4 178.6,655.7" fill="#fefffe"/><polygon points="190.4,657.6 194,656.3 191.7,654.1 188.1,655.3" fill="#ffffff"/><polygon points="200,657.3 203.6,656 201.1,653.7 197.6,655" fill="#ffffff"/><polygon points="209.6,657 213.1,655.7 210.6,653.4 207.1,654.7" fill="#ffffff"/><polygon points="219.3,656.8 222.7,655.5 220.1,653.2 216.6,654.5" fill="#ffffff"/><polygon points="167.5,659.5 171.2,658.2 169.1,656.1 165.4,657.2" fill="#fefffe"/><polygon points="177.1,659.2 180.8,657.9 178.6,655.7 174.9,657" fill="#fefffe"/><polygon points="186.8,658.9 190.4,657.6 188.1,655.3 184.5,656.6" fill="#ffffff"/><polygon points="196.4,658.6 200,657.3 197.6,655 194,656.3" fill="#ffffff"/><polygon points="206.1,658.3 209.6,657 207.1,654.7 203.6,656" fill="#ffffff"/><polygon points="215.8,658.1 219.3,656.8 216.6,654.5 213.1,655.7" fill="#ffffff"/><polygon points="163.7,660.8 167.5,659.5 165.4,657.2 161.6,658.5" fill="#ffffff"/><polygon points="173.4,660.5 177.1,659.2 174.9,657 171.2,658.2" fill="#fefffe"/><polygon points="183.1,660.2 186.8,658.9 184.5,656.6 180.8,657.9" fill="#ffffff"/><polygon points="192.8,659.9 196.4,658.6 194,656.3 190.4,657.6" fill="#ffffff"/><polygon points="202.5,659.6 206.1,658.3 203.6,656 200,657.3" fill="#ffffff"/><polygon points="212.2,659.4 215.8,658.1 213.1,655.7 209.6,657" fill="#ffffff"/><polygon points="169.6,661.8 173.4,660.5 171.2,658.2 167.5,659.5" fill="#ffffff"/><polygon points="179.3,661.5 183.1,660.2 180.8,657.9 177.1,659.2" fill="#ffffff"/><polygon points="189.1,661.2 192.8,659.9 190.4,657.6 186.8,658.9" fill="#ffffff"/><polygon points="198.9,661 202.5,659.6 200,657.3 196.4,658.6" fill="#ffffff"/><polygon points="208.6,660.7 212.2,659.4 209.6,657 206.1,658.3" fill="#ffffff"/><polygon points="165.8,663.1 169.6,661.8 167.5,659.5 163.7,660.8" fill="#ffffff"/><polygon points="175.6,662.9 179.3,661.5 177.1,659.2 173.4,660.5" fill="#ffffff"/><polygon points="185.4,662.6 189.1,661.2 186.8,658.9 183.1,660.2" fill="#ffffff"/><polygon points="195.2,662.3 198.9,661 196.4,658.6 192.8,659.9" fill="#ffffff"/><polygon points="205,662 208.6,660.7 206.1,658.3 202.5,659.6" fill="#ffffff"/><polygon points="171.8,664.2 175.6,662.9 173.4,660.5 169.6,661.8" fill="#ffffff"/><polygon points="181.6,663.9 185.4,662.6 183.1,660.2 179.3,661.5" fill="#ffffff"/><polygon points="191.5,663.6 195.2,662.3 192.8,659.9 189.1,661.2" fill="#ffffff"/><polygon points="201.4,663.4 205,662 202.5,659.6 198.9,661" fill="#ffffff"/><polygon points="167.9,665.6 171.8,664.2 169.6,661.8 165.8,663.1" fill="#ffffff"/><polygon points="177.8,665.3 181.6,663.9 179.3,661.5 175.6,662.9" fill="#ffffff"/><polygon points="187.8,665 191.5,663.6 189.1,661.2 185.4,662.6" fill="#ffffff"/><polygon points="197.7,664.7 201.4,663.4 198.9,661 195.2,662.3" fill="#ffffff"/><polygon points="174,666.7 177.8,665.3 175.6,662.9 171.8,664.2" fill="#ffffff"/><polygon points="184,666.4 187.8,665 185.4,662.6 181.6,663.9" fill="#ffffff"/><polygon points="193.9,666.1 197.7,664.7 195.2,662.3 191.5,663.6" fill="#ffffff"/><polygon points="170.1,668.1 174,666.7 171.8,664.2 167.9,665.6" fill="#ffffff"/><polygon points="180.1,667.8 184,666.4 181.6,663.9 177.8,665.3" fill="#ffffff"/><polygon points="190.2,667.5 193.9,666.1 191.5,663.6 187.8,665" fill="#ffffff"/><polygon points="176.2,669.2 180.1,667.8 177.8,665.3 174,666.7" fill="#ffffff"/><polygon points="186.3,668.9 190.2,667.5 187.8,665 184,666.4" fill="#ffffff"/><polygon points="172.3,670.6 176.2,669.2 174,666.7 170.1,668.1" fill="#ffffff"/><polygon points="182.5,670.3 186.3,668.9 184,666.4 180.1,667.8" fill="#ffffff"/><polygon points="178.6,671.8 182.5,670.3 180.1,667.8 176.2,669.2" fill="#ffffff"/><polygon points="174.6,673.2 178.6,671.8 176.2,669.2 172.3,670.6" fill="#ffffff"/></g>
<line x1="153.12" y1="668.35" x2="154.72" y2="668.35" stroke="#555" stroke-width="0.4"/>
<text x="152.52" y="669.5" font-size="3.3" text-anchor="end" fill="#444" stroke="#444" stroke-width="0.2">-20</text>
<line x1="152.92" y1="663.74" x2="154.52" y2="663.74" stroke="#555" stroke-width="0.4"/>
<text x="152.32" y="664.89" font-size="3.3" text-anchor="end" fill="#444" stroke="#444" stroke-width="0.2">-15</text>
<line x1="152.73" y1="659.08" x2="154.33" y2="659.08" stroke="#555" stroke-width="0.4"/>
<text x="152.13" y="660.23" font-size="3.3" text-anchor="end" fill="#444" stroke="#444" stroke-width="0.2">-10</text>
<line x1="152.52" y1="654.37" x2="154.12" y2="654.37" stroke="#555" stroke-width="0.4"/>
<text x="151.92" y="655.52" font-size="3.3" text-anchor="end" fill="#444" stroke="#444" stroke-width="0.2">-5</text>
<line x1="152.32" y1="649.62" x2="153.92" y2="649.62" stroke="#555" stroke-width="0.4"/>
<text x="151.72" y="650.77" font-size="3.3" text-anchor="end" fill="#444" stroke="#444" stroke-width="0.2">0</text>
<line x1="152.12" y1="644.81" x2="153.72" y2="644.81" stroke="#555" stroke-width="0.4"/>
<text x="151.52" y="645.96" font-size="3.3" text-anchor="end" fill="#444" stroke="#444" stroke-width="0.2">5</text>
<line x1="151.91" y1="639.96" x2="153.51" y2="639.96" stroke="#555" stroke-width="0.4"/>
<text x="151.31" y="641.11" font-size="3.3" text-anchor="end" fill="#444" stroke="#444" stroke-width="0.2">10</text>
<line x1="151.7" y1="635.05" x2="153.3" y2="635.05" stroke="#555" stroke-width="0.4"/>
<text x="151.1" y="636.2" font-size="3.3" text-anchor="end" fill="#444" stroke="#444" stroke-width="0.2">15</text>
<line x1="151.49" y1="630.08" x2="153.09" y2="630.08" stroke="#555" stroke-width="0.4"/>
<text x="150.89" y="631.23" font-size="3.3" text-anchor="end" fill="#444" stroke="#444" stroke-width="0.2">20</text>
<line x1="166.36" y1="682.82" x2="164.86" y2="684.12" stroke="#555" stroke-width="0.4"/>
<text x="161.86" y="688.12" font-size="3.5" text-anchor="middle" fill="#333" stroke="#333" stroke-width="0.2">0.2</text>
<line x1="158.43" y1="672.96" x2="156.93" y2="674.26" stroke="#555" stroke-width="0.4"/>
<text x="153.93" y="678.26" font-size="3.5" text-anchor="middle" fill="#333" stroke="#333" stroke-width="0.2">0.5</text>
<line x1="193.92" y1="686.06" x2="193.62" y2="687.66" stroke="#555" stroke-width="0.4"/>
<text x="192.32" y="692.46" font-size="3.5" text-anchor="middle" fill="#333" stroke="#333" stroke-width="0.2">0.25</text>
<line x1="211.79" y1="678.93" x2="211.49" y2="680.53" stroke="#555" stroke-width="0.4"/>
<text x="210.19" y="685.33" font-size="3.5" text-anchor="middle" fill="#333" stroke="#333" stroke-width="0.2">0.5</text>
<line x1="228.73" y1="672.18" x2="228.43" y2="673.78" stroke="#555" stroke-width="0.4"/>
<text x="227.13" y="678.58" font-size="3.5" text-anchor="middle" fill="#333" stroke="#333" stroke-width="0.2">1</text>
<line x1="244.79" y1="665.78" x2="244.49" y2="667.38" stroke="#555" stroke-width="0.4"/>
<text x="243.19" y="672.18" font-size="3.5" text-anchor="middle" fill="#333" stroke="#333" stroke-width="0.2">2.5</text>
<text x="214" y="688" font-size="4.5" text-anchor="middle" fill="#222" transform="rotate(-17 214 688)" stroke="#222" stroke-width="0.2">Paclitaxel (nM)</text>
<text x="150" y="690" font-size="5.1" text-anchor="middle" fill="#222" transform="rotate(50 150 690)" stroke="#222" stroke-width="0.15">Pevonedistat (uM)</text>
<text x="375" y="571.8" font-size="10.6" fill="#111" textLength="112.5" lengthAdjust="spacingAndGlyphs">Bliss synergy score -9.9</text>
<rect x="335" y="580.45" width="72.5" height="1.6" fill="url(#lb197)"/>
<text x="337.6" y="579.05" font-size="3.7" text-anchor="middle" fill="#222" stroke="#222" stroke-width="0.2">-30</text>
<text x="348.82" y="579.05" font-size="3.7" text-anchor="middle" fill="#222" stroke="#222" stroke-width="0.2">-20</text>
<text x="360.03" y="579.05" font-size="3.7" text-anchor="middle" fill="#222" stroke="#222" stroke-width="0.2">-10</text>
<text x="371.25" y="579.05" font-size="3.7" text-anchor="middle" fill="#222" stroke="#222" stroke-width="0.2">0</text>
<text x="382.47" y="579.05" font-size="3.7" text-anchor="middle" fill="#222" stroke="#222" stroke-width="0.2">10</text>
<text x="393.68" y="579.05" font-size="3.7" text-anchor="middle" fill="#222" stroke="#222" stroke-width="0.2">20</text>
<text x="404.9" y="579.05" font-size="3.7" text-anchor="middle" fill="#222" stroke="#222" stroke-width="0.2">30</text>
<g clip-path="url(#c198)"><rect x="322" y="586.25" width="99" height="2.6" fill="url(#r199)"/><rect x="322" y="588.25" width="99" height="2.6" fill="url(#r200)"/><rect x="322" y="590.25" width="99" height="2.6" fill="url(#r201)"/><rect x="322" y="592.25" width="99" height="2.6" fill="url(#r202)"/><rect x="322" y="594.25" width="99" height="2.6" fill="url(#r203)"/><rect x="322" y="596.25" width="99" height="2.6" fill="url(#r204)"/><rect x="322" y="598.25" width="99" height="2.6" fill="url(#r205)"/><rect x="322" y="600.25" width="99" height="2.6" fill="url(#r206)"/><rect x="322" y="602.25" width="99" height="2.6" fill="url(#r207)"/><rect x="322" y="604.25" width="99" height="2.6" fill="url(#r208)"/><rect x="322" y="606.25" width="99" height="2.6" fill="url(#r209)"/><rect x="322" y="608.25" width="99" height="2.6" fill="url(#r210)"/><rect x="322" y="610.25" width="99" height="2.6" fill="url(#r211)"/><rect x="322" y="612.25" width="99" height="2.6" fill="url(#r212)"/><rect x="322" y="614.25" width="99" height="2.6" fill="url(#r213)"/><rect x="322" y="616.25" width="99" height="2.6" fill="url(#r214)"/><rect x="322" y="618.25" width="99" height="2.6" fill="url(#r215)"/><rect x="322" y="620.25" width="99" height="2.6" fill="url(#r216)"/><rect x="322" y="622.25" width="99" height="2.6" fill="url(#r217)"/><rect x="322" y="624.25" width="99" height="2.6" fill="url(#r218)"/><rect x="322" y="626.25" width="99" height="2.6" fill="url(#r219)"/><rect x="322" y="628.25" width="99" height="2.6" fill="url(#r220)"/><rect x="322" y="630.25" width="99" height="2.6" fill="url(#r221)"/><rect x="322" y="632.25" width="99" height="2.6" fill="url(#r222)"/><rect x="322" y="634.25" width="99" height="2.6" fill="url(#r223)"/><rect x="322" y="636.25" width="99" height="2.6" fill="url(#r224)"/><rect x="322" y="638.25" width="99" height="2.6" fill="url(#r225)"/><rect x="322" y="640.25" width="99" height="2.6" fill="url(#r226)"/><rect x="322" y="642.25" width="99" height="2.6" fill="url(#r227)"/><rect x="322" y="644.25" width="99" height="2.6" fill="url(#r228)"/><rect x="322" y="646.25" width="99" height="2.6" fill="url(#r229)"/><rect x="322" y="648.25" width="99" height="2.6" fill="url(#r230)"/><rect x="322" y="650.25" width="99" height="2.6" fill="url(#r231)"/><rect x="322" y="652.25" width="99" height="2.6" fill="url(#r232)"/><rect x="322" y="654.25" width="99" height="2.6" fill="url(#r233)"/><rect x="322" y="656.25" width="99" height="2.6" fill="url(#r234)"/><rect x="322" y="658.25" width="99" height="2.6" fill="url(#r235)"/><rect x="322" y="660.25" width="99" height="2.6" fill="url(#r236)"/><rect x="322" y="662.25" width="99" height="2.6" fill="url(#r237)"/><rect x="322" y="664.25" width="99" height="2.6" fill="url(#r238)"/><rect x="322" y="666.25" width="99" height="2.6" fill="url(#r239)"/><rect x="322" y="668.25" width="99" height="2.6" fill="url(#r240)"/><rect x="322" y="670.25" width="99" height="2.6" fill="url(#r241)"/><rect x="322" y="672.25" width="99" height="2.6" fill="url(#r242)"/><rect x="322" y="674.25" width="99" height="2.6" fill="url(#r243)"/><rect x="322" y="676.25" width="99" height="2.6" fill="url(#r244)"/><rect x="322" y="678.25" width="99" height="2.6" fill="url(#r245)"/><rect x="322" y="680.25" width="99" height="2.6" fill="url(#r246)"/><rect x="322" y="682.25" width="99" height="2.6" fill="url(#r247)"/><rect x="322" y="684.25" width="99" height="2.6" fill="url(#r248)"/><rect x="322" y="686.25" width="99" height="2.6" fill="url(#r249)"/><rect x="322" y="688.25" width="99" height="2.6" fill="url(#r250)"/><rect x="322" y="690.25" width="99" height="2.6" fill="url(#r251)"/><rect x="322" y="692.25" width="99" height="2.6" fill="url(#r252)"/><rect x="322" y="694.25" width="99" height="2.6" fill="url(#r253)"/><rect x="322" y="696.25" width="99" height="2.6" fill="url(#r254)"/><rect x="322" y="698.25" width="99" height="2.6" fill="url(#r255)"/><rect x="322" y="700.25" width="99" height="2.6" fill="url(#r256)"/><rect x="322" y="702.25" width="99" height="2.6" fill="url(#r257)"/>
<polyline points="421,630.4 419,630.4 417.1,630.2 416,630.2 414,630 412,630.1 410.9,630.2 409,630.9 408,631.4 407,632.2 406,633.3 405,634.8 404.3,636.2 403.9,637.2 403.2,639.2 403,640.2 402.5,642.2 402.2,644.2 402,646.2 402,647.2 401.9,649.2 402,651.1 402.1,652.2 402.4,654.2 402.8,656.2 403.2,657.2 404,659.2 404.5,660.2 405.2,661.2 406,662.3 407,663.3 408.1,664.2 409.6,665.2 411,666.1 412,666.5 413.7,667.2 415,667.8 416.2,668.2 418,668.9 419,669.3 421,669.8" fill="none" stroke="#fff" stroke-opacity="0.5" stroke-width="0.6"/>
<polyline points="400.8,586.2 400.8,588.2 400.7,590.2 400.4,592.2 400,594.2 399.7,595.2 399.2,597.2 398.9,598.2 398.3,600.2 398,601.2 397.4,603.2 397,604.3 396.4,606.2 396,607.6 395.5,609.2 395,611.1 394.7,612.2 394.2,614.2 394,615.2 393.5,617.2 393.1,619.2 392.9,620.2 392.5,622.2 392.2,624.2 392,625.3 391.7,627.2 391.4,629.2 391.2,631.2 391,632.7 390.8,634.2 390.7,636.2 390.5,638.2 390.4,640.2 390.3,642.2 390.2,644.2 390.2,646.2 390.2,648.2 390.2,650.2 390.3,652.2 390.4,654.2 390.6,656.2 390.9,658.2 391,659.3 391.3,661.2 391.7,663.2 392,664.4 392.5,666.2 393,667.7 393.6,669.2 394.1,670.2 395,672 395.8,673.2 396.6,674.2 397.5,675.2 398.6,676.2 399.8,677.2 401,678.1 402,678.7 403.1,679.2 405,680.1 406,680.4 408,681.1 409,681.3 411,681.8 413,682.2 414,682.3 416,682.6 418,682.7 420,682.9" fill="none" stroke="#fff" stroke-opacity="0.5" stroke-width="0.6"/>
<polyline points="390.4,586.2 390.4,588.2 390.2,590.2 390,591.5 389.7,593.2 389.4,595.2 389,597.2 388.9,598.2 388.5,600.2 388.2,602.2 388,603.4 387.7,605.2 387.4,607.2 387.1,609.2 386.9,610.2 386.6,612.2 386.4,614.2 386.1,616.2 385.9,617.2 385.7,619.2 385.4,621.2 385.2,623.2 385,625 384.9,626.2 384.7,628.2 384.5,630.2 384.3,632.2 384.1,634.2 384,636.2 383.9,637.2 383.8,639.2 383.8,641.2 383.7,643.2 383.7,645.2 383.7,647.2 383.7,649.2 383.8,651.2 383.8,653.2 383.9,655.2 384,656.2 384.2,658.2 384.4,660.2 384.6,662.2 384.9,664.2 385,665.2 385.4,667.2 385.8,669.2 386.1,670.2 386.6,672.2 387,673.4 387.7,675.2 388.2,676.2 389,677.8 389.9,679.2 390.6,680.2 391.5,681.2 392.5,682.2 393.7,683.2 395,684.1 396,684.7 397,685.3 399,686.2 400,686.6 402,687.2 403,687.5 405,688 406,688.2 408,688.6 410,688.9 412,689.2 413,689.3 415,689.4 417,689.5 419,689.6 421,689.6" fill="none" stroke="#fff" stroke-opacity="0.5" stroke-width="0.6"/>
<line x1="322.8" y1="586.25" x2="322.8" y2="703.5" stroke="rgba(0,0,0,0.3)" stroke-width="0.5"/>
<line x1="347.3" y1="586.25" x2="347.3" y2="703.5" stroke="rgba(0,0,0,0.3)" stroke-width="0.5"/>
<line x1="371.6" y1="586.25" x2="371.6" y2="703.5" stroke="rgba(0,0,0,0.3)" stroke-width="0.5"/>
<line x1="395.7" y1="586.25" x2="395.7" y2="703.5" stroke="rgba(0,0,0,0.3)" stroke-width="0.5"/>
<line x1="420.2" y1="586.25" x2="420.2" y2="703.5" stroke="rgba(0,0,0,0.3)" stroke-width="0.5"/>
<line x1="322" y1="701.6" x2="421" y2="701.6" stroke="rgba(0,0,0,0.3)" stroke-width="0.5"/>
<line x1="322" y1="664.6" x2="421" y2="664.6" stroke="rgba(0,0,0,0.3)" stroke-width="0.5"/>
<line x1="322" y1="626.8" x2="421" y2="626.8" stroke="rgba(0,0,0,0.3)" stroke-width="0.5"/>
<line x1="322" y1="589.4" x2="421" y2="589.4" stroke="rgba(0,0,0,0.3)" stroke-width="0.5"/>
<rect x="322.8" y="589.4" width="48.8" height="75.2" fill="rgba(0,0,0,0.1)" stroke="rgba(255,255,255,0.75)" stroke-width="0.9"/>
</g>
<line x1="322.8" y1="703.5" x2="322.8" y2="705.1" stroke="#666" stroke-width="0.5"/>
<text x="322.8" y="710.4" font-size="3.4" text-anchor="middle" fill="#444" stroke="#444" stroke-width="0.2">0</text>
<line x1="347.3" y1="703.5" x2="347.3" y2="705.1" stroke="#666" stroke-width="0.5"/>
<text x="347.3" y="710.4" font-size="3.4" text-anchor="middle" fill="#444" stroke="#444" stroke-width="0.2">1</text>
<line x1="371.6" y1="703.5" x2="371.6" y2="705.1" stroke="#666" stroke-width="0.5"/>
<text x="371.6" y="710.4" font-size="3.4" text-anchor="middle" fill="#444" stroke="#444" stroke-width="0.2">5</text>
<line x1="395.7" y1="703.5" x2="395.7" y2="705.1" stroke="#666" stroke-width="0.5"/>
<text x="395.7" y="710.4" font-size="3.4" text-anchor="middle" fill="#444" stroke="#444" stroke-width="0.2">7.5</text>
<line x1="420.2" y1="703.5" x2="420.2" y2="705.1" stroke="#666" stroke-width="0.5"/>
<text x="420.2" y="710.4" font-size="3.4" text-anchor="middle" fill="#444" stroke="#444" stroke-width="0.2">10</text>
<line x1="320.4" y1="701.6" x2="322" y2="701.6" stroke="#666" stroke-width="0.5"/>
<text x="319.8" y="702.8" font-size="3.4" text-anchor="end" fill="#555" stroke="#555" stroke-width="0.2">0</text>
<line x1="320.4" y1="664.6" x2="322" y2="664.6" stroke="#666" stroke-width="0.5"/>
<text x="319.8" y="665.8" font-size="3.4" text-anchor="end" fill="#555" stroke="#555" stroke-width="0.2">250</text>
<line x1="320.4" y1="626.8" x2="322" y2="626.8" stroke="#666" stroke-width="0.5"/>
<text x="319.8" y="628" font-size="3.4" text-anchor="end" fill="#555" stroke="#555" stroke-width="0.2">500</text>
<line x1="320.4" y1="589.4" x2="322" y2="589.4" stroke="#666" stroke-width="0.5"/>
<text x="319.8" y="590.6" font-size="3.4" text-anchor="end" fill="#555" stroke="#555" stroke-width="0.2">1000</text>
<text x="371.5" y="713" font-size="3.8" text-anchor="middle" fill="#333" stroke="#333" stroke-width="0.2">Paclitaxel (nM)</text>
<text x="309.7" y="648" font-size="3.8" text-anchor="middle" fill="#333" transform="rotate(-90 309.7 648)" stroke="#333" stroke-width="0.2">Pevonedistat (nM)</text>
<rect x="442.3" y="592.1" width="96.7" height="1.6" fill="url(#lb258)"/>
<text x="442.3" y="589.2" font-size="3.7" text-anchor="middle" fill="#222" stroke="#222" stroke-width="0.2">-30</text>
<text x="458.42" y="589.2" font-size="3.7" text-anchor="middle" fill="#222" stroke="#222" stroke-width="0.2">-20</text>
<text x="474.53" y="589.2" font-size="3.7" text-anchor="middle" fill="#222" stroke="#222" stroke-width="0.2">-10</text>
<text x="490.65" y="589.2" font-size="3.7" text-anchor="middle" fill="#222" stroke="#222" stroke-width="0.2">0</text>
<text x="506.77" y="589.2" font-size="3.7" text-anchor="middle" fill="#222" stroke="#222" stroke-width="0.2">10</text>
<text x="522.88" y="589.2" font-size="3.7" text-anchor="middle" fill="#222" stroke="#222" stroke-width="0.2">20</text>
<text x="539" y="589.2" font-size="3.7" text-anchor="middle" fill="#222" stroke="#222" stroke-width="0.2">30</text>
<line x1="452.29" y1="657.1" x2="500.42" y2="641.5" stroke="#555" stroke-width="0.45" stroke-dasharray="0.8,0.9"/>
<line x1="500.42" y1="641.5" x2="526.62" y2="666.65" stroke="#555" stroke-width="0.45" stroke-dasharray="0.8,0.9"/>
<line x1="500.42" y1="641.5" x2="502.6" y2="601.09" stroke="#555" stroke-width="0.45" stroke-dasharray="0.8,0.9"/>
<line x1="449.93" y1="616.53" x2="502.6" y2="601.09" stroke="#555" stroke-width="0.45"/>
<line x1="502.6" y1="601.09" x2="531.81" y2="623.7" stroke="#555" stroke-width="0.45"/>
<line x1="449.93" y1="616.53" x2="473.45" y2="642.26" stroke="#555" stroke-width="0.45"/>
<line x1="473.45" y1="642.26" x2="531.81" y2="623.7" stroke="#555" stroke-width="0.45"/>
<line x1="449.93" y1="616.53" x2="452.29" y2="657.1" stroke="#555" stroke-width="0.45"/>
<line x1="531.81" y1="623.7" x2="526.62" y2="666.65" stroke="#555" stroke-width="0.45"/>
<line x1="473.45" y1="642.26" x2="473.78" y2="685.18" stroke="#555" stroke-width="0.45"/>
<line x1="473.78" y1="685.18" x2="526.62" y2="666.65" stroke="#555" stroke-width="0.45"/>
<line x1="473.78" y1="685.18" x2="452.29" y2="657.1" stroke="#555" stroke-width="0.45"/>
<g stroke="#222" stroke-width="0.46" stroke-linejoin="round"><polygon points="499.8,639.3 502.1,639 500.6,637.8 498.3,638.1" fill="#64f164"/><polygon points="497.4,639.6 499.8,639.3 498.3,638.1 496,638.3" fill="#69f169"/><polygon points="495.1,639.9 497.4,639.6 496,638.3 493.6,638.4" fill="#6ef26e"/><polygon points="501.3,640.6 503.6,640.3 502.1,639 499.8,639.3" fill="#65f165"/><polygon points="492.7,639.9 495.1,639.9 493.6,638.4 491.3,638.3" fill="#76f276"/><polygon points="498.9,641.1 501.3,640.6 499.8,639.3 497.4,639.6" fill="#6af16a"/><polygon points="496.6,641.6 498.9,641.1 497.4,639.6 495.1,639.9" fill="#6ef16e"/><polygon points="490.4,639.6 492.7,639.9 491.3,638.3 488.9,637.8" fill="#80f380"/><polygon points="502.8,642.2 505.2,641.7 503.6,640.3 501.3,640.6" fill="#66f166"/><polygon points="494.2,641.8 496.6,641.6 495.1,639.9 492.7,639.9" fill="#73f273"/><polygon points="500.4,642.9 502.8,642.2 501.3,640.6 498.9,641.1" fill="#69f169"/><polygon points="488,638.8 490.4,639.6 488.9,637.8 486.6,636.9" fill="#8ef48e"/><polygon points="498,643.4 500.4,642.9 498.9,641.1 496.6,641.6" fill="#6bf16b"/><polygon points="491.8,641.6 494.2,641.8 492.7,639.9 490.4,639.6" fill="#7cf37c"/><polygon points="504.3,644 506.7,643.3 505.2,641.7 502.8,642.2" fill="#64f164"/><polygon points="495.6,643.7 498,643.4 496.6,641.6 494.2,641.8" fill="#6ff26f"/><polygon points="501.9,644.8 504.3,644 502.8,642.2 500.4,642.9" fill="#66f166"/><polygon points="489.4,640.8 491.8,641.6 490.4,639.6 488,638.8" fill="#89f489"/><polygon points="499.5,645.4 501.9,644.8 500.4,642.9 498,643.4" fill="#67f167"/><polygon points="485.6,637.4 488,638.8 486.6,636.9 484.2,635.4" fill="#a2f6a2"/><polygon points="493.2,643.6 495.6,643.7 494.2,641.8 491.8,641.6" fill="#77f277"/><polygon points="505.9,646 508.3,645.1 506.7,643.3 504.3,644" fill="#61f061"/><polygon points="497.1,645.7 499.5,645.4 498,643.4 495.6,643.7" fill="#6af16a"/><polygon points="503.4,646.8 505.9,646 504.3,644 501.9,644.8" fill="#61f061"/><polygon points="490.9,642.8 493.2,643.6 491.8,641.6 489.4,640.8" fill="#84f484"/><polygon points="501,647.4 503.4,646.8 501.9,644.8 499.5,645.4" fill="#62f062"/><polygon points="487,639.3 489.4,640.8 488,638.8 485.6,637.4" fill="#9df69d"/><polygon points="494.7,645.6 497.1,645.7 495.6,643.7 493.2,643.6" fill="#72f272"/><polygon points="507.4,648 509.8,647.2 508.3,645.1 505.9,646" fill="#5cf05c"/><polygon points="483.2,635.3 485.6,637.4 484.2,635.4 481.7,633.5" fill="#bbf9bb"/><polygon points="498.6,647.7 501,647.4 499.5,645.4 497.1,645.7" fill="#65f165"/><polygon points="505,648.8 507.4,648 505.9,646 503.4,646.8" fill="#5cf05c"/><polygon points="492.3,644.8 494.7,645.6 493.2,643.6 490.9,642.8" fill="#7ff37f"/><polygon points="502.6,649.4 505,648.8 503.4,646.8 501,647.4" fill="#5df05d"/><polygon points="488.5,641.3 490.9,642.8 489.4,640.8 487,639.3" fill="#97f597"/><polygon points="496.2,647.6 498.6,647.7 497.1,645.7 494.7,645.6" fill="#6df16d"/><polygon points="509,650.1 511.4,649.4 509.8,647.2 507.4,648" fill="#56ef56"/><polygon points="484.6,637.2 487,639.3 485.6,637.4 483.2,635.3" fill="#b7f8b7"/><polygon points="500.1,649.7 502.6,649.4 501,647.4 498.6,647.7" fill="#60f060"/><polygon points="506.5,650.8 509,650.1 507.4,648 505,648.8" fill="#56ef56"/><polygon points="480.7,633 483.2,635.3 481.7,633.5 479.3,631.2" fill="#d9fbd9"/><polygon points="493.8,646.8 496.2,647.6 494.7,645.6 492.3,644.8" fill="#7af37a"/><polygon points="504.1,651.3 506.5,650.8 505,648.8 502.6,649.4" fill="#58ef58"/><polygon points="489.9,643.4 492.3,644.8 490.9,642.8 488.5,641.3" fill="#92f592"/><polygon points="497.7,649.5 500.1,649.7 498.6,647.7 496.2,647.6" fill="#68f168"/><polygon points="510.5,652.1 513,651.5 511.4,649.4 509,650.1" fill="#50ef50"/><polygon points="486,639.2 488.5,641.3 487,639.3 484.6,637.2" fill="#b1f8b1"/><polygon points="501.7,651.5 504.1,651.3 502.6,649.4 500.1,649.7" fill="#5df05d"/><polygon points="508.1,652.6 510.5,652.1 509,650.1 506.5,650.8" fill="#52ef52"/><polygon points="482.1,634.9 484.6,637.2 483.2,635.3 480.7,633" fill="#d5fbd5"/><polygon points="495.3,648.7 497.7,649.5 496.2,647.6 493.8,646.8" fill="#75f275"/><polygon points="491.4,645.4 493.8,646.8 492.3,644.8 489.9,643.4" fill="#8df48d"/><polygon points="505.7,653.1 508.1,652.6 506.5,650.8 504.1,651.3" fill="#55ef55"/><polygon points="499.3,651.3 501.7,651.5 500.1,649.7 497.7,649.5" fill="#65f165"/><polygon points="478.2,631.2 480.7,633 479.3,631.2 476.8,629.5" fill="#f5fef5"/><polygon points="512.2,653.7 514.6,653.1 513,651.5 510.5,652.1" fill="#4eee4e"/><polygon points="487.5,641.3 489.9,643.4 488.5,641.3 486,639.2" fill="#acf7ac"/><polygon points="503.2,653.3 505.7,653.1 504.1,651.3 501.7,651.5" fill="#5af05a"/><polygon points="509.7,654.2 512.2,653.7 510.5,652.1 508.1,652.6" fill="#50ef50"/><polygon points="483.6,636.9 486,639.2 484.6,637.2 482.1,634.9" fill="#d0fbd0"/><polygon points="496.8,650.5 499.3,651.3 497.7,649.5 495.3,648.7" fill="#72f272"/><polygon points="492.9,647.3 495.3,648.7 493.8,646.8 491.4,645.4" fill="#89f489"/><polygon points="507.3,654.7 509.7,654.2 508.1,652.6 505.7,653.1" fill="#54ef54"/><polygon points="500.8,653 503.2,653.3 501.7,651.5 499.3,651.3" fill="#63f063"/><polygon points="479.6,633 482.1,634.9 480.7,633 478.2,631.2" fill="#f1fef1"/><polygon points="489,643.3 491.4,645.4 489.9,643.4 487.5,641.3" fill="#a7f7a7"/><polygon points="475.7,630.5 478.2,631.2 476.8,629.5 474.3,628.8" fill="#fff5f5"/><polygon points="513.9,654.9 516.3,654.4 514.6,653.1 512.2,653.7" fill="#4fef4f"/><polygon points="504.9,654.9 507.3,654.7 505.7,653.1 503.2,653.3" fill="#59f059"/><polygon points="485,638.9 487.5,641.3 486,639.2 483.6,636.9" fill="#cafaca"/><polygon points="511.4,655.5 513.9,654.9 512.2,653.7 509.7,654.2" fill="#52ef52"/><polygon points="494.4,649.1 496.8,650.5 495.3,648.7 492.9,647.3" fill="#86f486"/><polygon points="498.4,652.2 500.8,653 499.3,651.3 496.8,650.5" fill="#70f270"/><polygon points="473.1,630.6 475.7,630.5 474.3,628.8 471.7,628.9" fill="#ffe9e9"/><polygon points="481.1,635 483.6,636.9 482.1,634.9 479.6,633" fill="#ecfdec"/><polygon points="490.5,645.2 492.9,647.3 491.4,645.4 489,643.3" fill="#a3f6a3"/><polygon points="502.4,654.6 504.9,654.9 503.2,653.3 500.8,653" fill="#62f062"/><polygon points="509,656 511.4,655.5 509.7,654.2 507.3,654.7" fill="#55ef55"/><polygon points="477.1,632.4 479.6,633 478.2,631.2 475.7,630.5" fill="#fff8f8"/><polygon points="470.5,630.9 473.1,630.6 471.7,628.9 469.2,629.2" fill="#ffe2e2"/><polygon points="486.5,640.9 489,643.3 487.5,641.3 485,638.9" fill="#c5fac5"/><polygon points="515.6,656 518.1,655.4 516.3,654.4 513.9,654.9" fill="#54ef54"/><polygon points="506.5,656.2 509,656 507.3,654.7 504.9,654.9" fill="#5af05a"/><polygon points="474.5,632.5 477.1,632.4 475.7,630.5 473.1,630.6" fill="#ffeded"/><polygon points="467.9,631.2 470.5,630.9 469.2,629.2 466.6,629.5" fill="#ffdddd"/><polygon points="496,650.8 498.4,652.2 496.8,650.5 494.4,649.1" fill="#84f384"/><polygon points="500,653.8 502.4,654.6 500.8,653 498.4,652.2" fill="#70f270"/><polygon points="482.5,637.1 485,638.9 483.6,636.9 481.1,635" fill="#e7fde7"/><polygon points="513.1,656.6 515.6,656 513.9,654.9 511.4,655.5" fill="#57ef57"/><polygon points="492,647.1 494.4,649.1 492.9,647.3 490.5,645.2" fill="#9ff69f"/><polygon points="478.5,634.3 481.1,635 479.6,633 477.1,632.4" fill="#fffdfd"/><polygon points="504.1,656 506.5,656.2 504.9,654.9 502.4,654.6" fill="#63f063"/><polygon points="465.3,631.6 467.9,631.2 466.6,629.5 464,630" fill="#ffd9d9"/><polygon points="471.9,632.8 474.5,632.5 473.1,630.6 470.5,630.9" fill="#ffe6e6"/><polygon points="510.7,657.1 513.1,656.6 511.4,655.5 509,656" fill="#5af05a"/><polygon points="488,642.8 490.5,645.2 489,643.3 486.5,640.9" fill="#c1f9c1"/><polygon points="462.7,632.3 465.3,631.6 464,630 461.4,630.8" fill="#ffd6d6"/><polygon points="475.9,634.5 478.5,634.3 477.1,632.4 474.5,632.5" fill="#fff2f2"/><polygon points="469.3,633.1 471.9,632.8 470.5,630.9 467.9,631.2" fill="#ffe1e1"/><polygon points="484,639.1 486.5,640.9 485,638.9 482.5,637.1" fill="#e2fce2"/><polygon points="508.2,657.3 510.7,657.1 509,656 506.5,656.2" fill="#5ff05f"/><polygon points="497.6,652.4 500,653.8 498.4,652.2 496,650.8" fill="#83f383"/><polygon points="460.1,633.3 462.7,632.3 461.4,630.8 458.8,631.8" fill="#ffd7d7"/><polygon points="517.4,656.6 519.9,656 518.1,655.4 515.6,656" fill="#5cf05c"/><polygon points="480,636.4 482.5,637.1 481.1,635 478.5,634.3" fill="#fbfffb"/><polygon points="501.6,655.1 504.1,656 502.4,654.6 500,653.8" fill="#71f271"/><polygon points="493.6,648.8 496,650.8 494.4,649.1 492,647.1" fill="#9df69d"/><polygon points="457.5,634.6 460.1,633.3 458.8,631.8 456.2,633" fill="#ffdada"/><polygon points="473.3,634.8 475.9,634.5 474.5,632.5 471.9,632.8" fill="#ffebeb"/><polygon points="466.7,633.6 469.3,633.1 467.9,631.2 465.3,631.6" fill="#ffdcdc"/><polygon points="454.9,636 457.5,634.6 456.2,633 453.6,634.3" fill="#ffe0e0"/><polygon points="452.3,637.5 454.9,636 453.6,634.3 451,635.7" fill="#ffe6e6"/><polygon points="514.9,657.2 517.4,656.6 515.6,656 513.1,656.6" fill="#5ff05f"/><polygon points="489.5,644.7 492,647.1 490.5,645.2 488,642.8" fill="#bef9be"/><polygon points="505.7,657 508.2,657.3 506.5,656.2 504.1,656" fill="#68f168"/><polygon points="464.1,634.3 466.7,633.6 465.3,631.6 462.7,632.3" fill="#ffdada"/><polygon points="477.4,636.5 480,636.4 478.5,634.3 475.9,634.5" fill="#fff7f7"/><polygon points="470.7,635.2 473.3,634.8 471.9,632.8 469.3,633.1" fill="#ffe6e6"/><polygon points="512.4,657.7 514.9,657.2 513.1,656.6 510.7,657.1" fill="#62f062"/><polygon points="485.5,641 488,642.8 486.5,640.9 484,639.1" fill="#defcde"/><polygon points="481.4,638.4 484,639.1 482.5,637.1 480,636.4" fill="#f6fef6"/><polygon points="461.5,635.3 464.1,634.3 462.7,632.3 460.1,633.3" fill="#ffdada"/><polygon points="499.2,653.7 501.6,655.1 500,653.8 497.6,652.4" fill="#85f485"/><polygon points="458.9,636.5 461.5,635.3 460.1,633.3 457.5,634.6" fill="#ffdede"/><polygon points="495.1,650.3 497.6,652.4 496,650.8 493.6,648.8" fill="#9df69d"/><polygon points="474.8,636.9 477.4,636.5 475.9,634.5 473.3,634.8" fill="#fff1f1"/><polygon points="468.1,635.7 470.7,635.2 469.3,633.1 466.7,633.6" fill="#ffe2e2"/><polygon points="456.2,637.9 458.9,636.5 457.5,634.6 454.9,636" fill="#ffe3e3"/><polygon points="510,657.8 512.4,657.7 510.7,657.1 508.2,657.3" fill="#67f167"/><polygon points="503.3,656.2 505.7,657 504.1,656 501.6,655.1" fill="#76f276"/><polygon points="453.6,639.5 456.2,637.9 454.9,636 452.3,637.5" fill="#ffeaea"/><polygon points="491.1,646.4 493.6,648.8 492,647.1 489.5,644.7" fill="#bcf9bc"/><polygon points="465.5,636.5 468.1,635.7 466.7,633.6 464.1,634.3" fill="#ffe0e0"/><polygon points="519.3,656.5 521.9,655.8 519.9,656 517.4,656.6" fill="#6af16a"/><polygon points="478.8,638.5 481.4,638.4 480,636.4 477.4,636.5" fill="#fffdfd"/><polygon points="472.2,637.3 474.8,636.9 473.3,634.8 470.7,635.2" fill="#ffeded"/><polygon points="487,642.8 489.5,644.7 488,642.8 485.5,641" fill="#dbfcdb"/><polygon points="462.8,637.5 465.5,636.5 464.1,634.3 461.5,635.3" fill="#ffe1e1"/><polygon points="482.9,640.3 485.5,641 484,639.1 481.4,638.4" fill="#f2fef2"/><polygon points="507.5,657.6 510,657.8 508.2,657.3 505.7,657" fill="#70f270"/><polygon points="516.8,657.1 519.3,656.5 517.4,656.6 514.9,657.2" fill="#6df16d"/><polygon points="460.2,638.7 462.8,637.5 461.5,635.3 458.9,636.5" fill="#ffe4e4"/><polygon points="469.5,637.9 472.2,637.3 470.7,635.2 468.1,635.7" fill="#ffe9e9"/><polygon points="476.2,639 478.8,638.5 477.4,636.5 474.8,636.9" fill="#fff7f7"/><polygon points="457.6,640.1 460.2,638.7 458.9,636.5 456.2,637.9" fill="#ffe9e9"/><polygon points="454.9,641.5 457.6,640.1 456.2,637.9 453.6,639.5" fill="#fff0f0"/><polygon points="496.7,651.7 499.2,653.7 497.6,652.4 495.1,650.3" fill="#9ff69f"/><polygon points="500.8,654.8 503.3,656.2 501.6,655.1 499.2,653.7" fill="#8af48a"/><polygon points="514.3,657.5 516.8,657.1 514.9,657.2 512.4,657.7" fill="#70f270"/><polygon points="466.9,638.8 469.5,637.9 468.1,635.7 465.5,636.5" fill="#ffe7e7"/><polygon points="473.6,639.5 476.2,639 474.8,636.9 472.2,637.3" fill="#fff3f3"/><polygon points="480.3,640.5 482.9,640.3 481.4,638.4 478.8,638.5" fill="#fdfffd"/><polygon points="492.7,648.1 495.1,650.3 493.6,648.8 491.1,646.4" fill="#bbf9bb"/><polygon points="464.2,639.8 466.9,638.8 465.5,636.5 462.8,637.5" fill="#ffe8e8"/><polygon points="505,656.8 507.5,657.6 505.7,657 503.3,656.2" fill="#7ef37e"/><polygon points="488.6,644.6 491.1,646.4 489.5,644.7 487,642.8" fill="#d8fbd8"/><polygon points="484.4,642.1 487,642.8 485.5,641 482.9,640.3" fill="#effdef"/><polygon points="461.6,641 464.2,639.8 462.8,637.5 460.2,638.7" fill="#ffecec"/><polygon points="511.8,657.6 514.3,657.5 512.4,657.7 510,657.8" fill="#76f276"/><polygon points="470.9,640.1 473.6,639.5 472.2,637.3 469.5,637.9" fill="#fff0f0"/><polygon points="477.7,640.9 480.3,640.5 478.8,638.5 476.2,639" fill="#fffcfc"/><polygon points="458.9,642.3 461.6,641 460.2,638.7 457.6,640.1" fill="#fff0f0"/><polygon points="456.3,643.5 458.9,642.3 457.6,640.1 454.9,641.5" fill="#fff5f5"/><polygon points="468.3,641 470.9,640.1 469.5,637.9 466.9,638.8" fill="#ffefef"/><polygon points="475,641.5 477.7,640.9 476.2,639 473.6,639.5" fill="#fff8f8"/><polygon points="481.8,642.3 484.4,642.1 482.9,640.3 480.3,640.5" fill="#f9fef9"/><polygon points="465.6,642 468.3,641 466.9,638.8 464.2,639.8" fill="#fff0f0"/><polygon points="521.4,655.2 524,654.5 521.9,655.8 519.3,656.5" fill="#82f382"/><polygon points="498.4,653 500.8,654.8 499.2,653.7 496.7,651.7" fill="#a3f6a3"/><polygon points="509.3,657.5 511.8,657.6 510,657.8 507.5,657.6" fill="#7ff37f"/><polygon points="494.3,649.6 496.7,651.7 495.1,650.3 492.7,648.1" fill="#bcf9bc"/><polygon points="502.6,655.6 505,656.8 503.3,656.2 500.8,654.8" fill="#91f591"/><polygon points="463,643.2 465.6,642 464.2,639.8 461.6,641" fill="#fff3f3"/><polygon points="472.4,642.1 475,641.5 473.6,639.5 470.9,640.1" fill="#fff5f5"/><polygon points="486,643.9 488.6,644.6 487,642.8 484.4,642.1" fill="#edfded"/><polygon points="490.1,646.3 492.7,648.1 491.1,646.4 488.6,644.6" fill="#d7fbd7"/><polygon points="518.9,655.8 521.4,655.2 519.3,656.5 516.8,657.1" fill="#84f484"/><polygon points="460.3,644.3 463,643.2 461.6,641 458.9,642.3" fill="#fff7f7"/><polygon points="479.2,642.8 481.8,642.3 480.3,640.5 477.7,640.9" fill="#ffffff"/><polygon points="457.6,645.5 460.3,644.3 458.9,642.3 456.3,643.5" fill="#fffafa"/><polygon points="469.7,643 472.4,642.1 470.9,640.1 468.3,641" fill="#fff4f4"/><polygon points="506.8,656.9 509.3,657.5 507.5,657.6 505,656.8" fill="#8cf48c"/><polygon points="516.3,656.2 518.9,655.8 516.8,657.1 514.3,657.5" fill="#88f488"/><polygon points="476.5,643.3 479.2,642.8 477.7,640.9 475,641.5" fill="#fffcfc"/><polygon points="467,644 469.7,643 468.3,641 465.6,642" fill="#fff5f5"/><polygon points="483.3,644.1 486,643.9 484.4,642.1 481.8,642.3" fill="#f7fef7"/><polygon points="464.4,645.1 467,644 465.6,642 463,643.2" fill="#fff8f8"/><polygon points="473.8,644 476.5,643.3 475,641.5 472.4,642.1" fill="#fff9f9"/><polygon points="495.9,651 498.4,653 496.7,651.7 494.3,649.6" fill="#bef9be"/><polygon points="500.1,653.9 502.6,655.6 500.8,654.8 498.4,653" fill="#a9f7a9"/><polygon points="513.8,656.4 516.3,656.2 514.3,657.5 511.8,657.6" fill="#8ef48e"/><polygon points="461.7,646.2 464.4,645.1 463,643.2 460.3,644.3" fill="#fffbfb"/><polygon points="487.5,645.6 490.1,646.3 488.6,644.6 486,643.9" fill="#ebfdeb"/><polygon points="491.7,647.9 494.3,649.6 492.7,648.1 490.1,646.3" fill="#d7fbd7"/><polygon points="480.7,644.6 483.3,644.1 481.8,642.3 479.2,642.8" fill="#fcfffc"/><polygon points="459,647.2 461.7,646.2 460.3,644.3 457.6,645.5" fill="#fffefe"/><polygon points="471.2,644.8 473.8,644 472.4,642.1 469.7,643" fill="#fff8f8"/><polygon points="504.3,655.9 506.8,656.9 505,656.8 502.6,655.6" fill="#9df69d"/><polygon points="478,645.1 480.7,644.6 479.2,642.8 476.5,643.3" fill="#fffefe"/><polygon points="468.5,645.7 471.2,644.8 469.7,643 467,644" fill="#fff8f8"/><polygon points="511.3,656.4 513.8,656.4 511.8,657.6 509.3,657.5" fill="#96f596"/><polygon points="484.9,645.8 487.5,645.6 486,643.9 483.3,644.1" fill="#f6fef6"/><polygon points="465.8,646.8 468.5,645.7 467,644 464.4,645.1" fill="#fffafa"/><polygon points="475.3,645.8 478,645.1 476.5,643.3 473.8,644" fill="#fffbfb"/><polygon points="463.1,647.8 465.8,646.8 464.4,645.1 461.7,646.2" fill="#fffdfd"/><polygon points="489.1,647.3 491.7,647.9 490.1,646.3 487.5,645.6" fill="#ebfdeb"/><polygon points="523.8,652.3 526.4,651.5 524,654.5 521.4,655.2" fill="#a8f7a8"/><polygon points="482.2,646.3 484.9,645.8 483.3,644.1 480.7,644.6" fill="#fbfffb"/><polygon points="493.3,649.4 495.9,651 494.3,649.6 491.7,647.9" fill="#d9fbd9"/><polygon points="497.6,652.1 500.1,653.9 498.4,653 495.9,651" fill="#c3f9c3"/><polygon points="460.3,648.9 463.1,647.8 461.7,646.2 459,647.2" fill="#ffffff"/><polygon points="508.7,656.2 511.3,656.4 509.3,657.5 506.8,656.9" fill="#a1f6a1"/><polygon points="472.6,646.6 475.3,645.8 473.8,644 471.2,644.8" fill="#fffafa"/><polygon points="501.8,654.6 504.3,655.9 502.6,655.6 500.1,653.9" fill="#b3f8b3"/><polygon points="521.2,653 523.8,652.3 521.4,655.2 518.9,655.8" fill="#a9f7a9"/><polygon points="469.9,647.5 472.6,646.6 471.2,644.8 468.5,645.7" fill="#fffafa"/><polygon points="479.5,646.9 482.2,646.3 480.7,644.6 478,645.1" fill="#fefffe"/><polygon points="486.4,647.4 489.1,647.3 487.5,645.6 484.9,645.8" fill="#f6fef6"/><polygon points="518.6,653.5 521.2,653 518.9,655.8 516.3,656.2" fill="#acf7ac"/><polygon points="467.2,648.4 469.9,647.5 468.5,645.7 465.8,646.8" fill="#fffbfb"/><polygon points="476.8,647.6 479.5,646.9 478,645.1 475.3,645.8" fill="#fffdfd"/><polygon points="506.2,655.7 508.7,656.2 506.8,656.9 504.3,655.9" fill="#aff8af"/><polygon points="464.5,649.5 467.2,648.4 465.8,646.8 463.1,647.8" fill="#fffdfd"/><polygon points="490.7,648.8 493.3,649.4 491.7,647.9 489.1,647.3" fill="#ecfdec"/><polygon points="483.8,647.9 486.4,647.4 484.9,645.8 482.2,646.3" fill="#fbfffb"/><polygon points="474.1,648.4 476.8,647.6 475.3,645.8 472.6,646.6" fill="#fffcfc"/><polygon points="516,654 518.6,653.5 516.3,656.2 513.8,656.4" fill="#b1f8b1"/><polygon points="461.7,650.5 464.5,649.5 463.1,647.8 460.3,648.9" fill="#fffefe"/><polygon points="495,650.8 497.6,652.1 495.9,651 493.3,649.4" fill="#dcfcdc"/><polygon points="499.3,653.1 501.8,654.6 500.1,653.9 497.6,652.1" fill="#cafaca"/><polygon points="471.4,649.3 474.1,648.4 472.6,646.6 469.9,647.5" fill="#fffbfb"/><polygon points="481.1,648.6 483.8,647.9 482.2,646.3 479.5,646.9" fill="#fefffe"/><polygon points="513.4,654.3 516,654 513.8,656.4 511.3,656.4" fill="#b7f8b7"/><polygon points="488,649 490.7,648.8 489.1,647.3 486.4,647.4" fill="#f6fef6"/><polygon points="468.6,650.2 471.4,649.3 469.9,647.5 467.2,648.4" fill="#fffcfc"/><polygon points="503.6,654.8 506.2,655.7 504.3,655.9 501.8,654.6" fill="#c1f9c1"/><polygon points="478.3,649.4 481.1,648.6 479.5,646.9 476.8,647.6" fill="#fffefe"/><polygon points="465.9,651.2 468.6,650.2 467.2,648.4 464.5,649.5" fill="#fffdfd"/><polygon points="492.4,650.3 495,650.8 493.3,649.4 490.7,648.8" fill="#eefdee"/><polygon points="485.3,649.5 488,649 486.4,647.4 483.8,647.9" fill="#fbfffb"/><polygon points="475.6,650.2 478.3,649.4 476.8,647.6 474.1,648.4" fill="#fffdfd"/><polygon points="510.8,654.5 513.4,654.3 511.3,656.4 508.7,656.2" fill="#bff9bf"/><polygon points="463.1,652.2 465.9,651.2 464.5,649.5 461.7,650.5" fill="#fffefe"/><polygon points="496.7,652 499.3,653.1 497.6,652.1 495,650.8" fill="#e0fce0"/><polygon points="472.9,651.1 475.6,650.2 474.1,648.4 471.4,649.3" fill="#fffdfd"/><polygon points="482.6,650.3 485.3,649.5 483.8,647.9 481.1,648.6" fill="#fefffe"/><polygon points="470.1,652 472.9,651.1 471.4,649.3 468.6,650.2" fill="#fffdfd"/><polygon points="489.7,650.5 492.4,650.3 490.7,648.8 488,649" fill="#f8fef8"/><polygon points="501,653.8 503.6,654.8 501.8,654.6 499.3,653.1" fill="#d5fbd5"/><polygon points="508.1,654.6 510.8,654.5 508.7,656.2 506.2,655.7" fill="#c9fac9"/><polygon points="479.9,651.2 482.6,650.3 481.1,648.6 478.3,649.4" fill="#ffffff"/><polygon points="526.4,647.1 529.1,646.2 526.4,651.5 523.8,652.3" fill="#dffcdf"/><polygon points="467.3,653 470.1,652 468.6,650.2 465.9,651.2" fill="#fffefe"/><polygon points="477.1,652 479.9,651.2 478.3,649.4 475.6,650.2" fill="#ffffff"/><polygon points="523.7,648 526.4,647.1 523.8,652.3 521.2,653" fill="#dffcdf"/><polygon points="486.9,651.1 489.7,650.5 488,649 485.3,649.5" fill="#fcfffc"/><polygon points="464.6,653.9 467.3,653 465.9,651.2 463.1,652.2" fill="#ffffff"/><polygon points="494,651.7 496.7,652 495,650.8 492.4,650.3" fill="#f1fef1"/><polygon points="474.4,653 477.1,652 475.6,650.2 472.9,651.1" fill="#ffffff"/><polygon points="505.5,654.5 508.1,654.6 506.2,655.7 503.6,654.8" fill="#d5fbd5"/><polygon points="521.1,648.9 523.7,648 521.2,653 518.6,653.5" fill="#e1fce1"/><polygon points="484.2,652 486.9,651.1 485.3,649.5 482.6,650.3" fill="#fefffe"/><polygon points="498.4,653.2 501,653.8 499.3,653.1 496.7,652" fill="#e7fde7"/><polygon points="471.6,653.9 474.4,653 472.9,651.1 470.1,652" fill="#ffffff"/><polygon points="481.4,652.9 484.2,652 482.6,650.3 479.9,651.2" fill="#ffffff"/><polygon points="491.3,652 494,651.7 492.4,650.3 489.7,650.5" fill="#fafffa"/><polygon points="518.4,649.8 521.1,648.9 518.6,653.5 516,654" fill="#e2fce2"/><polygon points="468.8,654.8 471.6,653.9 470.1,652 467.3,653" fill="#ffffff"/><polygon points="478.7,653.8 481.4,652.9 479.9,651.2 477.1,652" fill="#ffffff"/><polygon points="515.7,650.7 518.4,649.8 516,654 513.4,654.3" fill="#e5fde5"/><polygon points="466,655.7 468.8,654.8 467.3,653 464.6,653.9" fill="#ffffff"/><polygon points="502.8,654.3 505.5,654.5 503.6,654.8 501,653.8" fill="#e2fce2"/><polygon points="488.6,652.8 491.3,652 489.7,650.5 486.9,651.1" fill="#fefffe"/><polygon points="475.9,654.7 478.7,653.8 477.1,652 474.4,653" fill="#ffffff"/><polygon points="495.7,653.1 498.4,653.2 496.7,652 494,651.7" fill="#f5fef5"/><polygon points="485.8,653.7 488.6,652.8 486.9,651.1 484.2,652" fill="#ffffff"/><polygon points="512.9,651.7 515.7,650.7 513.4,654.3 510.8,654.5" fill="#e8fde8"/><polygon points="473.1,655.6 475.9,654.7 474.4,653 471.6,653.9" fill="#ffffff"/><polygon points="483,654.6 485.8,653.7 484.2,652 481.4,652.9" fill="#ffffff"/><polygon points="493,653.6 495.7,653.1 494,651.7 491.3,652" fill="#fcfffc"/><polygon points="500.2,654.3 502.8,654.3 501,653.8 498.4,653.2" fill="#effeef"/><polygon points="470.3,656.5 473.1,655.6 471.6,653.9 468.8,654.8" fill="#ffffff"/><polygon points="510.2,652.6 512.9,651.7 510.8,654.5 508.1,654.6" fill="#ebfdeb"/><polygon points="480.2,655.6 483,654.6 481.4,652.9 478.7,653.8" fill="#ffffff"/><polygon points="467.5,657.4 470.3,656.5 468.8,654.8 466,655.7" fill="#ffffff"/><polygon points="490.2,654.4 493,653.6 491.3,652 488.6,652.8" fill="#ffffff"/><polygon points="477.4,656.5 480.2,655.6 478.7,653.8 475.9,654.7" fill="#ffffff"/><polygon points="507.5,653.5 510.2,652.6 508.1,654.6 505.5,654.5" fill="#f0fef0"/><polygon points="497.4,654.6 500.2,654.3 498.4,653.2 495.7,653.1" fill="#f9fef9"/><polygon points="487.4,655.4 490.2,654.4 488.6,652.8 485.8,653.7" fill="#fffefe"/><polygon points="474.6,657.4 477.4,656.5 475.9,654.7 473.1,655.6" fill="#ffffff"/><polygon points="504.7,654.4 507.5,653.5 505.5,654.5 502.8,654.3" fill="#f5fef5"/><polygon points="484.6,656.4 487.4,655.4 485.8,653.7 483,654.6" fill="#ffffff"/><polygon points="471.8,658.3 474.6,657.4 473.1,655.6 470.3,656.5" fill="#ffffff"/><polygon points="494.7,655.3 497.4,654.6 495.7,653.1 493,653.6" fill="#fefffe"/><polygon points="481.8,657.3 484.6,656.4 483,654.6 480.2,655.6" fill="#ffffff"/><polygon points="469,659.2 471.8,658.3 470.3,656.5 467.5,657.4" fill="#ffffff"/><polygon points="502,655.3 504.7,654.4 502.8,654.3 500.2,654.3" fill="#fafefa"/><polygon points="491.9,656.2 494.7,655.3 493,653.6 490.2,654.4" fill="#fffefe"/><polygon points="479,658.2 481.8,657.3 480.2,655.6 477.4,656.5" fill="#ffffff"/><polygon points="489.1,657.2 491.9,656.2 490.2,654.4 487.4,655.4" fill="#fffefe"/><polygon points="499.2,656.3 502,655.3 500.2,654.3 497.4,654.6" fill="#fdfffd"/><polygon points="476.2,659.1 479,658.2 477.4,656.5 474.6,657.4" fill="#ffffff"/><polygon points="486.3,658.2 489.1,657.2 487.4,655.4 484.6,656.4" fill="#fffefe"/><polygon points="473.4,660.1 476.2,659.1 474.6,657.4 471.8,658.3" fill="#ffffff"/><polygon points="496.4,657.2 499.2,656.3 497.4,654.6 494.7,655.3" fill="#ffffff"/><polygon points="483.5,659.1 486.3,658.2 484.6,656.4 481.8,657.3" fill="#ffffff"/><polygon points="470.5,661.1 473.4,660.1 471.8,658.3 469,659.2" fill="#ffffff"/><polygon points="493.6,658.1 496.4,657.2 494.7,655.3 491.9,656.2" fill="#ffffff"/><polygon points="480.6,660 483.5,659.1 481.8,657.3 479,658.2" fill="#ffffff"/><polygon points="490.8,659.1 493.6,658.1 491.9,656.2 489.1,657.2" fill="#ffffff"/><polygon points="477.8,661 480.6,660 479,658.2 476.2,659.1" fill="#ffffff"/><polygon points="487.9,660 490.8,659.1 489.1,657.2 486.3,658.2" fill="#ffffff"/><polygon points="474.9,661.9 477.8,661 476.2,659.1 473.4,660.1" fill="#ffffff"/><polygon points="485.1,661 487.9,660 486.3,658.2 483.5,659.1" fill="#ffffff"/><polygon points="472.1,662.9 474.9,661.9 473.4,660.1 470.5,661.1" fill="#ffffff"/><polygon points="482.3,661.9 485.1,661 483.5,659.1 480.6,660" fill="#ffffff"/><polygon points="479.4,662.9 482.3,661.9 480.6,660 477.8,661" fill="#ffffff"/><polygon points="476.5,663.9 479.4,662.9 477.8,661 474.9,661.9" fill="#ffffff"/><polygon points="473.6,664.8 476.5,663.9 474.9,661.9 472.1,662.9" fill="#ffffff"/></g>
<line x1="450.69" y1="657.1" x2="452.29" y2="657.1" stroke="#555" stroke-width="0.4"/>
<text x="450.09" y="658.25" font-size="3.3" text-anchor="end" fill="#444" stroke="#444" stroke-width="0.2">-30</text>
<line x1="450.33" y1="650.84" x2="451.93" y2="650.84" stroke="#555" stroke-width="0.4"/>
<text x="449.73" y="651.99" font-size="3.3" text-anchor="end" fill="#444" stroke="#444" stroke-width="0.2">-20</text>
<line x1="449.95" y1="644.39" x2="451.55" y2="644.39" stroke="#555" stroke-width="0.4"/>
<text x="449.35" y="645.54" font-size="3.3" text-anchor="end" fill="#444" stroke="#444" stroke-width="0.2">-10</text>
<line x1="449.57" y1="637.75" x2="451.17" y2="637.75" stroke="#555" stroke-width="0.4"/>
<text x="448.97" y="638.9" font-size="3.3" text-anchor="end" fill="#444" stroke="#444" stroke-width="0.2">0</text>
<line x1="449.17" y1="630.9" x2="450.77" y2="630.9" stroke="#555" stroke-width="0.4"/>
<text x="448.57" y="632.05" font-size="3.3" text-anchor="end" fill="#444" stroke="#444" stroke-width="0.2">10</text>
<line x1="448.76" y1="623.83" x2="450.36" y2="623.83" stroke="#555" stroke-width="0.4"/>
<text x="448.16" y="624.98" font-size="3.3" text-anchor="end" fill="#444" stroke="#444" stroke-width="0.2">20</text>
<line x1="448.33" y1="616.53" x2="449.93" y2="616.53" stroke="#555" stroke-width="0.4"/>
<text x="447.73" y="617.68" font-size="3.3" text-anchor="end" fill="#444" stroke="#444" stroke-width="0.2">30</text>
<line x1="466.14" y1="675.2" x2="464.64" y2="676.5" stroke="#555" stroke-width="0.4"/>
<text x="463.94" y="682.5" font-size="3.5" text-anchor="middle" fill="#333" stroke="#333" stroke-width="0.2">250</text>
<line x1="460.31" y1="667.58" x2="458.81" y2="668.88" stroke="#555" stroke-width="0.4"/>
<text x="458.11" y="674.88" font-size="3.5" text-anchor="middle" fill="#333" stroke="#333" stroke-width="0.2">500</text>
<line x1="454.23" y1="659.64" x2="452.73" y2="660.94" stroke="#555" stroke-width="0.4"/>
<text x="452.03" y="666.94" font-size="3.5" text-anchor="middle" fill="#333" stroke="#333" stroke-width="0.2">1000</text>
<line x1="487.4" y1="680.41" x2="487.1" y2="682.01" stroke="#555" stroke-width="0.4"/>
<text x="485.8" y="686.81" font-size="3.5" text-anchor="middle" fill="#333" stroke="#333" stroke-width="0.2">1</text>
<line x1="500.74" y1="675.73" x2="500.44" y2="677.33" stroke="#555" stroke-width="0.4"/>
<text x="499.14" y="682.13" font-size="3.5" text-anchor="middle" fill="#333" stroke="#333" stroke-width="0.2">5</text>
<line x1="513.81" y1="671.15" x2="513.51" y2="672.75" stroke="#555" stroke-width="0.4"/>
<text x="512.21" y="677.55" font-size="3.5" text-anchor="middle" fill="#333" stroke="#333" stroke-width="0.2">7.5</text>
<line x1="526.62" y1="666.65" x2="526.32" y2="668.25" stroke="#555" stroke-width="0.4"/>
<text x="525.02" y="673.05" font-size="3.5" text-anchor="middle" fill="#333" stroke="#333" stroke-width="0.2">10</text>
<text x="505.8" y="686.5" font-size="4.5" text-anchor="middle" fill="#222" transform="rotate(-15 505.8 686.5)" stroke="#222" stroke-width="0.2">Paclitaxel (nM)</text>
<text x="450.7" y="679.5" font-size="5.1" text-anchor="middle" fill="#222" transform="rotate(45 450.7 679.5)" stroke="#222" stroke-width="0.15">Pevonedistat (nM)</text></g></svg></body></html>
